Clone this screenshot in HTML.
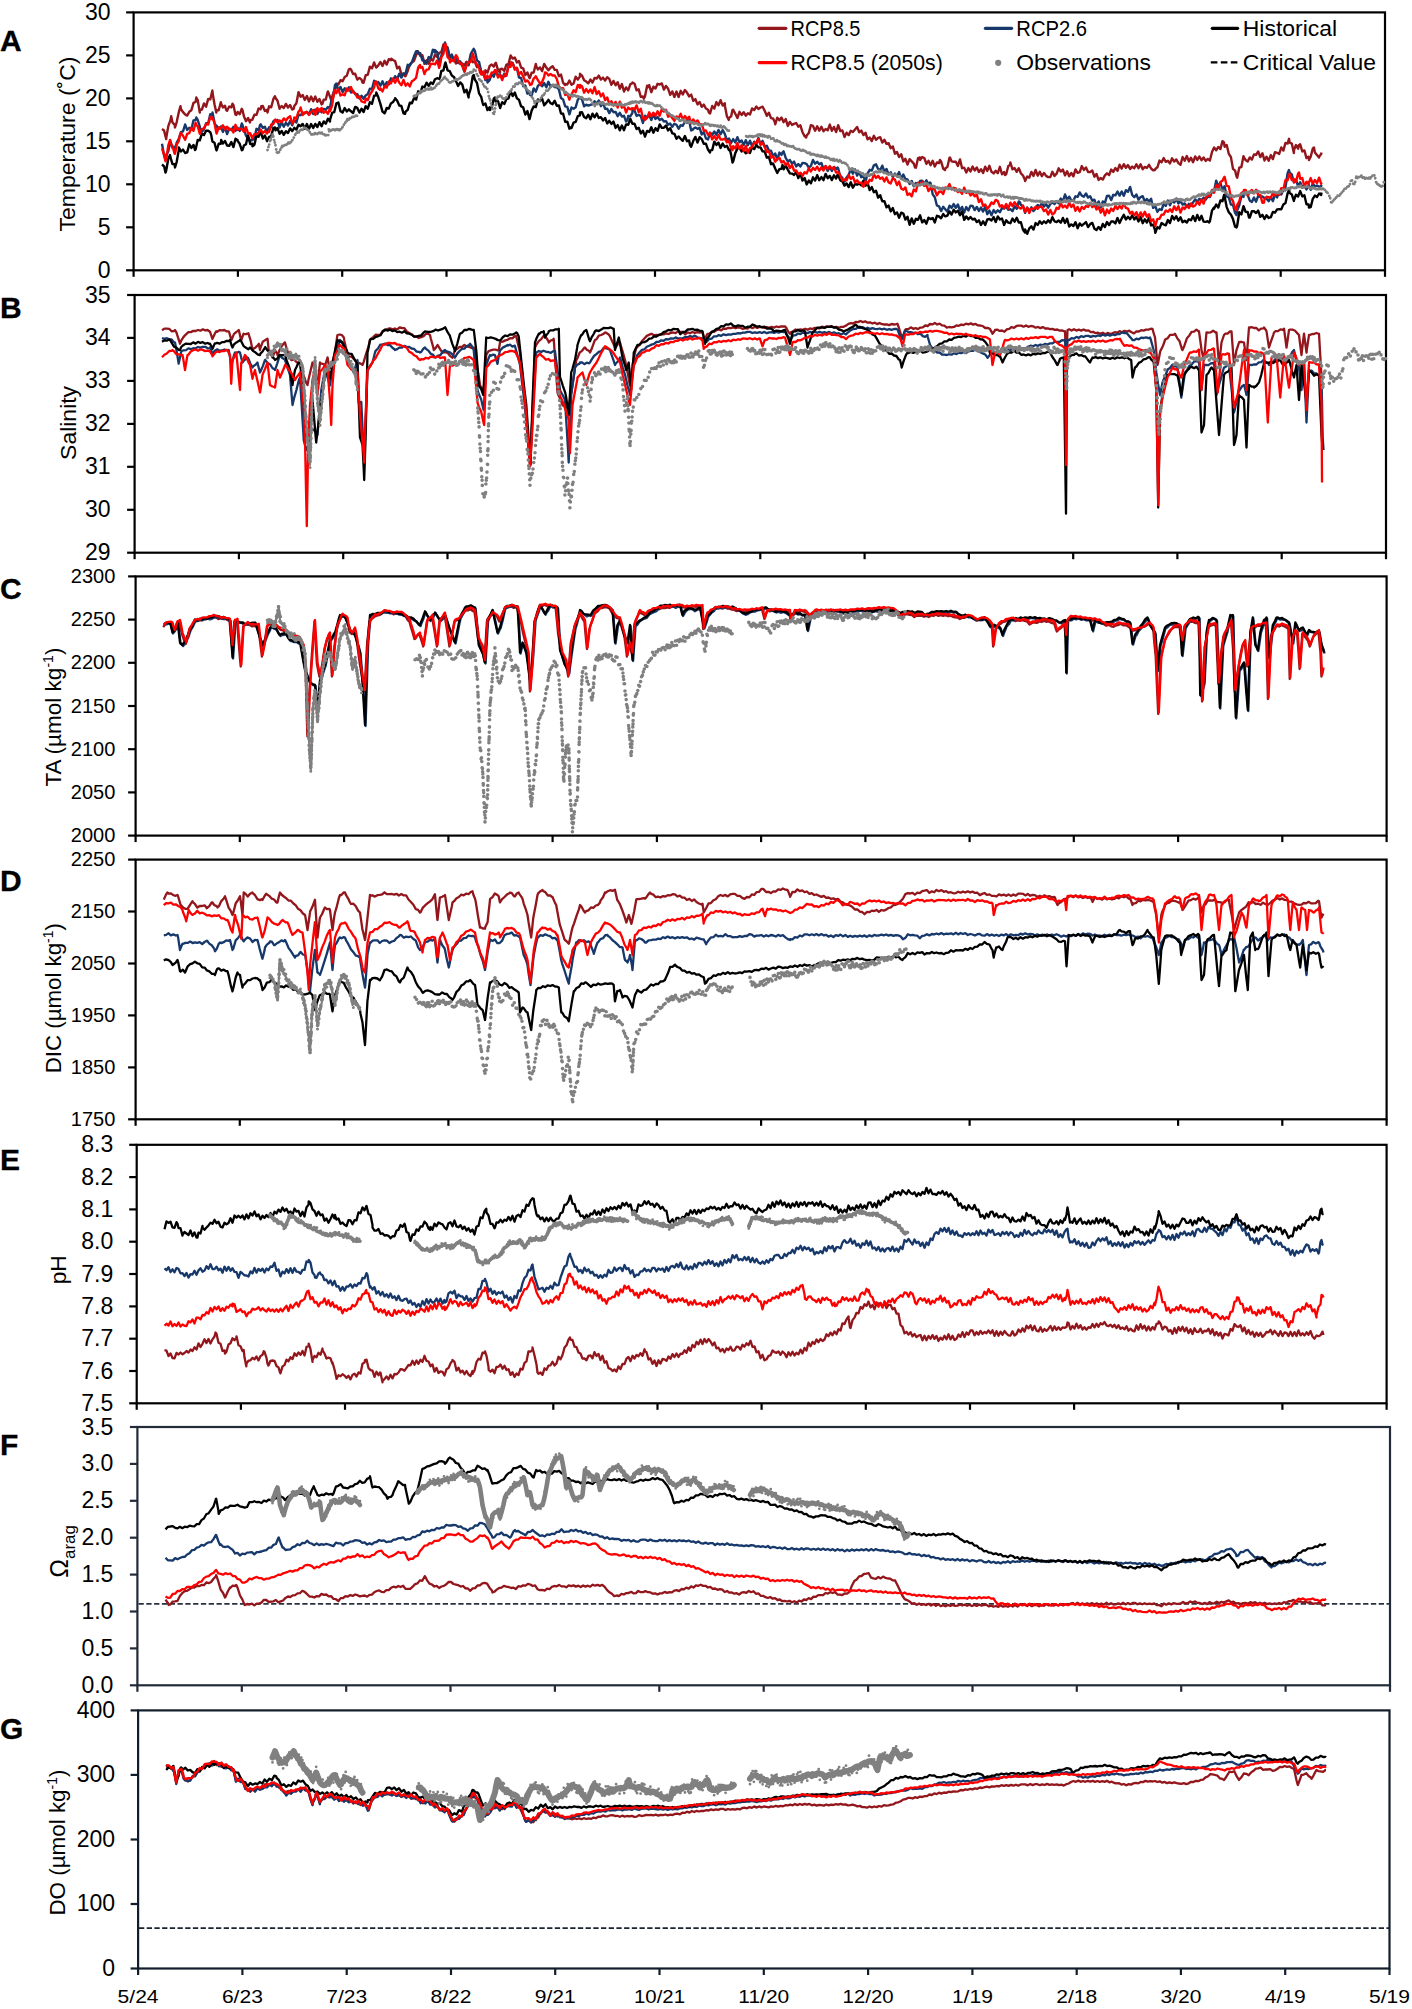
<!DOCTYPE html><html><head><meta charset="utf-8"><style>html,body{margin:0;padding:0;background:#fff;overflow:hidden}</style></head><body><svg width="1412" height="2009" viewBox="0 0 1412 2009" font-family='"Liberation Sans", sans-serif' style="display:block">
<rect width="1412" height="2009" fill="#fff"/>
<rect x="133.6" y="12.4" width="1251.4" height="257.9" fill="none" stroke="#000" stroke-width="2.2"/>
<line x1="126.1" y1="270.3" x2="133.6" y2="270.3" stroke="#000" stroke-width="2.2"/>
<text x="110.6" y="277.8" font-size="23" text-anchor="end" fill="#000">0</text>
<line x1="126.1" y1="227.3" x2="133.6" y2="227.3" stroke="#000" stroke-width="2.2"/>
<text x="110.6" y="234.8" font-size="23" text-anchor="end" fill="#000">5</text>
<line x1="126.1" y1="184.3" x2="133.6" y2="184.3" stroke="#000" stroke-width="2.2"/>
<text x="110.6" y="191.8" font-size="23" text-anchor="end" fill="#000">10</text>
<line x1="126.1" y1="141.3" x2="133.6" y2="141.3" stroke="#000" stroke-width="2.2"/>
<text x="110.6" y="148.8" font-size="23" text-anchor="end" fill="#000">15</text>
<line x1="126.1" y1="98.4" x2="133.6" y2="98.4" stroke="#000" stroke-width="2.2"/>
<text x="110.6" y="105.8" font-size="23" text-anchor="end" fill="#000">20</text>
<line x1="126.1" y1="55.4" x2="133.6" y2="55.4" stroke="#000" stroke-width="2.2"/>
<text x="110.6" y="62.9" font-size="23" text-anchor="end" fill="#000">25</text>
<line x1="126.1" y1="12.4" x2="133.6" y2="12.4" stroke="#000" stroke-width="2.2"/>
<text x="110.6" y="19.9" font-size="23" text-anchor="end" fill="#000">30</text>
<line x1="133.6" y1="270.3" x2="133.6" y2="276.8" stroke="#000" stroke-width="2.2"/>
<line x1="237.9" y1="270.3" x2="237.9" y2="276.8" stroke="#000" stroke-width="2.2"/>
<line x1="342.2" y1="270.3" x2="342.2" y2="276.8" stroke="#000" stroke-width="2.2"/>
<line x1="446.5" y1="270.3" x2="446.5" y2="276.8" stroke="#000" stroke-width="2.2"/>
<line x1="550.7" y1="270.3" x2="550.7" y2="276.8" stroke="#000" stroke-width="2.2"/>
<line x1="655.0" y1="270.3" x2="655.0" y2="276.8" stroke="#000" stroke-width="2.2"/>
<line x1="759.3" y1="270.3" x2="759.3" y2="276.8" stroke="#000" stroke-width="2.2"/>
<line x1="863.6" y1="270.3" x2="863.6" y2="276.8" stroke="#000" stroke-width="2.2"/>
<line x1="967.9" y1="270.3" x2="967.9" y2="276.8" stroke="#000" stroke-width="2.2"/>
<line x1="1072.2" y1="270.3" x2="1072.2" y2="276.8" stroke="#000" stroke-width="2.2"/>
<line x1="1176.4" y1="270.3" x2="1176.4" y2="276.8" stroke="#000" stroke-width="2.2"/>
<line x1="1280.7" y1="270.3" x2="1280.7" y2="276.8" stroke="#000" stroke-width="2.2"/>
<line x1="1385.0" y1="270.3" x2="1385.0" y2="276.8" stroke="#000" stroke-width="2.2"/>
<text x="0" y="50.9" font-size="30" font-weight="bold" fill="#000" stroke="#000" stroke-width="0.3">A</text>
<rect x="134.6" y="295.0" width="1251.4" height="257.7" fill="none" stroke="#000" stroke-width="2.2"/>
<line x1="127.1" y1="552.7" x2="134.6" y2="552.7" stroke="#000" stroke-width="2.2"/>
<text x="110.6" y="560.2" font-size="23" text-anchor="end" fill="#000">29</text>
<line x1="127.1" y1="509.8" x2="134.6" y2="509.8" stroke="#000" stroke-width="2.2"/>
<text x="110.6" y="517.2" font-size="23" text-anchor="end" fill="#000">30</text>
<line x1="127.1" y1="466.8" x2="134.6" y2="466.8" stroke="#000" stroke-width="2.2"/>
<text x="110.6" y="474.3" font-size="23" text-anchor="end" fill="#000">31</text>
<line x1="127.1" y1="423.9" x2="134.6" y2="423.9" stroke="#000" stroke-width="2.2"/>
<text x="110.6" y="431.3" font-size="23" text-anchor="end" fill="#000">32</text>
<line x1="127.1" y1="380.9" x2="134.6" y2="380.9" stroke="#000" stroke-width="2.2"/>
<text x="110.6" y="388.4" font-size="23" text-anchor="end" fill="#000">33</text>
<line x1="127.1" y1="337.9" x2="134.6" y2="337.9" stroke="#000" stroke-width="2.2"/>
<text x="110.6" y="345.4" font-size="23" text-anchor="end" fill="#000">34</text>
<line x1="127.1" y1="295.0" x2="134.6" y2="295.0" stroke="#000" stroke-width="2.2"/>
<text x="110.6" y="302.5" font-size="23" text-anchor="end" fill="#000">35</text>
<line x1="134.6" y1="552.7" x2="134.6" y2="559.2" stroke="#000" stroke-width="2.2"/>
<line x1="238.9" y1="552.7" x2="238.9" y2="559.2" stroke="#000" stroke-width="2.2"/>
<line x1="343.2" y1="552.7" x2="343.2" y2="559.2" stroke="#000" stroke-width="2.2"/>
<line x1="447.5" y1="552.7" x2="447.5" y2="559.2" stroke="#000" stroke-width="2.2"/>
<line x1="551.7" y1="552.7" x2="551.7" y2="559.2" stroke="#000" stroke-width="2.2"/>
<line x1="656.0" y1="552.7" x2="656.0" y2="559.2" stroke="#000" stroke-width="2.2"/>
<line x1="760.3" y1="552.7" x2="760.3" y2="559.2" stroke="#000" stroke-width="2.2"/>
<line x1="864.6" y1="552.7" x2="864.6" y2="559.2" stroke="#000" stroke-width="2.2"/>
<line x1="968.9" y1="552.7" x2="968.9" y2="559.2" stroke="#000" stroke-width="2.2"/>
<line x1="1073.2" y1="552.7" x2="1073.2" y2="559.2" stroke="#000" stroke-width="2.2"/>
<line x1="1177.4" y1="552.7" x2="1177.4" y2="559.2" stroke="#000" stroke-width="2.2"/>
<line x1="1281.7" y1="552.7" x2="1281.7" y2="559.2" stroke="#000" stroke-width="2.2"/>
<line x1="1386.0" y1="552.7" x2="1386.0" y2="559.2" stroke="#000" stroke-width="2.2"/>
<text x="0" y="317.9" font-size="30" font-weight="bold" fill="#000" stroke="#000" stroke-width="0.3">B</text>
<rect x="135.6" y="576.4" width="1251.0" height="259.2" fill="none" stroke="#000" stroke-width="2.2"/>
<line x1="128.1" y1="835.6" x2="135.6" y2="835.6" stroke="#000" stroke-width="2.2"/>
<text x="115.3" y="842.1" font-size="20" text-anchor="end" fill="#000">2000</text>
<line x1="128.1" y1="792.4" x2="135.6" y2="792.4" stroke="#000" stroke-width="2.2"/>
<text x="115.3" y="798.9" font-size="20" text-anchor="end" fill="#000">2050</text>
<line x1="128.1" y1="749.2" x2="135.6" y2="749.2" stroke="#000" stroke-width="2.2"/>
<text x="115.3" y="755.7" font-size="20" text-anchor="end" fill="#000">2100</text>
<line x1="128.1" y1="706.0" x2="135.6" y2="706.0" stroke="#000" stroke-width="2.2"/>
<text x="115.3" y="712.5" font-size="20" text-anchor="end" fill="#000">2150</text>
<line x1="128.1" y1="662.8" x2="135.6" y2="662.8" stroke="#000" stroke-width="2.2"/>
<text x="115.3" y="669.3" font-size="20" text-anchor="end" fill="#000">2200</text>
<line x1="128.1" y1="619.6" x2="135.6" y2="619.6" stroke="#000" stroke-width="2.2"/>
<text x="115.3" y="626.1" font-size="20" text-anchor="end" fill="#000">2250</text>
<line x1="128.1" y1="576.4" x2="135.6" y2="576.4" stroke="#000" stroke-width="2.2"/>
<text x="115.3" y="582.9" font-size="20" text-anchor="end" fill="#000">2300</text>
<line x1="135.6" y1="835.6" x2="135.6" y2="842.1" stroke="#000" stroke-width="2.2"/>
<line x1="239.8" y1="835.6" x2="239.8" y2="842.1" stroke="#000" stroke-width="2.2"/>
<line x1="344.1" y1="835.6" x2="344.1" y2="842.1" stroke="#000" stroke-width="2.2"/>
<line x1="448.4" y1="835.6" x2="448.4" y2="842.1" stroke="#000" stroke-width="2.2"/>
<line x1="552.6" y1="835.6" x2="552.6" y2="842.1" stroke="#000" stroke-width="2.2"/>
<line x1="656.9" y1="835.6" x2="656.9" y2="842.1" stroke="#000" stroke-width="2.2"/>
<line x1="761.1" y1="835.6" x2="761.1" y2="842.1" stroke="#000" stroke-width="2.2"/>
<line x1="865.4" y1="835.6" x2="865.4" y2="842.1" stroke="#000" stroke-width="2.2"/>
<line x1="969.6" y1="835.6" x2="969.6" y2="842.1" stroke="#000" stroke-width="2.2"/>
<line x1="1073.8" y1="835.6" x2="1073.8" y2="842.1" stroke="#000" stroke-width="2.2"/>
<line x1="1178.1" y1="835.6" x2="1178.1" y2="842.1" stroke="#000" stroke-width="2.2"/>
<line x1="1282.3" y1="835.6" x2="1282.3" y2="842.1" stroke="#000" stroke-width="2.2"/>
<line x1="1386.6" y1="835.6" x2="1386.6" y2="842.1" stroke="#000" stroke-width="2.2"/>
<text x="0" y="599.0" font-size="30" font-weight="bold" fill="#000" stroke="#000" stroke-width="0.3">C</text>
<rect x="135.6" y="859.6" width="1251.0" height="259.7" fill="none" stroke="#000" stroke-width="2.2"/>
<line x1="128.1" y1="1119.3" x2="135.6" y2="1119.3" stroke="#000" stroke-width="2.2"/>
<text x="115.3" y="1125.8" font-size="20" text-anchor="end" fill="#000">1750</text>
<line x1="128.1" y1="1067.4" x2="135.6" y2="1067.4" stroke="#000" stroke-width="2.2"/>
<text x="115.3" y="1073.9" font-size="20" text-anchor="end" fill="#000">1850</text>
<line x1="128.1" y1="1015.4" x2="135.6" y2="1015.4" stroke="#000" stroke-width="2.2"/>
<text x="115.3" y="1021.9" font-size="20" text-anchor="end" fill="#000">1950</text>
<line x1="128.1" y1="963.5" x2="135.6" y2="963.5" stroke="#000" stroke-width="2.2"/>
<text x="115.3" y="970.0" font-size="20" text-anchor="end" fill="#000">2050</text>
<line x1="128.1" y1="911.5" x2="135.6" y2="911.5" stroke="#000" stroke-width="2.2"/>
<text x="115.3" y="918.0" font-size="20" text-anchor="end" fill="#000">2150</text>
<line x1="128.1" y1="859.6" x2="135.6" y2="859.6" stroke="#000" stroke-width="2.2"/>
<text x="115.3" y="866.1" font-size="20" text-anchor="end" fill="#000">2250</text>
<line x1="135.6" y1="1119.3" x2="135.6" y2="1125.8" stroke="#000" stroke-width="2.2"/>
<line x1="239.8" y1="1119.3" x2="239.8" y2="1125.8" stroke="#000" stroke-width="2.2"/>
<line x1="344.1" y1="1119.3" x2="344.1" y2="1125.8" stroke="#000" stroke-width="2.2"/>
<line x1="448.4" y1="1119.3" x2="448.4" y2="1125.8" stroke="#000" stroke-width="2.2"/>
<line x1="552.6" y1="1119.3" x2="552.6" y2="1125.8" stroke="#000" stroke-width="2.2"/>
<line x1="656.9" y1="1119.3" x2="656.9" y2="1125.8" stroke="#000" stroke-width="2.2"/>
<line x1="761.1" y1="1119.3" x2="761.1" y2="1125.8" stroke="#000" stroke-width="2.2"/>
<line x1="865.4" y1="1119.3" x2="865.4" y2="1125.8" stroke="#000" stroke-width="2.2"/>
<line x1="969.6" y1="1119.3" x2="969.6" y2="1125.8" stroke="#000" stroke-width="2.2"/>
<line x1="1073.8" y1="1119.3" x2="1073.8" y2="1125.8" stroke="#000" stroke-width="2.2"/>
<line x1="1178.1" y1="1119.3" x2="1178.1" y2="1125.8" stroke="#000" stroke-width="2.2"/>
<line x1="1282.3" y1="1119.3" x2="1282.3" y2="1125.8" stroke="#000" stroke-width="2.2"/>
<line x1="1386.6" y1="1119.3" x2="1386.6" y2="1125.8" stroke="#000" stroke-width="2.2"/>
<text x="0" y="890.7" font-size="30" font-weight="bold" fill="#000" stroke="#000" stroke-width="0.3">D</text>
<rect x="136.7" y="1144.8" width="1249.9" height="258.5" fill="none" stroke="#000" stroke-width="2.2"/>
<line x1="129.2" y1="1403.3" x2="136.7" y2="1403.3" stroke="#000" stroke-width="2.2"/>
<text x="113.2" y="1410.8" font-size="23" text-anchor="end" fill="#000">7.5</text>
<line x1="129.2" y1="1371.0" x2="136.7" y2="1371.0" stroke="#000" stroke-width="2.2"/>
<text x="113.2" y="1378.5" font-size="23" text-anchor="end" fill="#000">7.6</text>
<line x1="129.2" y1="1338.7" x2="136.7" y2="1338.7" stroke="#000" stroke-width="2.2"/>
<text x="113.2" y="1346.1" font-size="23" text-anchor="end" fill="#000">7.7</text>
<line x1="129.2" y1="1306.4" x2="136.7" y2="1306.4" stroke="#000" stroke-width="2.2"/>
<text x="113.2" y="1313.8" font-size="23" text-anchor="end" fill="#000">7.8</text>
<line x1="129.2" y1="1274.0" x2="136.7" y2="1274.0" stroke="#000" stroke-width="2.2"/>
<text x="113.2" y="1281.5" font-size="23" text-anchor="end" fill="#000">7.9</text>
<line x1="129.2" y1="1241.7" x2="136.7" y2="1241.7" stroke="#000" stroke-width="2.2"/>
<text x="113.2" y="1249.2" font-size="23" text-anchor="end" fill="#000">8.0</text>
<line x1="129.2" y1="1209.4" x2="136.7" y2="1209.4" stroke="#000" stroke-width="2.2"/>
<text x="113.2" y="1216.9" font-size="23" text-anchor="end" fill="#000">8.1</text>
<line x1="129.2" y1="1177.1" x2="136.7" y2="1177.1" stroke="#000" stroke-width="2.2"/>
<text x="113.2" y="1184.6" font-size="23" text-anchor="end" fill="#000">8.2</text>
<line x1="129.2" y1="1144.8" x2="136.7" y2="1144.8" stroke="#000" stroke-width="2.2"/>
<text x="113.2" y="1152.3" font-size="23" text-anchor="end" fill="#000">8.3</text>
<line x1="136.7" y1="1403.3" x2="136.7" y2="1409.8" stroke="#000" stroke-width="2.2"/>
<line x1="240.9" y1="1403.3" x2="240.9" y2="1409.8" stroke="#000" stroke-width="2.2"/>
<line x1="345.0" y1="1403.3" x2="345.0" y2="1409.8" stroke="#000" stroke-width="2.2"/>
<line x1="449.2" y1="1403.3" x2="449.2" y2="1409.8" stroke="#000" stroke-width="2.2"/>
<line x1="553.3" y1="1403.3" x2="553.3" y2="1409.8" stroke="#000" stroke-width="2.2"/>
<line x1="657.5" y1="1403.3" x2="657.5" y2="1409.8" stroke="#000" stroke-width="2.2"/>
<line x1="761.6" y1="1403.3" x2="761.6" y2="1409.8" stroke="#000" stroke-width="2.2"/>
<line x1="865.8" y1="1403.3" x2="865.8" y2="1409.8" stroke="#000" stroke-width="2.2"/>
<line x1="970.0" y1="1403.3" x2="970.0" y2="1409.8" stroke="#000" stroke-width="2.2"/>
<line x1="1074.1" y1="1403.3" x2="1074.1" y2="1409.8" stroke="#000" stroke-width="2.2"/>
<line x1="1178.3" y1="1403.3" x2="1178.3" y2="1409.8" stroke="#000" stroke-width="2.2"/>
<line x1="1282.4" y1="1403.3" x2="1282.4" y2="1409.8" stroke="#000" stroke-width="2.2"/>
<line x1="1386.6" y1="1403.3" x2="1386.6" y2="1409.8" stroke="#000" stroke-width="2.2"/>
<text x="0" y="1169.9" font-size="30" font-weight="bold" fill="#000" stroke="#000" stroke-width="0.3">E</text>
<rect x="137.4" y="1427.0" width="1252.6" height="258.3" fill="none" stroke="#232b38" stroke-width="2.2"/>
<line x1="129.9" y1="1685.3" x2="137.4" y2="1685.3" stroke="#232b38" stroke-width="2.2"/>
<text x="113.4" y="1692.8" font-size="23" text-anchor="end" fill="#000">0.0</text>
<line x1="129.9" y1="1648.4" x2="137.4" y2="1648.4" stroke="#232b38" stroke-width="2.2"/>
<text x="113.4" y="1655.9" font-size="23" text-anchor="end" fill="#000">0.5</text>
<line x1="129.9" y1="1611.5" x2="137.4" y2="1611.5" stroke="#232b38" stroke-width="2.2"/>
<text x="113.4" y="1619.0" font-size="23" text-anchor="end" fill="#000">1.0</text>
<line x1="129.9" y1="1574.6" x2="137.4" y2="1574.6" stroke="#232b38" stroke-width="2.2"/>
<text x="113.4" y="1582.1" font-size="23" text-anchor="end" fill="#000">1.5</text>
<line x1="129.9" y1="1537.7" x2="137.4" y2="1537.7" stroke="#232b38" stroke-width="2.2"/>
<text x="113.4" y="1545.2" font-size="23" text-anchor="end" fill="#000">2.0</text>
<line x1="129.9" y1="1500.8" x2="137.4" y2="1500.8" stroke="#232b38" stroke-width="2.2"/>
<text x="113.4" y="1508.3" font-size="23" text-anchor="end" fill="#000">2.5</text>
<line x1="129.9" y1="1463.9" x2="137.4" y2="1463.9" stroke="#232b38" stroke-width="2.2"/>
<text x="113.4" y="1471.4" font-size="23" text-anchor="end" fill="#000">3.0</text>
<line x1="129.9" y1="1427.0" x2="137.4" y2="1427.0" stroke="#232b38" stroke-width="2.2"/>
<text x="113.4" y="1434.5" font-size="23" text-anchor="end" fill="#000">3.5</text>
<line x1="137.4" y1="1685.3" x2="137.4" y2="1691.8" stroke="#232b38" stroke-width="2.2"/>
<line x1="241.8" y1="1685.3" x2="241.8" y2="1691.8" stroke="#232b38" stroke-width="2.2"/>
<line x1="346.2" y1="1685.3" x2="346.2" y2="1691.8" stroke="#232b38" stroke-width="2.2"/>
<line x1="450.5" y1="1685.3" x2="450.5" y2="1691.8" stroke="#232b38" stroke-width="2.2"/>
<line x1="554.9" y1="1685.3" x2="554.9" y2="1691.8" stroke="#232b38" stroke-width="2.2"/>
<line x1="659.3" y1="1685.3" x2="659.3" y2="1691.8" stroke="#232b38" stroke-width="2.2"/>
<line x1="763.7" y1="1685.3" x2="763.7" y2="1691.8" stroke="#232b38" stroke-width="2.2"/>
<line x1="868.1" y1="1685.3" x2="868.1" y2="1691.8" stroke="#232b38" stroke-width="2.2"/>
<line x1="972.5" y1="1685.3" x2="972.5" y2="1691.8" stroke="#232b38" stroke-width="2.2"/>
<line x1="1076.8" y1="1685.3" x2="1076.8" y2="1691.8" stroke="#232b38" stroke-width="2.2"/>
<line x1="1181.2" y1="1685.3" x2="1181.2" y2="1691.8" stroke="#232b38" stroke-width="2.2"/>
<line x1="1285.6" y1="1685.3" x2="1285.6" y2="1691.8" stroke="#232b38" stroke-width="2.2"/>
<line x1="1390.0" y1="1685.3" x2="1390.0" y2="1691.8" stroke="#232b38" stroke-width="2.2"/>
<text x="0" y="1455.1" font-size="30" font-weight="bold" fill="#000" stroke="#000" stroke-width="0.3">F</text>
<rect x="138.1" y="1710.4" width="1251.4" height="258.1" fill="none" stroke="#121d2b" stroke-width="2.2"/>
<line x1="130.6" y1="1968.5" x2="138.1" y2="1968.5" stroke="#121d2b" stroke-width="2.2"/>
<text x="115.1" y="1976.0" font-size="23" text-anchor="end" fill="#000">0</text>
<line x1="130.6" y1="1904.0" x2="138.1" y2="1904.0" stroke="#121d2b" stroke-width="2.2"/>
<text x="115.1" y="1911.4" font-size="23" text-anchor="end" fill="#000">100</text>
<line x1="130.6" y1="1839.5" x2="138.1" y2="1839.5" stroke="#121d2b" stroke-width="2.2"/>
<text x="115.1" y="1846.9" font-size="23" text-anchor="end" fill="#000">200</text>
<line x1="130.6" y1="1774.9" x2="138.1" y2="1774.9" stroke="#121d2b" stroke-width="2.2"/>
<text x="115.1" y="1782.4" font-size="23" text-anchor="end" fill="#000">300</text>
<line x1="130.6" y1="1710.4" x2="138.1" y2="1710.4" stroke="#121d2b" stroke-width="2.2"/>
<text x="115.1" y="1717.9" font-size="23" text-anchor="end" fill="#000">400</text>
<line x1="138.1" y1="1968.5" x2="138.1" y2="1975.0" stroke="#121d2b" stroke-width="2.2"/>
<line x1="242.4" y1="1968.5" x2="242.4" y2="1975.0" stroke="#121d2b" stroke-width="2.2"/>
<line x1="346.7" y1="1968.5" x2="346.7" y2="1975.0" stroke="#121d2b" stroke-width="2.2"/>
<line x1="451.0" y1="1968.5" x2="451.0" y2="1975.0" stroke="#121d2b" stroke-width="2.2"/>
<line x1="555.2" y1="1968.5" x2="555.2" y2="1975.0" stroke="#121d2b" stroke-width="2.2"/>
<line x1="659.5" y1="1968.5" x2="659.5" y2="1975.0" stroke="#121d2b" stroke-width="2.2"/>
<line x1="763.8" y1="1968.5" x2="763.8" y2="1975.0" stroke="#121d2b" stroke-width="2.2"/>
<line x1="868.1" y1="1968.5" x2="868.1" y2="1975.0" stroke="#121d2b" stroke-width="2.2"/>
<line x1="972.4" y1="1968.5" x2="972.4" y2="1975.0" stroke="#121d2b" stroke-width="2.2"/>
<line x1="1076.7" y1="1968.5" x2="1076.7" y2="1975.0" stroke="#121d2b" stroke-width="2.2"/>
<line x1="1180.9" y1="1968.5" x2="1180.9" y2="1975.0" stroke="#121d2b" stroke-width="2.2"/>
<line x1="1285.2" y1="1968.5" x2="1285.2" y2="1975.0" stroke="#121d2b" stroke-width="2.2"/>
<line x1="1389.5" y1="1968.5" x2="1389.5" y2="1975.0" stroke="#121d2b" stroke-width="2.2"/>
<text x="0" y="1738.7" font-size="30" font-weight="bold" fill="#000" stroke="#000" stroke-width="0.3">G</text>
<text transform="translate(75.3,231.5) rotate(-90)" font-size="22.5" textLength="175" lengthAdjust="spacingAndGlyphs" fill="#000">Temperature (˚C)</text>
<text transform="translate(76.0,459.9) rotate(-90)" font-size="22.5" textLength="74" lengthAdjust="spacingAndGlyphs" fill="#000">Salinity</text>
<text transform="translate(60.5,786.6) rotate(-90)" font-size="22.5" textLength="139" lengthAdjust="spacingAndGlyphs" fill="#000">TA (µmol kg<tspan dy="-8" font-size="14">-1</tspan><tspan dy="8" font-size="22.5">)</tspan></text>
<text transform="translate(60.6,1073.2) rotate(-90)" font-size="22.5" textLength="150" lengthAdjust="spacingAndGlyphs" fill="#000">DIC (µmol kg<tspan dy="-8" font-size="14">-1</tspan><tspan dy="8" font-size="22.5">)</tspan></text>
<text transform="translate(65.7,1284.3) rotate(-90)" font-size="22.5" textLength="29" lengthAdjust="spacingAndGlyphs" fill="#000">pH</text>
<text transform="translate(68,1577.7) rotate(-90)" font-size="25" fill="#000">Ω<tspan dy="7" font-size="17">arag</tspan></text>
<text transform="translate(65.4,1915.6) rotate(-90)" font-size="22.5" textLength="146" lengthAdjust="spacingAndGlyphs" fill="#000">DO (µmol kg<tspan dy="-8" font-size="14">-1</tspan><tspan dy="8" font-size="22.5">)</tspan></text>
<text x="138.1" y="2003.3" font-size="18.5" text-anchor="middle" textLength="41" lengthAdjust="spacingAndGlyphs" fill="#000">5/24</text>
<text x="242.4" y="2003.3" font-size="18.5" text-anchor="middle" textLength="41" lengthAdjust="spacingAndGlyphs" fill="#000">6/23</text>
<text x="346.7" y="2003.3" font-size="18.5" text-anchor="middle" textLength="41" lengthAdjust="spacingAndGlyphs" fill="#000">7/23</text>
<text x="451.0" y="2003.3" font-size="18.5" text-anchor="middle" textLength="41" lengthAdjust="spacingAndGlyphs" fill="#000">8/22</text>
<text x="555.2" y="2003.3" font-size="18.5" text-anchor="middle" textLength="41" lengthAdjust="spacingAndGlyphs" fill="#000">9/21</text>
<text x="659.5" y="2003.3" font-size="18.5" text-anchor="middle" textLength="51" lengthAdjust="spacingAndGlyphs" fill="#000">10/21</text>
<text x="763.8" y="2003.3" font-size="18.5" text-anchor="middle" textLength="51" lengthAdjust="spacingAndGlyphs" fill="#000">11/20</text>
<text x="868.1" y="2003.3" font-size="18.5" text-anchor="middle" textLength="51" lengthAdjust="spacingAndGlyphs" fill="#000">12/20</text>
<text x="972.4" y="2003.3" font-size="18.5" text-anchor="middle" textLength="41" lengthAdjust="spacingAndGlyphs" fill="#000">1/19</text>
<text x="1076.7" y="2003.3" font-size="18.5" text-anchor="middle" textLength="41" lengthAdjust="spacingAndGlyphs" fill="#000">2/18</text>
<text x="1180.9" y="2003.3" font-size="18.5" text-anchor="middle" textLength="41" lengthAdjust="spacingAndGlyphs" fill="#000">3/20</text>
<text x="1285.2" y="2003.3" font-size="18.5" text-anchor="middle" textLength="41" lengthAdjust="spacingAndGlyphs" fill="#000">4/19</text>
<text x="1389.5" y="2003.3" font-size="18.5" text-anchor="middle" textLength="41" lengthAdjust="spacingAndGlyphs" fill="#000">5/19</text>
<line x1="759.2" y1="28.3" x2="785.8" y2="28.3" stroke="#92161b" stroke-width="3.2" stroke-linecap="round"/>
<line x1="759.2" y1="62.6" x2="785.8" y2="62.6" stroke="#ff0000" stroke-width="3.2" stroke-linecap="round"/>
<line x1="985.4" y1="28.3" x2="1011.6" y2="28.3" stroke="#16386a" stroke-width="3.2" stroke-linecap="round"/>
<circle cx="998.2" cy="62.8" r="3.1" fill="#808080"/>
<line x1="1212.3" y1="28.3" x2="1237.6" y2="28.3" stroke="#000" stroke-width="3.2" stroke-linecap="round"/>
<line x1="1210.8" y1="62.4" x2="1237.5" y2="62.4" stroke="#000" stroke-width="2.3" stroke-dasharray="6.6,3.4"/>
<text x="790.5" y="36.3" font-size="22.5" textLength="70" lengthAdjust="spacingAndGlyphs" fill="#000">RCP8.5</text>
<text x="790.5" y="70.3" font-size="22.5" textLength="152.2" lengthAdjust="spacingAndGlyphs" fill="#000">RCP8.5 (2050s)</text>
<text x="1016.3" y="36.3" font-size="22.5" textLength="70.8" lengthAdjust="spacingAndGlyphs" fill="#000">RCP2.6</text>
<text x="1016.3" y="70.3" font-size="22.5" textLength="134.6" lengthAdjust="spacingAndGlyphs" fill="#000">Observations</text>
<text x="1242.8" y="36.3" font-size="22.5" textLength="94.4" lengthAdjust="spacingAndGlyphs" fill="#000">Historical</text>
<text x="1242.8" y="70.3" font-size="22.5" textLength="133.1" lengthAdjust="spacingAndGlyphs" fill="#000">Critical Value</text>
<path d="M162.0 129.1l2.1 1.5l2.1 8.5l0.1-1.6l2-11.4l2.1-5.7l0.8-4.2l1.3 6.4l2.1 2l0.4 2.9l1.7-5.4l2.1-9.9l1.7-6l0.4 2.8l2.1 3.2l2.1 2.2l2.1 1.2l2.1-3.9l2.1-1.5l2.1-7.4l2.1-0.9l0.7-4.4l1.4 2.5l2.1 12.6l0.2-2.6l1.9-0.5l2.1-6l2.1 3.2l2.1-7.8l2.1 0.5l2.1-8.9l0.1 2l2 11.8l1.8 8.2l0.3-2.3l2.1 0l2.1-8l0.4 1.5l1.7 3.8l2.1-1.7l1.2 4.2l0.9 0.7l2.1-4.2l2.1 0.9l1.2-3.7l0.9 1.2l2.1 9.8l0.8 0.3l1.3-3.1l2.1 2.3l2.1-5.4l0.7 1.2l1.4 6.2l2.1 5l2.1-3.2l1.9 4.5l0.2-2.4l2.1-0.4l2.1-4.9l2.1-0l2.1-6.3l2.1 0.8l0.6-3l1.5-0.3l2.1 5l2.1-1.1l0.5 2.6l1.6-6.2l2.1 1l2.1-8.1l1.7-3l0.4 1.5l2.1 3l2.1 8.1l0.4-1.3l1.7-1.4l2.1 1.9l2.1-4.1l2.1 3.7l2.1-2.5l2.1 4.5l1.6-0.8l0.5-2.9l2.1-2.7l2.1-11l0.2 0.3l1.9 4.3l2.1-1.7l2.1 4.8l2.1-3.9l2.1 5.5l2.1-5l2.1 4.8l2.1-4.7l2.1 5.2l2.1-2.7l2.1 5.3l0.9-0.7l1.2-4l2.1-0.2l1.7-7l0.4-1.1l2.1 5.4l2.1 5.4l0.4-2.2l1.7-6.5l2.1-8.3l1.2-1.5l0.9 0.9l2.1-4.4l2.1 1l2.1-4.2l2.1-1.3l2.1-6.4l1.1-0.5l1 0.7l2.1 4.5l2.1-0.2l2.1 5.9l2.1-1.8l2.1 1.7l1 2.9l1.1 0.3l2.1-7.7l2.1-0.4l2.1-8.1l2.1 1.7l2.1-5.8l2.1 5.1l2.1-2.2l2.1-3.4l2.1 4l2.1-5.2l2.1 3.8l2.1-5.4l2.1 1l0.4-1.5l1.7 1.3l2.1 1.1l2.1 7.3l2.1-1.6l2.1 7.6l2.1-0.7l1.5 2.5l0.6-0.1l2.1-5.1l2.1-6.7l2.1-2l2.1-1.4l2.1-5.9l1.4-3.8l0.7 0.3l2.1 4.6l2.1-0.8l2.1 8.6l0.5-1.4l1.6-2.2l2.1 3.4l2.1-4.9l2.1 1.9l2.1-6l2.1 2.2l2.1-4l2.1-0.7l2.1-7.7l1.6 0.5l0.5 3.6l2.1-0.2l2.1 9.7l2.1-0.8l2.1 1.5l2.1 4.7l2.1-3l2.1 3.5l2.1-0.6l2.1 2.1l2.1-3.8l2.1 3.6l2.1-7l2.1 3.9l2.1-0.5l2.1 5.5l2.1-1.7l2.1 5.8l2.1 3.5l1.7-1l0.4-3.5l2.1 2.3l2.1-6.5l2.1-1.5l2.1 2.1l1.2-3l0.9-0.9l2.1 7.4l2 2.3l0.1-3.3l2.1-0.4l2.1 2.1l2.1-6.2l2.1-0.6l2.1-8.6l0.6 0.8l1.5 2.3l2.1-1.1l2.1 5l2.1-1.4l2.1 6.5l2.1 0.7l2.1 6.8l2.1-2.6l2.1 5.7l0.5-0.7l1.6-4.7l2.1-0.3l2.1-8.5l0.5 2.2l1.6 3.2l2.1-2l2.1 3.7l2.1-7.2l2.1 3.6l2.1 2.8l2.1-2.6l2.1-1.5l2.1 3.6l2.1 0.1l2.1 6.3l2.1-1.6l2.1 8.1l1.9 2.3l0.2-1.1l2.1 0.6l2.1-4l2.1 4.3l2.1-1.4l2.1-6.7l2.1 2.9l2.1-3l0.1-2.8l2 1.8l2.1 4.7l2.1 1.3l2.1 1.7l2.1-3.8l2.1 3.1l2.1-4.7l2.1 0.6l2.1-2.9l2.1 4l2.1-2l2.1 3l2.1-3.4l2.1 1.7l2.1 5.9l2.1-3.9l2.1 4.4l2.1-3l2.1 6.4l2.1-4.7l2.1 7.5l2.1-4.1l2.1 2.9l2.1-6l2.1-1.2l0.1-0.6l2 1.2l2.1 6.6l2.1-1l2.1 7.6l2.1-0.4l0.9 2.2l1.2-2.4l2.1-10.6l0.4 1.8l1.7-2.4l2.1 7.1l2.1-5.5l2.1 1.8l2.1-4.7l2.1 0.7l2.1-1.1l2.1 6.2l2.1-3.7l2.1 2.8l2.1 6.2l2.1-3.5l2.1 5.6l2.1-5.5l2.1 5.5l2.1-6.2l2.1 3.7l2.1-4.5l2.1 2.6l2.1 3.8l2.1-1.8l2.1 6.2l2.1-1.7l2.1 5.3l2.1-2.5l2.1 4.9l2.1-2.2l2.1 3.9l2.1 1.2l0.8 2.8l1.3 0.9l2.1-7.4l2.1 2.6l2.1-6.5l2.1 3.2l2.1-5.1l2.1 5.4l2.1-2.4l0.2 3l1.9 10l1.9 3.8l0.2-2l2.1-1.6l1.4-6.4l0.7-0.3l2.1 4.1l2.1 4.2l2.1-6.2l2.1 3.1l2.1-2.7l2.1 3.5l2.1-2.4l2.1 1.1l2.1-5.9l2.1 1.6l2.1-3.6l2.1 2.5l2.1-1.5l2.1-0.8l2.1 4l2.1 5.1l2.1-3l2.1 5.3l2.1 0.4l1.9 4l0.2 1.9l2.1-6.7l2.1 2.6l2.1-2.7l2.1 4.6l2.1-3.1l2.1 6.8l2.1-4l2.1 3l2.1-1l2.1-0.9l2.1 3.7l2.1-1.4l2.1 6.9l2.1 3.9l1.6 1.4l0.5-2l2.1-2.5l2.1-7.9l2.1 0.8l2.1 4.8l2.1-4.4l2.1 4.3l2.1-3.9l2.1 4.6l2.1-2.3l2.1 1.3l2.1-5.7l2.1 6.2l2.1-3.9l2.1 5.2l2.1-6.9l2.1 5.8l2.1-0.5l2.1 6.5l2.1-4.3l2.1 2.4l2.1-4.3l2.1 1.3l2.1-2.6l2.1-2.6l2.1 5.4l2.1-1.7l2.1 4.5l2.1-2.4l2.1 6.6l2.1-1.7l2.1 3.4l2.1-5.2l2.1 4l2.1-2l2.1-0.6l2.1 5.4l2.1-2.8l2.1 4.1l2.1-0.7l2.1 5l2.1-1.8l2.1 7.3l2.1-1.7l2.1 5.1l2.1-2.9l2.1 7.2l2.1-2.6l2.1 5.7l2.1-5.3l2.1 2.2l2.1 2.2l1.2 3.9l0.9 0.2l2.1-9.5l2-0.7l0.1 2.5l2.1-2.9l2.1 0.9l2.1 5.9l2.1-3.1l2.1 4.4l2.1-4.4l2.1 5.7l2.1-4l2.1 0.5l1-3l1.1 1.4l2.1 7.3l1.8 1.3l0.3-1.5l2.1-1.6l2.1-9.1l0.5-0.3l1.6 3.9l2.1 0.4l2.1-0.1l2.1 4.2l2.1-6.5l2.1 8.8l2.1-0.6l2.1 5l2.1-4.5l2.1 3.3l2.1-4.8l2.1 3.9l2.1-3.1l2.1 4.5l2.1-2.7l2.1 3.8l2.1-6.3l2.1 4.2l2.1-5.1l2.1 6l2.1 1.6l2.1-2.6l2.1 2.4l2.1-6.4l2.1 7.5l2.1-2.3l0.9 3l1.2-0.8l2.1-8.2l1.7-1l0.4-2.5l2.1 6.8l2.1-1.2l2.1 3.7l2.1-3.6l2.1 5.1l2.1 2.2l2 4.5l0.1 1.1l2.1-4.6l2.1 1.1l2.1-5.7l2.1 4l2.1-5.9l2.1 5.7l2.1-4l2.1 4.5l2.1-3.3l2.1 3l2.1 1.2l2.1-0l2.1-5.3l2.1 4.1l2.1-2.2l2.1-5.4l2.1 3.3l2.1-2l2.1 5.8l2.1-4.2l2.1 5l2.1-3.2l2.1 3.3l2.1-6.9l2.1 3.4l2.1-0.7l2.1-6l2.1 3.8l2.1-2.5l2.1 4.6l2.1 0.1l2.1-1.5l2.1 6.1l2.1-2.8l2.1 6l2.1-1.9l2.1 1.6l2.1-4.2l2.1-2.1l2.1 1.8l2.1-5.6l2.1 2.4l2.1-3.9l2.1 2.9l2.1-6.2l2.1 3.9l2.1-4.4l2.1 3.6l2.1-2.7l2.1 3.8l2.1-2.3l2.1 1.6l2.1-3.9l2.1 3.9l2.1-4l2.1 5.1l2.1-2.4l2.1 1l2.1-3.1l2.1 3.7l2.1 1.9l1.8-0.4l0.3-1l2.1-1.7l2.1-6.7l2.1 1.7l2.1-4.2l2.1 3.7l2.1-1l2.1 2.6l2.1-5.1l2.1 3.3l2.1-2.2l2.1 3.7l2.1 1.6l2.1-7.7l2.1 3.7l2.1-4.7l2.1 5.4l2.1-3.7l2.1 4.5l2.1-5.7l2.1 3.4l2.1-3.4l2.1 3.7l2.1-2.8l2.1 3.6l2.1-2.1l2.1 1.6l2.1-8.5l2.1-4.5l2.1 2.8l2.1-3.4l2.1 2.2l2.1-8l1.5 1.4l0.6 4.2l2.1-1.7l2.1 8.8l2.1 3.2l2.1 11.9l2.1 1.7l1.4 5.7l0.7 1.4l2.1-10l2.1-0.7l2.1-10.9l0.5 1.4l1.6 2.5l2.1 1.5l2.1-4.1l2.1 2.2l2.1-5.2l2.1 0.4l2.1-3.4l2.1 5.7l2.1-3.9l2.1 7.3l2.1-3.8l2.1 4.1l2.1-5.7l2.1 4l2.1-6.9l2.1 0.6l2.1 1.1l2.1-6.5l2.1 3.2l2.1-7.7l2.1 0.7l1.4-4.8l0.7 3.8l2.1 1l2.1 9.4l0.1-3l2-5l2.1 3.7l0.9-3.7l1.2-0.7l2.1 7.1l2.1-1l2.1 7.7l2.1-1.4l0.4 3.3l1.7-3.2l2.1-8.3l1.2-1l0.9 4.9l2.1 2.7l2 2.4l0.1-0.8l2.1-2.6l0.3-1.6" fill="none" stroke="#92161b" stroke-width="2.4" stroke-linejoin="round"/>
<path d="M162.0 143.8l2.1 11.7l1.4 4.5l0.7-5.1l2.1-3.6l1.7-8.8l0.4-1.5l2.1 7l2.1-1.1l0.4 3.1l1.7-7.5l2.1-3.6l2.1-6.8l2.1-0.7l2.1-6.9l2.1 5.5l2.1-2.2l1.9 1l0.2 0.5l2.1-8.9l2.1-0.4l0.7-2.5l1.4 2.3l2.1 6.8l0.2 3.4l1.9 1.7l2.1-2.3l2.1-6.1l2.1-0.3l2.1-8.9l2.1 1.6l0.1-3.2l2 10.1l1.8 4.9l0.3-1.9l2.1 3.3l2.1-2.4l2.1 5.4l2.1-4.6l2.1 6.8l2.1-5.6l2.1 1.6l2.1-3.3l2.1 4l2.1-3l2.1 3.1l2.1-7.4l0.7 1.5l1.4 4.6l2.1 6.1l2.1 3.2l2.1 2.5l2.1-3l0.2 1.6l1.9-1.4l2.1-9.8l2.1 1.5l1.4-5.3l0.7-0.7l2.1 3.6l2.1-1.2l2.1 6.2l0.5-2.9l1.6-2.7l2.1-0l2.1-5.8l1.7-1.5l0.4 1l2.1-1.1l2.1 7.7l2.1-5.5l2.1 4.7l2.1-4.1l2.1 2.9l2.1-4.6l2.1 4.3l2.1-5.4l2.1 2.6l2.1-7.9l2.1 0.6l2.1-2.4l2.1 0.4l2.1-1.5l2.1 2.7l2.1-5.2l2.1 4.9l2.1-4.5l2.1 4.4l2.1-4.5l2.1 2.7l2.1-3.2l2.1 0.7l2.1-2.7l2.1 1.5l0-1l2.1-10.6l2.1-6.5l0.8-5.4l1.3-1.4l2.1 6.7l2.1-3.3l2.1 5.1l2.1-3.8l2.1 2.7l2.1-3.7l2.1 5.3l2.1-1.8l2.1 3.2l2.1 0.1l2.1 4.4l2.1-2.7l2.1 2.9l2.1-3.3l2.1-1.4l2.1-5.4l2.1 0.5l2.1-8.4l0.9 0.5l1.2 2.7l2.1-1.8l2.1 3.6l2.1-4.4l2.1 5.4l2.1-4.5l2.1 2.1l2.1-6l2.1 2.3l2.1-4.4l2.1 2.8l2.1-5.3l2.1 3.9l2.1-4.2l2.1 0.1l2.1-8.7l2.1 0.8l2.1-3.4l2.1-5.9l2.1-5l1.4-0l0.7 2.3l2.1-0.5l2.1 7.2l2.1 0.6l0.5 1.6l1.6 1.2l2.1-6.6l2.1 0.7l2.1-8.2l2.1 2.9l0-2.5l2.1 2l2.1 10.6l0.8-0.1l1.3-6.9l2.1-4.5l1.6-8.6l0.5 3.2l2.1 1.7l2.1 10l2.1-3l2.1 5.8l2.1-3.8l2.1 6.6l2.1-1.8l2.1 4.7l2.1 5.8l0.6-1.7l1.5-6.4l2.1 0.8l2.1-10.4l2.1-3.7l0.9-1.5l1.2 2.3l2.1 9.5l2.1 1.4l2.1 10.1l2.1 0.8l2.1 7.2l2.1-0.8l0 3.2l2.1-2.3l2.1-6.1l2.1 2.6l2.1-6.1l2.1 4.6l2.1-0.7l2.1 3.7l2.1-4.7l0.7 2.8l1.4-1.5l2.1-9l2.1-0.9l0.6-2.4l1.5 0.5l2.1 5.7l2.1-0.4l2.1 9.2l2.1 0.5l2.1 8.2l2.1-0.7l2.1 8.1l2.1-1.7l0.5 3.1l1.6 0.7l2.1-7.3l2.1 3.3l2.1-5.9l2.1-1.8l2.1 2.3l2.1-3.3l2.1 4.3l2.1-5.5l2.1 4.8l2.1-1.7l2.1 2.2l2.1 0.1l2.1 2.2l2.1 8.7l2.1 1.4l2.1 6.8l2.1 0.6l2.1 7.4l0.6-1.8l1.5-5l2.1 1.2l2.1-1.4l2.1-7.5l2.1-2.3l2.1 1.9l2.1 6.9l2.1-1.6l2.1 0.9l2.1-0.8l2.1-0.4l2.1-3.2l2.1 2.6l2.1-3.3l2.1 5.7l2.1-3.5l2.1 6.2l2.1-0.1l2.1 4.3l2.1-4l2.1 3.1l2.1-0.3l2.1 4.3l2.1-3.4l2.1 3.7l2.1-0.7l2.1 5.7l1.4-1.5l0.7-4.1l2.1 0.5l2.1-3.6l0.1-2.8l2 0.4l2.1 5.5l2.1-1.1l2.1 1.4l2.1 6.7l2.1-7.2l2.1 1.7l2.1-2.3l2.1 4.9l2.1-5.6l2.1 4.5l2.1-1.9l2.1 3.1l2.1-1.4l2.1 2.8l2.1-0.4l2.1 3.7l2.1-1.2l2.1 3.2l2.1-3.1l2.1 1.1l2.1 4l2.1-3.7l2.1 0.7l2.1-4.3l2.1 1.2l0.5-2.7l1.6 0.7l2.1 9.8l1.3-0.5l0.8-1.2l2.1-1.3l2.1 1.3l2.1-0.9l2.1 6.5l2.1-2.4l2.1 6.5l2.1 1l2.1-6.9l2.1 2.2l2.1-3.3l2.1 3.3l2.1-4.9l2.1 4.4l2.1-4.2l2.1 3.7l2.1 6.3l2.1-1.6l2.1 4.3l2.1-3.7l2.1 3.3l2.1-5.2l2.1 5.1l2.1-1.9l2.1 4.6l2.1-4.8l2.1 5l2.1-4.5l2.1 5.5l2.1-4.5l2.1 2.6l2.1-6.5l2.1 6.4l2.1-3.4l2.1 5.7l2.1-0.7l2.1 4.8l2.1 0l2.1 5.7l2.1-2.9l2.1 6.2l2.1-7l2.1 2.3l1-2.4l1.1-1.2l2.1 6.5l2.1 3.7l2.1-1.5l2.1 3.7l2.1-2.1l2.1 4.9l2.1-2.4l2.1 2.4l2.1-3.6l2.1 0.2l2.1 1l2.1 3.5l2.1-1.8l2.1-5.8l2.1 3.7l2.1-1.9l2.1 2.5l2.1-1.4l2.1 6.3l2.1-2.9l2.1 4.7l2.1-4.1l2.1 4l2.1-4l2.1 2.2l1.4-1.6l0.7 1l2.1 8l2.1 1.1l0.1 2.4l2 1.6l2.1-4.2l2.1-2.6l2.1-5.8l2.1 4.7l2.1-4.3l2.1 6.2l2.1-3.4l2.1 5l2.1-1.1l1.6 3.9l0.5 2.1l2.1-8.7l2.1-3.6l2.1 0.8l2.1-5.3l2.1-1l2.1 4.6l2.1 1.1l2.1-4.3l2.1 6l2.1-2.7l2.1 5.5l2.1-2.3l2.1 4.9l2.1-3.5l2.1 2.6l2.1-4.2l2.1 6.6l2.1-4.1l2.1 4.5l2.1 0.5l2.1 4.5l2.1-3l2.1 5.3l2.1-3.4l2.1 2.3l2.1-4.2l2.1-0.4l2.1 3.6l2.1-4l2.1 4.5l1.5-2.2l0.6 0.6l2.1 11.3l2.1 2.8l2.1 8.3l2.1 0.8l2.1 4.8l2.1-4.3l2.1 2.5l2.1 2.4l2.1-6l2.1 2.2l2.1-3.8l2.1 3.7l2.1-3.3l2.1 6.2l2.1-3.8l2.1 5.7l2.1-5.6l2.1 3.5l2.1-4.8l2.1 0.2l2.1 4.2l2.1-3.2l2.1 4l2.1-3.3l2.1 4l2.1-4.8l2.1 7.4l2.1-3.6l2.1 4.6l2.1-5.1l2.1 2.7l2.1-2.5l2.1 1.9l2.1-4.2l2.1 0.7l2.1-2.2l2.1 3.4l2.1-0.7l2.1 2l2.1-4.9l2.1 2.5l2.1-7.4l1.2 1.1l0.9 2.5l2.1 1l2.1 6.8l2.1-5.3l2.1 3.8l2.1-4.1l2.1 3.9l2.1-2.7l2.1-3.4l2.1 1.3l2.1-3.2l2.1 3.5l2.1-2.6l2.1 3.7l2.1-3.6l2.1-1.7l2.1 1.7l2.1-2.9l2.1 2.1l2.1-4.7l2.1 2.8l2.1-6.9l2.1 5.1l2.1-2.9l2.1 3.6l2.1 0.4l2.1-4.4l2.1 0.6l2.1-4.5l2.1 3.2l2.1 1.1l2.1-3.3l2.1 4.2l2.1-1.3l2.1 4.4l2.1-1l2.1 6.3l2.1-4.6l2.1 6l2.1-6l2.1 1.4l2.1-6.9l2.1-0.2l2.1 4.4l2.1-5.3l2.1 0.6l2.1-3.9l2.1 4.1l2.1-4l2.1 4.1l2.1-5.5l2.1 1.5l2.1-4.8l2.1 8.1l2.1 2.2l2.1-2.8l2.1 5.3l2.1-2.6l2.1-0.9l2.1 5.1l2.1-2.3l2.1 2.6l2.1-2.8l2.1 9.1l2.1-1.7l2.1 5.7l2.1-2.8l2.1 0.9l2.1-6.3l2.1 2.1l2.1-5.3l2.1 4.8l2.1-4.8l2.1 2.1l2.1-4l2.1 5l2.1-2.6l2.1 3.6l2.1-1.2l2.1 3.7l2.1-3.3l2.1 2.1l2.1-3.5l2.1-3.1l2.1 2.6l2.1-3.2l2.1 1.8l2.1-2.9l2.1 2.1l2.1-3.2l2.1 0.6l2.1-5.3l2.1-1l2.1-10.2l2.1 5.4l2.1-3.2l2.1 7.2l2.1-3.8l2.1 10.2l2.1 1l2.1 7.1l2.1 0.4l2.1 8l1.4 2.1l0.7-4.6l2.1-5.2l2.1-9l2.1 0.8l0.5-4.5l1.6-0.8l2.1 3.4l2.1 5.6l2.1 1.2l2.1-4.3l2.1 4.1l2.1-5.9l2.1 1l2.1-0.3l2.1 1.4l2.1 0.9l2.1 2.4l2.1-4.3l2.1 4.2l2.1-6.8l2.1 3.1l2.1-5.8l2.1 2.9l2.1-4.5l0.6 0l1.5-2.8l2.1-14l1.4-3.2l0.7 2.8l2.1 1.7l2.1 7.7l2.1-2.6l2.1 6.8l2.1-4.1l2.1 5.5l2.1-3.2l2.1 4.9l2.1-4.8l2.1 5.1l2.1-6.3l2.1 2.9l2.1-0.9l2.1 1.3l2.1-0.6l0.3-1.2" fill="none" stroke="#16386a" stroke-width="2.4" stroke-linejoin="round"/>
<path d="M162.0 164.5l2.1 1.8l1.4 6.2l0.7-2l2.1-11.7l1.7-3.8l0.4 2.2l2.1 6.9l2.1 0.1l0.4 3.3l1.7-5.7l2.1-11.8l0-2.6l2.1 4.1l2.1-2l2.1 3.5l2.1-0.6l2.1-8.1l2.1 3.6l2.1-3l1.5 5.1l0.6-0.6l2.1-9.4l2.1 0.3l2.1-6.6l2.1 1.3l2.1-4.2l2.1-0.1l2.1 1.5l0.9 2.8l1.2 6.4l2.1 1.3l1.8 7.3l0.3 0.4l2.1-6.6l2.1-0l0.4-3.8l1.7 3.6l2.1-2.6l2.1 4.5l2.1 0.4l2.1-3.9l2.1 5.1l2.1-8.4l2 1.3l0.1 0.9l2.1 2.9l2.1 6.4l0.7-0.2l1.4-4.4l2.1-1.4l1.5-6.7l0.6-2.1l2.1 8.6l2.1-0.4l0.2 2.7l1.9-1.5l2.1-9l2.1 1l1.4-4.3l0.7-0.5l2.1 6.5l2.1-3.1l2.1 5.8l0.5-1.2l1.6-3.2l2.1-0.7l2.1-8l1.7-0.6l0.4 2.9l2.1-2.3l2.1 5.7l2.1-2.8l2.1 3.8l2.1-3.6l2.1 1.8l2.1-4.6l2.1 2.7l2.1-3.3l2.1 1.9l2.1-4.9l2.1 1.5l2.1-2.4l2.1 4.9l2.1-4.8l2.1 5.1l2.1-5.1l2.1 4l2.1-4.1l2.1 3.1l2.1-4.8l2.1 4.1l2.1-4.9l2.1 2.3l2.1-5l2.1 2.8l0-1.5l2.1-7.1l2.1-0.7l2.1-8.5l0-0.4l2.1-0.7l2.1 8.6l2.1 1.4l2.1-4.6l2.1 3.5l2.1-2.2l2.1 2l2.1 1.7l2.1-6.1l2.1 1l2.1 4.7l2.1-3.9l2.1 3.3l2.1-5.8l2.1 2.5l2.1-6.5l2.1 1.5l2.1-7.9l2.1-0.4l0.1-2.9l2 4.8l2.1 6.6l2.1 7.7l2.1 1.7l0.4-0.8l1.7-4.5l2.1 0.6l2.1-5.2l2.1-1.3l2-3.3l0.1-0.6l2.1 2.6l2.1 4.7l2.1 0.5l2.1 7.3l1.5 0.5l0.6-2.1l2.1-1.8l2.1-7.1l2.1 0.4l2.1-5.1l2.1 1.5l2.1-8.3l2.1 1.7l2.1-6.4l2.1 0.7l2.1-4.6l2.1 3.1l2.1-3.4l2.1 1.5l2.1-4.6l2.1-1.1l2.1 0.7l0.8-1.4l1.3-6.6l2.1-0.4l1.6-6.8l0.5-1.2l2.1 7.9l2.1 0.7l2.1 4.4l2.1 1.4l2.1 4.2l2.1 4.9l2.1-3.6l2.1 2.2l2.1 7.8l2.1-2.6l2.1 7.6l0.1-2.4l2-6.4l2.1-12.6l0.9-1l1.2 4.6l2.1 3.4l2.1 10.4l2.1 3.4l1.3 5.7l0.8 2.5l2.1-1.5l2.1 6.6l2.1-2.9l0.4 2.8l1.7-1.9l2.1-9.5l1.2-1.1l0.9 4.4l2.1-0.7l2.1 6.8l2.1-5.8l2.1 1.7l2.1-4.7l2.1-0.9l2.1-7.2l0.6 1.4l1.5 3.6l2.1-3.6l2.1 5.8l2.1 1.6l2.1 6.4l2.1 1.1l2.1 7.1l2.1-3.4l2.1 8l0.5-1.6l1.6-6.8l2.1-4.3l2.1 0.7l2.1-7.6l2.1 1.6l2.1-2.6l2.1 6.8l2.1-2.4l2.1-3.1l2.1 3.4l2.1 1l2.1-3.5l2.1 5.2l2.1-0.4l2.1 8l2.1 0.3l2.1 7.9l2.1-0.1l2.1 7.1l0.6-1.2l1.5 0.5l2.1-5.4l2.1-0.7l2.1-5.8l2.1-0.7l0.1-2.9l2-0.3l2.1 4.7l2.1 1.3l2.1-3.5l2.1 4.5l2.1-5.5l2.1 3.6l2.1-3.8l2.1 4.4l2.1-0.8l2.1 3.3l2.1-2.5l2.1 5.5l2.1-2.6l2.1 3.1l2.1-2.3l2.1 6.3l2.1-2.8l2.1 5.2l2.1-4.7l2.1 4.6l2.1-5.8l2.1 0.3l1.8-4.7l0.3-1.2l2.1 4.9l2.1-0l2.1 5.4l2.1-1.4l2.1 5.7l2.1-2.7l2.1 5.9l2.1-5.7l2.1 1l2.1-4.6l2.1 5.4l2.1-4.5l2.1 2.6l2.1-6.4l2.1 3.5l2.1-0.2l2.1-2.2l2.1 5l2.1-2.3l2.1 5.1l2.1 0.5l2.1 5l2.1-2.3l2.1 2.3l2.1 2l2.1-4.8l2.1 5.2l2.1-0.7l0.9 4.5l1.2 1.7l2.1-5.9l2.1-3.9l2.1 5.7l2.1-5.4l2.1 1.9l2.1 4.7l2.1-0.1l2.1 5.9l2 2.9l0.1-2.1l2.1-0.3l2.1-8.5l0.7 0.9l1.4 2.5l2.1-2.4l2.1 5.4l2.1-4.5l2.1 3.5l2.1-1.2l2.1 4.3l1-0.1l1.1 4.6l1.4 7.9l0.7-1.1l2.1-8.3l2.1-4.3l0.1-1.3l2 0.2l2.1 3.7l2.1-1.4l2.1 3.3l2.1-1.6l2.1 1.2l2.1-5.9l2.1 2.1l2.1-3.9l2.1 2.2l2.1-0l2.1 4l2.1 0.1l2.1 6.1l2.1-0.8l2.1 7.4l2.1-0.7l2.1 5l2.1 4.4l0.2-0.4l1.9-3.4l2.1-0.3l1-3.8l1.1 4.3l2.1-3.8l2.1 4.1l2.1 3.8l2.1 0.2l2.1 1.3l2.1-3l2.1 6.1l2.1-4.4l2.1 7l2.1-2.7l2.1 6.5l2.1-3.8l2.1 2.7l2.1-6l2.1 3.3l2.1-5.4l2.1 5l2.1-3.1l2.1 3.1l2.1-6.3l2.1 4.3l2.1-2.3l2.1 4.2l2.1-4.8l2.1 3.2l1.4-3.5l0.7 0.3l2.1 5.1l2.1 1l2.1 4.2l2.1-2.2l2.1 3.7l2.1-4.8l2.1 5.4l2.1-3.7l2.1 0.7l2.1-1.2l2.1 2l2.1-4.8l2.1 5.1l2.1-3l2.1 7.3l2.1-3l2.1 5.1l2.1-1.5l2.1 6.9l2.1-2.4l2.1 6.1l2.1-0.1l2.1 6.1l2.1-1.7l2.1 5.8l2.1-3.3l2.1 6.1l2.1-1.8l2.1 5.3l2.1-5l2.1 0.8l2.1 6.1l2.1-2.8l2.1 8l2.1-6.4l2.1 5.3l2.1-4.9l2.1 1l2.1-4.5l2.1 7l2.1-2.2l2.1 3.6l2.1-6l2.1 1.4l2.1-1l2.1 4.4l2.1-6.7l2.1 0.7l2.1 1.8l2.1-4.4l2.1 2.5l2.1-0.8l2.1-4.2l2.1 3.1l2.1-4.7l2.1 2.6l2.1-1.6l2.1 4.4l2.1-3.8l2.1 8.5l2.1-3.4l2.1 2.7l2.1-2.1l2.1 2.5l2.1-0.9l2.1 3.4l2.1-1.8l2.1 4.6l2.1-3.6l2.1 3.7l2.1-5.6l2.1-0.4l2.1 1.5l2.1-3.5l2.1 5l2.1-5.6l2.1 3.1l2.1-1l2.1 6.4l2.1-4.6l2.1 2.3l2.1 0.6l2.1-4.6l2.1 3.1l2.1-4l2.1 4.8l2.1-0.2l2.1 7.5l2 2.7l0.1-3.1l2.1 4.4l2.1-5.4l2.1-2.1l2.1 3.3l2.1-6.5l2.1 1.8l2.1-3.7l2.1 2.6l2.1-2.5l2.1 1.8l2.1-2.9l2.1 2.4l2.1-5.4l2.1 4.1l2.1 0.7l2.1-1.4l2.1 2.1l2.1-4.8l2.1 5.1l2.1-4.2l2.1 7.7l2.1-2.1l2.1 1.6l2.1-3.8l2.1 6l2.1-4.8l2.1 2.3l2.1-1.8l2.1-1.8l2.1 5l2.1-3l2.1-1.2l2.1 5.8l2.1 1.3l2.1-3.1l2.1 2.8l2.1-5.7l2.1 3.1l2.1-5.1l2.1 3.1l2.1-3.6l2.1 0l2.1 1.9l2.1-5.4l2.1 5.1l2.1-4.5l2.1-3.8l2.1 4.7l2.1-2.8l2.1 2.5l2.1-3.9l2.1 4.1l2.1-2.6l2.1 4.6l2.1-4.3l2.1 6.1l2.1-4l2.1 3.3l2.1-4.8l2.1 7.7l2.1-0.8l1.8 5.4l0.3 2.8l2.1-5.7l2.1 1.3l2.1-5.4l2.1 1.5l2.1 0.8l2.1-5.3l2.1 3l2.1-7l2.1 3.4l2.1-3.2l2.1 4.5l2.1-3.4l2.1 4.9l2.1-1.4l2.1 1.7l2.1-3.3l2.1 1.1l2.1-4.2l2.1 5l2.1-6.2l2.1 5.2l2.1-4.3l2.1 5.8l2.1 0.3l2.1-0.7l1.2 1.3l0.9-1.2l2.1-10.6l2-3.2l0.1 1.2l2.1-4.2l2.1 3.1l2.1-7.1l2.1 0.7l1.5-6.2l0.6 1.4l2.1 10.7l2.1 5.2l2.1 2.3l2.1 4.5l2.1 7.7l1.4 0.7l0.7-1.9l2.1-13.3l2.1 2.2l2.1-8.4l0.5 1.4l1.6 4.3l2.1 0.2l1.3 5.5l0.8 0.1l2.1-6.4l2.1 0.1l2.1 1.7l2.1-2.4l2.1 6.2l2.1-2l2.1 4.2l2.1-3.8l2.1 2.8l2.1-0.8l2.1-5.2l2.1 0.6l2.1-3.2l2.1-0.3l2.1 0.2l2.1-4.9l2.1-1.5l2.1-9.5l1.4-3.4l0.7 3.1l2.1 1.3l2.1 6.5l0.1-0.9l2-5.2l2.1 1.7l2.1-5.4l2.1 5.3l2.1-1.1l2.1 8.9l2.1 0.2l0.4 3.1l1.7-0.4l2.1-8.3l2.1-3.2l2.1 1.4l2.1-3.5l2.1 1.4l0.3-2.4" fill="none" stroke="#000000" stroke-width="2.4" stroke-linejoin="round"/>
<path d="M162.0 148.3l2.1 6.5l1.4 6.4l0.7-1.6l2.1-14.2l1.7-5.4l0.4 3.1l2.1 2.8l2.1 7.8l0.4 0.1l1.7-9.2l2.1-3.7l1.2-5.9l0.9-2.1l2.1 2.9l2.1 4l2.1-5.9l2.1-0.8l2.1-5.3l2.1 3l2.1-8.1l0.7 2.3l1.4 1.2l2.1 7.6l0.2-1.3l1.9-3.6l2.1-0.6l2.1-4.4l2.1 0.6l2.1-7.7l2.1 2.5l0.1-1.8l2 5.7l1.8 9.3l0.3 1l2.1-6.1l2.1 1.3l2.1-3.5l2.1 4.3l2.1-2.8l2.1 3l2.1-0.8l2.1 3.5l2.1-7.6l2.1 5.1l2.1-1.3l2.1 0.6l2.1 2.5l2.1-4.7l0.2 0.5l1.9 6.2l2.1-0.4l2.1 4.9l0.2-0.7l1.9-3.4l2.1 0.2l2.1-1.8l2.1-2.9l2.1 3.7l2.1-2.3l2.1 2.5l0.5-1l1.6-0.7l2.1-7.1l2.1-0.7l1.7-4l0.4-0.4l2.1 2.8l2.1-2l2.1 1.9l2.1-3.9l2.1 2.3l2.1-3l2.1-1.5l2.1 7.3l1.6-2.2l0.5-3.8l2.1 0.9l2.1-6.8l1.5-1.6l0.6-2.5l2.1 7.5l2.1-2.5l2.1-0.5l2.1 2.9l2.1-2.6l2.1-2.3l2.1 4.8l2.1-6.7l2.1 3.3l2.1-3.5l2.1 4.9l2.1-1.7l2.1 2.8l2.1-5.4l0 2.8l2.1-6l2.1-14.9l0.8-0.4l1.3 3.2l2.1-3.9l2.1 6.2l2.1-1.2l2.1 1l2.1-6.8l2.1 2.1l1.1-1.8l1-1.7l2.1 5.3l2.1 0.8l2.1 4.4l2.1-1.1l2.1 4.9l2.1 0.7l1.4 0.4l0.7-4l2.1 1.5l2.1-5.5l2.1-3.2l2.1-3.8l0.9-5l1.2-1.1l2.1 7l1.7 1.6l0.4-1.7l2.1 3.1l2.1-5l2.1 1.2l2.1-6l2.1 1.8l2.1-4.9l2.1 4.2l2.1-4.4l2.1 4.5l2.1 2.4l2.1-5.3l2.1 5.8l2.1-2.4l2.1 3.1l2.1-5.1l2.1-1.4l2.1-2.1l2.1-10.4l1.8-2.4l0.3 2.7l2.1-0.7l2.1 7.1l0.5-1.6l1.6-2.9l2.1-0.2l2.1-5.4l2.1-0.3l2.1 0.7l2.1-4l2.1 7.4l0.8-2.8l1.3-7.5l2.1-3.5l1.6-9l0.5-1.1l2.1 13.3l2.1 2.1l0.3 3.2l1.8-2.6l2.1 1.4l2.1-6.1l1.5 2.3l0.6 2.6l2.1 3.5l2.1 0.9l2.1 6.9l0.6-1.4l1.5-4.5l2.1-3.6l2.1-0.1l1.8-6.8l0.3-1.5l2.1 7.9l2.1 3l2.1 3.3l0.9 4.8l1.2 2l2.1-3l2.1 7.3l2.1-3.3l0 2l2.1-0.1l2.1-4.9l2.1 0.1l1.2-2.6l0.9 0.7l2.1 6.8l2.1-2.6l2.1 5.2l2.1-5.7l2.1 1.3l2.1-9.1l2.1 0.2l0.6-4.3l1.5 1.1l2.1 6.1l2.1-2l2.1 6.7l2.1-2.4l2.1 4.3l2.1 5.3l2.1-1.2l2.1 2.8l0.5 1.8l1.6-0.6l2.1-6l1.3-0.9l0.8-1.3l2.1 4.1l2.1 2.6l0 2.1l2.1-3l2.1-5.2l0.8-4.3l1.3 0.1l2.1 2.8l2.1-1.4l2.1 1.5l2.1 0l2.1 3.5l2.1 7.6l2.1 1.6l2.1 0l2.1 6.7l2.1-1.2l2.1 5.9l0.6-2.1l1.5-3.1l2.1-4.2l2.1 2l2.1-7.2l2.1 2.7l0.1-2.7l2 1.2l2.1 6.5l2.1-3.6l2.1 3.3l2.1-3l2.1 3.8l2.1-6.1l2.1 7l2.1-2.8l2.1 5.1l2.1-2.9l2.1 6.7l2.1-2.8l2.1 6.6l2.1-2.7l2.1 4.2l2.1-3.6l2.1 5.7l2.1-5.9l2.1 6l2.1-1.8l2.1 6.5l2.1-4.8l2.1 1.6l2.1-1.1l2.1 1.5l2.1-4.2l2.1 6.7l2.1-3.4l2.1 9.6l2.1-0.9l0 2.6l2.1-2.1l2.1-5.6l2.1 4.1l2.1-3.7l2.1 3.1l2.1-4.5l2.1 4.4l2.1-6.5l2.1 2.4l2.1-1.9l2.1 7l2.1-1.7l2.1 3l2.1 2.8l2.1-4.4l2.1 2.2l2.1-4.8l2.1 5.7l2.1-3.5l2.1 3.1l2.1-2.4l2.1 6.4l2.1-3.7l2.1 3.3l2.1-2.3l2.1 3.7l2.1 0.1l2.1 6.5l2.1-0.3l2.1 4.4l2.1-1.8l2.1 6.3l2.1-3.2l2.1 3.6l2.1-4.7l2.1 4.5l2.1-0l2.1-0.9l2.1 3.7l2.1-1.3l2.1 7.2l1.4 1.8l0.7-3.9l2.1 2.5l2.1-5.5l2.1 5.8l2.1-3.7l2.1 5.9l2.1-5.2l2.1 6.4l2.1-4.2l2.1-1.1l2.1-4.2l2.1 0.2l1.2-3l0.9-0.9l2.1 5.7l2.1-2.1l2.1 4.3l2.1 5l2.1-1l2.1 6.7l2.1-1.6l2.1 5.6l2.1-2.9l2.1-1.1l2.1 4.8l2.1-1.4l2.1 3.8l2.1-2.1l2.1 5.3l2.1-3.3l2.1 6l2.1-0.4l2.1 3.9l2.1-1.6l2.1 3.1l2.1-3.6l2.1 1.2l2.1-5.1l2.1 3.2l2.1-3.7l2.1 2.1l2.1-3.2l2.1 4l2.1-3.4l2.1 3.2l2.1-4.6l2.1 3l2.1-2.8l2.1 2.8l2.1-1.8l2.1 5.5l2.1-0.4l2.1 3.1l2.1 5.3l2.1-1.1l2.1 0.8l2.1-5.1l2.1 3.8l2.1-2.3l2.1 5.8l2.1-2.2l2.1 2.6l2.1-0.3l2.1 4.2l2.1-5.5l2.1 2.6l2.1-4.1l2.1 1l2.1-6.6l2.1 3.8l2.1-2.2l2.1 2.9l2.1-1.3l2.1 4.1l2.1-4.1l2.1 5l2.1 1l2.1-5.1l2.1 1.3l2.1 5.6l2.1-3.6l2.1 6.8l2.1 1.3l2.1-2.3l2.1 7.5l2.1-1.3l2.1 2.7l2.1-6.8l2.1 2l2.1-8.9l2.1 2.4l2.1-3.2l2.1 4.1l2.1-1l2.1 6.1l2.1-3l2.1 0.6l2.1 1.2l2.1 5.6l2.1-3.6l2.1-0.3l2.1 2.5l2.1-6.6l2.1 0.7l2.1-4l2.1 5.3l2.1-1.6l2.1 0.5l2.1 3.8l2.1-1.3l2.1 2.9l2.1-6l2.1 5.2l2.1-1.7l2.1 4.3l2.1-2.2l2.1 3l2.1-1.6l2.1 7.3l2.1-2.8l2.1 6.6l2.1-1.3l2.1 4.3l2.1-2.4l2.1-4l2.1 1.5l2.1-4l2.1 1.2l2.1 5.5l2.1-1.4l2.1 2.8l2.1-4l2.1 4.7l2.1-6l2.1 3.3l2.1-3.8l2.1 3.2l2.1 2.1l2.1 1.1l2.1-3l2.1 6.4l2.1-4.2l2.1 5.2l2.1-4.4l2.1 0.4l2.1-2.3l2.1 2.1l2.1-2.3l2.1 0.7l2.1 3.9l2.1-1.5l2.1 5l2.1-4.7l2.1 4.6l2.1-1.6l2.1-5.1l2.1 1l2.1-5.4l2.1 4l2.1-1.8l2.1 2.3l2.1-5.1l2.1 4.1l2.1-2.5l2.1 6.4l2.1-3.9l2.1 4.5l2.1-4.5l2.1 2.1l2.1-3l2.1 0.9l2.1-4.1l2.1 4.3l2.1-2.3l2.1 4.7l2.1-2.6l2.1 5.8l2.1-4.3l2.1 6.9l2.1-5.7l2.1 3.5l2.1-4.6l2.1 2.4l2.1-4.9l2.1 3l2.1-3.1l2.1 2.6l2.1-5.4l2.1 4.8l2.1 0.8l2.1 4.8l2.1-1.8l2.1 3.6l2.1-3.1l2.1 5.2l2.1-5l2.1 4.2l2.1-4.8l2.1 5l2.1-2.6l2.1 7l2.1-1.9l1.8 5.7l0.3 0.8l2.1-6.9l2.1-0.1l2.1-4.1l2.1-0.2l2.1-4.1l2.1 1.4l2.1-2.6l2.1 2.8l2.1-5.7l2.1 3.8l2.1-3.9l2.1 6.4l2.1-5.2l2.1 1.5l2.1-4l2.1 3l2.1-4.5l2.1 3.2l2.1-1.1l2.1-4l2.1 3.2l2.1-5.1l2.1 4l2.1-5.8l2.1-2.7l2.1 1.3l2.1-6.5l2.1 2.9l2.1-7.6l2.1 3.6l2.1-6.7l2.1-1.4l1.5-3.2l0.6-0.7l2.1 9.1l2.1 0.5l2.1 11.2l2.1 3.5l2.1 7.6l1.4 1.3l0.7-4.9l2.1-3.9l2.1-8.2l2.1-1.2l0.5-1.8l1.6-0l2.1 5.7l2.1-3.8l2.1-1.9l2.1 3.3l2.1-3.5l2.1 5l2.1 0.1l2.1 7.9l1.6-0.3l0.5-2.9l2.1-2.8l2.1 0.4l2.1 0.7l2.1-4.9l2.1 2.6l2.1-2.8l2.1 2.2l2.1-6.8l2.1 1l2.1-9.3l2.1 0.3l1.4-5.2l0.7-1.2l2.1 6.3l2.1-1l0.1 3.4l2-0.8l2.1-8.1l0.9-1.1l1.2 6.3l2.1-0.8l1.7 7l0.4 2.1l2.1-5.3l2.1 1.7l2.1-5.4l2.1 5.5l2.1-3.6l2.1 3.1l2.1-5.4l2.1 6.1l0.3-1.3" fill="none" stroke="#ff0000" stroke-width="2.4" stroke-linejoin="round"/>
<path d="M267.5 150.1h0M268.4 147.1h0M269.2 144.6h0M270.1 141.1h0M270.9 139.4h0M271.8 136.7h0M272.6 134.5h0M273.3 136.5h0M274.1 140.1h0M274.8 142.6h0M275.5 145.3h0M276.2 149.5h0M276.9 152.4h0M277.6 152.8h0M278.9 152.3h0M280.3 149.8h0M281.6 147.4h0M282.3 146.0h0M283.5 146.1h0M284.7 145.1h0M285.9 144.9h0M287.1 144.3h0M288.3 142.7h0M289.5 143.3h0M291.0 142.0h0M292.4 140.1h0M293.8 137.6h0M295.2 134.8h0M296.6 132.9h0M297.5 131.8h0M298.8 132.4h0M300.1 130.4h0M301.4 129.6h0M302.8 129.7h0M304.1 127.8h0M305.6 128.2h0M307.0 129.4h0M308.5 130.2h0M309.9 132.5h0M311.3 134.4h0M311.9 134.6h0M313.0 134.3h0M314.1 134.3h0M315.1 133.3h0M316.2 133.8h0M317.2 134.0h0M318.3 133.3h0M319.4 132.8h0M320.6 133.4h0M321.8 132.8h0M323.0 134.1h0M324.2 134.4h0M325.4 135.4h0M326.6 135.1h0M328.2 135.1h0M329.2 131.3h0M328.8 129.4h0M329.7 130.6h0M330.6 130.8h0M331.5 129.9h0M332.4 129.8h0M333.3 129.5h0M334.2 129.6h0M335.1 130.2h0M336.0 129.4h0M336.9 129.3h0M337.8 129.9h0M338.7 129.4h0M339.6 130.3h0M341.1 129.1h0M342.5 127.2h0M343.9 124.8h0M345.3 122.7h0M346.7 121.0h0M347.4 119.1h0M348.6 119.8h0M349.8 118.5h0M351.0 117.9h0M352.2 116.9h0M353.4 116.9h0M354.6 116.6h0M355.8 115.6h0M357.0 115.9h0" fill="none" stroke="#808080" stroke-width="2.9" stroke-linecap="round"/>
<path d="M413.8 96.2h0M415.0 95.6h0M416.3 95.5h0M417.6 93.9h0M418.8 93.2h0M420.0 92.7h0M421.2 91.3h0M422.4 91.3h0M423.6 90.9h0M424.8 90.6h0M425.8 89.1h0M426.8 89.2h0M427.8 88.6h0M428.8 89.6h0M429.8 89.2h0M430.8 87.7h0M431.7 89.2h0M432.7 88.9h0M433.7 88.1h0M434.7 87.8h0M436.2 85.7h0M437.6 84.0h0M439.1 83.5h0M440.5 81.2h0M441.9 80.1h0M443.3 78.7h0M444.7 76.9h0M446.1 78.6h0M447.5 79.9h0M449.0 82.1h0M449.9 82.6h0M451.1 82.2h0M452.3 81.4h0M453.5 81.1h0M454.7 80.1h0M455.9 79.2h0M457.1 79.9h0M458.3 79.3h0M459.5 78.4h0M460.7 77.5h0M461.9 76.2h0M463.1 75.5h0M464.3 75.0h0M465.5 74.0h0M466.7 74.7h0M467.9 73.4h0M469.1 73.6h0M470.3 72.2h0M471.5 72.6h0M472.7 71.8h0M473.8 69.7h0M475.6 70.7h0M476.8 74.3h0M478.0 75.9h0M479.2 79.2h0M480.3 80.2h0M481.7 81.5h0M483.1 84.3h0M484.4 86.4h0M485.8 87.4h0M487.2 88.9h0M488.1 92.1h0M488.8 96.1h0M489.5 98.6h0M490.3 100.4h0M491.0 103.5h0M491.7 106.1h0M492.4 108.9h0M493.1 113.1h0M493.9 113.9h0M494.5 111.7h0M495.1 108.5h0M495.7 105.1h0M496.4 103.2h0M497.0 99.1h0M496.6 98.2h0M497.8 96.7h0M499.0 96.6h0M500.2 95.8h0M501.4 96.5h0M502.6 98.4h0M503.8 98.7h0M505.0 98.4h0M506.3 97.4h0M507.7 94.2h0M509.0 92.5h0M510.3 91.5h0M511.7 89.4h0M513.1 86.7h0M514.5 86.5h0M515.5 84.2h0M516.7 83.7h0M517.9 84.1h0M519.1 82.7h0M520.7 82.8h0M522.1 83.8h0M523.5 85.3h0M524.9 87.6h0M526.3 88.4h0M527.8 90.4h0M529.2 91.4h0M530.7 93.7h0M531.9 97.0h0M533.0 98.6h0M534.2 101.1h0M534.7 103.3h0M535.9 101.5h0M537.1 100.8h0M538.3 101.6h0M539.5 100.8h0M541.0 98.0h0M542.3 95.9h0M543.7 94.9h0M544.7 93.5h0M546.2 90.8h0M547.6 90.7h0M549.0 89.2h0M549.9 87.7h0M551.1 86.8h0M552.3 85.6h0M553.5 84.9h0M554.7 86.0h0M555.9 85.0h0M557.1 86.4h0M558.3 86.2h0M559.5 87.8h0M561.0 88.7h0M562.4 89.6h0M563.9 90.8h0M564.8 92.8h0M565.9 92.2h0M567.1 93.1h0M568.3 94.3h0M569.5 95.4h0M570.5 95.3h0M571.5 95.0h0M572.5 96.4h0M573.5 95.3h0M574.5 95.3h0M575.5 96.0h0M576.5 96.5h0M577.5 96.1h0M578.5 96.5h0M579.5 97.1h0M580.5 97.8h0M581.5 97.2h0M582.5 97.9h0M583.5 99.1h0M584.5 99.5h0M585.5 99.2h0M586.5 99.5h0M587.5 99.5h0M588.5 99.0h0M589.5 99.0h0M591.0 100.2h0M592.4 103.2h0M593.9 104.2h0M594.8 106.0h0M596.0 103.7h0M597.2 104.2h0M598.4 103.3h0M599.6 103.1h0M600.5 102.3h0M601.5 103.8h0M602.5 102.4h0M603.5 103.5h0M604.5 104.1h0M605.4 104.5h0M606.3 104.2h0M607.2 104.1h0M608.1 104.3h0M609.0 104.5h0M609.9 103.5h0M610.8 104.2h0M611.8 104.7h0M612.7 104.8h0M613.6 104.1h0M614.6 105.0h0M615.5 105.2h0M616.4 104.6h0M617.3 104.7h0M618.2 104.3h0M619.1 104.6h0M620.0 104.7h0M620.9 103.7h0M621.8 104.8h0M622.7 105.4h0M623.6 105.2h0M624.5 104.9h0M625.5 104.1h0M626.6 104.5h0M627.6 103.9h0M628.6 103.3h0M629.7 103.7h0M630.6 102.1h0M631.6 103.1h0M632.6 101.6h0M633.5 102.5h0M634.5 102.1h0M635.4 101.5h0M636.3 102.4h0M637.2 102.0h0M638.1 102.2h0M639.0 102.8h0M639.9 101.6h0M640.8 101.1h0M641.7 101.6h0M642.6 102.3h0M643.5 101.5h0M644.4 101.4h0M645.4 102.8h0M646.3 102.6h0M647.3 102.4h0M648.3 103.4h0M649.2 102.5h0M650.4 103.5h0M651.5 103.1h0M652.6 103.9h0M653.7 105.0h0M654.9 105.7h0M655.9 105.9h0M656.9 105.3h0M657.9 105.9h0M658.8 105.6h0M659.8 105.6h0M661.2 107.2h0M662.6 108.8h0M663.9 109.8h0M665.5 110.9h0M666.9 112.7h0M668.3 112.9h0M669.7 114.1h0M670.8 115.3h0M672.0 115.6h0M673.2 116.1h0M674.4 117.1h0M675.6 118.0h0M676.8 118.4h0M678.0 118.7h0M679.2 120.2h0M680.2 120.9h0M681.2 120.2h0M682.2 119.8h0M683.2 119.9h0M684.2 121.7h0M685.2 120.5h0M686.2 121.9h0M687.2 121.9h0M688.2 121.7h0M689.2 122.8h0M690.1 121.7h0M691.1 122.1h0M692.1 123.0h0M693.1 122.4h0M694.1 124.1h0M695.1 123.3h0M696.1 123.4h0M697.1 123.5h0M698.1 124.8h0M699.1 124.7h0M700.1 125.2h0M701.1 125.0h0M702.1 125.0h0M703.1 125.0h0M704.1 124.3h0M705.2 123.3h0M706.3 124.2h0M707.4 124.0h0M708.5 124.1h0M709.5 125.3h0M710.4 125.9h0M711.3 124.9h0M712.2 125.1h0M713.1 125.2h0M714.0 125.9h0M714.9 125.5h0M715.8 125.8h0M716.8 126.2h0M717.7 125.7h0M718.7 126.6h0M719.6 126.9h0M720.6 125.7h0M721.6 127.4h0M722.6 127.3h0M723.6 126.5h0M724.6 127.3h0M726.1 128.7h0M727.5 130.5h0M728.9 130.8h0" fill="none" stroke="#808080" stroke-width="2.9" stroke-linecap="round"/>
<path d="M746.2 136.2h0M747.2 136.7h0M748.2 136.9h0M749.1 136.2h0M750.1 136.1h0M751.1 136.6h0M752.0 136.2h0M753.0 137.0h0M754.0 136.5h0M754.9 136.2h0M755.9 135.9h0M756.9 135.9h0M757.8 134.8h0M758.8 135.1h0M759.8 134.4h0M760.8 135.9h0M761.8 134.6h0M762.8 136.3h0M763.8 135.2h0M764.8 136.5h0M765.8 136.1h0M766.8 136.5h0M767.8 137.6h0M768.8 136.3h0M769.8 136.6h0M771.0 138.7h0M772.2 138.6h0M773.4 138.4h0M774.6 140.7h0M775.8 141.2h0M777.0 140.3h0M778.2 141.4h0M779.4 141.5h0M780.6 142.4h0M781.8 143.6h0M783.0 143.4h0M784.2 144.9h0M785.1 144.2h0M786.1 144.7h0M787.1 146.1h0M788.1 145.6h0M789.1 145.9h0M790.1 146.4h0M791.1 146.5h0M792.1 146.6h0M793.1 146.2h0M794.1 147.7h0M795.3 148.5h0M796.5 149.1h0M797.7 149.2h0M798.9 149.2h0M799.8 149.7h0M800.8 150.6h0M801.8 150.8h0M802.8 150.0h0M803.8 150.5h0M804.8 151.0h0M806.1 151.8h0M807.3 152.9h0M808.4 153.0h0M809.6 152.7h0M810.6 154.5h0M811.6 154.0h0M812.6 154.4h0M813.6 154.2h0M814.6 154.8h0M815.6 155.0h0M816.6 155.9h0M817.6 154.9h0M818.6 156.0h0M819.6 155.6h0M820.6 156.8h0M821.6 155.8h0M822.6 156.5h0M823.6 156.9h0M824.6 157.6h0M825.6 156.8h0M826.6 157.8h0M827.6 157.6h0M828.6 158.0h0M829.6 158.6h0M830.6 159.7h0M831.6 159.1h0M832.6 160.2h0M833.6 159.0h0M834.6 160.7h0M835.6 159.9h0M836.6 159.8h0M837.6 161.1h0M838.6 161.6h0M839.6 160.3h0M840.8 161.2h0M842.0 162.7h0M843.2 162.6h0M844.4 163.0h0M845.9 163.8h0M847.4 165.3h0M848.8 167.7h0M849.3 169.4h0M850.3 169.7h0M851.3 169.1h0M852.3 168.5h0M853.3 169.3h0M854.3 170.3h0M855.6 170.9h0M856.8 171.1h0M858.0 171.0h0M859.2 172.1h0M860.4 172.6h0M861.6 173.5h0M862.8 173.4h0M864.0 175.3h0M864.7 175.7h0M865.6 174.4h0M866.5 174.6h0M867.4 175.7h0M868.3 174.6h0M869.2 175.8h0M870.5 174.8h0M871.7 174.5h0M872.9 173.9h0M874.1 172.4h0M875.0 172.1h0M876.0 171.8h0M877.0 172.3h0M878.0 172.1h0M879.0 170.8h0M880.0 172.0h0M881.0 171.4h0M882.0 171.3h0M883.0 171.9h0M884.0 173.1h0M885.0 172.6h0M886.0 173.0h0M887.0 173.8h0M888.0 174.1h0M889.0 174.0h0M890.0 173.6h0M891.0 174.2h0M892.0 175.0h0M893.0 175.0h0M894.0 174.9h0M895.0 174.7h0M896.2 175.4h0M897.4 176.6h0M898.6 176.9h0M899.8 176.5h0M901.0 178.4h0M902.2 179.3h0M903.4 179.7h0M904.6 180.5h0M905.8 181.1h0M907.0 181.1h0M908.2 182.1h0M909.4 182.0h0M910.6 182.1h0M911.8 183.1h0M913.0 183.7h0M914.2 185.4h0M915.0 185.3h0M915.9 185.1h0M916.8 185.2h0M917.7 184.3h0M918.6 185.1h0M919.5 185.4h0M920.5 184.7h0M921.5 184.2h0M922.5 184.2h0M923.5 183.8h0M924.5 184.2h0M925.5 183.2h0M926.5 183.4h0M927.5 184.0h0M928.5 185.0h0M929.5 185.3h0M930.7 185.6h0M931.9 186.7h0M933.1 186.3h0M934.3 186.3h0M935.3 187.5h0M936.3 187.7h0M937.3 187.5h0M938.3 188.6h0M939.3 188.3h0M940.1 188.3h0M941.0 188.4h0M941.9 189.5h0M942.8 187.9h0M943.7 188.5h0M944.6 188.4h0M945.6 188.1h0M946.5 188.4h0M947.4 187.9h0M948.4 189.0h0M949.3 188.1h0M950.5 188.5h0M951.6 188.0h0M952.7 189.0h0M953.8 189.7h0M954.9 190.6h0M955.8 189.5h0M956.7 189.9h0M957.6 190.6h0M958.5 190.6h0M959.4 189.5h0M960.5 190.2h0M961.5 190.8h0M962.5 190.4h0M963.5 191.2h0M964.5 191.4h0M965.3 192.1h0M966.2 191.3h0M967.1 191.6h0M968.0 191.0h0M968.9 191.7h0M969.8 190.9h0M970.8 191.5h0M971.8 191.5h0M972.8 191.6h0M973.8 191.6h0M974.8 192.0h0M975.7 192.6h0M976.6 192.1h0M977.5 191.7h0M978.4 193.0h0M979.3 192.1h0M980.4 193.4h0M981.3 193.0h0M982.3 192.9h0M983.3 194.0h0M984.3 194.3h0M985.3 193.5h0M986.3 193.4h0M987.3 194.6h0M988.3 195.2h0M989.3 195.0h0M990.2 195.5h0M991.1 194.8h0M992.0 195.2h0M992.9 194.6h0M993.8 194.8h0M994.7 194.8h0M995.6 194.8h0M996.5 194.8h0M997.4 195.6h0M998.3 194.4h0M999.2 194.5h0M1000.2 194.6h0M1001.2 196.2h0M1002.2 195.6h0M1003.2 195.0h0M1004.2 196.7h0M1005.2 197.0h0M1006.2 197.1h0M1007.2 196.6h0M1008.2 197.5h0M1009.2 197.0h0M1010.1 196.9h0M1011.0 198.3h0M1012.0 198.3h0M1012.9 197.3h0M1013.8 198.6h0M1014.7 197.1h0M1015.7 197.8h0M1016.6 197.4h0M1017.5 197.8h0M1018.5 197.9h0M1019.4 199.0h0M1020.4 198.5h0M1021.4 198.5h0M1022.4 198.8h0M1023.4 199.3h0M1024.4 200.5h0M1025.3 200.2h0M1026.2 199.3h0M1027.1 200.3h0M1028.0 200.1h0M1028.9 199.9h0M1029.8 200.0h0M1030.8 200.5h0M1031.8 201.0h0M1032.8 200.7h0M1033.8 201.2h0M1034.8 201.1h0M1035.7 201.5h0M1036.6 201.0h0M1037.5 201.1h0M1038.4 201.3h0M1039.3 201.6h0M1040.2 200.9h0M1041.2 202.2h0M1042.1 201.6h0M1043.0 202.3h0M1044.0 202.2h0M1044.9 202.8h0M1045.8 202.3h0M1046.7 201.9h0M1047.6 201.8h0M1048.5 202.2h0M1049.4 202.5h0M1050.3 202.6h0M1051.3 201.5h0M1052.2 201.4h0M1053.1 201.6h0M1054.0 201.7h0M1054.9 201.7h0M1055.9 201.4h0M1056.9 201.6h0M1057.9 201.1h0M1058.9 201.9h0M1059.9 201.5h0M1060.8 202.1h0M1061.7 202.1h0M1062.6 201.7h0M1063.5 202.1h0M1064.4 200.4h0M1065.3 200.8h0M1066.2 202.0h0M1067.1 201.2h0M1068.0 200.7h0M1068.9 201.7h0M1069.8 201.1h0M1070.7 201.3h0M1071.6 200.9h0M1072.5 200.8h0M1073.4 200.5h0M1074.3 201.4h0M1075.3 202.1h0M1076.3 202.5h0M1077.3 202.3h0M1078.3 202.9h0M1079.3 202.1h0M1080.2 202.1h0M1081.1 203.3h0M1082.0 202.7h0M1082.9 202.8h0M1083.8 201.6h0M1084.7 202.0h0M1085.7 202.6h0M1086.7 203.3h0M1087.7 203.8h0M1088.7 203.9h0M1089.7 203.4h0M1090.6 203.5h0M1091.5 204.4h0M1092.4 204.6h0M1093.3 203.7h0M1094.2 203.2h0M1095.2 204.0h0M1096.2 204.1h0M1097.2 204.1h0M1098.2 204.1h0M1099.2 204.6h0M1100.1 205.2h0M1101.0 204.3h0M1101.9 205.1h0M1102.8 205.8h0M1103.7 205.4h0M1104.6 204.6h0M1105.5 204.9h0M1106.4 204.3h0M1107.3 205.4h0M1108.2 205.2h0M1109.1 204.4h0M1110.0 205.1h0M1111.0 204.9h0M1112.0 204.6h0M1113.0 204.0h0M1114.0 203.7h0M1115.0 203.5h0M1115.9 204.6h0M1116.8 203.4h0M1117.7 203.8h0M1118.6 203.7h0M1119.5 203.2h0M1120.4 203.6h0M1121.3 203.2h0M1122.2 203.4h0M1123.1 203.5h0M1124.0 203.5h0M1124.9 204.5h0M1125.8 203.4h0M1126.7 203.4h0M1127.6 204.0h0M1128.5 203.6h0M1129.4 203.8h0M1130.4 203.9h0M1131.4 202.6h0M1132.4 203.5h0M1133.4 202.2h0M1134.4 202.2h0M1135.3 203.1h0M1136.2 203.4h0M1137.1 202.8h0M1138.0 201.9h0M1138.9 202.4h0M1139.8 202.1h0M1140.7 203.1h0M1141.6 202.0h0M1142.5 202.0h0M1143.4 202.7h0M1144.3 202.7h0M1145.3 202.7h0M1146.3 202.8h0M1147.3 203.9h0M1148.3 203.2h0M1149.3 204.4h0M1150.3 203.6h0M1151.3 204.0h0M1152.3 204.1h0M1153.3 205.0h0M1154.3 205.3h0M1155.3 204.5h0M1156.3 204.7h0M1157.3 204.8h0M1158.3 204.2h0M1159.3 204.2h0M1160.3 203.9h0M1161.3 203.8h0M1162.3 202.9h0M1163.3 202.6h0M1164.3 201.8h0M1165.3 203.1h0M1166.3 202.7h0M1167.3 201.7h0M1168.3 202.5h0M1169.3 202.2h0M1170.3 200.6h0M1171.3 201.5h0M1172.3 200.5h0M1173.3 200.1h0M1174.3 199.8h0M1175.1 199.8h0M1176.0 199.2h0M1176.9 199.2h0M1177.8 199.3h0M1178.7 199.7h0M1179.6 199.4h0M1180.5 199.3h0M1181.4 200.6h0M1182.3 199.8h0M1183.2 200.0h0M1184.1 200.2h0M1185.2 200.7h0M1186.2 199.1h0M1187.2 199.0h0M1188.2 199.9h0M1189.2 199.7h0M1190.3 199.4h0M1191.5 198.2h0M1192.6 197.4h0M1193.7 196.6h0M1194.9 197.5h0M1196.0 196.7h0M1197.1 195.9h0M1198.3 195.8h0M1199.1 194.6h0M1200.0 195.0h0M1200.9 195.5h0M1201.9 194.0h0M1202.8 194.8h0M1203.7 194.0h0M1204.6 195.0h0M1205.6 194.9h0M1206.5 194.4h0M1207.4 193.9h0M1208.4 193.0h0M1209.9 193.1h0M1211.2 191.8h0M1212.6 190.9h0M1213.9 189.3h0M1214.9 190.5h0M1215.9 189.6h0M1216.9 189.4h0M1217.9 189.6h0M1218.9 189.5h0M1220.1 189.4h0M1221.3 190.0h0M1222.5 191.1h0M1223.7 190.9h0M1225.1 192.8h0M1226.4 192.2h0M1227.8 194.6h0M1228.5 194.9h0M1229.5 195.4h0M1230.5 196.3h0M1231.5 195.1h0M1232.5 195.7h0M1233.5 196.7h0M1234.5 196.6h0M1235.5 195.9h0M1236.5 196.1h0M1237.5 195.7h0M1238.5 195.8h0M1239.5 195.1h0M1240.5 194.4h0M1241.5 194.0h0M1242.5 193.4h0M1243.5 193.2h0M1244.5 192.8h0M1245.5 194.2h0M1246.5 192.5h0M1247.5 193.1h0M1248.5 192.0h0M1249.4 193.3h0M1250.3 192.4h0M1251.2 191.7h0M1252.2 192.8h0M1253.1 192.7h0M1254.0 192.9h0M1254.9 191.4h0M1255.9 191.5h0M1256.8 191.9h0M1257.7 191.0h0M1258.7 191.4h0M1259.7 191.8h0M1260.7 192.1h0M1261.7 192.5h0M1262.7 192.6h0M1263.7 192.0h0M1264.6 193.0h0M1265.5 192.4h0M1266.4 191.9h0M1267.3 191.6h0M1268.2 192.7h0M1269.1 192.2h0M1270.0 191.7h0M1270.9 192.3h0M1271.8 192.1h0M1272.8 191.8h0M1273.7 192.2h0M1274.6 192.1h0M1275.5 192.2h0M1276.4 193.1h0M1277.4 193.1h0M1278.3 192.1h0M1279.5 192.9h0M1280.7 191.3h0M1281.9 191.8h0M1283.1 189.6h0M1284.1 189.7h0M1285.1 190.5h0M1286.1 189.8h0M1287.1 189.6h0M1288.1 188.5h0M1289.1 188.1h0M1290.1 189.3h0M1291.1 187.5h0M1292.1 187.4h0M1293.0 187.6h0M1294.0 188.1h0M1295.0 187.6h0M1296.0 187.9h0M1297.0 187.2h0M1298.0 186.4h0M1299.0 187.0h0M1299.9 186.1h0M1300.8 185.7h0M1301.8 187.5h0M1302.7 187.5h0M1303.7 187.2h0M1304.6 187.0h0M1305.5 186.6h0M1306.4 186.7h0M1307.3 186.6h0M1308.2 186.7h0M1309.2 187.5h0M1310.1 188.3h0M1311.0 188.5h0M1311.9 187.8h0M1312.8 188.2h0M1313.7 187.9h0M1314.7 188.6h0M1315.6 188.6h0M1316.6 189.3h0M1317.5 189.1h0M1318.4 189.0h0M1319.4 189.0h0M1320.3 188.3h0M1321.2 189.0h0M1322.2 189.1h0M1323.1 188.7h0M1324.8 189.9h0M1326.2 191.8h0M1327.6 192.9h0M1329.3 196.0h0M1330.2 198.2h0M1331.1 202.2h0M1332.0 202.3h0M1333.4 200.6h0M1334.8 199.0h0M1336.3 197.5h0M1337.7 195.8h0M1339.1 195.7h0M1340.5 194.2h0M1341.9 192.4h0M1343.3 190.9h0M1344.6 188.9h0M1345.9 188.6h0M1347.3 186.9h0M1348.7 186.2h0M1349.9 184.2h0M1350.9 180.9h0M1352.0 180.5h0M1353.2 183.8h0M1354.3 184.0h0M1355.2 182.0h0M1356.1 177.9h0M1356.4 176.8h0M1357.4 178.1h0M1358.4 177.2h0M1359.4 177.1h0M1360.4 176.6h0M1361.4 175.6h0M1362.6 177.7h0M1363.8 177.4h0M1365.0 178.7h0M1366.2 178.0h0M1367.2 178.2h0M1368.2 178.4h0M1369.2 177.6h0M1370.2 178.5h0M1371.2 177.1h0M1372.7 175.6h0M1374.3 175.4h0M1375.2 178.3h0M1376.1 182.2h0M1377.1 183.8h0M1378.5 184.8h0M1379.9 185.8h0M1381.4 186.5h0M1382.6 185.9h0M1383.8 182.2h0" fill="none" stroke="#808080" stroke-width="2.9" stroke-linecap="round"/>
<path d="M162.0 330.2l2.4-1.6l2.4 0l2.4 0.2l2.4 2.5l2.4-0.3l1-1l1.4 2.4l2.4 7.4l1.2 3.9l1.2-3.1l2.4-3.7l2.4-2.6l2.4-2.2l2.4-0l2.4-1.2l2.4 0.1l2.4-1l2.4 0.7l2.4-1.4l2.4 1.1l2.4-0.4l2.4 1.7l2.4 7.3l0.1-0.2l2.3-5l1.4-2.6l1 0.6l2.4-1.7l2.4 0.3l2.4-0.4l2.4 1.4l1.9-0.1l0.5 0.9l2.1 7.8l0.3-0.3l2.4-5.8l2.4-1.9l2.3-2l0.1 0.1l2.4 10.3l0.1-0.4l2.3-6.3l0.2 0.1l2.2 0.4l2.4-0.9l2.4 7.8l1.7 8.9l0.7-1.1l2.4-1.5l2.4-2.2l0.8-1.4l1.2 6.2l0.4-1.8l2.4-6.5l2.4-1.6l2.3-1.4l0.1 0.7l1.1 10.6l1.3 2.9l2.4 4l0.1 0.6l2.3-6.4l0.2-1.1l2.2 4l0.3 1l2.1-5l2.4-4.3l2.4-3.1l0.6-0.1l1.8 7l2.4 5.5l2.1 5l0.3 0.1l2.4-0.4l2.4 2.2l2.4 1.7l1.2 1.4l1.2 4.1l2.4 6.4l2.4 6.9l1.5 2.6l0.9-4.9l2.4-10.4l1.7-7.2l0.7 1.9l1.8 5.6l0.6 4.3l1.9 10.7l0.5-4.8l2-17.7l0.4 0.9l2.4 0.4l2.2 1.2l0.2 0l2.3-7.5l0.1 0l2.4 15.5l0-0.5l2.4-10.4l2.4-8.3l0.2-1.3l2.2-16l0.3-1.5l2.1-0.5l2.4 0.7l1.8 2.3l0.6 3.4l2.4 10.5l0.7 3.6l1.7 1.6l2.4 0l2.4 2.5l2.4 3l2.4 0.8l2.4 0.9l1.3 1.2l1.1-2.9l2.4-7.9l2.4-7.4l1.6-6.8l0.8-1l2.4-1.9l2.4-2.4l2.4 0.2l2.4-0.1l2.4-3.9l2.4-0.6l2.4-1.4l2.4-0.6l2.4 1.1l2.4-0.9l2.4 0.9l2.4-1.9l2.4 0.5l2.4 0.2l2.4 3.3l2.4 1.5l2.4 1.2l2.4 2.3l2.4-0.2l2.4 1.7l2.4-0.9l2.4-1l2.4-2.4l2.4 0.2l1.6 1.1l0.8 3.5l2.4 8.6l0.6 2.9l1.8-1.9l1.9-3.1l0.5 0.6l2.4 4l2.1 2.9l0.3 0.2l2.4-0.5l2.4 0.6l2.4 3l2.4 1.9l0.1-0.2l2.3-7.1l0.2-0.4l2.2-1l2.4-2.1l2.4 0.1l2.4-2l2.4 1.6l2.4 0.3l2.4 1.1l2.1-0.5l0.3 0.7l2.4 13.1l2.4 15.4l1.2 8.3l1.2 2.6l1.3 2.4l1.1-3l1.4-2l1-23.4l0.2-6.6l2.2-3.6l2.4-1.1l2.4-0.6l2.4-0l2.4 0.8l0.8-0.5l1.2-7.5l0.4-0.7l2.4-0.2l2.4-1.2l2.4-0.6l2.4-1.6l2.4 0.2l2.4-2.3l1.5 0.1l0.9 4.6l2.4 9.8l0.4 1.9l2 20.6l2.4 23.1l0.6 6.3l1.8 22.1l2.4 29l0.8 8.9l1.6-31.1l0.9-16.4l1.5-40.2l1-27.3l1.4-2.8l2.4-3.5l2.4-2l2.4-3.4l1.4-0.8l1 2.3l2.4 3.7l0.4 1.5l2-2l2.4-0.9l0.5-0.9l1.9 26.3l1.9 27.5l0.5 1.8l2.4 4.9l2.1 5.8l0.3 0.5l2.4 0.4l2.4 1.8l1.1-0.2l1.3-7.9l2.4-13.7l2.4-16.7l1.5-9.2l0.9-1.3l2.4-6l2.4-1.9l2.4-3.1l0.6-0.2l1.8 2.2l2.4 1.3l0.8 1.5l1.6-3.4l2.4-6.8l1-2.3l1.4-0.7l2.4-3.7l2.4-0.6l2.4-1.2l1.4-1.3l1 0.2l2.4 1.6l1.6 1.9l0.8 2.1l2.4 4.9l1.8 4.3l0.6 0l2.4-3.6l2-1.4l0.4 1.8l2.4 7.8l2.2 7.9l0.2 1.1l2.4 11.4l2.4 13.2l0-0.7l2.4-18.6l0.1-1.4l2.3-11.3l1.5-6.2l0.9-0.2l2.4-2.5l2.4-3.8l2.4-2.5l2.4-2.6l2.4-1.2l2.4-0.9l2.4 1.6l2.4-0.6l2.4 0.3l2.4-0.9l2.4 0.2l2.4-1l2.4 0.6l2.4-1.1l2.4-0.4l2.4 0.6l2.4-1.9l2.4 0.6l2.4 0.2l2.4 2.3l2.4-2l2.4 1l2.4-1.3l2.4 0.8l2.4-0.7l2.4 0.5l2.4-0.5l0.5 0.4l1.9 6.1l0.6 1.4l1.8-5.1l0.7-1.1l1.7-0.1l2.4-1.6l2.4-0.2l2.4-1.7l2.4-0.7l2.4 0.9l2.4-1.9l2.4 0.4l2.4-1.1l2.4 0.3l2.4-0.8l2.4 1l2.4-1l2.4 0.4l2.4 1.3l2.4-0.8l2.4 0.4l2.4-1.9l2.4 1.5l2.4-1.4l2.4 1.1l2.4-1l2.4 0.4l2.4 0.6l2.4-0.9l2.4 0.9l2.4-1.1l2.4 0.8l2.4-1.1l2.4 0.7l2.4-0.9l2.4 0.2l1.4-0.2l1 1.1l2.4 4.6l1.6 1.8l0.8-1.4l2.4-1.2l2.4-1.7l2.4 1l2.4-1.2l2.4 0.6l2.4-1.2l2.4 1.1l2.4-1.4l2.4 0.7l2.4-1.2l2.4 0.2l2.4 0.2l2.4-1.6l2.4 0.7l2.4-1l2.4 0.3l2.4-0.5l2.4 1.2l2.4-0.5l2.4 0.9l2.4-0.9l2.4-0.1l2.4-1.2l2.4-1.7l2.4-0.7l2.4 0.3l2.4-1.5l2.4 0.1l2.4-1.1l2.4 1.1l2.4-0.8l2.4 1.4l2.4-0.4l2.4 1.2l2.4-0.8l2.4 1.4l2.4-1.1l2.4 1.2l2.4 0.3l2.4-0.1l2.4 0.7l2.4-1.1l2.4 0.5l2.4-0.3l1.1-0.4l1.3 3.7l2.4 7.9l1.3 3.4l1.1-4.5l1.4-4.3l1-0.9l2.4-0l2.4-1.8l2.4 1.5l2.4-0.7l2.4 1l2.4-1.5l2.4-0.2l2.4-1.9l2.4 0.5l2.4-2l2.4 0.4l2.4-1.4l2.4 1.5l2.4-0.9l2.4 1.8l2.4 0.2l2.4 2l2.4-0.6l2.4 0.4l2.4-0.5l2.4-1.5l2.4 0.4l2.4-1.2l2.4 0.4l2.4-1.3l2.4 0.7l2.4-1l2.4 1.2l2.4-0.7l2.4 1.5l2.4 0.1l2.4 0.6l2.4 1.9l2.4-0.2l2.4 1.3l2.4 4.3l0.1 0.4l2.3-3l0.2-0.8l2.2-0.4l2.4 1.3l2.4-0.4l2.4 1.3l2.4-2.4l2.4-0.6l2.4-1.8l2.4 0.8l2.4-1.8l2.4-0.3l2.4-0.1l2.4 1.1l2.4-1.2l2.4 1.3l2.4-0.8l2.4 0.3l2.4 1.4l2.4-0.7l2.4 1.1l2.4-1l2.4 1.4l2.4-0.2l2.4 0.9l2.4-0.3l2.4 1l2.4-0.4l2.4 1.1l2.4-0.3l2.4 1.2l0.6-0.2l1.2 33.7l0.6-15.7l0.7-19.3l1.7-0.7l2.4 1.3l2.4-1.4l2.4 1.4l2.4-0.9l2.4 0.9l2.4-1.1l2.4 1.1l2.4-0.3l2.4 1.8l2.4-0.3l2.4 1.4l2.4-0.5l2.4 1.2l2.4-1.2l2.4 1.5l2.4-1.3l2.4 0.9l2.4-0.4l2.4-1.2l2.4 0.5l2.4-1.6l2.4 1.1l2.4-1.4l2.4 0.8l2.4-0.9l2.4 1.5l2.4 1.2l2.4-2l2.4 0.1l2.4-1.3l2.4 0.4l2.4-0.9l2.4 0l2.4-1l1.7 0.1l0.7 2.9l1.8 5.8l0.6 6l1.9 21.5l0.5-1.9l2-10.6l0.4-1.6l2.4-4.6l2.2-6.3l0.2-0.4l2.4-1.4l2.4-3.3l2.4-0.1l2.4-0.4l0.2-0.6l2.2 4.3l2.4 3.2l2.4 8l0.5 0.7l1.9-4.3l2.4-7l0.7-1.2l1.7-1.8l2.4-3.8l2.4-0.3l2.4-1.9l2.4 1.8l0.2-0.2l2.2 16.1l0.3 2.6l2.1 9.1l0.4 0.9l2-22.7l0.5-4.8l1.9 0.1l2.4-0.3l2.4-1.6l2.4 1.8l0.9 0l1.5 19.2l1 13.3l1.4-12.3l1.1-10.2l1.3-4l1.2-3.5l1.2-1.3l2.4-0l2.4-2.3l1.5-0.1l0.9 12.4l1.6 21.3l0.8-5.2l1.7-9.8l0.7-1.8l1.8-5.7l0.6-0.5l2.4-0l2 0.5l0.4 3.2l2.1 14.3l0.3-4.5l2.2-28l0.2 0.3l2.4-0.7l2.4 0.9l2.4-0l2.4 2.4l2.4-1.8l2.4-0.3l0.4-0.8l2 2.7l0.5 1.1l1.9 12.6l0.6 3.6l1.8-5.6l2.4-6.8l0.8-2.6l1.6-1.4l2.4-0l2.4-1.7l2.4 0.4l1.2-1.1l1.2 8.9l1.3 9.9l1.1-7.4l1.4-10.1l1-0.4l2.4 0.1l2.4 0.8l2.4 2.6l1.8 1.9l0.6 5l1.9 15l0.5-4.9l2-16.4l0.4 3.2l2.1 15.6l0.3-2.7l2.2-14.8l0.2 0.3l2.4-1.1l2.4-0.2l2.4-1l2.4 1l0.2-0.2l2.2 38l0.3 5.7" fill="none" stroke="#92161b" stroke-width="2.3" stroke-linejoin="round"/>
<path d="M162.0 338.0l2.4 0.9l2.4-0.7l2.4 1.1l2.4 0.1l2.4 2.8l1 0.3l1.4 7.3l2.3 13.9l0.1-0.7l2.4-11.2l0.1-0.6l2.3-0.9l2.4-0.2l2.4-1.7l2.4 0.8l2.4-1l2.4 0.1l2.4-1.3l2.4 0.7l2.4-0.8l2.4-0.1l2.4 1.5l2.4-0.2l0-0.6l2.4 5.6l0.1 0.6l2.3-2.9l2.4-1.5l2.4 1.4l2.4-0.2l2.4-1l2.4 0.8l1.9-0.3l0.5 2.5l2.1 12.5l0.3-0.4l2.4-9.5l1-2.6l1.4 0.5l2.4-1.1l1.2 0.6l1.2 5.1l1.3 4.9l1.1-1.6l2.4-2.1l1.5-1.3l0.9 1.1l2.4 6.1l1.7 2.8l0.7-1.3l2.4-1.5l1.9-2.2l0.5 2.5l2 7.5l0.4-0.7l2.4-5.7l2.2-6.1l0.2-0.2l2.4 3.4l2.4 1l2.4 3.8l2.4 1.5l0.2 0.5l2.2-6.4l2.4-7.8l0.4-0.8l2 2.8l2.4 1.5l0.6 0.7l1.8 5.9l2.4 6.5l0.8 2.6l1.6 19.3l0.9 10.7l1.5-6.6l2.4-8.3l2.4-9.7l1.2-2.9l1.2 20.4l2.4 39l0.1 3.1l2.3 9.2l0.2 0.8l2.2-5l0.4 0l2-11.8l0.4-3.2l2-0.5l2.4 2.5l1.9 3l0.5-6.5l2.4-28.2l0.9-10.3l1.5-8.5l2.2-11.5l0.2 0.7l2.4 6.9l2.4 7.9l0-0.5l2.4-15.2l2.4-13.2l0.2-1.6l2.2-7.1l2.4-6l0.4-1.9l2 2.7l2.4 4.4l0.6 0.4l1.8 6.2l2.4 8.7l0.8 2.6l1.6 2.9l2.1 4.6l0.3-0.6l2.4-8.5l1.1-3.4l1.2 42.5l0.1 0.4l2.4-1l0.1 0.6l2.3 47.7l0.1 2.3l1.3-12.5l1-28.4l1.5-41.6l0.9-0.8l2.4-4.6l1.7-2.1l0.7-2.6l1.8-7.4l0.6-1.6l2.4-2.4l2-3.5l0.4-0.4l2.4-0.2l2.4-0.8l2.4 1.5l2.4-0.2l2.4 2.9l2.4 1.7l0.2 0.5l2.2-0.9l2.4-1.8l2.4 0.3l2.4-1.7l2.4 1.2l2.4-0.2l2.4 1.6l2.4 0.3l2.4 2.7l2.4 0.3l1.2 0.7l1.2-0.6l2.4-3.5l1.4-0.9l1 1.4l2.4 1.7l2.4 3.1l2.4 1.2l1.8 2.6l0.6-0l2.4-1.8l2.4-0.5l2.4-3.7l2.2-1.5l0.2 0.5l2.4 1.2l2.4 0.6l2.4 2l2.4 3.3l0.2-0.1l2.2-3.9l2.4-2.6l2.4-2.2l2.4-0.2l2.4-2.6l2.4-1l0.8-1.2l1.6 1.9l2.1 4.3l0.3 3.3l2.4 24.2l1.1 12.5l1.3 4l2.4 5.4l2.4 10.5l0.1 0.1l2.3-40l0.2-5l2.2-6.1l1.6-3.9l0.8 0.8l2.4-1.2l1.8 0.4l0.6 2.7l1.9 6.1l0.5-3.4l2-10.4l0.4 0.3l2.4-2.7l2.4-1.2l2.3-1.4l0.1 0.6l2.4-0.9l2.4 1.9l2.4-0.9l0.2 0.6l2.2 8l2.4 8.9l0.4 1.8l2 17.5l2.4 19.2l0.6 5.8l1.8 21.2l2.4 26.8l0.8 9.5l1.6-31.6l0.9-18.4l1.5-25.8l2.2-36.7l0.2 0.1l2.4-1.6l2.4 0.9l2.4-1.2l2.4 1.1l2.4 0.2l2.4 0.9l2.4-1.8l1.8 0.1l0.6 5.1l2.4 17.5l2 16.2l0.4 1l2.4 4.2l2.2 4.8l0.2 3.5l2.4 39.1l1.1 19.9l1.3-33.3l1.2-34.2l1.2-8.9l2.4-16.6l0.2-2l2.2-2.7l2.4-1.2l0.4-1.1l2-0.1l2.4 1.8l2.4-1.6l2.4 0.7l0.8-0.8l1.6-2.9l2.4-3.6l2.4-1.8l2.4-2.3l2.4-0.8l2.4-3.2l1.4-0.4l1 0.9l2.4 0.6l1.6 1l0.8 2.6l2.4 6.7l1.8 5.7l0.6-1.3l2.4-2.4l2-3.8l0.4 1.2l2.4 8.8l2.4 7.9l2.4 10.7l2.4 8.2l0 0.7l2.4-18.8l1.4-11.2l1-2.1l2.4-7.7l0.3-0.2l2.1-2.7l2.4-2.4l2.4-0.6l2.4-2.5l2.4-1l2.4-1.2l2.4-0.8l2.4-1.8l2.4-0.1l2.4-1.6l2.4 0.5l2.4-1.7l2.4 0.4l2.4-1.2l2.4 0.4l2.4-1.3l2.4 1.1l2.4-0.1l2.4-0.1l2.4-1.4l2.4 0.3l2.4-1.1l2.4 0.8l2.4-1.3l2.4 1.7l2.4 0.7l2.4 0.4l2.4 2.7l2.4 0.5l2.4-2.6l2.4-0.3l2.4-2.4l2.4 0.1l2.4-1.3l2.4 0.7l2.4-1.5l2.4 0.9l2.4-0.8l2.4 0.2l2.4-0.8l2.4 0.1l2.4-0.7l2.4 0.3l2.4-0.9l2.4 0.1l2.4-0.9l2.4 0.1l2.4 1.1l2.4-0.7l2.4 0.5l2.4-0.6l2.4 0.8l2.4-1.1l2.4 1.3l2.4-0.9l2.4-0.1l2.4 0.6l2.4-0.9l2.4 0.8l2.4-1.4l2.4 0.8l1.4-0.9l1 2.4l2.4 3l1.6 3.4l0.8-0.6l2.4-3.9l2.4-0.3l2.4-1.7l2.4 0.6l2.4-1.3l2.4-0.2l2.4 0.5l2.4-1.2l2.4 0.8l2.4-0.9l2.4 1l2.4-1l2.4 1l2.4-0.7l2.4 1l2.4-1.2l2.4 1.4l2.4-1l2.4 1.3l2.4-0.4l2.4 1.3l2.4-1.4l2.4 1.3l2.4-2.4l2.4-1.8l2.4-1.2l2.4-0.1l2.4-1.4l2.4 0.3l2.4-0.7l2.4 1.6l2.4-1l2.4 1.4l2.4-1l2.4 0.8l2.4 0.2l2.4-0.6l2.4 0.8l2.4-0.6l2.4 1.1l2.4-0.6l2.4 0.7l2.4-0.9l2.4 0l1.1 0.5l1.3 3.4l2.4 7.7l0-0.6l2.4-4.9l1.4-3.9l1-0.4l2.4 1.3l2.4-0l2.4 0.7l2.4-0.2l2.4 1.6l2.4-0.6l2.4 2.5l2.4 0.7l2.3-1.8l0.1 1.2l2.4 8.6l0 0.2l2.4 3.4l2.4 2.4l2.4 1.7l2.4-0l2.4 2l2.4 0.1l2.4 0.4l2.4-0.9l2.4 0.6l2.4-1.6l2.4 1l2.4-1.4l2.4 0.5l2.4-1.1l2.4 0.9l2.4-1.7l2.4-0.4l2.4-0.1l2.4-1.3l2.4 0.7l2.4 2l2.4 1.2l2.4 1.1l2.3 3l0.1 0.4l2.4-3.3l2.4-1.3l2.4-1.3l2.4 0.5l2.4-1.5l2.4 0.3l2.4-1.3l2.4 1.1l2.4-1.5l2.4 0.7l2.4-0.4l2.4 0.6l2.4-1.1l2.4 0.6l2.4-1.7l2.4-0.1l2.4-1.7l2.4-0.8l2.4 0.6l2.4-1.3l2.4 0.8l2.4-1.2l2.4 0.6l2.4-1.4l2.4 0.7l2.4-1.2l2.4 0.1l2.4-1.6l2.4 0l2.4 0.2l2.4-1.8l2.4 0.2l0.6-0.4l1.2 20l0.6-9.2l0.7-10.8l1.7 0l2.4-1.9l2.4 0.5l2.4-1.7l2.4 0.9l2.4-1.6l2.4 0.8l2.4-1.2l2.4 0.1l2.4 1l2.4-1l2.4 0.6l2.4-1.2l2.4 0.7l2.4-1.5l2.4 1.2l2.4-1.1l2.4 1.1l2.4-1.3l2.4 0.7l2.4-1l2.4-0.1l2.4-1.6l2.4 0.7l2.4 0.1l2.4 2.9l2.4 2.6l0.9 1.3l1.5 0.2l2.4-1.5l2.4 0.6l2.4-1.7l2.4 0.4l2.4-0.7l2.4 0.9l1.6-0.7l0.8 2.1l2.4 8.9l0.5 1.5l1.9 16.1l0.7 6.4l1.7 11.2l2 11.3l0.4-1.7l2.1-10.8l0.3-1l2.4-5.5l2.3-6l0.1-0.6l2.4-1.5l2.4-3.2l0.1 0.3l2.3 1.4l2.4 0.2l0.3 0.9l2.1 16.1l1.7 13.9l0.7-4.7l2.4-16.4l0.6-3.9l1.8-2.1l2.4-4.4l2.4-1.4l2.4-3l2.4-0.4l2.4 0.8l0.2 0.5l2.2 24.9l0.3 2.6l2.1-20.2l0.4-4.8l2-0.2l2.4 0.4l2.4-1.8l2.4-0.4l0.8-0.5l1.6 21.2l0.9 11.3l1.5-6.5l2.4-8.1l2.4-9l1.2-3.9l1.2-0.4l2.4-1.9l1.4-0.2l1 10.2l2.4 21.4l1.6 15.9l0.8-2.9l2.4-11.7l1.8-7.9l0.6 0l2.4-3.7l2-1.3l0.4 1.1l2.1 8.9l0.3-2.8l2.2-27.2l0.2-0.3l2.4 0.4l2.4-0.7l2.4 0.1l2.4-2.1l2.4-0.2l2.4-2.4l0.4 0.2l2 2.2l2.4 1.4l0.6 1.4l1.8-1.1l2.4-2.4l2.4-2.6l2.4-0.2l2.4-0.7l2.4 0.8l2.4 0.9l2.4-1.7l2.4-1.6l2.4-4.7l1.6-1.7l0.8 3.9l2.4 7.8l1.8 5.8l0.6 6.2l1.9 16.3l0.5-5.6l2-21.9l0.4 10l2.1 50l0.3-6.9l2.2-45.6l0.2 0.4l2.4 0.2l2.4 2.6l2.4 0.3l2.4 1.9l2.4 1.3l0.3 0.8l1.2 60l0.8 12.5" fill="none" stroke="#16386a" stroke-width="2.3" stroke-linejoin="round"/>
<path d="M162.0 341.7l2.4-1.4l2.4 0.4l2.4-1.3l0.8 0.6l1.6 2.7l2.4 4l2.4 0.9l2.4 2.4l1.2 0l1.2-3l2.4-2.1l2.4-1.3l2.4 0.2l2.4 0.2l2.4-1.6l2.4 1.2l2.4-1.7l2.4 0.9l2.4-0.7l2.4 1.6l2.4-0.7l2.4 1.1l0-0.4l2.4 4.3l0.1 0.8l2.3-5.4l0.2 0.4l2.2-1l2.4 0.9l2.4-1.6l2.4 0l2.4-1.3l2.4 0.2l0.8-1l1.6 5.5l0.9 2l1.5-3.2l2.4-1.9l2.4-1.3l1.2-1.1l1.2 1.2l2.4 4.9l2.4 1.6l2.4 1.6l1.6-1.8l0.8 0.7l2.4 2.9l2.4 1.5l2.4 2.1l2 0.3l0.4-1.4l2.4-2.4l2.2-3.7l0.2-0.4l2.4 3.5l2.4 1.1l2.4 4.8l2.4 2.9l0.2 0.6l2.2-1.4l2.4-3.7l2.4 0.5l2.4-0.5l0.6 0.1l1.8 5.9l2.4 6.2l0.8 2.9l1.6 10.2l0.9 4.8l1.5-9.6l1-5.4l1.4-2.7l2.4-5.5l1.2-1.8l1.2 14.8l2.4 28.1l2.4 31.7l0.2 2.9l2.2-7l0.4-0.5l2-16l1.7-14l0.7 7.8l2.4 28l0.6 6.7l1.8-15.4l2-17.1l0.4-2.2l2.1-12.8l0.3-3.3l2.2-19.2l0.2 0.5l2.4 1.4l2.4 3.8l0-0.7l2.4-13.5l2.4-12.2l2.4-10.9l0.3-0.9l2.1 1.5l2.4 0.1l0.5 0.9l1.9 4.1l2.4 3.8l0.7 2.1l1.7 1.1l2.4 0.3l2.4 4.5l2.4 4l1.1 2.6l1.3 38.4l1.2 34.1l1.2 3.5l1.3 4l1.1 21.2l0.6 13.8l1.3-40l0.5-21.1l1.5-66.4l0.9-3.9l1.6-8.6l0.8-0.9l2.4-0.3l2.4-1.8l2.4-0.7l2.4-1l2.4-3.8l2.4-2l2.4 1.1l2.4-0.9l2.4 1.4l2.4-0.7l2.4 1.8l2.4-0.5l2.4 1l2.4-1.6l2.4 2.2l2.4 0.4l2.4 1l2.4 1.8l2.4 0.1l2.4-0.8l2.4-0.3l2.4-3l1.4-1.2l1 0.4l2.4 0.2l2.4 0l2.4-0.7l2.4-1.6l2.4 0.9l2.4-0.9l2.4-0.8l2.2-1.3l0.2-0.3l2.4 5l2.4 3.7l0 0.4l2.4 7.8l2.4 5.9l0.2 1.2l2.2-7.2l2.4-9.3l0.4-0.9l2-1.1l2.4-2.7l2.4 0l2.4-1.2l2.4 0.9l2.1 0.3l0.3 1.6l2.2 18.4l0.2 1.8l2.4 33.2l0 0.3l2.4 3.9l2.1 5.8l0.3-6.1l2.4-47.1l0.2-4.3l2.2 0.5l2.4-0.7l2.4 0.7l2.4 0.9l2.4 1.2l2.4 0.3l2.4-3.2l2.4-1.7l2.4 0.7l2.4-1.8l2.4 0.3l2.4-1.3l1.5-0.9l0.9 0.7l1.5 3.1l0.9 8.4l2.4 22.4l2.4 22.3l1.9 15.6l0.5 7.3l2.4 34.5l1.3 18.2l1.1-34.8l0.9-27.7l1.5-35.4l1-24.6l1.4-3.9l2.4-4.9l0 0.6l2.4-2.2l2.4-0l0.1-0.9l1.3 6.3l1-1.9l2.4-3l0.4-1.4l2-0.9l2.4 0.1l2.4-1.1l2.4-0l0.8-0.6l1.2 48.8l0.4 0.5l2.4 7.6l2.4 7l1 4.9l1.4 9.8l1.1 7.7l1.3-21.4l1.2-21.1l1.2-3.5l2.4-8.7l0.2-0.3l2.2-12.6l0.3-2.4l2.1-6.4l1.6-3.6l0.8-0.2l2.4-3.6l1.9-1.2l0.5 1.2l2.4 8.4l0.8 1.6l1.6-3.8l2.4-3.9l1-2.2l1.4-1l2.4 0.8l2.4-1.5l2.4-1.6l2.4 0.2l2.4 0l2.4-0.8l2.4 1.3l0.5 0.1l1.3 21.2l0.6-2.7l2.4-6.9l0.8-2.9l1.6 8.2l2.1 11.8l0.3 1.3l2.4 7.2l1 4l1.4-3.5l1.1-4l1.3 14.2l1.2 13.3l1.2-17.6l1.4-19.9l1-1.9l2.4-5.2l0.3-0.4l2.1-0.4l2.4-2.2l2.4-0.3l2.4-1.1l2.4-2.3l2.4-0.3l2.4-2l2.4 0.3l2.4-1.9l2.4-0.5l2.4-2.2l2.4-0.8l2.4-1.4l2.4 0.5l2.4-1.5l2.4 0.2l2.4 0l2 4.6l0.4 0.5l2.4-2.2l2.4-0.1l2.4-2.4l2.4-0.1l2.4-0.6l2.4 1.2l2.4-0.4l2.4 1.2l2.4 0.1l0.5 0.4l1.9 10.1l0.6 2.4l1.8-4.8l2.4-3l2.4-4.1l2.4-1l2.4-2.1l2.4-0.4l2.4-2.2l2.4 0.2l2.4-2l2.4 0.3l2.4-1.3l2.4 2.3l2.4 0.9l2.4-1.2l2.4 0.4l2.4 0.1l2.4 1.8l2.4-1l2.4 0.1l2.4-2.3l2.4 0.9l2.4 1.3l2.4-0.5l2.4 1l2.4-0.6l2.4 2.1l2.4-0.4l2.4 0.5l2.4 2.6l2.4-0.8l2.4 0.2l2.4 0.6l2.4-1.2l1.4-0.2l1 3l2.4 5.9l1.6 4.9l0.8-3.2l1.7-8.1l0.7-0.9l2.4-0.2l2.4-1.7l2.4 1.5l2.4-0.7l2.2 0.8l0.2 1.7l2.3 14.5l0.1-0.6l2.4-6.6l2.4-7.7l0.1-0.1l2.3-2l2.4-2.9l2.4 0.1l2.4-0.4l2.4 0.7l2.4-1.1l2.4-0.1l2.4-0.3l2.4 1.1l2.4-0.2l2.4 2.2l2.4 0.5l2.4 1.2l2.4-0.9l2.4-1.1l2.4-1.6l2.4-1.1l1.8-1.6l0.6-0.4l2.4 2.3l2.4 0.1l2.4 1.1l2.4 0.9l2.4 0.9l2.4 1.9l2.4 2.6l2.4 1l2.4 4l2.4 4.3l2.4 2.9l2.4 3l2.4 1.2l2.4 3l2.4-0.3l2.4 2l2.4 0.5l2.4 3.5l1.2 0.5l1.2 4.8l0.5 2.7l1.9-6.3l2.4-6.3l1.5-2.4l0.9 0.5l2.4-1.1l2.4 1l2.4-1.1l2.4 0.2l2.4-1.4l2.4 2.1l2.4-0.6l2.4-0.7l2.4-2.2l2.4 0.1l2.4-1.9l2.4-1.3l2.4-2.3l2.4-0.5l2.4-2l2.4 0l2.4-1.8l2.4 0.4l2.4-2.1l2.4-0.5l2.4-0.6l2.4 0.3l2.4-1.2l2.4 0.9l2.4-1.9l2.4 1.3l2.4-0l2.4 1.7l2.4-0.2l2.4 1.8l2.4 0.1l2.4 2.4l2.4 3.2l2.4 8l0-0.6l2.4 0.6l2.4 2.1l2.4-0.4l2.4 1.8l0.4-0.4l2 4.8l0.5 1.5l1.9-4l2.4-4.3l2.4-1.9l2.4 0.2l2.4-1.8l2.4 1.9l2.4-0.2l2.4 2.4l2.4-0.3l2.4 0.8l2.4-0.9l2.4 1l2.4-1.6l2.4 0.6l2.4-1l2.4 0.6l2.4-1.1l2.4 0.2l2.4-1.4l2.4 0.4l0 0.4l2.4 4.5l2.4 3.4l2.4 4.5l0.3 0.1l2.1-4.8l0.4-1.4l2-1l1.8-0.3l0.6 45.8l1.6 110.4l0.8-125.2l0.2-31l2.2-0.5l2.4-1.8l2.4-0.3l1-1.1l1.4-0.5l2.4 2.2l2.4-0.4l2.4 1.2l1.4-0.1l1 1.1l2.4 3.4l1.6 1.8l0.8-1.9l1.7-3.1l0.7 0.3l2.4-0.7l2.4 1l2.4-0.8l2.4 1.2l2.4-0.8l2.4 0.4l2.4 0.8l2.4-1.2l2.4 1l2.4-1.4l2.4 0.7l2.4-0.7l2.4 1l2.4-1.2l2.4 2l2 0.9l0.4 5.7l0.9 11.8l1.5-6.3l1-3.7l1.4-1l2.4-3.6l2.4-1.2l2.4-2.4l2.4-0.5l2.4-1.6l1.6 0.3l0.8 1.6l2.4 2.2l0.5 1.2l1.9 19.8l0.7 7.7l1.7 103.6l0.2 13.9l1.8-95l0.4-3.2l2.1-14.3l0.3-0.9l2.4-10.2l2.3-8.9l0.1 0.3l2.4-1.2l2.4-0l2.4 0.1l2.4 1.4l0.3-0.6l2.1 10.5l1.7 9.5l0.7-5.7l1.8-14.3l0.6-0.5l2.4-3.5l2.4-2.4l0.8-1.1l1.6-0.8l2.4 1.5l2.4-1.5l2.4 3.5l0.2-0.2l2.2 54.8l0.3 7.7l2.1-6.1l0.4-1.4l2-40.7l0.5-9.3l1.9-2.1l2.4-4.7l0.7-0.7l1.7 2.1l0.8 0.4l1.6 21l2.4 30.8l1 13.2l1.4-16.1l2.4-29.8l1.2-14.1l1.2-2l2.4-1.2l2.4-2.2l1.5-2.1l0.9 27.8l1.6 49.7l0.8-2.6l1.7-7.4l0.7-11.7l1.8-28.3l0.6 1.1l2.4 1.4l2 2.5l0.4 8.1l2.1 39.4l0.3-7.7l2.2-54.8l0.2-0.1l2.4 1.7l2.4 0.1l0 0.8l2.4-1.7l2.4-3.2l0.2-0.1l2.2-7.4l2.4-10.1l0.4-2.5l2-0.2l2.4 0.6l2.4-0.9l2.4 1l2.4-1.6l2.4-0.4l1-1l1.4 0.7l2.4 3.9l1.2 0.4l1.2-1.4l2.4-1.6l1.4-2l1 2.9l2.4 9.8l1.6 4.8l0.8-4.4l1.7-8.1l0.7 10.5l1.8 24.5l0.6-8.8l1.9-26.2l0.5 3.9l2.4 17.2l2.1 16.4l0.3-3.7l2.2-28.8l0.2 1l2.4 1.3l2.4 3.4l2.4-1.4l2.4 1.1l0.2-0.4l2.2 52.3l0.3 7.7l1.2 15" fill="none" stroke="#000000" stroke-width="2.3" stroke-linejoin="round"/>
<path d="M162.0 357.2l2.4-2.4l2.4-1.3l2.4-2.5l2.4-0.1l0.9-0.9l1.5 1.3l2.4 2.9l2.4 0.1l2.4 1l1.3-0.3l1.1 6l1.4 9l1-6.2l1.5-8.8l0.9-0.3l2.4-3.2l2.4-1.3l2.4-0.7l2.4 1.2l2.4-1.4l2.4 0.6l2.4 1.2l2.4-0.5l2.4 0.8l0-0.1l2.4 4.4l0.1 0.6l2.3-3.1l2.4-1.9l2.4 0.8l2.4-1.3l2.4 0.3l2.4-1.3l0.7 0.2l1.7 4.1l0.8 0.9l1.2 28.8l0.4-6.9l0.9-16.9l1.5-2.4l2.2-5.1l0.2 1.2l2.4 24.5l1.2 11.8l1.2-26.5l0.1-1l2.3-4l1.4-3.5l1 1.2l2.4 5.9l1.6 2.9l0.8 4l1.7 9.8l0.7-3.2l1.8-5.6l0.6 3l2.4 10.3l2 9.2l0.4-2l2.1-15.5l0.3-0.9l2.4-5.6l2.3-6l0.1 0.5l2.4 22.2l0-0.2l2.4 1.5l2.4 0.7l0.2 0.3l2.2-14.8l0.3-2.7l2.1 6.2l0.4 1.3l2-4.7l2.4-5.8l0.6-2l1.8 1.4l2.4 3.9l2.4 3.2l2.4 4.8l1 1.7l1.4-2.6l2.4-2.8l1.2-2.1l1.2 10.1l2.4 21.8l0.1 0.6l1.3 35l1 49.1l0.8 37.1l1.4-81.2l0.2-4.2l1.6-35.8l0.8-7.3l1.7-17.7l0.7-3.5l1.8-6.5l0.6 6.5l1.9 18.5l0.5-4.8l2-17.7l0.4-1.3l2.4-2.3l2.2-3.9l0.2-0.2l2.3 5.2l0.1 0.6l2.4 29.7l0-0.3l1.2 25l1.2-37l0.1-3l2.3-28.2l0.2-1.8l2.2-3.7l2.4-6.3l0.4 0l2 2.2l2.4 1.6l0.6 1.2l1.8 11.4l0.7 3.6l1.7 1.8l2.4 3l2.4 0.3l2.4 2.6l1.1-0.2l1.3 21.4l1.2 21.1l1.2 12.6l2.4 25.8l0.6 9.1l0.8-32.5l1-23.6l1.5-36.4l0.9-1.5l2.4-2.9l2.4-4.9l2.4-2.6l2.4-4.7l2.4-4.1l2.1-4.3l0.3-0.3l2.4-0.2l2.4-1.5l2.4-0l2.4 0.3l2.4-0.3l2.4 1.7l2.4 0l2.4 1.1l2.4 1l2.4 1l2.4 3.9l2.4 1.2l2.4 2.3l2.4 1.1l2.4 3l1.2 0.7l1.2-0.9l2.4 0.2l2.4-1.5l2.4 0.7l2.4-1.8l2.4 0.3l2.4 0.1l2.4-0.8l2.4 1.7l2.4-0.7l2.2 0.2l0.2 3.4l2.3 34.1l0.1-1.4l2.4-28.4l0-0.2l2.4 0.7l2.4-1.2l2.4-0.1l2.4-2.1l2.4-1.2l2.4-3.3l2.4-0.2l2.4-0.8l2.4 1.5l2.1 1.7l0.3 3.3l2.4 26l1.1 13.2l1.3 4.2l2.4 5.1l2.4 11.1l0.6 2.1l1.8-51l0.2-6.5l2.2-2.1l2.4-3.8l2.4-1l2.4-0.9l2.4-3.5l2.4-1l2.4-1.2l2.4-1.8l2.4-0.4l2.4-0.9l2.4 0.1l2.4 1l0.2-0.8l2.2 4.5l2.4 6.1l0.4 0.7l2 14.7l2.4 17.7l0.6 5.1l1.8 24.1l2.4 30.8l0.8 11.4l1.6-24.2l0.9-14.6l1.5-28.5l2.2-41.5l0.2 0.3l2.4-3l1.2-1.1l1.2 1.6l2.4 1.9l2.4 2.5l2.4-0.7l2.4 2l2.4-0.7l1.8 0.9l0.6 4.7l2.4 15.1l2 14l0.4 1.7l2.4 5.1l2.4 7.1l2.4 6.9l1.1 4.2l1.3 33.2l0-0.7l2.4-46l0.1-1.5l2.3-12.5l2.4-12.6l0.3-2.4l2.1-2.3l2.4-2.5l0.5-0.2l1.9 6.8l1.9 5.7l0.5-2.1l2.4-8.3l0.8-2.1l1.6-2.8l2.4-3.7l2.4-3.3l2.4-4.7l2.4-5.2l2.4-3.8l1.4-2.8l1 0.5l2.4 1.7l2.4 1.7l2.4 2.5l2.4 3.8l2.4 3.3l2 2.8l0.4 1.3l2.4 11.8l2.4 9.9l2.4 10.6l2.4 8.7l0 0.2l2.4-26.1l1.4-13.9l1-1.4l2.4-6l2.4-1.6l2.4-3.4l2.4-0.4l2.4-1.8l2.4 0.3l2.4-2l2.4-0.9l2.4-2.6l2.4 0.7l2.4-1.8l2.4 0.2l2.4-1.5l2.4 0.7l2.4-1.7l2.4 0.4l2.4-1.6l2.4 0.2l2.4-1.5l2.4 1.3l2.4-1.4l2.4 0.3l2.4-1.5l2.4 1.5l2.4-0.9l2.4 0l2.4-0.7l2.4 2.4l0.5-0.3l1.2 8.8l0.7-1.2l2.4-1.2l2.4-2.7l2.4 0.5l2.4-2l2.4 0.2l2.4-1.2l2.4 0.8l2.4-1.1l2.4 0.5l2.4-1.2l2.4 1.1l2.4-1.6l2.4 0.5l2.4-1l2.4 0.6l2.4-1.4l2.4 0.2l2.4 0.4l2.4-0.8l2.4 1.1l2.4-0.9l2.4 1.1l2.4-1.1l0.4 0.4l2 6.1l0.5 1.4l1.9-5.5l0.6-0.8l1.8-0.1l2.4-2.1l2.4 0.7l2.4-0.2l2.4 0.7l2.4-1.1l2.4 0.2l2.4-1l1.4 0.4l1 3.7l2.4 7.7l1.6 6.1l0.8-3.2l1.7-9.3l0.7-0.5l2.4-0l2.4-1.9l2.4 0.2l2.4-1.2l2.4-1.4l2.4-0.2l2.4-1.5l2.4 0.5l2.4-1.6l2.4 0.8l2.4-1.1l2.4 0.9l2.4-1.5l2.4 0.9l2.4-1.8l2.4 1.7l2.4-0.2l2.4 0.6l2.4 0.2l2.4 1.6l2.4 0.2l2.4 1.9l2.4-2.4l2.4-1l2.4-0.4l2.4-1.6l2.4 0.4l2.4-1.2l2.4 0.7l2.4-1.3l2.4-0.3l2.4 1.2l2.4-0.2l2.4 0.9l2.4-0.7l2.4 1l2.4-1l2.4 1l2.4-0.4l2.4 0.8l2.4-0.3l2.4 0.8l2.4 0.4l2.4 2l1.2 0l1.2 3.8l1.3 4.9l1.1-4.5l1.4-6.7l1-0.6l2.4 0.3l2.4-0.9l2.4 0.4l2.4-1.5l2.4 0.4l2.4-1.3l2.4 0.7l2.4-1l2.4 0.4l2.4-1.1l2.4 0.8l2.4-0.7l2.4 0l2.4 0.5l2.4 0.5l2.4 1l2.4-0.2l2.4 1.6l2.4-0.8l2.4 0.9l2.4-0.8l2.4 0.3l2.4-0.1l2.4 1l2.4-1.1l2.4 1.5l2.4-0.2l2.4 1l2.4-0.8l2.4 1.4l2.4-0.5l2.4 0.9l2.4-0.2l2.4 1.2l2.4 1.4l0 0.6l2.4 24.6l0.1 0.4l2.3-10.8l0.2-1.7l2.2 0.4l2.4 1.2l0.4 0.9l2-5.6l2.4-8.3l0.6-1.1l1.8 0.3l2.4-0.5l2.4-1.3l2.4 1l2.4-1l2.4 1l2.4-1.2l2.4 1.1l2.4-1.5l2.4 1l2.4-1.3l2.4 0.4l2.4-0.9l2.4 1l2.4-1.2l2.4-0.1l2.4 0.1l2.4 1.1l2.4-1.2l2.4 0.1l0.1 0.6l2.3 3.4l2.4 1.9l2.4 2.1l2.4 0.8l2.4 2.2l0.6-0.4l1 117.5l0.8-94.2l0.2-23.3l2.2-2.2l2.4-1.2l2.4-2.5l1-0.4l1.4 0.6l2.4-1.2l2.4 1.2l2.4-0.7l2.4 0.8l2.4-0.8l2.4 0.5l2.4-0.9l2.4 1.3l2.4-1.3l2.4 0.8l2.4-1l2.4 1.3l2.4-0.6l2.4-1l2.4 0.3l2.4-1.2l2.4-0.5l2.4 0.5l0.4-0.6l2 3.9l2.4 3.3l2.4-0.8l2.4 0.8l2.4-0.6l2.4 2.3l2.4 0.1l2.4 1.3l2.4 0.8l2.4 0.5l2.4-0.4l2.4 2.3l2.4 0.8l2.4 4.5l0.5 0l1.9 23.9l0.7 8.6l1.7 100.8l0.2 14.2l1.8-95l0.4-2.2l2.4-11.2l2.4-10.1l2.3-9l0.1-0.5l2.4-4.1l2.4-5.4l0.1 0l2.3 1.9l2.4-0.2l0.3 0.8l2.1 5l1.7 2.5l0.7-2.4l2.4-10.3l0.6-2.3l1.8-3l2.4-5.9l0.8-1.1l1.6-0l2.4-1.1l2.4 0.4l2.4-2.3l0.2 0.5l2.2 35.5l0.3 4.5l2.1-30l0.4-5l2-1.3l2.4-3.6l2.4-0.2l2.4-1.5l0.8 0.4l1.6 18.8l2.2 24.9l0.2-2.7l2.4-23.6l1.1-11.2l1.3-0.8l2.4 0.4l2.4-1.2l1.4 0.4l1 11l2.4 24.9l1.6 17.8l0.8-2.1l2.4-9.3l0.5-1.1l1.9-12.6l2.4-18.5l2-13.9l0.4 7l2.1 33l0.3-5l2.2-35l0.2 0.7l2.4-0.4l2.4 1.3l2.4-0.1l2.4 1.4l2.4-0.5l2.4 1.6l0.4-0.2l2 36.4l1.8 32.3l0.6-11l2.4-42.3l0.7-11.7l1.7-0.7l2.4-2l0.9 0.2l1.5 17.6l2.2 24.9l0.2-2.3l2.4-26.2l1.2-14l1.2 7l2.4 16.6l1.4 8.9l1-7.7l2.4-15.6l1.6-11.7l0.8 1.3l2.4 7l1.8 4.2l0.6-0.9l2.4-0.5l2-1.1l0.4 7.3l2.1 40.2l0.3-5.5l2.2-42l0.2-0.4l2.4 0.6l2.4-0.4l2.4 2.1l2.4 0.1l0.2 0.5l2.2 33.5l0.3 4l0.5 80" fill="none" stroke="#ff0000" stroke-width="2.3" stroke-linejoin="round"/>
<path d="M267.5 355.3h0M269.1 353.9h0M270.7 353.8h0M272.3 351.2h0M274.3 350.4h0M276.2 346.7h0M277.9 343.9h0M280.0 344.7h0M282.1 349.5h0M283.8 350.0h0M285.6 350.9h0M287.5 355.5h0M289.4 357.0h0M290.6 353.0h0M291.9 357.4h0M293.3 356.6h0M294.6 356.0h0M295.9 355.9h0M297.2 358.3h0M299.4 360.2h0M301.5 364.4h0M302.7 369.0h0M303.0 371.4h0M303.4 379.5h0M303.7 385.5h0M304.0 390.4h0M304.4 393.6h0M304.7 395.9h0M305.0 400.6h0M305.4 406.2h0M305.7 415.1h0M306.0 417.0h0M306.4 422.3h0M306.7 429.8h0M307.0 432.0h0M307.4 438.1h0M307.8 442.5h0M308.3 445.6h0M308.8 453.0h0M309.3 459.2h0M309.8 460.9h0M310.1 461.2h0M310.2 457.1h0M310.4 450.3h0M310.6 447.5h0M310.7 444.1h0M310.9 438.3h0M311.1 432.7h0M311.2 429.3h0M311.4 420.9h0M311.6 417.9h0M311.7 412.0h0M311.9 408.1h0M312.1 400.7h0M312.2 398.9h0M312.4 390.7h0M312.7 386.0h0M313.1 384.2h0M313.5 379.9h0M313.9 372.5h0M314.3 367.4h0M314.8 361.6h0M315.1 361.0h0M315.4 367.6h0M315.8 370.5h0M316.1 375.2h0M316.4 381.8h0M316.7 385.4h0M317.0 392.7h0M317.3 398.5h0M317.7 403.2h0M318.3 406.7h0M318.8 411.0h0M319.3 416.3h0M319.9 419.2h0M320.4 419.5h0M320.8 412.8h0M321.3 407.8h0M321.8 401.7h0M322.3 398.5h0M322.7 394.2h0M323.2 388.3h0M323.7 385.7h0M324.1 379.8h0M324.6 372.8h0M324.2 370.9h0M326.4 370.6h0M328.5 366.6h0M329.7 365.6h0M331.3 362.2h0M332.9 363.5h0M334.5 362.5h0M336.5 358.4h0M338.1 354.3h0M339.8 351.0h0M341.7 351.9h0M343.8 353.7h0M346.1 355.1h0M348.2 359.6h0M350.5 365.9h0M352.1 367.4h0M353.8 369.7h0M355.3 374.2h0M356.1 381.6h0M356.9 384.1h0" fill="none" stroke="#808080" stroke-width="3.6" stroke-linecap="round"/>
<path d="M413.8 369.7h0M415.0 370.8h0M416.3 373.4h0M417.5 371.3h0M418.8 372.1h0M421.0 374.0h0M423.0 373.8h0M425.4 376.9h0M427.4 374.6h0M429.4 372.6h0M430.4 367.9h0M431.9 369.8h0M433.3 369.4h0M434.7 374.1h0M436.8 370.9h0M438.8 364.2h0M438.6 367.7h0M439.4 367.6h0M440.2 365.9h0M441.0 365.6h0M441.8 363.1h0M442.6 362.3h0M443.4 365.2h0M444.2 362.5h0M445.7 362.9h0M447.2 362.5h0M448.6 360.6h0M449.2 362.3h0M450.0 362.2h0M450.8 364.4h0M451.6 362.6h0M452.4 363.3h0M453.2 362.5h0M454.0 363.4h0M454.8 362.3h0M455.6 361.3h0M456.4 365.3h0M457.2 365.3h0M458.0 364.4h0M458.8 363.7h0M459.6 361.5h0M460.4 361.0h0M461.2 361.3h0M462.0 360.1h0M462.8 364.0h0M463.6 361.9h0M464.4 364.4h0M465.2 361.9h0M466.0 365.1h0M466.8 364.4h0M467.6 359.7h0M468.4 360.9h0M469.2 364.8h0M471.6 364.7h0M473.5 370.5h0M475.2 371.6h0M475.5 374.5h0M475.9 382.4h0M476.3 388.0h0M476.6 389.9h0M477.0 393.6h0M477.4 399.8h0M477.7 408.1h0M478.0 411.7h0M478.2 412.9h0M478.5 418.4h0M478.8 422.4h0M479.1 426.9h0M479.4 435.8h0M479.6 437.1h0M479.9 444.0h0M480.2 448.2h0M480.5 451.5h0M480.7 459.4h0M481.0 460.8h0M481.3 468.4h0M481.5 470.2h0M481.8 476.7h0M482.1 480.3h0M482.3 485.4h0M482.9 493.7h0M484.2 496.9h0M485.2 494.0h0M485.6 492.5h0M485.9 484.0h0M486.3 480.2h0M486.6 478.0h0M487.0 472.1h0M487.4 464.3h0M487.6 464.5h0M487.7 455.3h0M487.8 450.8h0M488.0 448.9h0M488.1 441.6h0M488.2 436.6h0M488.3 430.6h0M488.5 425.9h0M488.6 423.8h0M488.7 417.1h0M489.0 414.4h0M489.2 408.3h0M489.5 404.0h0M489.8 402.0h0M489.8 395.3h0M491.6 392.3h0M493.4 390.3h0M493.7 382.3h0M495.3 383.3h0M497.0 388.6h0M498.7 389.3h0M500.5 382.1h0M501.9 377.6h0M503.3 376.5h0M504.7 373.4h0M506.3 365.7h0M508.1 366.3h0M509.8 367.3h0M511.3 369.8h0M511.3 371.3h0M513.0 370.6h0M514.7 371.4h0M517.1 379.8h0M518.6 379.8h0M520.1 386.9h0M520.6 389.1h0M521.1 397.0h0M521.7 400.5h0M522.2 403.5h0M522.7 407.6h0M523.3 415.3h0M523.9 416.4h0M524.5 422.0h0M525.1 428.5h0M525.6 434.9h0M526.1 438.3h0M526.7 441.1h0M527.2 449.4h0M527.6 450.2h0M528.0 453.9h0M528.3 460.1h0M528.7 465.8h0M529.0 468.4h0M529.3 473.9h0M529.7 479.7h0M530.0 485.3h0M530.8 478.2h0M531.6 474.8h0M532.3 473.2h0M533.0 469.0h0M533.7 462.5h0M534.4 458.0h0M535.0 452.7h0M535.5 445.5h0M536.0 440.2h0M536.4 435.4h0M536.9 435.6h0M537.4 429.7h0M537.9 426.4h0M538.3 416.4h0M538.8 415.1h0M539.3 409.5h0M539.8 406.2h0M540.6 400.7h0M542.6 401.8h0M544.5 392.7h0M545.8 391.1h0M547.0 387.8h0M548.2 384.3h0M549.3 379.0h0M550.4 375.7h0M552.4 373.5h0M554.5 374.2h0M556.0 375.1h0M557.5 381.0h0M558.0 386.9h0M558.5 391.5h0M559.1 393.7h0M559.6 400.5h0M560.0 405.6h0M560.2 408.8h0M560.4 413.9h0M560.6 417.3h0M560.8 423.2h0M561.0 428.2h0M561.2 430.0h0M561.4 437.9h0M561.6 444.7h0M561.8 448.8h0M562.0 452.8h0M562.2 455.7h0M562.3 462.4h0M562.6 466.3h0M563.0 470.3h0M563.4 477.3h0M563.8 477.8h0M564.2 486.3h0M564.6 487.0h0M564.9 495.0h0M565.6 490.8h0M566.2 484.7h0M566.9 482.7h0M567.6 478.1h0M567.9 483.5h0M568.3 490.0h0M568.7 491.0h0M569.1 494.4h0M569.5 500.8h0M569.9 507.7h0M570.4 501.9h0M571.0 497.0h0M571.5 496.4h0M572.0 490.3h0M572.5 484.4h0M573.1 482.2h0M573.7 474.4h0M574.3 471.5h0M574.9 464.2h0M575.3 460.8h0M575.8 458.1h0M576.2 454.0h0M576.6 449.1h0M577.1 441.5h0M577.5 437.9h0M578.0 431.7h0M578.6 426.0h0M579.1 423.3h0M579.6 420.4h0M580.1 415.8h0M580.6 410.3h0M581.1 406.9h0M581.5 398.4h0M582.0 393.0h0M582.5 389.9h0M584.0 384.8h0M585.5 380.5h0M586.7 381.9h0M587.6 387.7h0M588.4 391.5h0M589.3 395.1h0M590.1 401.1h0M590.6 397.1h0M591.1 389.4h0M591.7 382.6h0M592.2 377.6h0M592.5 379.6h0M594.5 372.9h0M595.8 375.8h0M597.2 374.3h0M598.6 372.1h0M600.1 374.1h0M601.5 369.1h0M602.9 369.0h0M604.4 370.1h0M605.1 367.3h0M605.9 371.8h0M606.7 368.5h0M607.5 368.0h0M608.3 367.5h0M609.1 370.7h0M609.9 369.7h0M611.3 371.4h0M612.8 372.3h0M614.2 373.8h0M614.9 375.1h0M615.7 373.5h0M616.5 370.8h0M617.3 372.4h0M618.1 370.7h0M618.9 369.8h0M619.7 372.3h0M620.9 378.0h0M621.8 379.5h0M622.6 384.7h0M623.1 389.9h0M623.5 396.6h0M624.0 400.3h0M624.5 405.6h0M625.0 411.1h0M625.7 405.1h0M626.5 402.7h0M627.3 398.7h0M627.7 396.0h0M627.9 405.6h0M628.1 409.2h0M628.4 410.6h0M628.6 417.2h0M628.9 423.0h0M629.1 429.3h0M629.3 431.1h0M629.6 437.0h0M629.8 443.5h0M630.1 445.5h0M630.4 441.5h0M630.8 434.1h0M631.1 430.4h0M631.4 423.1h0M631.8 421.2h0M632.1 417.0h0M632.5 411.2h0M633.3 407.1h0M634.2 399.7h0M634.8 400.0h0M636.8 397.5h0M638.8 394.5h0M640.8 388.6h0M642.6 386.5h0M644.4 380.2h0M646.2 380.5h0M648.2 377.2h0M649.7 372.0h0M651.6 368.5h0M653.6 368.5h0M654.7 367.9h0M656.1 368.4h0M657.6 366.2h0M659.0 362.9h0M660.4 366.5h0M661.8 361.6h0M663.3 365.0h0M664.7 360.8h0M665.7 361.4h0M666.7 363.7h0M667.7 359.8h0M668.7 359.6h0M669.7 361.4h0M670.7 362.3h0M671.7 362.7h0M672.7 361.6h0M673.7 362.8h0M674.7 360.0h0M676.2 361.9h0M677.6 356.4h0M679.0 356.4h0M680.0 357.7h0M681.0 356.1h0M682.0 358.3h0M683.0 357.5h0M684.0 356.6h0M685.0 358.2h0M686.0 356.3h0M687.0 354.7h0M688.0 354.8h0M689.0 357.2h0M690.0 357.2h0M691.0 353.1h0M692.0 356.5h0M693.0 356.9h0M694.0 354.1h0M694.8 354.2h0M695.6 352.1h0M696.4 354.0h0M697.2 353.8h0M698.0 354.3h0M698.8 351.1h0M699.6 356.4h0M701.8 356.5h0M702.9 360.3h0M703.5 367.3h0M704.4 365.3h0M705.5 360.5h0M706.6 358.0h0M708.5 351.3h0M708.2 351.0h0M709.2 350.6h0M710.2 353.9h0M711.2 353.9h0M712.2 350.5h0M713.2 351.9h0M714.2 350.2h0M715.2 352.2h0M716.2 354.6h0M717.2 355.3h0M718.2 353.2h0M719.2 352.5h0M720.0 352.0h0M720.8 354.4h0M721.6 356.1h0M722.4 351.7h0M723.2 355.3h0M724.0 351.1h0M724.8 352.0h0M725.6 352.3h0M726.5 354.9h0M727.3 353.0h0M728.1 353.3h0M729.0 354.8h0M729.8 352.0h0M730.6 355.6h0M731.5 352.3h0M732.3 354.5h0" fill="none" stroke="#808080" stroke-width="3.6" stroke-linecap="round"/>
<path d="M747.5 348.6h0M748.9 350.3h0M750.4 351.1h0M751.8 348.9h0M752.7 348.6h0M753.7 350.9h0M754.7 350.5h0M755.8 353.8h0M756.8 353.4h0M757.6 353.1h0M758.4 352.8h0M759.2 353.3h0M760.0 350.3h0M760.8 351.9h0M761.6 350.3h0M762.4 354.4h0M763.3 349.6h0M764.1 353.8h0M764.9 349.6h0M766.8 354.6h0M768.7 354.2h0M771.0 354.2h0M771.6 354.9h0M773.0 349.6h0M774.4 349.1h0M775.9 353.1h0M777.3 350.2h0M778.2 347.6h0M779.1 352.5h0M779.9 352.1h0M780.8 347.3h0M781.7 348.9h0M782.6 347.1h0M783.5 347.9h0M784.4 349.5h0M785.3 346.8h0M786.2 349.7h0M787.1 345.9h0M787.9 346.5h0M788.8 349.9h0M789.7 347.5h0M791.0 347.9h0M792.2 349.4h0M793.5 349.3h0M794.7 349.2h0M795.7 347.6h0M796.7 351.7h0M797.7 353.3h0M798.7 353.6h0M799.7 352.1h0M800.7 350.6h0M801.8 350.9h0M802.8 353.0h0M803.8 353.2h0M804.8 350.3h0M805.8 350.8h0M806.8 351.3h0M807.8 351.9h0M808.8 353.3h0M809.8 351.3h0M810.8 348.4h0M811.8 352.6h0M812.8 350.2h0M813.8 350.4h0M814.8 348.5h0M816.3 349.0h0M817.7 348.0h0M819.1 349.5h0M820.5 345.0h0M822.0 346.8h0M823.4 344.0h0M824.8 346.2h0M825.8 342.6h0M826.8 344.2h0M827.8 344.8h0M828.8 346.7h0M829.9 343.7h0M831.3 346.7h0M832.7 346.0h0M834.2 347.1h0M835.1 348.6h0M836.1 351.6h0M837.1 349.2h0M838.1 352.1h0M839.1 347.9h0M840.1 352.3h0M841.1 349.0h0M842.1 347.7h0M843.1 350.6h0M844.1 351.3h0M845.3 345.9h0M846.4 347.0h0M847.6 349.4h0M848.7 346.6h0M849.2 347.1h0M850.2 346.1h0M851.2 346.5h0M852.3 350.0h0M853.3 352.3h0M854.3 352.6h0M855.3 350.0h0M856.3 347.0h0M857.3 348.4h0M858.3 350.8h0M859.3 350.8h0M860.3 349.6h0M861.3 347.6h0M862.3 349.5h0M863.3 349.4h0M864.3 350.5h0M865.3 348.7h0M866.3 352.8h0M867.3 352.8h0M868.3 348.9h0M869.3 349.9h0M870.3 353.3h0M871.3 349.7h0M872.3 353.2h0M873.3 350.5h0M874.3 351.3h0M875.8 350.7h0M877.3 347.3h0M878.7 346.9h0M879.6 346.0h0M880.6 348.7h0M881.6 349.0h0M882.6 346.1h0M883.6 350.6h0M884.6 348.2h0M885.6 347.1h0M886.6 348.0h0M887.6 350.8h0M888.6 348.2h0M889.6 348.3h0M890.6 350.0h0M891.6 350.5h0M892.6 349.6h0M893.6 348.0h0M894.7 349.2h0M895.7 351.2h0M896.7 350.8h0M897.7 349.9h0M898.7 348.8h0M899.7 349.2h0M901.1 350.8h0M902.6 349.1h0M904.0 345.3h0M904.9 348.7h0M905.9 350.0h0M906.9 349.6h0M907.9 350.5h0M908.9 350.8h0M909.9 348.9h0M911.4 351.1h0M912.8 349.5h0M914.2 348.6h0M915.2 350.4h0M916.2 349.9h0M917.2 353.1h0M918.2 351.5h0M919.2 350.4h0M920.2 350.6h0M921.2 347.6h0M922.2 349.6h0M923.2 350.3h0M924.2 348.4h0M925.0 347.3h0M925.8 348.2h0M926.6 347.8h0M927.4 349.8h0M928.2 346.7h0M929.0 346.5h0M929.8 347.7h0M930.8 350.0h0M931.8 350.7h0M932.8 350.3h0M933.8 352.1h0M934.8 349.2h0M935.8 347.2h0M936.8 349.5h0M937.8 349.0h0M938.8 347.2h0M939.8 349.7h0M940.6 347.9h0M941.4 347.3h0M942.2 347.8h0M943.0 351.2h0M943.8 346.0h0M944.6 348.0h0M945.6 347.7h0M946.7 347.5h0M947.7 349.0h0M948.7 348.1h0M949.7 352.3h0M950.5 350.0h0M951.3 351.0h0M952.2 347.9h0M953.0 349.5h0M953.8 350.2h0M954.7 351.5h0M955.5 348.0h0M956.4 349.1h0M957.3 351.1h0M958.2 350.9h0M959.1 347.4h0M959.9 349.0h0M960.9 350.4h0M962.0 348.7h0M963.0 350.5h0M964.0 350.7h0M965.0 352.6h0M965.8 350.2h0M966.6 350.8h0M967.5 348.9h0M968.3 351.0h0M969.1 348.6h0M970.0 349.5h0M970.9 348.6h0M971.7 348.2h0M972.6 347.1h0M973.5 347.4h0M974.4 349.1h0M975.2 347.4h0M976.0 346.2h0M976.8 350.5h0M977.6 347.5h0M978.4 351.2h0M979.2 349.3h0M980.0 348.1h0M980.8 350.8h0M981.6 351.0h0M982.4 347.7h0M983.2 346.7h0M984.0 349.5h0M984.8 350.7h0M985.6 349.4h0M986.4 350.3h0M987.2 348.3h0M988.0 349.4h0M988.8 347.4h0M989.6 348.2h0M990.4 348.1h0M991.3 348.3h0M992.2 348.5h0M993.1 350.9h0M994.0 347.5h0M994.8 347.8h0M995.7 348.2h0M996.5 352.3h0M997.3 349.9h0M998.2 347.3h0M999.0 351.8h0M999.8 352.1h0M1000.6 351.8h0M1001.4 349.2h0M1002.2 351.3h0M1003.0 348.9h0M1003.8 348.0h0M1004.6 352.0h0M1005.7 351.7h0M1006.7 348.0h0M1007.7 351.5h0M1008.7 346.4h0M1009.7 347.8h0M1010.5 346.1h0M1011.4 347.1h0M1012.3 347.2h0M1013.2 350.4h0M1014.1 348.2h0M1014.9 347.8h0M1015.8 347.6h0M1016.7 348.2h0M1017.6 351.1h0M1018.5 349.6h0M1019.3 346.6h0M1020.1 349.8h0M1020.9 349.0h0M1021.7 348.5h0M1022.5 348.9h0M1023.3 349.6h0M1024.1 350.4h0M1024.9 348.8h0M1025.7 349.5h0M1026.5 348.6h0M1027.3 349.5h0M1028.1 348.1h0M1028.9 348.3h0M1029.7 348.8h0M1030.5 350.0h0M1031.3 347.5h0M1032.1 351.1h0M1032.9 348.7h0M1033.7 350.7h0M1034.5 349.8h0M1035.4 351.4h0M1036.3 350.0h0M1037.2 348.7h0M1038.0 348.7h0M1038.9 349.9h0M1039.8 350.9h0M1040.7 351.3h0M1041.6 347.2h0M1042.4 346.7h0M1043.3 346.8h0M1044.2 346.5h0M1045.2 346.3h0M1046.2 346.3h0M1047.2 347.9h0M1048.2 347.4h0M1049.2 350.8h0M1050.0 350.6h0M1050.8 352.6h0M1051.6 352.6h0M1052.4 351.4h0M1053.2 352.5h0M1054.0 347.4h0M1054.8 348.5h0M1055.8 352.6h0M1056.8 350.3h0M1057.8 349.1h0M1058.8 352.4h0M1059.8 350.8h0M1061.0 351.8h0M1062.1 350.9h0M1063.2 350.9h0M1064.3 354.3h0M1065.0 361.9h0M1065.5 368.6h0M1065.7 373.6h0M1065.9 377.2h0M1066.1 382.9h0M1066.3 384.5h0M1066.5 388.8h0M1066.7 387.5h0M1066.9 380.9h0M1067.1 376.5h0M1067.4 368.1h0M1067.7 364.6h0M1068.4 361.3h0M1069.0 358.1h0M1069.7 353.9h0M1069.0 351.7h0M1070.0 349.1h0M1071.0 349.1h0M1072.0 351.5h0M1073.0 352.0h0M1074.0 348.9h0M1075.0 347.0h0M1075.8 349.4h0M1076.6 349.0h0M1077.4 348.0h0M1078.2 347.2h0M1079.0 348.1h0M1079.8 349.4h0M1080.8 346.9h0M1081.8 349.4h0M1082.8 352.0h0M1083.8 351.1h0M1084.8 348.6h0M1085.6 349.5h0M1086.4 347.8h0M1087.2 351.3h0M1088.0 350.7h0M1088.8 348.2h0M1089.6 350.3h0M1090.6 350.7h0M1091.6 350.8h0M1092.6 350.0h0M1093.6 349.8h0M1094.6 350.3h0M1095.6 354.2h0M1096.6 350.7h0M1097.6 351.9h0M1098.7 351.9h0M1099.7 350.6h0M1100.4 351.9h0M1101.2 350.8h0M1102.0 351.5h0M1102.8 351.8h0M1103.6 351.7h0M1104.4 355.0h0M1105.2 351.4h0M1106.0 351.6h0M1106.8 353.4h0M1107.6 351.9h0M1108.4 352.6h0M1109.2 353.3h0M1110.0 350.1h0M1110.8 353.5h0M1111.6 350.3h0M1112.4 351.1h0M1113.2 354.2h0M1114.0 355.2h0M1114.8 353.5h0M1115.6 350.7h0M1116.4 352.2h0M1117.2 351.3h0M1118.0 354.4h0M1118.8 351.0h0M1119.6 350.8h0M1120.7 353.4h0M1121.7 353.7h0M1122.7 353.7h0M1123.7 353.3h0M1124.7 356.2h0M1125.5 353.5h0M1126.3 356.2h0M1127.1 353.1h0M1127.9 353.6h0M1128.7 353.0h0M1129.5 355.0h0M1130.3 355.2h0M1131.1 352.3h0M1131.9 353.9h0M1132.7 355.0h0M1133.5 353.8h0M1134.3 354.7h0M1135.1 354.4h0M1135.9 355.0h0M1136.7 352.9h0M1137.5 352.7h0M1138.3 351.1h0M1139.1 355.9h0M1139.9 355.4h0M1140.9 352.9h0M1141.9 355.9h0M1142.9 355.3h0M1143.9 350.8h0M1144.9 354.4h0M1145.9 351.8h0M1146.9 351.0h0M1147.9 350.4h0M1148.9 351.0h0M1149.9 348.8h0M1151.9 350.7h0M1154.0 355.0h0M1154.5 360.8h0M1155.0 364.7h0M1155.6 369.2h0M1156.1 377.9h0M1156.4 380.1h0M1156.6 385.6h0M1156.8 391.0h0M1157.0 397.6h0M1157.2 398.0h0M1157.4 403.2h0M1157.6 411.6h0M1157.9 416.6h0M1158.1 421.5h0M1158.3 424.1h0M1158.5 428.0h0M1158.7 431.7h0M1159.0 434.1h0M1159.4 428.5h0M1159.8 422.5h0M1160.2 419.1h0M1160.6 411.4h0M1161.0 408.2h0M1161.4 405.5h0M1161.9 396.3h0M1162.5 394.4h0M1163.0 387.3h0M1163.5 386.2h0M1164.0 381.5h0M1164.5 375.7h0M1165.0 369.8h0M1166.5 363.5h0M1168.1 362.2h0M1169.7 357.5h0M1171.4 358.3h0M1173.3 358.5h0M1174.3 364.5h0M1175.8 363.0h0M1177.2 363.9h0M1178.6 366.2h0M1179.3 367.2h0M1180.1 365.3h0M1180.9 365.2h0M1181.7 366.9h0M1182.5 364.3h0M1183.3 367.2h0M1184.1 362.3h0M1184.9 366.7h0M1186.9 363.3h0M1188.9 361.8h0M1190.0 362.7h0M1191.4 357.7h0M1192.9 358.1h0M1194.3 359.5h0M1195.4 359.0h0M1196.5 358.1h0M1197.7 359.9h0M1198.3 358.1h0M1199.7 359.9h0M1201.1 359.4h0M1202.6 358.5h0M1204.0 358.8h0M1205.4 356.9h0M1206.9 356.5h0M1208.3 355.3h0M1209.2 360.1h0M1210.2 355.2h0M1211.2 357.5h0M1212.2 354.6h0M1213.2 359.0h0M1215.5 359.1h0M1217.4 360.4h0M1217.5 367.6h0M1219.0 367.0h0M1220.4 367.0h0M1221.8 362.0h0M1223.3 362.3h0M1224.7 363.8h0M1226.1 362.3h0M1227.6 364.7h0M1229.0 366.1h0M1230.4 365.7h0M1231.9 365.4h0M1233.3 364.3h0M1235.4 359.9h0M1237.4 360.5h0M1238.4 356.8h0M1239.8 356.1h0M1241.3 355.9h0M1242.7 360.0h0M1245.0 358.3h0M1246.9 354.8h0M1248.9 355.0h0M1249.9 354.7h0M1250.9 354.5h0M1251.9 356.1h0M1252.9 356.2h0M1253.9 356.4h0M1254.9 358.8h0M1255.9 358.0h0M1256.9 354.4h0M1257.9 357.4h0M1258.9 354.0h0M1260.9 355.5h0M1262.9 348.6h0M1264.0 349.0h0M1265.5 353.2h0M1266.9 352.4h0M1268.3 353.3h0M1269.8 351.2h0M1271.2 351.5h0M1272.6 356.9h0M1273.3 352.6h0M1274.1 353.2h0M1274.9 354.6h0M1275.7 356.8h0M1276.5 356.0h0M1277.3 357.8h0M1278.1 356.6h0M1278.9 354.6h0M1280.3 358.0h0M1281.7 355.3h0M1283.2 354.6h0M1284.1 360.1h0M1285.1 359.9h0M1286.1 358.9h0M1287.1 358.2h0M1288.1 356.9h0M1289.1 357.1h0M1290.1 356.0h0M1291.1 355.9h0M1292.1 357.8h0M1293.1 359.9h0M1295.4 361.3h0M1297.3 360.9h0M1298.3 363.8h0M1299.8 361.9h0M1301.2 363.0h0M1302.6 361.8h0M1303.5 362.8h0M1304.5 361.8h0M1305.5 360.6h0M1306.5 359.9h0M1307.5 357.3h0M1308.5 358.7h0M1309.3 358.5h0M1310.1 356.8h0M1310.9 357.1h0M1311.7 358.3h0M1312.5 356.9h0M1313.3 359.4h0M1314.3 357.9h0M1315.3 361.8h0M1316.4 360.4h0M1317.4 359.7h0M1318.4 359.5h0M1320.5 362.4h0M1321.6 365.9h0M1321.9 374.9h0M1322.1 379.4h0M1322.3 382.7h0M1322.6 387.5h0M1322.9 386.6h0M1323.2 384.0h0M1323.5 377.2h0M1323.9 373.3h0M1325.0 371.0h0M1326.8 365.1h0M1328.3 365.9h0M1329.4 373.1h0M1330.6 376.1h0M1329.4 383.2h0M1330.9 378.4h0M1332.3 377.3h0M1333.7 381.3h0M1335.2 378.8h0M1336.6 378.5h0M1338.0 377.1h0M1339.5 374.1h0M1340.9 378.0h0M1342.2 371.0h0M1342.9 368.7h0M1343.7 359.8h0M1344.7 358.0h0M1346.7 357.6h0M1348.7 353.9h0M1350.4 356.0h0M1352.2 351.3h0M1354.0 348.9h0M1356.0 351.9h0M1358.0 355.0h0M1358.5 359.9h0M1359.5 359.7h0M1360.5 358.8h0M1361.5 357.7h0M1362.5 355.8h0M1363.5 360.5h0M1365.0 356.2h0M1366.4 355.9h0M1367.9 356.5h0M1368.8 358.2h0M1369.8 354.7h0M1370.8 354.2h0M1371.8 359.2h0M1372.8 354.4h0M1373.8 358.8h0M1375.6 354.3h0M1377.4 353.8h0M1379.2 352.3h0M1381.0 354.9h0M1382.8 358.9h0M1384.1 359.4h0M1385.5 358.5h0" fill="none" stroke="#808080" stroke-width="3.6" stroke-linecap="round"/>
<polyline points="267.5,355.0 269.2,352.9 270.8,353.1 272.5,352.5 274.2,348.4 275.8,345.7 277.5,342.5 279.2,344.3 280.8,348.6 282.5,350.0 284.0,351.2 285.5,352.7 287.0,354.3 288.5,354.0 290.0,355.0 291.5,355.4 293.0,354.9 294.5,357.4 296.0,355.7 297.5,357.5 299.2,359.6 300.8,361.5 302.5,365.0 303.8,384.4 305.0,402.5 306.2,421.1 307.5,440.0 308.8,452.5 310.0,465.0 311.2,427.6 312.5,390.0 313.8,376.0 315.0,360.0 316.2,381.4 317.5,400.0 318.8,410.9 320.0,422.5 321.7,406.1 323.3,388.1 325.0,370.0 326.7,368.9 328.3,368.1 330.0,365.0 331.7,363.3 333.3,362.8 335.0,362.5 336.7,358.3 338.3,353.6 340.0,350.0 341.7,351.0 343.3,352.4 345.0,355.0 346.7,358.8 348.3,361.4 350.0,362.5 351.7,367.8 353.3,371.7 355.0,375.0 356.2,382.2 357.5,390.0" fill="none" stroke="#808080" stroke-width="2.2" stroke-linejoin="round" stroke-linecap="round"/>
<path d="M267.5 357.7h0M269.1 352.6h0M270.7 351.1h0M272.3 355.5h0M274.0 346.0h0M275.6 346.0h0M277.2 343.5h0M279.0 345.8h0M280.8 344.3h0M281.7 350.7h0M283.5 350.7h0M285.3 355.0h0M287.0 348.8h0M288.8 358.3h0M290.1 352.1h0M291.5 358.3h0M292.9 356.0h0M294.3 359.5h0M295.8 354.1h0M297.2 355.8h0M299.1 356.2h0M300.9 365.2h0M302.6 366.7h0M302.9 367.9h0M303.1 372.0h0M303.4 375.1h0M303.7 380.4h0M304.0 387.8h0M304.3 390.9h0M304.5 397.5h0M304.8 396.0h0M305.1 407.0h0M305.4 412.5h0M305.7 414.5h0M305.9 418.7h0M306.2 423.8h0M306.5 421.2h0M306.8 428.7h0M307.0 429.4h0M307.3 439.9h0M307.7 441.9h0M308.1 442.2h0M308.5 449.4h0M308.9 456.5h0M309.3 458.6h0M309.7 458.9h0M310.0 467.4h0M310.2 455.3h0M310.3 458.2h0M310.5 455.2h0M310.6 449.0h0M310.7 446.5h0M310.9 438.6h0M311.0 431.6h0M311.2 429.7h0M311.3 427.9h0M311.4 424.0h0M311.6 416.3h0M311.7 417.2h0M311.9 404.8h0M312.0 404.7h0M312.1 396.4h0M312.3 395.1h0M312.4 396.6h0M312.7 384.6h0M313.0 388.2h0M313.4 383.3h0M313.7 377.2h0M314.1 367.4h0M314.4 367.0h0M314.7 364.8h0M315.1 357.5h0M315.3 363.5h0M315.6 365.8h0M315.9 376.8h0M316.1 381.6h0M316.4 385.8h0M316.6 388.5h0M316.9 391.1h0M317.2 390.6h0M317.4 398.6h0M317.8 405.2h0M318.3 409.3h0M318.7 406.9h0M319.2 410.9h0M319.7 415.7h0M320.1 425.2h0M320.5 413.8h0M320.9 412.1h0M321.3 408.7h0M321.7 408.2h0M322.1 397.4h0M322.5 394.3h0M322.9 394.8h0M323.3 384.4h0M323.7 381.0h0M324.1 375.6h0M324.5 379.8h0M324.9 369.2h0M325.8 369.2h0M327.7 366.2h0M329.6 369.7h0M331.1 366.3h0M332.7 364.5h0M334.4 362.7h0M336.1 357.6h0M337.5 359.2h0M339.0 349.0h0M339.9 351.0h0M341.8 350.0h0M343.7 351.7h0M345.8 355.8h0M347.6 356.2h0M349.5 362.5h0M351.0 361.2h0M352.4 364.3h0M353.9 368.9h0M355.2 372.3h0M355.8 383.5h0M356.5 384.2h0M357.2 389.8h0" fill="none" stroke="#808080" stroke-width="3.0" stroke-linecap="round"/>
<path d="M163.2 627.1l2.4-3.3l2.4-0.4l2.3-0.4l1.6 1l0.8 2.7l1.7 4.8l0.8-2.1l1.7-6.6l0.7-0.7l1.8-0.6l0.6 3l1.9 9.5l0.4 1.1l2.4 6.9l1 2l1.5-5.8l2.2-9.2l0.2-0.3l2.3-3.2l2.4-4.2l0.1 0.2l2.3-0.4l2.5-1.1l2.4 0.3l2.3-1.7l2.4 0.6l2.4-1l2.5-1.4l2.4 0.5l2.3-0.3l2.4 2.1l2.4-0.6l2.5 0.7l2.4-0.3l2.3 1.4l1.5-0l1 9.4l1.5 16.8l0.8-8.1l1.7-16.9l0.8-0.9l1.7-0.4l0.7 8.4l2.3 29.1l0.8 8.8l1.7-26.7l0.8-13.3l1.6-1.4l2.3-0.6l2.5 0.4l2.3 1.4l2.5-0.2l2.3 0l1.4-0.9l1 9l2.4 18.8l0.4 3.5l2.1-10.7l2.4-15.3l0.5-4l1.9-2.1l2.3 0.4l2.4-0.1l2.4 2.2l2.5 0.9l2.4 2.1l2.3 0.5l2.4 1.4l2.4 3l2.5 0.5l2.4 0.9l2.3 0.4l2.4 2l1.9 0.4l0.6 1l2.4 5.3l0.8 1.2l1.6 15.7l0.8 9.3l1.5 56.1l0.3 8.9l2-45l0.2-2.6l2.3-35.2l2.5-31.8l0-0.4l2.4 40.6l0.1 1.9l2.2 11l0.3 1.5l2.2-8l0.3-2l2.1-14.5l0.4-3l2-7.3l2.4-6.9l0.6-0.8l1.8 30.2l0.7 12.3l1.7-20.5l0.8-9.5l1.6-12l0.9-8l1.5-3.8l2.4-4.4l1.1-3l1.2 0.4l2.4 2.6l1.4 0.7l1.1 5l1.4 7.5l1 1.6l1.5 0.9l0.9-2.1l1.6-2.9l0.8 3.9l1.7 8.6l0.7 5.8l2.3 17.3l2.5 14.1l2 12.8l0.4-6l2.1-39l0.2-2.7l2.3-22.3l0.2 0.2l2.3-2.9l2.5-2l2.4-1.2l2.3-0.4l2.4-1.3l2.4-2.4l2.5 1l2.4-0.2l2.3 0.5l2.4 1.5l2.4-0.9l2.5 0.2l2.4-0.8l2.3 2.1l2.4 1.2l2.4 4.3l1.5 1.1l1 3.8l2.4 7.8l1.6 5.9l0.8-0.1l2.3-3.6l1.9-1.3l0.6 2.3l2.4 7.2l0.8 3l1.6-10.4l2.1-14.6l0.2-0.5l2.4-2.8l2.4-1.7l0.1 0.6l2.4 13.5l2.4 15.5l0.1 0.4l2.2-22.7l0.3-2.3l2.1-3l2.5-3.7l0.4-0.8l2 12.4l2.4 16l0.6 4.1l1.8-8.1l2.3-12.4l0.9-4.5l1.6-0.9l2.4-0.9l2.4-3.4l2.3-2.5l2.4-3.2l2.5-0.2l2.4-1.1l2.4 1.8l1.6 0.4l0.8 5l2.3 18.4l0.6 4.1l1.9 3.3l1.9 4.2l0.5 2.9l2 12.1l0.4-6.3l2.1-33.7l0.2 0.1l2.4-4.7l2.4-2.9l0.1 0.3l2.4 0.6l2.4 1.2l2.3 5.3l0.3 0.1l2.1-5.8l2.5-5.5l0.4-1.2l2-1.1l2.4-0.9l2.3-0.7l2.4 1.5l2.5-0.8l0.9 0.8l1.5 5.7l2.4 8.3l2.4 11.9l2.3 9.6l2.5 10.3l0.1 0.4l1.8 37.5l0.5-5l1.5-20l0.9-15.9l1.6-29.1l0.8-2l2.3-8.1l1.9-4.9l0.6-0.7l2.4 0.3l2.4-1.3l2.4 1.4l2.3-0.3l2.5 0.7l2.4 1.2l1.2-0l1.1 11.2l1.4 15l1 5.8l2.4 11.9l0.4 2.3l2.1 4.4l1.6 3.1l0.8 4l1.8 11l0.5-7.2l1.9-25.3l0.5-2.7l2.4-10.6l0.9-4.2l1.6-4.3l2.4-5.1l1-3.1l1.4 1.5l2.4 4.4l1.2 1.6l1.1 12.3l1.4 15.2l1.1-8l1.4-12l1-3.5l2.4-6.1l1.6-5.4l0.8-0.9l2.3-1.6l2.5-3.3l2.4-0.2l2.4-0.8l2.4 0.2l2.3 1.1l2.5 4.5l2.4 3.2l2.4 2l2.4 0.2l0.2 0.6l2.1 7.8l2.4 7.9l0.5 1.8l2 15.7l0.5 4.3l1.9-9.7l0.6-2.8l1.8 7.6l0.7 2.4l1.6-19.2l0.9-10.8l1.5-4.4l2.5-4.8l1-3.3l1.4 1.6l2.4 1l1.2 1.1l1.1-0.6l2.4-2.2l2.5-1l2.4-1.9l2.4 0.1l2.3-0.8l2.4 0.2l2.5-1.2l2.4 0.2l2.4-0.5l2.3 0.5l2.4-1.5l2.5-0.4l2.4 1l2.4-1l2.3 1.2l2.4-0.2l2.4 1.2l2.5-1.2l2.4 0.9l2.3-1.7l2.4 0.5l2.4-0.6l2.5 0.4l1.1-0.1l1.2 22.1l0 0.4l2.4-9.3l1.4-5.7l1-1.2l2.4-0.6l2.5-2.3l2.4-0.7l2.3-1.2l2.4-0.4l2.4 1l2.5-1.3l2.4 1.3l2.3 0l2.4 1.1l2.4 0.2l2.5 1.3l2.4-0.9l2.3 0.4l2.4 1.2l2.4-1.1l2.5 0.6l2.4-1.4l2.3 1l2.4-1.6l2.4 0.5l2.5-1.2l1.1 0.3l1.2 4.8l1.3 5.2l1.1-3.1l1.4-4.4l1-0.6l2.4 0.4l2.5-1.3l2.4 0.8l2.3-0.5l2.4 1.1l2.4-0.4l2.5 0.6l2.4-0.4l2.2 0.3l0.1 1.7l1.1 8.3l1.3-4l2.4-5.3l0.1-0.7l2.4-0.5l2.4 0.9l2.3-1l2.4 0.8l0.5-0.2l1.9 1.3l2.5 3.7l0.6 0l1.8-2l2.3-1.6l0.9-1.4l1.5-0.2l2.4 0.4l2.5 0.4l2.4-1.1l2.3 0.9l2.4-0.6l2.4 0.5l2.5-0.5l2.4 0.7l2.3-0.7l2.4 0.6l2.4-0.6l2.5 0.7l2.4-0.4l2.3-0.7l2.4-0l2.4 0.5l2.5-1.2l2.4 0.4l2.3-0.6l2.4 0.7l2.4-1l2.5 1l2.4-0.8l2.3 0.4l2.4-1.2l2.4 0.7l2.5-1.4l2.4 0.8l2.3-0l2.4-0.3l2.4 0.5l2.5-0.2l2.4 2.1l2.3 3.2l1.9 2l0.5-0.3l2.4 0l2.5-1.6l2.4-0.4l2.3 0.6l2.4 0.2l2.4 2.1l2.5-1.5l2.4 0.2l2.3-0.2l2.4 1.1l2.4-0.8l2.5 1.1l2.4-1.5l2.3 0.5l2.4-1.4l2.4 1.3l2.5-0.8l2.4 0.7l2.3-0.7l2.4 1l2.4-0.3l2.5 1l2.4 0.5l2.3 0.2l2.4 1.5l2.4-1.3l2.5 0.1l2.4-1.3l2.3 0.4l2.4 0.4l2.4 2l2.5 1.4l2.4-1.3l2.3-0.8l2.4-0.2l2.4 2l2.5 0.5l2.4 4.4l0.7 1.2l1.2 20l0.4-3l2.1-14.5l0.3 0l2.4-4.2l2.5-1.2l2.4-1.8l2.3-0.3l2.4-2.2l2.4 0.6l2.5-0.4l2.4 1.6l2.3-0.7l2.4 0.4l2.4-0.6l2.5 0.7l2.4 0.7l2.3 2.9l2.5-1.5l2.3-0.6l2.5 0.5l2.4-1.5l2.3 0.6l2.5-1.1l2.3 0.9l2.5-0.4l2.4 1.4l2.3 0.6l0.9 0.6l1.5 5.1l1 2.4l1.4-1.6l2.5-1.6l2.4-2.6l1.2-0.5l1.1 10.7l0.2 0.6l1.2-15l1-1.8l2.4-2.6l2.5 1.2l2.4-1.1l2.3 1.5l2.5-0.5l2.3 1.1l2.5-0.7l2.4 1.1l2.3-0.5l2.5 1.4l2.3-0.6l2.5 1.4l2.4-0.1l2.3 2.4l2.5 0.5l2.3 1.5l2.5-0.9l2.4 1.5l2.3 0.5l2.5-1.4l2.3-0.4l2.5-1.3l2.4 1.7l2.3-0.3l2.5 1.4l2.3 1.4l1.6 3.6l0.8-1l2.5-0.1l2.3-1.3l2.5 0l2.3-2l2.5-0.5l2.4-1.6l2.2-1l0.1 0.5l2.5 2.6l1.2 1.9l1.1 13.6l1.4 13.9l1 24.8l1.5 32.7l1-21.4l1.5-33.6l0.8-4.7l2.5-10l0.4-2.8l1.9-4.1l2.5-3.9l2.4-3.9l2.3-1.9l2.5-0.7l2.3-0l1.1-0.5l1.3 7.7l1.2 7.3l1.2-6.8l1.3-8.2l1.1-0.7l2.5-3.4l1.4-0.9l1 0.4l2.3-0.2l2.5 1.4l2.3-0.3l0.9 1.2l1.5 29.8l1 17.7l1.2 30l0.3-4.7l2.2-50.3l0.2 0.1l2.4-14l1.2-6.1l1.1-0.2l2.5-1.2l2.4-0.8l1.5 2.2l0.8 19.9l1.7 37.6l0.8-9.2l1.7-20.8l0.6-4.2l1.9-13.3l0.5-1.2l2.5-5.4l2.3-3.7l2.2-4.7l0.2 2.7l2.3 29.8l0.1 4.8l1.2 32.7l1.2-9l2.5-15.4l2.3-13.6l1.5-7l1-2.5l1.5-2.5l0.8 9.4l1.7 15.6l0.8-8.5l2.4-23.3l0.5-5.7l1.8-1.3l2.5-0.4l2.3-1.8l2.5 0.4l2.4-1.3l2.3 0.2l1.2-0.8l1.2 46.6l0.8 28.4l1.6-34.1l1.4-28.4l1-2.3l2.5-4.4l1.5-3.3l0.8-0.7l2.5 0.7l2.3-1.2l2.5 1l2.4 1.1l2 1.6l0.3 14.3l1 35.7l1.5-24.2l1-15.8l1.3-3.7l1.2-3.8l1.2 1.8l1.2 0.7l1.3 16.7l1.2 18.3l1.2-15.2l1.4-19.8l1 0.4l2.3 3.1l2.5 3.4l1.7 5.6l0.7-1.6l2.3-6.8l0.7-1.6l1.8-1.6l2.3-3.2l0.9-0.2l1.5 15.7l0.5 4.3l1 25l1-5l0.5-2.5" fill="none" stroke="#92161b" stroke-width="2.3" stroke-linejoin="round"/>
<path d="M164.3 624.1l2.4 0.3l2.5-1.1l1.4 0.2l0.9 4.3l1.6 5.7l0.8-1.3l2.4-3.1l1.8-5.6l0.7 4.7l1.8 15.3l0.6 0.1l1.9 2.4l0.4-0.3l2.4-3.6l2.4-4.8l2.4-7.2l2.4-3.8l2.4-5.3l0.1 0l2.3-0.1l2.4-1.2l2.4 0.6l2.4-1l2.4-0.6l2.4 0.7l2.4-0.8l2.4-1.5l2.4 0.7l2.4-0.7l2.4 1.6l2.4 0.1l2.4-0.1l2.4 1.9l1.5 0.4l1 14l1.5 23.5l0.8-12.1l1.7-25.4l0.8-0.4l2.3 2l2.4-0l2.5 1.7l2.3-0l2.4-0l2.4-0.8l2.4 0.9l2.5-1.4l0 0.5l2.3 7.3l2.5 7.4l2.4 7l0.3 0.8l2-4.3l2.4-6.4l2.4-4.8l0.7-2l1.8-0.7l2.4 1.2l0.8-0.5l1.5 2.1l2.4 4l1.1 1.4l1.3-1l2.5-0.2l1.2-1.3l1.1 1.6l2.4 4.2l1.5 1.7l0.9 0.1l2.4 0.9l2.5-0.1l2.4 1.8l1.8-0.2l0.5 2.4l2.4 14.2l2.1 10.9l0.3 0.4l2.5 6.6l2.2 5.5l0.1-0.6l2.4 2.3l2.4 0.4l0.1 0.4l2.3 24.2l0.2 0.8l2.2-27.5l0.3-2.5l2.1-6.3l2.4-7.5l0.5-1.2l1.9-9.6l2.4-12.3l0.7-3.1l1.8-2.2l2.4-4.7l0.8-0.6l1.5-5.1l2.4-9.2l1.1-3.2l1.3 0.9l2.5-0.2l1.2 0.5l1.1 3.6l2.4 6.1l1.5 4.1l0.9 1.1l2.4 2l1.7 1.9l0.8 2.8l2.4 8l1.8 6.7l0.5 7l2 23l0.4 7.2l2.1 35.3l0.3-10.6l2.2-69.4l0.2-3.4l2.3-26.6l0.1 0.4l2.4-1.4l2.4-0l2.4-1.4l2.5 0.4l2.4-1.3l2.3-0.2l2.4-0.2l2.4 1.1l2.5-0.4l2.4 0.7l2.3-0l2.4 0.9l2.4 0.2l2.5 1.4l2.4-0.1l2.3 2.1l2.4 0.4l2.4 1.8l2.5 0.7l2.4 3.7l1.8 1.2l0.5-1.6l2.4-5.9l2.1-6.2l0.3 0.2l2.5 4.9l2.2 3.6l0.1-0.5l2.4-2.9l2.4-4.7l0.1 0.6l2.3 3.8l2.5 3.1l0.2 0.6l2.1-1.6l2.4-3.5l0.5 0.1l1.9 6.2l2.4 7.2l2.5 5.8l2.4 5.7l0.8 2.6l1.5-7.5l2.4-12.8l1.1-4.7l1.3-2.3l2.5-5.4l1.2-2.3l1.1 0.1l2.4-2l2.4 0.4l2.4 0l1.7 1.5l0.8 8l2.4 22.8l0.6 6.7l1.8 4l2.3 4.9l2.1 8.6l0.3-5.5l2.2-37l0.2-0.1l2.4-5.5l2.4-4.4l0 0.9l2.4 9.7l2.4 11.8l0.2 0.1l2.2-5.1l0.3 0.1l2.1-8.1l2.4-10.6l0.5-1.3l1.9-1.1l2.4-0.5l2.5-1.2l2.4 1.7l2.4-0.8l0.9 0.6l1.4 26.7l1.1 19.6l1.3-5.6l1.2-4.4l1.2 3.8l2.5 5.3l0.1 0.9l2.2 17.3l1.5 10.2l0.9-8.8l1.6-13.7l0.8-12.4l1.7-25.1l0.8-2.9l2.4-6.4l1.8-5.7l0.5 0.4l2.4 5.3l2.1 3l0.3-1.1l2.5-3.4l2.2-4.2l0.1-0.1l2.4 1.5l2.4-0.3l2.4 1.7l0.2-0.3l2.2 37.7l0.3 4.8l2.1 6.7l2.4 6.6l2.4 5.7l1.9 3.5l0.5-5.5l2.5-18.1l2.4-16.7l0.8-4.7l1.5-4.9l2.4-9.4l1.1-3.2l1.3 1.9l2.5 1.4l2.4 2.2l2.4-1.1l1.4 0.6l0.9-0.7l2.4-3.9l2.5-2.7l2.4-1.1l2.4-1.8l2.3 0.9l2.4-1.3l2.5 1.2l2.4 1.9l2.3 2.5l0 0.9l2.4 30.7l0.1 0.9l2.3-16.8l0.2-0.7l2.2-3.8l0.3-1.2l2.1 7.4l2.4 8.7l2.4 5l0.6 1.4l1.8-12.4l0.7-5.1l1.8 23.9l0.7 11.1l1.6-22.8l0.9-12.2l1.5-0.9l2.4-3.6l2.4-1.7l2.5-1.2l2.4-0.8l2.4-3.2l2.3-1.4l2.4-1l2.5-1.1l2.4-2.6l2.4-1.1l2.3-1.4l2.4 0.4l2.5-1l2.4 0.9l2.4 0.1l2.3 1.5l2.5-1.4l2.4-0.2l0.2-0.3l2.1 8.3l0.4 1.7l2-3.8l2.4-2.6l2.5-0.4l2.4 0l2.4 2l2.4-1.5l2.3-0.3l1.1-0.9l1.4 7.8l2.4 11.9l-0 0.3l2.4-6.8l1.3-4.5l1-1.5l2.4-2.9l2.5-1.7l1.6-2.6l0.8-0.5l2.4 0.5l2.4-0.9l2.3 0.6l2.5-1.6l2.4 1.3l2.4-0.1l2.4 0.7l2.3-0.2l2.5 1.8l2.4 1.2l2.4 2.1l2.4 0.9l0.4 0.5l1.9-0.6l2.5-1.7l2.4-0.8l2.4 0l2.4-1.3l2.3-0.2l2.5-1l2.4 0.1l1.2-0.8l1.1-0.1l2.4 2.1l2.4 0.1l2.5 0.8l2.4 1.1l2.4-0.6l2.4 0.9l2.3-0.9l2.5 1.2l2.4 1.7l2.2 1.2l0.1-0.6l2.4-0.2l2.4-1.9l2.5 1.3l2.4-0.5l2.4 1.6l2.4-0.4l0.4 0.7l1.9 11.2l0.6 3.8l1.9-9l0.6-3.5l1.8-1.1l2.4-0.2l2.4-1.8l2.3 0l2.5-2.3l2.4-0.9l2.4-1.6l2.4 0.9l2.3-1l2.5 1l2.4-1l2.4 1.6l2.4-0.1l2.3 1.6l2.5-0.8l2.4 0.6l2.4-1.5l2.4 0.4l2.3-0.9l2.5 0.2l2.4-1l2.4 0.9l2.4-0.5l2.3 1.3l2.5-0.8l2.4 0.8l2.4-1.2l2.4 0.4l2.3-0.1l2.5-0.7l2.4 0.6l2.4-0.7l2.4 0.8l2.3-0.4l2.5 1.2l2.4-0.2l2.4 0.6l2.4 0.6l2.3 0.6l2.5-0.4l2.4-1.4l2.4 0.5l2.4 0.2l2.3 1l2.5-1.1l2.4 0.4l2.4 0.5l2.4 2.4l0.4 0.1l1.9-1.2l2.5 0.2l2.4-1.7l2.4-0.4l2.4-0.8l2.3 0.6l2.5-0.9l2.4 1l2.4-0.7l2.4 0.3l2.3-0.4l2.5 0.7l2.4-0.6l2.4 2.9l2.4 0.5l2.3 0.7l2.5-0.6l2.4 1.8l2.4-0.4l2.4 1.4l2.3 1.6l2.5-0.2l2.4 0.5l2.4-0.1l2.4-1l0.4-0.7l1.9 2.8l2.5 5.2l0.6 0.8l1.8-0.9l2.4 0.4l2.4-0.2l2.3 2.1l1.1-0.2l1.4 3.8l1.1 3.7l1.2-3.5l2.5-6.4l2.4-2.3l1.4-2.8l0.9-0.7l2.5 0.1l2.4-0.9l2.4 0.3l2.4-1.2l2.3 0.6l2.5-1l2.3 0.7l2.5-0.7l2.3-0.1l2.5 0.8l2.4-0.6l2.3 1.3l2.5-0.5l2.3 1.1l2.5-0.9l2.4 0.8l2.3-0.3l2.5 1.2l2.3 0.1l2.5 1.8l2.4 0.5l2.3-2.2l1.3-0.2l1.2 48.6l0 3.9l1.3-52.5l1-0.7l2.5 0l2.4-1.7l2.3 0.7l2.5-0.8l2.3 1.3l2.5-0.8l2.3 1.3l2.4-0.2l2.3 0.9l0.2 0.3l2.3 9.7l0 0.4l2.5-10.5l0 0.1l2.3 1.5l2.4 0.4l2.5 0.9l2.3-1l2.5 1.3l2.3-0.9l2.4-0l2.5-2.3l2.3-0.5l2.5-1.5l2.3 0.7l2.4 0.6l2.5 1.5l2.3 0.7l1.5 1.1l1 8.2l1.5 13l0.8-3l1.7-5.7l0.8-0.6l2.3-4.4l2.4-2.7l2.5-4.7l2.3-2.7l2.2-2.4l0.2 0.5l2.5 7.8l2.3 2.5l2.5 4.4l0-0.2l2.3 34.8l0.2 2.7l2.2-21.9l0.3-3.1l2.2-7.3l2.3-8.9l0.5-1.3l2-1.2l2.3-2.5l2.4-0.1l2.5-1.3l2.3 1.1l2.5 0.3l1 1.2l1.3 19.7l0.7 10.3l1.8-15.8l1.2-11.7l1.2-2.1l2.3-3.5l1.5-3.1l1-0.4l2.3 0.4l2.4-1.6l2.4 0.7l0.9-0.4l1.2 77.5l0.3-1.2l2.5-7.2l1-4.1l1.3-26.3l1.2-23.7l1.2-6.4l1.3-6.1l1.1-0.4l2.4-2l2.5 1l1.5 1.4l0.8 23.2l2.4 63.8l0 0.5l2.4-49.8l0.6-12.7l1.8-6.3l2.5-8.1l2.3-11.9l0.9-3.7l1.5 0.6l1-0.6l1.3 55l0.1 3.5l1.6 44l0.8-11l2.5-35.9l0-0.6l2.3-3l2.4-4.8l0.3 0.3l2.1 26.8l1.6 20.7l0.8-24.1l1.8-53.4l0.6-4.4l1.8-10.6l0.6 6.7l1.9 20.8l0.5 0.5l2 4.5l0.4-2.2l2.1-15.3l0.3-1.2l2.5-7.1l1-4.2l1.3-1.7l1.2-0.8l1.2 20.1l1.3 19.9l1.1-10.6l2.4-19.6l0.2-2.3l2.2-3.8l1.6-3.7l0.8-0.1l2.4 1.3l2.4-0.4l2.4 0.3l2.5 2.7l2 1.2l0.3 1.7l2.4 13.3l1 5l1.4-11.8l1.1-8.2l1.3 3.3l2.5 3.8l0 0.4l2.3-0.9l1.4-1.6l1 1.9l2.4 5.2l0.4 0.4l2-4.7l0.5-0.3l2 1.2l2.3 0.3l2.4 1.2l2.4-1.4l0.9-0l1.5 8.9l1 4.8l1.5 3.9l1 3.6" fill="none" stroke="#16386a" stroke-width="2.3" stroke-linejoin="round"/>
<path d="M163.8 624.2l2.3-1.4l2.5 0.1l1.4-0.4l0.9 3.2l1.6 6.8l0.8-0.6l2.4-3.5l1.8-5.9l0.7 4.7l1.8 15.3l0.6 1l1.9 1.5l0.4-1.1l2.4-2.6l2.4-5.8l2.5-5.7l2.4-4.4l2.3-6l0.1 0.6l2.3 0.3l2.4-1.6l2.5 0.6l2.4-1.2l2.3 0.6l2.4-1.4l2.4 0.1l2.5-1.4l2.4-0.2l2.3 0.4l2.4 1.5l2.4-0.8l2.5 1.4l2.4 0.7l1.4 1l0.9 14.9l1.6 22.6l0.8-12.2l1.7-25.3l0.8 0.1l2.3 1.6l2.5 0.9l2.3-0.2l2.4 1.9l2.4-1.6l2.4 0.6l2.5-0.6l2.3 0.2l0.1-0.4l2.4 6.9l2.4 8l2.3 5.9l0.4 1.7l2.1-4.4l2.3-6.5l2.5-4.6l0.6-2l1.8-0.7l2.3 1.1l0.9-0.4l1.6 2.1l2.3 4.5l1.1 0.9l1.4-1.1l2.4-0.4l1.2-1l1.1 1.6l2.4 4.2l1.5 1.7l0.9-0.2l2.5 1.5l2.4-0.4l2.3 1.3l1.9 0.3l0.5 2.5l2.4 14.1l2.1 10.9l0.4 0.6l2.4 6.6l2.2 5.3l0.1-0.4l2.4 2l2.4 0.8l0.1 0.1l2.4 24l0.1 1l2.2-27.2l0.3-2.8l2.1-6.2l2.4-8l0.5-0.8l1.9-9.5l2.5-12.9l0.6-2.6l1.8-2l2.3-4.5l0.9-1l1.5-4.8l2.4-9.3l1.1-3.4l1.4 0.8l2.4-0.4l1.2 0.9l1.1 3.4l2.4 5.7l1.5 4.6l0.9 1.1l2.5 1.7l1.6 2.2l0.8 2.9l2.3 7.8l1.9 6.8l0.5 7.3l2 22.7l0.4 7.5l2.1 35l0.4-11.9l2.1-68.1l0.2-2.3l2.3-27.7l0.1 0.5l2.4-1.6l2.4 0.2l2.5-1.1l2.4-0.2l2.3-0.2l2.4-1.9l2.4 0.3l2.5 1.3l2.4-0.5l2.3 1l2.4-0.6l2.4 1.6l2.5-0.3l2.4 1.8l2.3 0.1l2.4 2l2.4-0l2.5 1.2l2.4 2.6l2.3 2.2l1.9 1.6l0.6-1.9l2.3-5.8l2.1-6l0.3 0.5l2.4 4.4l2.3 3.8l0.1-0.4l2.4-3.6l2.4-3.1l0.1-0.4l2.3 3.2l2.4 4.4l0.3-0.1l2.1-2.4l2.4-2l0.5-0.6l1.9 5.3l2.4 7.9l2.4 5.8l2.4 6.9l0.9 1.6l1.6-8.3l2.3-11.1l1.1-5.6l1.3-3.1l2.4-4l1.3-2.9l1.1-1l2.4-0.4l2.4-0.8l2.4 1.7l1.7 0.5l0.8 7.2l2.3 24l0.6 6.3l1.9 3.8l2.3 4.9l2.1 8.8l0.3-5.4l2.2-37.1l0.2-0.9l2.4-3.9l2.4-5.2l0.1 0l2.3 11.2l2.4 10.5l0.2 0.8l2.2-4.4l0.3-0.6l2.1-8l2.4-10.8l0.5-1.2l1.9-1.6l2.4-0l2.4-1.1l2.4 1.4l2.4 0.2l1-0.1l1.5 26.2l1 20l1.3-5.2l1.2-4.8l1.2 2.9l2.4 7.2l0.1-0.1l2.3 16.5l1.5 11l1-8.2l1.5-14.3l0.8-13.2l1.7-24.3l0.8-1.7l2.4-8.3l1.8-5l0.5 1.5l2.5 3.3l2 4l0.3-0l2.5-5l2.2-3.8l0.1 0.7l2.4-0.2l2.5 1.4l2.3 0.3l0.2 0.3l2.2 38.5l0.3 4l2.1 5.9l2.4 8.3l2.5 4.1l1.8 4.2l0.5-4.5l2.5-19.6l2.4-15.5l0.8-5.4l1.5-5.7l2.5-7.6l1-4.2l1.3 0.7l2.5 3.5l2.4 0.2l2.3 0.2l1.5 0.4l1-0.6l2.3-4.1l2.5-1.9l2.4-2.5l2.3-0.2l2.5-0.5l2.3-0.4l2.5 1.1l2.4 2.4l2.3 1.7l0 0.3l2.5 31.7l0 0.5l2.3-17.1l0.2-0.4l2.2-4.2l0.3-0.8l2.1 7l2.4 9.2l2.5 4.8l0.5 1.5l1.8-12.5l0.7-5l1.8 24.9l0.7 10.1l1.6-23.4l0.9-11.6l1.5-1.4l2.5-2.7l2.3-1l2.5-2.1l2.4-1l2.3-2.3l2.5-2.9l2.3-0.4l2.5-2.3l2.4-0.8l2.3-2.5l2.5 0.1l2.3-0.9l2.5 0.5l2.4-0.7l2.3 1.5l2.5-0.2l2.4-0.1l2.4-1.3l0.2 0.5l2.1 9.1l0.4 0.9l2-4.4l2.4-1l2.5-2.2l2.4 1.5l2.4 0.4l2.3 0.4l2.4-2l1.1-0.2l1.4 7.5l2.4 12.3l-0 0.2l2.4-6.7l1.3-4.5l1-1.5l2.4-2l2.5-3.8l1.6-1.5l0.8 0.2l2.4-1l2.3 0.3l2.4-1.1l2.5 1l2.4-0.6l2.4 1l2.3-0.8l2.4 1.3l2.5 1.6l2.4 1l2.4 2.1l2.3 0.6l0.5 0.6l1.9-0.5l2.5-1.2l2.4-0.3l2.4-1.8l2.3-0.5l2.4 0.1l2.5-1.4l2.4-0.1l1.2-0.5l1.1-0.2l2.4 2.2l2.4 0l2.5 0.5l2.4 1.8l2.4-1.1l2.3 0.2l2.4 0.7l2.5-0.2l2.4 2.1l2.2 1.5l0.1-0.5l2.4-0.4l2.4-2.1l2.5 1.5l2.4-0.2l2.4 1.6l2.3-0.3l0.5 0.4l1.9 12.1l0.6 2.9l1.9-9.5l0.6-3l1.8-0.4l2.4-1.3l2.3-0.5l2.4-1.4l2.5-1l2.4-2.1l2.4-0.4l2.3-0.5l2.4 0.4l2.5-0.4l2.4 0.6l2.4-0.4l2.3 1.4l2.4 0.3l2.5 0.9l2.4-1l2.4-0.2l2.3-1l2.4 0.4l2.5-1.2l2.4 0.6l2.4-0.5l2.3 0.7l2.4 0.5l2.5 0l2.4 0.5l2.4-0.1l2.3-1.6l2.4 0.2l2.5 0.5l2.4-0.2l2.4 0l2.3-0.8l2.4 1.3l2.5-0.6l2.4 1.9l2.4-0.4l2.3 1.3l2.4-1.1l2.5 0.5l2.4-1.4l2.4 0.7l2.3-0.3l2.4 1.5l2.5-1.5l2.4 0.2l2.4 0.6l2.3 3.1l0.5-0.3l1.9-1l2.5-0.5l2.4-1.7l2.4 0.2l2.3-0.9l2.4 0.4l2.5-0.4l2.4 0.6l2.4-0.7l2.3 0.7l2.4-1l2.5 1.1l2.4-0.2l2.4 2.2l2.3 1.3l2.4 0.5l2.5-0.9l2.4 1.6l2.4-0.5l2.3 2.3l2.4 0.2l2.5 1.2l2.4-0.2l2.4 0.1l2.3-2.2l0.5 0.3l1.9 3.7l2.5 3.8l0.6 1.2l1.8 0.2l2.4-1.7l2.3 1.3l2.4 0.3l1.1 1.2l1.4 4.4l1.1 3.1l1.2-4l2.4-4.6l2.4-4.9l1.5-1.5l0.9-0.9l2.5 0.4l2.4-1.5l2.4 0.9l2.3-1.5l2.4 1l2.4-1.1l2.5 0.5l2.4-0.8l2.3 1l2.4-0.9l2.4 1.2l2.5-0.5l2.4 0.9l2.3-0.2l2.4 0.8l2.4-1.2l2.5 0.8l2.4 1.2l2.3 0.3l2.4 1.9l2.4-0.1l2.5-1.9l1.2-0.3l1.2 48.9l0 3.6l1.3-52.5l1-0.5l2.4-0.2l2.4-1.4l2.5 0.3l2.4-1l2.3 1.7l2.4-0.6l2.4 0.9l2.5 0.1l2.2 0.7l0.2 0.8l2.3 9.2l0-0.5l2.4-9l0.1-0.5l2.3 0.8l2.5 2.1l2.4-0.7l2.3 0.9l2.4-1l2.4 0.1l2.5-0.5l2.4-1.9l2.3-0.1l2.4-2.1l2.4 1l2.5 0.6l2.4 2.1l2.3 0.1l1.5 1.1l0.9 8.5l1.6 12.8l0.8-2.3l1.7-6.5l0.8-1.4l2.4-3l2.3-4.6l2.4-2.8l2.4-4l2.2-1.7l0.2 1l2.5 6.1l2.3 4.7l2.4 2.7l0.1 0.5l2.3 34.8l0.2 2.7l2.2-21.8l0.3-3.2l2.2-7.9l2.3-7.8l0.5-1.8l1.9-1.8l2.4-1.2l2.5-1.4l2.4-0.1l2.3 0.1l2.4 1.9l1.1 0l1.3 19.7l0.7 10.3l1.8-15.8l1.2-11.7l1.2-1.7l2.3-4.8l1.5-2.2l1-0.1l2.3-1.2l2.5 0.9l2.3-1.6l0.9 0.7l1.2 77.5l0.3-0.5l2.5-8.6l1-3.4l1.3-26.8l1.2-23.2l1.2-6.8l1.3-5.7l1.1 0.1l2.5-2.2l2.4 0.9l1.5 1.2l0.8 23.1l2.5 64.2l-0 0.2l2.3-49.4l0.7-13.1l1.8-6.2l2.4-9.1l2.3-10.2l1-4.5l1.5 0.5l1-0.5l1.2 55l0.1 4l1.7 43.5l0.8-11.1l2.4-36.1l0-0.3l2.3-3.1l2.5-4.4l0.2 0l2.1 27.7l1.7 19.8l0.8-25l1.7-52.5l0.7-4.4l1.8-10.6l0.5 6.8l2 20.7l0.5 0.3l2 4.7l0.3-2.2l2.2-15.3l0.2-1.1l2.5-8.6l1-2.8l1.3-0.9l1.2-1.6l1.2 19.8l1.3 20.2l1.1-9.6l2.5-21.6l0.2-1.3l2.2-4l1.5-3.5l0.8-0.2l2.5 1.2l2.3-0.7l2.5 2l2.4 1l2 1.7l0.3 2.4l2.5 11.8l1 5.8l1.3-10.5l1.2-9.5l1.2 2.2l2.5 5.8l0-0.5l2.3-1.9l1.5-0.6l1 2.1l2.3 4.1l0.4 1.3l2-4l0.5-1l2 1.7l2.3 0.2l2.5 0.8l2.3-1.9l0.9 0.5l1.5 8.8l1 4.9l1.5 3.9l1 3.6" fill="none" stroke="#000000" stroke-width="2.3" stroke-linejoin="round"/>
<path d="M163.8 625.2l2.3-2.8l2.5-0.5l2.3-0.3l1.6 0.9l0.8 3l1.7 4.5l0.8-2.8l1.7-6l0.7-0l1.8-1.2l0.6 2.2l1.9 10.3l0.4 1.5l2.4 5.6l0.9 2.9l1.6-6.2l2.2-8.8l0.2 0.3l2.4-4.3l2.3-3.3l0.1-0.2l2.3-1l2.4 0.5l2.5-1.9l2.4-0.3l2.3 0.1l2.4-1.3l2.4-0.2l2.5-1l2.4 1.3l2.3 0.1l2.4 1.6l2.4-0.9l2.5 1.1l2.4-0l1.4 0.6l0.9 10.7l1.6 15.6l0.8-8.6l1.7-16.4l0.8 0.2l1.7-1.5l0.6 7.8l2.5 30.1l0.7 8.4l1.6-27.3l0.8-12.7l1.7-0.4l2.3-2.7l2.4 2.2l2.5-0.1l2.3 0.4l2.5 0l1.4-0.6l0.9 8.1l2.4 20.9l0.4 2.2l2.1-10.4l2.3-15.5l0.6-4.1l1.9-2.2l2.4 0.3l2.3 0.7l2.4 1l2.4 2.4l2.5 0.8l2.4 1.6l2.3 1.7l2.4 1l2.4 1.9l2.5 0.3l2.4 1.1l2.3 0.6l1.9 1.3l0.5 1.4l2.4 4.3l0.9 1.8l1.6 16.6l0.9 8.4l1.4 55.6l0.3 9.4l2-45l0.1-2.9l2.4-34.6l2.4-32.4l0.1-0.1l2.4 40.3l0.1 2.2l2.2 11l0.3 1.5l2.1-9.3l0.4-0.7l2-13.9l0.5-3.6l1.9-8.3l2.5-5.9l0.6-0.8l1.8 30l0.7 12.5l1.6-19.9l0.9-10.1l1.5-12.9l1-7.1l1.4-2.6l2.5-6.7l1.1-2l1.2 1.1l2.4 1.2l1.4 1.5l1 5.8l1.5 6.7l0.9 1.1l1.6 1.4l0.9-1.1l1.6-3.9l0.8 3.2l1.7 9.3l0.6 5.8l2.4 16.9l2.4 15.5l2.1 11.8l0.4-6.9l2.1-38.1l0.2-2.1l2.3-22.9l0.1-0.3l2.4-1.8l2.4-3.5l2.5 0.2l2.4-1.3l2.3-1.1l2.4-2l2.4 0.6l2.5-0l2.4 1.3l2.3 0.4l2.4-1l2.4 0.4l2.5-0.1l2.4 1.6l2.3 2.4l2.4 1.8l1.5 2.4l0.9 3.5l2.5 7.9l1.6 6.1l0.8-0.1l2.3-3.2l1.9-1.7l0.6 2.3l2.3 7l0.9 3.2l1.5-10.5l2.2-14.5l0.2-0.9l2.4-1.2l2.4-2.9l0.1-0.2l2.3 15.2l2.4 14.7l0.2 0.3l2.2-23.1l0.3-1.9l2.1-2.8l2.4-4.2l0.5-0.5l1.9 13l2.4 15.1l0.7 4.4l1.8-8.6l2.3-11.5l0.9-4.9l1.6-1.2l2.3-0.3l2.4-3.4l2.4-2.7l2.4-3.3l2.4-0.8l2.4-0.9l2.4 1.6l1.7 1l0.8 5.9l2.3 16.5l0.6 5.1l1.9 4.3l1.9 3.2l0.4 2.2l2.1 12.8l0.3-5.1l2.2-34.9l0.2-1l2.4-2.3l2.4-4.2l0.1-0.4l2.3 1.3l2.4 1.8l2.4 3.6l0.3 1.2l2.1-5l2.4-6l0.5-1.5l1.9-1.2l2.4-0.5l2.4-0.8l2.4 0.5l2.4 1.3l1-0.5l1.5 4.8l2.3 9.5l2.5 10.8l2.4 10.1l2.3 10.4l0.2 0.6l1.8 37.5l0.5-6.3l1.5-18.7l0.8-14.7l1.7-30.3l0.8-2.7l2.4-6.3l1.8-6l0.5-0.3l2.5-0.1l2.3-0.9l2.5 1.4l2.4-0.6l2.3 1.7l2.5-0.6l1.2 0.6l1.1 12.1l1.5 14.2l1 4.9l2.4 13.8l0.3 1.3l2 4l1.8 3.5l0.7 4.8l1.8 10.2l0.5-8.1l2-24.4l0.5-1.7l2.4-12.2l0.8-3.6l1.5-3.8l2.5-5.4l1-3.3l1.3 1.8l2.5 3.6l1.2 2.1l1.1 13l1.4 14.5l1-8.6l1.5-11.4l1-3.4l2.3-7l1.7-4.6l0.8-1.2l2.4-1.5l2.3-2.1l2.5-1.8l2.3-0.5l2.5 0.7l2.4 1.3l2.3 3.3l2.5 3.7l2.3 2.2l2.5 0.9l0.2 0l2.1 7.1l2.4 9.3l0.5 1.1l2 15.4l0.5 4.6l1.8-8.7l0.7-3.8l1.8 6.8l0.7 3.2l1.6-20.2l0.9-9.8l1.5-3.3l2.5-7.1l1-2.1l1.3 1.6l2.5 0.8l1.2 1.4l1.1-0.6l2.4-2.7l2.5-0.6l2.3-1.7l2.5-0l2.4-1.3l2.3 1l2.5-1.7l2.3 0.3l2.5-0.9l2.4 1.2l2.3-1.7l2.5 0.4l2.4-0.9l2.4 0.7l2.4-0.4l2.3 1.8l2.4-1.1l2.5 0.8l2.4-1.2l2.4 0.6l2.3-1l2.4 0.6l2.5-0.1l1.1-0.3l1.2 23.2l0-0.7l2.4-10l1.4-5l1-0.1l2.4-2.8l2.5-0.5l2.4-2.3l2.4 0.5l2.3-0.8l2.4 0.7l2.5-1.2l2.4 1.2l2.4-0.2l2.3 1.8l2.4-0.6l2.5 1.1l2.4-0.3l2.4 1.1l2.3-0.7l2.4 0.2l2.5 0.1l2.4-1l2.4 0.6l2.3-1.1l2.4 0.6l2.5-1.4l1.1 0.1l1.2 5.1l1.3 4.9l1.1-4l1.4-3.5l1 0.5l2.4-1.2l2.5 0.3l2.4-0.9l2.4 0.8l2.3-0.4l2.4 0.8l2.5-0.4l2.4 0.7l2.2-0.2l0.1 0.8l1.1 9.2l1.3-2.8l2.4-7.3l0.1 0.1l2.4 0.5l2.4-1l2.4 0.9l2.3-0.3l0.5-0.1l1.9 1.7l2.5 2.9l0.6 0.4l1.8-2l2.4-1.6l0.8-1.4l1.5-0.7l2.4 1l2.5-0.7l2.4 1l2.4-1l2.3 1l2.4-1.3l2.5 1.2l2.4-0.6l2.4-0.1l2.3-0.3l2.4 0.8l2.5-0.7l2.4 0.8l2.4-0.9l2.3-0.1l2.4 0.1l2.5-1l2.4 0.6l2.4-0.7l2.3 1l2.4-0.9l2.5-0.4l2.4 0.5l2.4-0.8l2.3 0.3l2.4-1l2.5 0.8l2.4-0.9l2.4 0.9l2.3-0.6l2.4 0.7l2.5 0.1l2.4 1.8l2.4 2.6l1.8 2.5l0.5 0.4l2.4-1.5l2.5 0.1l2.4-1.4l2.4 0.2l2.3 0.8l2.4 1.9l2.5-1.5l2.4 0l2.4-0.2l2.3 1.4l2.4-0.5l2.5 0.6l2.4-1.1l2.4 0.1l2.3-0.8l2.4-0.1l2.5 0.5l2.4-0l2.4 0.5l2.3-0.4l2.4 1.2l2.5-0.7l2.4 1.4l2.4 0.5l2.3 1.1l2.4-0.8l2.5 0l2.4-1.8l2.4 0.5l2.3 0.8l2.4 1.8l2.5 1.5l2.4-1.2l2.4-1l2.3 0.4l2.4 0.5l2.5 1.9l2.4 2.8l0.7 2.1l1.2 20l0.4-2.3l2.1-15.2l0.3 0.2l2.4-4.5l2.5-2l2.4-0.2l2.4-2.2l2.3-0.1l2.4-0.7l2.5-0.3l2.4 1.7l2.4-0.1l2.3 1.2l2.4-1.6l2.4 0.7l2.5 0.6l2.4 2.8l2.3-1.5l2.4 0l2.4-1.2l2.5 0.3l2.4-1.1l2.3-0.1l2.4 0.1l2.4 0.9l2.5-0.1l2.4 1.3l0.8 0.9l1.5 5.1l1 2.4l1.4-1.9l2.4-1.8l2.5-2.2l1.2-0.4l1.2 11l0 0.3l1.3-15l1-1.8l2.4-2.4l2.4 0.6l2.5-0.4l2.4 1.1l2.3-0.7l2.4 1.3l2.4-0.3l2.5 1l2.4-0.4l2.3 0.8l2.4-0.5l2.4 1.7l2.5-0.5l2.4 2.4l2.3 0.9l2.4 1.5l2.4-0.3l2.5-0.2l2.4 1.1l2.3-1.3l2.4-1.2l2.4 0.8l2.5 0.1l2.4 0.9l2.3-0.2l2.4 3.5l1.6 2.5l0.8-0.9l2.5-0.1l2.4-1.1l2.3-0.2l2.4-1l2.4-1.3l2.5-2.3l2.2-0.6l0.2 0.6l2.3 2.3l1.2 2.1l1.2 13.8l1.3 13.7l1.1 25.2l1.5 32.3l1-21.8l1.5-33.2l0.9-4.4l2.3-10.7l0.5-2.4l1.9-4.1l2.4-4.9l2.5-2.4l2.4-3l2.3 0l2.4-1.1l1.1 0.5l1.3 8.8l1.2 6.2l1.2-6.9l1.3-8.1l1.2-1.3l2.3-1.7l1.5-2l1-0.3l2.3 1.1l2.5-0.3l2.3 1.6l0.9 0.4l1.5 28.9l1 18.6l1.2 30l0.2-4.1l2.3-50.9l0.1-1l2.5-11.7l1.2-7.3l1.1-1l2.5-0.4l2.4-0.6l1.5 2l0.8 19.7l1.7 37.8l0.8-9.2l1.7-20.8l0.6-4.3l1.9-13.2l0.5-1.6l2.5-4.1l2.3-5.5l2.2-3.8l0.2 3.5l2.3 29l0.1 4l1.2 33.5l1.2-8.2l2.5-17.1l2.3-11.6l1.5-8.1l1-2.4l1.5-2.6l0.8 9.6l1.7 15.4l0.8-8.2l2.4-23.3l0.5-6l1.8-1.3l2.5-0.5l2.3-1.4l2.5 0.1l2.4-1.5l2.3 0.2l1.2-0.6l1.2 46.7l0.8 28.3l1.6-34.2l1.4-28.3l1-2.5l2.5-4.3l1.5-3.2l0.8-0.7l2.5 0.7l2.3-1.5l2.5 1l2.4 0.8l2 2.2l0.3 14.2l1 35.8l1.5-24.6l1-15.4l1.3-3.8l1.2-3.7l1.2 0.7l1.2 1.8l1.2 17.1l1.3 17.9l1.1-15.9l1.5-19.1l1 1.1l2.3 2l2.5 4.4l1.7 5l0.7-2.2l2.3-5.9l0.7-1.9l1.8-1.9l2.3-1.6l0.9-1.5l1.5 15.2l0.5 4.8l1 25l1-4.3l0.5-3.2" fill="none" stroke="#ff0000" stroke-width="2.3" stroke-linejoin="round"/>
<path d="M267.5 620.3h0M269.0 620.7h0M270.5 622.4h0M272.0 621.6h0M273.5 625.5h0M275.0 626.5h0M275.7 622.3h0M276.5 616.6h0M277.2 614.9h0M277.9 610.6h0M278.6 606.8h0M279.1 612.8h0M279.4 616.5h0M279.8 615.5h0M280.3 622.1h0M281.8 623.2h0M283.4 624.5h0M284.9 626.3h0M286.5 630.6h0M288.0 631.8h0M289.6 635.3h0M290.7 636.1h0M292.0 634.3h0M293.4 638.0h0M294.8 639.7h0M296.1 640.3h0M297.5 639.3h0M298.8 637.2h0M300.7 639.4h0M301.9 643.1h0M303.1 649.9h0M304.3 649.9h0M305.1 653.7h0M305.2 659.8h0M305.4 660.6h0M305.5 665.3h0M305.7 668.4h0M305.8 670.2h0M306.0 676.3h0M306.1 681.1h0M306.3 681.4h0M306.4 685.3h0M306.6 689.8h0M306.7 691.6h0M306.9 697.4h0M307.1 702.5h0M307.2 705.4h0M307.4 708.3h0M307.6 713.5h0M307.8 713.7h0M307.9 719.3h0M308.1 721.9h0M308.3 726.6h0M308.5 727.9h0M308.7 734.6h0M308.8 735.0h0M309.0 738.9h0M309.2 745.5h0M309.4 749.8h0M309.7 750.9h0M309.9 754.4h0M310.1 757.2h0M310.3 760.9h0M310.5 766.1h0M310.7 767.6h0M310.8 765.4h0M311.0 763.4h0M311.1 758.4h0M311.2 757.2h0M311.4 754.4h0M311.5 750.6h0M311.6 745.6h0M311.8 741.4h0M311.9 738.2h0M312.0 732.5h0M312.1 732.3h0M312.3 726.9h0M312.4 723.2h0M312.5 718.5h0M312.7 716.7h0M312.8 713.7h0M312.9 709.2h0M313.2 708.0h0M313.6 703.5h0M314.0 697.9h0M314.4 695.7h0M314.8 694.0h0M315.1 691.7h0M315.4 695.6h0M315.7 696.6h0M316.0 702.2h0M316.3 705.7h0M316.6 708.9h0M316.9 712.6h0M317.2 717.0h0M317.5 720.1h0M317.9 716.3h0M318.2 711.2h0M318.6 708.9h0M318.9 707.9h0M319.3 701.7h0M319.6 696.3h0M320.0 692.6h0M320.4 691.6h0M320.7 685.7h0M321.1 682.4h0M321.4 678.9h0M321.8 677.0h0M322.1 676.0h0M322.5 670.0h0M323.2 666.5h0M323.9 662.9h0M324.5 659.8h0M325.0 657.3h0M326.6 657.0h0M328.2 656.2h0M329.8 653.6h0M330.9 655.2h0M331.8 659.6h0M332.7 664.1h0M333.7 663.7h0M334.6 667.4h0M335.3 668.5h0M335.9 665.3h0M336.5 661.6h0M337.1 657.9h0M337.6 655.5h0M338.2 650.3h0M338.7 648.4h0M339.2 645.6h0M339.7 639.6h0M340.3 638.6h0M341.7 635.2h0M343.0 633.3h0M344.4 626.5h0M345.6 631.5h0M346.5 634.1h0M347.5 638.3h0M348.4 641.7h0M349.3 641.6h0M350.1 646.9h0M350.5 647.9h0M350.8 653.7h0M351.2 658.8h0M351.5 658.8h0M351.9 663.2h0M352.2 665.4h0M352.7 667.6h0M353.4 664.3h0M354.1 660.3h0M354.7 661.2h0M355.3 661.6h0M355.8 663.0h0M356.3 667.9h0M356.8 671.2h0M357.3 673.9h0M357.9 676.8h0M358.6 681.4h0M359.3 684.3h0M360.0 686.4h0M361.6 688.5h0" fill="none" stroke="#808080" stroke-width="3.6" stroke-linecap="round"/>
<path d="M415.0 659.7h0M416.5 658.8h0M418.0 659.4h0M419.5 655.4h0M420.3 657.6h0M420.7 661.4h0M421.2 662.5h0M421.6 667.6h0M422.0 671.6h0M422.4 675.9h0M422.9 670.2h0M423.5 668.1h0M424.0 663.6h0M424.6 664.4h0M425.0 661.0h0M426.4 659.6h0M427.9 667.0h0M429.3 669.0h0M430.6 666.6h0M431.6 663.4h0M432.6 657.8h0M433.6 654.1h0M434.6 654.0h0M434.9 650.0h0M436.1 651.3h0M437.3 652.2h0M438.5 651.6h0M439.7 654.6h0M441.2 653.4h0M442.7 654.2h0M444.2 650.9h0M445.7 651.5h0M447.2 652.2h0M448.6 654.6h0M449.5 654.5h0M450.7 654.1h0M451.8 658.7h0M453.0 659.3h0M454.2 659.0h0M455.8 657.8h0M457.3 654.1h0M458.8 652.2h0M459.7 651.2h0M460.9 650.5h0M462.0 655.0h0M463.2 653.6h0M464.4 656.6h0M465.1 654.4h0M465.9 657.6h0M466.7 656.9h0M467.5 652.2h0M468.3 653.4h0M469.1 657.3h0M469.9 654.8h0M470.7 657.7h0M471.5 654.4h0M472.3 652.6h0M473.1 655.7h0M473.9 656.6h0M474.7 653.7h0M475.3 655.8h0M475.6 660.5h0M475.9 667.4h0M476.2 669.6h0M476.5 669.4h0M476.8 673.5h0M477.1 676.1h0M477.4 679.2h0M477.6 686.7h0M477.7 686.6h0M477.9 692.2h0M478.0 694.9h0M478.1 696.9h0M478.3 703.3h0M478.4 703.3h0M478.6 709.6h0M478.7 710.0h0M478.8 715.1h0M479.0 717.4h0M479.1 721.1h0M479.2 728.4h0M479.4 730.9h0M479.5 731.5h0M479.6 738.1h0M479.8 737.7h0M479.9 742.1h0M480.1 748.1h0M480.4 750.2h0M480.8 750.6h0M481.1 758.9h0M481.5 757.9h0M481.8 761.5h0M482.1 767.8h0M482.5 768.6h0M482.6 771.8h0M482.8 774.0h0M483.0 777.5h0M483.2 783.6h0M483.3 785.1h0M483.5 790.5h0M483.7 792.6h0M483.8 796.4h0M484.0 802.7h0M484.2 803.4h0M484.3 807.3h0M484.5 812.3h0M484.7 811.9h0M484.9 815.1h0M485.0 821.9h0M485.4 818.0h0M485.7 811.5h0M486.0 807.8h0M486.4 807.5h0M486.7 805.3h0M487.1 797.7h0M487.4 798.6h0M487.6 794.8h0M487.7 789.9h0M487.8 785.5h0M487.9 780.3h0M488.0 776.5h0M488.1 778.3h0M488.1 770.8h0M488.2 770.1h0M488.3 764.2h0M488.4 763.9h0M488.5 759.3h0M488.6 754.2h0M488.7 750.1h0M488.8 749.8h0M488.9 742.7h0M489.0 740.2h0M489.1 738.7h0M489.2 736.9h0M489.3 732.2h0M489.4 726.9h0M489.5 727.1h0M489.6 719.7h0M489.7 715.3h0M489.8 713.3h0M489.9 710.9h0M490.0 705.3h0M490.2 702.6h0M490.5 700.3h0M490.8 698.1h0M491.0 692.2h0M491.3 690.1h0M491.5 689.7h0M491.8 686.8h0M492.1 681.7h0M492.3 678.5h0M492.6 674.5h0M492.9 668.7h0M493.3 664.7h0M493.6 661.3h0M493.9 662.9h0M494.3 658.4h0M494.6 656.5h0M494.9 647.9h0M495.3 653.6h0M495.6 656.1h0M495.9 660.8h0M496.2 661.9h0M496.5 669.1h0M496.8 667.3h0M497.1 673.3h0M497.4 677.7h0M498.3 681.3h0M499.6 683.0h0M500.5 681.4h0M501.2 678.7h0M501.9 676.2h0M502.6 669.8h0M503.3 668.5h0M504.1 666.5h0M504.8 663.1h0M505.6 657.5h0M506.5 656.5h0M507.4 653.9h0M508.4 649.2h0M509.1 650.1h0M509.7 652.0h0M510.3 656.4h0M510.9 659.8h0M511.5 660.1h0M512.2 666.5h0M512.0 670.5h0M513.2 669.3h0M514.4 667.8h0M515.6 665.3h0M516.7 666.7h0M517.8 668.0h0M518.2 670.5h0M518.5 676.1h0M518.9 675.2h0M519.3 682.3h0M519.6 681.6h0M520.0 688.0h0M520.8 690.5h0M521.6 692.3h0M522.4 698.0h0M523.1 700.1h0M523.9 703.9h0M524.7 708.7h0M525.1 708.4h0M525.3 710.4h0M525.5 715.4h0M525.6 720.9h0M525.8 721.6h0M526.0 724.8h0M526.1 732.3h0M526.3 734.4h0M526.5 736.5h0M526.8 742.4h0M527.0 742.6h0M527.2 747.9h0M527.4 748.7h0M527.7 753.4h0M527.9 758.8h0M528.1 762.8h0M528.3 766.0h0M528.6 766.6h0M528.8 771.1h0M529.0 773.0h0M529.2 775.4h0M529.5 780.8h0M529.7 786.1h0M529.9 789.5h0M530.1 792.1h0M530.4 796.8h0M530.6 796.4h0M530.8 799.2h0M531.0 804.2h0M531.3 805.9h0M531.6 802.2h0M531.9 800.0h0M532.2 797.8h0M532.5 793.7h0M532.8 789.3h0M533.1 788.9h0M533.4 786.3h0M533.7 780.0h0M534.1 774.5h0M534.5 770.9h0M534.8 772.3h0M535.2 764.3h0M535.6 764.7h0M536.0 760.6h0M536.3 755.7h0M536.5 755.0h0M536.7 747.3h0M537.0 744.6h0M537.2 743.0h0M537.4 737.2h0M537.6 738.4h0M537.9 731.7h0M538.1 727.7h0M538.3 723.8h0M538.6 723.7h0M538.8 719.6h0M539.9 717.8h0M540.9 715.0h0M542.0 713.0h0M543.0 710.7h0M543.7 706.0h0M544.5 700.2h0M545.2 698.5h0M545.8 693.5h0M546.3 689.3h0M546.9 688.6h0M547.4 686.7h0M548.0 680.4h0M548.5 677.6h0M549.1 674.8h0M549.6 673.4h0M550.2 669.7h0M551.5 667.6h0M552.8 665.8h0M554.1 661.2h0M555.3 662.8h0M556.1 666.6h0M556.9 665.2h0M557.7 673.1h0M558.4 675.0h0M558.9 675.1h0M559.1 680.2h0M559.4 684.6h0M559.6 689.6h0M559.9 689.9h0M560.1 694.4h0M560.3 699.5h0M560.6 702.4h0M560.8 706.6h0M561.1 707.3h0M561.3 711.8h0M561.4 712.7h0M561.5 719.0h0M561.6 722.9h0M561.8 725.3h0M561.9 729.1h0M562.0 729.7h0M562.1 736.9h0M562.3 740.8h0M562.4 744.1h0M562.5 745.1h0M562.6 749.9h0M562.7 750.6h0M562.8 757.3h0M562.9 760.4h0M563.1 761.0h0M563.2 762.9h0M563.3 768.3h0M563.4 772.3h0M563.5 776.9h0M563.6 778.7h0M563.7 779.6h0M564.0 781.1h0M564.2 773.6h0M564.4 774.3h0M564.6 767.4h0M564.9 765.0h0M565.1 764.1h0M565.3 757.1h0M565.5 753.8h0M565.8 752.5h0M566.0 750.2h0M566.2 747.5h0M566.5 746.1h0M567.3 747.5h0M568.1 745.0h0M568.8 750.2h0M568.9 748.8h0M569.0 752.9h0M569.1 758.0h0M569.2 760.1h0M569.3 766.0h0M569.4 768.9h0M569.5 771.6h0M569.6 776.8h0M569.7 778.6h0M569.8 780.6h0M569.9 784.4h0M570.0 790.4h0M570.1 794.1h0M570.3 793.6h0M570.5 800.6h0M570.7 804.6h0M571.0 805.5h0M571.2 809.2h0M571.4 810.5h0M571.6 815.7h0M571.8 818.9h0M572.0 822.9h0M572.2 823.0h0M572.4 831.7h0M572.7 827.7h0M573.1 823.7h0M573.4 822.5h0M573.7 817.9h0M574.1 814.1h0M574.4 811.9h0M574.8 805.0h0M575.2 804.4h0M576.0 800.6h0M576.8 800.5h0M577.5 797.0h0M577.6 789.9h0M577.7 787.7h0M577.9 782.3h0M578.0 780.7h0M578.1 779.4h0M578.2 776.5h0M578.3 770.7h0M578.4 766.4h0M578.5 762.3h0M578.6 761.3h0M578.8 759.6h0M578.9 751.8h0M579.0 752.0h0M579.1 744.4h0M579.2 742.0h0M579.3 738.8h0M579.4 737.9h0M579.5 732.5h0M579.7 729.3h0M579.8 727.4h0M579.9 721.1h0M580.0 721.2h0M580.2 714.4h0M580.3 713.2h0M580.5 708.4h0M580.7 704.7h0M580.9 703.1h0M581.0 699.2h0M581.2 695.5h0M581.4 692.3h0M581.5 689.6h0M581.7 684.1h0M581.9 681.0h0M582.0 680.0h0M582.2 676.6h0M582.4 672.6h0M582.7 671.6h0M584.0 667.7h0M585.1 668.0h0M585.6 667.8h0M586.1 674.0h0M586.6 677.7h0M587.0 681.5h0M587.5 681.4h0M588.5 684.3h0M589.5 690.7h0M590.4 689.9h0M591.2 697.4h0M591.9 699.9h0M592.6 696.9h0M592.8 694.1h0M593.1 693.4h0M593.3 687.4h0M593.5 683.1h0M593.8 683.9h0M594.0 678.2h0M594.3 676.9h0M594.5 669.8h0M594.7 668.0h0M595.0 666.2h0M596.0 659.4h0M596.9 657.5h0M596.5 658.5h0M597.3 659.8h0M598.1 660.1h0M598.9 655.3h0M599.7 657.5h0M600.5 658.9h0M601.3 657.5h0M602.1 658.5h0M603.1 655.6h0M604.0 654.7h0M604.9 654.7h0M605.9 654.1h0M606.8 656.7h0M607.7 656.4h0M608.6 656.9h0M609.5 654.8h0M610.5 655.2h0M611.4 655.6h0M612.3 659.4h0M613.5 660.8h0M614.7 661.0h0M615.9 656.9h0M617.1 657.3h0M618.6 664.7h0M619.9 664.5h0M621.1 668.8h0M622.4 668.9h0M622.9 673.0h0M623.3 676.6h0M623.7 679.5h0M624.1 683.7h0M624.6 683.8h0M625.0 691.0h0M625.4 695.1h0M625.8 694.7h0M626.2 699.6h0M626.6 704.5h0M627.1 706.0h0M627.5 708.1h0M627.8 711.4h0M628.0 716.7h0M628.3 717.3h0M628.6 725.5h0M628.9 728.4h0M629.2 731.2h0M629.5 735.5h0M629.7 737.5h0M630.0 739.7h0M630.3 744.1h0M630.6 747.0h0M630.9 753.0h0M631.1 755.4h0M631.4 751.6h0M631.5 751.9h0M631.7 747.5h0M631.9 744.3h0M632.1 741.2h0M632.2 735.5h0M632.4 734.8h0M632.6 731.4h0M632.8 726.9h0M633.0 723.9h0M633.1 720.5h0M633.3 715.1h0M633.5 713.5h0M633.7 706.5h0M634.1 704.8h0M634.8 702.2h0M635.4 696.4h0M636.1 695.1h0M636.9 693.6h0M637.8 690.5h0M638.7 685.3h0M639.6 686.2h0M640.6 681.6h0M641.5 676.7h0M642.4 675.4h0M643.3 671.9h0M644.3 669.0h0M645.6 665.6h0M646.9 666.5h0M648.2 662.2h0M649.7 660.4h0M651.1 658.6h0M651.4 658.2h0M652.6 652.3h0M653.8 655.0h0M655.0 655.1h0M656.1 651.8h0M657.3 652.0h0M658.5 649.5h0M659.7 649.7h0M660.9 650.1h0M662.0 648.0h0M663.6 647.5h0M665.1 649.7h0M666.6 646.2h0M667.0 645.0h0M667.8 647.6h0M668.6 645.4h0M669.4 647.8h0M670.2 645.8h0M671.0 646.7h0M671.8 642.6h0M673.1 645.3h0M674.3 645.6h0M675.4 641.0h0M676.6 645.3h0M677.8 640.4h0M679.0 641.6h0M680.2 639.3h0M681.3 640.6h0M682.5 640.6h0M683.7 636.9h0M684.9 641.3h0M686.1 637.8h0M687.2 637.8h0M688.7 637.2h0M690.0 634.8h0M691.4 633.3h0M692.5 634.6h0M693.7 633.5h0M694.9 631.4h0M696.0 633.2h0M697.2 630.3h0M698.4 629.0h0M699.6 630.9h0M701.1 632.1h0M702.4 635.3h0M703.1 641.9h0M703.7 643.1h0M704.4 649.1h0M705.0 651.2h0M705.5 644.0h0M706.0 645.9h0M706.4 642.4h0M706.9 634.2h0M707.4 635.5h0M708.5 630.2h0M709.7 627.9h0M710.4 630.2h0M711.3 626.4h0M712.2 628.2h0M713.1 630.7h0M714.1 629.8h0M715.0 628.6h0M715.9 631.7h0M716.8 631.0h0M717.8 630.0h0M718.7 627.5h0M719.6 630.6h0M720.4 629.8h0M721.2 628.3h0M722.0 627.5h0M722.8 630.2h0M723.6 627.9h0M724.4 629.7h0M725.3 631.0h0M726.1 629.9h0M727.0 629.0h0M727.8 630.9h0M728.7 630.2h0M729.6 632.3h0M730.4 631.1h0M731.3 633.8h0M732.1 633.7h0" fill="none" stroke="#808080" stroke-width="3.6" stroke-linecap="round"/>
<path d="M748.8 622.4h0M750.2 624.9h0M751.7 626.4h0M752.4 624.3h0M753.3 623.3h0M754.2 625.1h0M755.1 624.3h0M756.1 627.1h0M757.0 626.2h0M757.8 625.6h0M758.6 625.3h0M759.4 625.9h0M760.2 623.0h0M761.0 624.7h0M761.8 623.1h0M762.6 627.3h0M763.4 622.5h0M764.2 626.8h0M765.0 622.6h0M766.4 628.2h0M767.9 628.4h0M769.3 630.9h0M770.7 633.0h0M772.0 625.8h0M773.0 624.6h0M774.4 628.4h0M775.8 625.1h0M777.2 621.7h0M778.0 626.4h0M778.8 626.0h0M779.7 621.2h0M780.5 622.8h0M781.4 621.1h0M782.3 621.9h0M783.1 623.5h0M784.0 620.8h0M784.8 623.6h0M785.8 619.8h0M786.7 620.2h0M787.6 623.6h0M788.5 621.1h0M789.5 620.9h0M790.4 621.7h0M791.3 620.8h0M792.2 620.0h0M793.2 617.8h0M794.1 621.5h0M795.0 622.6h0M795.9 622.9h0M796.9 621.4h0M797.8 619.9h0M798.7 620.2h0M799.6 622.2h0M800.6 622.1h0M801.5 618.7h0M802.4 619.2h0M803.3 619.7h0M804.3 620.2h0M805.2 621.7h0M806.1 619.7h0M807.0 616.8h0M808.0 621.1h0M808.9 618.6h0M809.8 618.9h0M811.0 616.7h0M812.2 617.3h0M813.4 616.4h0M814.5 618.0h0M815.4 613.9h0M816.4 616.2h0M817.3 613.9h0M818.2 616.5h0M819.1 612.6h0M820.1 613.7h0M821.0 613.9h0M821.9 615.3h0M822.8 611.8h0M823.7 613.8h0M824.7 612.2h0M825.6 612.7h0M826.5 614.0h0M827.4 616.9h0M828.4 614.5h0M829.3 617.4h0M830.2 613.2h0M831.1 617.7h0M832.1 614.8h0M833.0 614.0h0M833.9 617.4h0M834.8 618.5h0M835.8 613.7h0M836.7 615.4h0M837.6 618.4h0M838.5 616.2h0M839.5 615.9h0M840.2 614.7h0M841.0 614.9h0M841.8 618.2h0M842.6 620.2h0M843.4 620.3h0M844.2 617.5h0M845.5 614.6h0M846.7 615.7h0M847.9 617.7h0M849.1 617.3h0M849.8 615.8h0M850.6 613.6h0M851.4 615.3h0M852.3 615.2h0M853.1 616.1h0M853.9 614.2h0M854.8 618.1h0M855.6 617.9h0M856.4 613.9h0M857.3 614.7h0M858.1 618.1h0M858.9 614.9h0M859.8 618.7h0M860.6 616.3h0M861.4 617.2h0M862.3 617.1h0M863.1 614.3h0M864.0 614.6h0M864.8 614.3h0M865.6 616.6h0M866.5 616.5h0M867.3 613.3h0M868.1 617.4h0M869.0 614.7h0M869.8 613.6h0M871.0 615.1h0M872.2 618.8h0M873.3 617.0h0M874.5 618.0h0M876.1 618.7h0M877.6 617.5h0M879.1 614.9h0M879.7 612.1h0M880.6 612.8h0M881.5 614.4h0M882.4 613.5h0M883.4 612.1h0M884.3 610.6h0M885.2 610.6h0M886.1 612.9h0M887.1 612.1h0M888.0 609.3h0M888.9 613.4h0M889.8 614.7h0M890.8 614.4h0M891.7 615.1h0M892.6 615.5h0M893.5 613.6h0M894.5 615.2h0M895.4 613.2h0M896.3 611.8h0M897.2 613.5h0M898.2 613.5h0M899.1 617.2h0M900.9 617.4h0M902.4 618.8h0M903.7 617.1h0M905.0 611.7h0" fill="none" stroke="#808080" stroke-width="3.6" stroke-linecap="round"/>
<polyline points="267.5,620.0 269.0,619.7 270.5,621.8 272.0,622.2 273.5,623.8 275.0,625.0 276.9,615.5 278.8,607.5 280.0,620.0 281.7,623.6 283.3,625.2 285.0,627.5 286.7,630.7 288.3,633.8 290.0,635.0 291.7,635.8 293.3,636.6 295.0,637.5 296.7,637.2 298.3,640.0 300.0,640.0 301.7,642.9 303.3,647.9 305.0,652.5 306.8,695.0 307.9,716.5 309.0,740.0 310.8,770.0 311.9,739.4 313.0,707.5 315.0,690.0 316.2,704.9 317.5,720.0 318.8,707.5 320.0,695.0 321.2,682.6 322.5,670.0 323.8,664.8 325.0,657.5 326.7,657.3 328.3,653.8 330.0,652.5 331.7,659.5 333.3,664.8 335.0,670.0 336.2,663.1 337.5,655.0 338.8,647.7 340.0,637.5 341.7,633.3 343.3,630.3 345.0,627.5 346.7,633.3 348.3,638.6 350.0,645.0 351.2,656.9 352.5,670.0 353.8,662.8 355.0,657.5 356.2,667.5 357.5,675.0 358.8,682.7 360.0,687.5 361.2,689.9 362.5,690.0" fill="none" stroke="#808080" stroke-width="2.2" stroke-linejoin="round" stroke-linecap="round"/>
<path d="M267.5 622.7h0M269.3 619.6h0M271.0 620.0h0M272.8 626.4h0M274.6 621.2h0M275.7 621.3h0M276.6 618.1h0M277.4 614.6h0M278.3 606.4h0M279.0 610.7h0M279.4 613.7h0M279.8 621.0h0M280.6 616.7h0M282.4 627.7h0M284.2 623.4h0M286.1 631.9h0M287.9 631.9h0M289.7 637.6h0M291.1 632.7h0M292.7 634.8h0M294.3 633.4h0M295.9 640.5h0M297.5 639.1h0M299.2 636.9h0M301.1 639.9h0M302.5 642.4h0M303.9 647.0h0M305.0 654.2h0M305.2 657.3h0M305.4 663.9h0M305.6 662.4h0M305.7 673.5h0M305.9 678.9h0M306.1 681.0h0M306.3 685.2h0M306.4 690.3h0M306.6 687.7h0M306.8 695.2h0M307.0 696.0h0M307.2 706.5h0M307.4 708.5h0M307.6 708.8h0M307.8 716.0h0M308.0 723.2h0M308.2 725.3h0M308.5 725.6h0M308.7 737.2h0M308.9 733.4h0M309.1 744.7h0M309.3 750.1h0M309.6 752.2h0M309.8 758.2h0M310.1 758.6h0M310.3 760.0h0M310.6 766.5h0M310.8 771.2h0M310.9 767.3h0M311.1 759.7h0M311.2 760.5h0M311.4 748.1h0M311.5 748.1h0M311.7 739.8h0M311.8 738.5h0M312.0 740.0h0M312.1 727.9h0M312.3 731.5h0M312.4 726.6h0M312.6 720.5h0M312.7 710.6h0M312.9 710.1h0M313.1 708.0h0M313.6 698.5h0M314.1 696.2h0M314.6 690.2h0M315.0 693.4h0M315.4 698.2h0M315.7 702.5h0M316.1 705.1h0M316.4 707.7h0M316.8 707.2h0M317.1 715.1h0M317.5 721.8h0M317.9 718.7h0M318.3 708.0h0M318.7 703.7h0M319.1 700.2h0M319.5 703.6h0M319.9 692.2h0M320.4 690.5h0M320.8 687.1h0M321.2 686.6h0M321.6 675.8h0M322.0 672.7h0M322.4 673.2h0M323.2 663.0h0M324.0 659.7h0M324.8 654.4h0M326.0 660.6h0M327.9 652.2h0M329.9 652.7h0M331.0 655.0h0M332.1 664.3h0M333.2 665.7h0M334.3 668.5h0M335.3 668.3h0M335.9 662.3h0M336.6 663.3h0M337.3 652.7h0M337.9 653.2h0M338.5 646.2h0M339.1 641.9h0M339.7 639.4h0M340.6 633.6h0M342.2 634.0h0M343.8 626.1h0M345.3 624.4h0M346.4 629.3h0M347.5 632.6h0M348.6 643.6h0M349.7 644.1h0M350.3 649.7h0M350.7 654.7h0M351.1 653.4h0M351.6 664.6h0M352.0 663.6h0M352.4 668.5h0M353.1 667.0h0M353.9 664.9h0M354.7 661.6h0M355.3 657.2h0M355.9 667.0h0M356.5 667.5h0M357.1 670.0h0M357.8 679.6h0M358.6 683.6h0M359.4 687.5h0M359.6 685.5h0M361.5 692.7h0" fill="none" stroke="#808080" stroke-width="3.0" stroke-linecap="round"/>
<path d="M163.8 899.6l2.3-5.2l1.4-1.9l1.1 1.1l2.3-0.2l2.4 1.8l2.4 0.6l1.8-0.8l0.7 1.7l2.4 8.2l2.3 2.5l2.4 1.4l2.2-0l0.2-0.1l2.5-4.1l2.3-3.4l0.1 0.6l2.3 2.2l2.4 3.6l0.2-0.1l2.2-1.5l2.5 0l2.4-0.7l2.3 2.9l0.6-0.7l1.8-1.4l2.4-3.6l0.8 0l1.7 2.5l2.4 1.1l0.9 1.4l1.4-1.3l2.4-5.1l2.4-2.6l1.3-2.2l1.2 3.5l2.4 7.9l2.3 3.5l1.6 3.8l0.8-2.3l2.4-9.3l0.6-0.9l1.8-2.7l1.9-3.5l0.6 3.9l1.9 14.8l0.4-7.4l0.8-15.1l1.7 1.1l2.1 2.6l0.2 0.4l2.4-2.9l2.4-1.2l0.1 0.6l2.3 1.9l2.5 4.2l2.4 0.9l2.3-1l0.4 0.9l2.1-4l1.6-2.2l0.8 0.7l2.4 1.4l2.4 2.8l2.3 0.8l2.4 3l1 0l1.4-6.3l1.1-3.7l1.4 2l2.4 2l2.3 1.7l2.4 2.3l2.4 0.2l2.5 2.8l2.4 1.9l2.3 3.4l2.4 1.5l2.4 3.2l2.1 1.5l0.4 1.7l2.1 13.3l0.2-1.2l2.3-16.3l0.1-0.9l2.4-5l2.4-6.8l0.1 0.2l2.4 36.2l0.1 1.3l2.2-18.3l0.3-1.7l2.1-3.5l2.4-5.8l0.5-0.7l1.9 1.7l2.5-0.3l0.6 1.1l1.8 14.6l0.7 5.4l1.6-12.5l0.9-5l1.5-4.8l2.4-9.7l1.1-3l1.4-0l2.4-2.6l1.2 0.1l1.1 2.7l2.4 4l1.5 3.3l0.9 1.4l2.5-0.2l2.4 2.6l2.3 4.3l1.9 1.9l0.5 3.6l2 13.9l0.4 1.1l2.1 8.9l0.4-2.7l2.4-22.4l2.2-19.9l0.1 0.6l2.4-0.2l2.4 1.2l2.5-1.4l2.4-0.3l2.3-0.5l2.4-2.1l2.4 1.9l2.5 0l2.4-0.2l2.3 0.7l2.4-0.9l2.4 1.7l2.5-1.4l2.4 1.3l2.3-0.1l2.4 4.2l2.4 2.5l2.5 2.8l2.4 4.3l2.3 0.7l1.9 2.7l0.6-0.2l2.3-4.7l2.4-2.4l2.4-2l2.4-1.9l2.4-2.2l2.4-4.9l0.1 0.8l2.3 24.2l0.2 0.8l2.2-20.5l0.3-2l2.1-0.7l2.4-1.3l0.5-0.5l1.9 12.6l1.9 12.4l0.5-2.6l2.4-10.4l0.8-4.5l1.6-1.3l2.4-3l2.4-1.2l2.4-2.4l2.4 0.7l2.4-1.6l2.4 0.5l2.4-2.4l1.6-0.5l0.8 3.2l1.7 4.2l0.8 3.4l2.3 14.7l1.9 10.7l0.6-0.3l2.3 1.3l2.1 0.2l0.3-1.8l2.2-4.4l0.2-1.5l2.3-21l0.1-1.1l2.4-1.7l2.4-3.8l0.1 0.4l2.3 1.1l1.4 1.4l1.1 5.6l0.2 0.6l2.1-3.3l2.4-2.2l2.4-2.4l2.4-1.4l0.7-0.7l1.8 0.6l2.3 3.3l0.9-0.1l1.5-2.5l2.2-1.3l0.2 0.9l2.4 3.2l1.2 2.1l1.2 4.9l2.4 6.6l1.4 4.8l1 6.9l2.5 14.7l0.2 0.9l2.1-19.8l0.5-2.7l2-10.2l1.7-9.8l0.6-1.6l2.4-2.2l2-1.2l0.5 1l2.3 1.1l2.5 3.4l2.4-0.1l2.3 2.1l0-0.5l2.5 5.9l1.2 2.1l1.1 6.2l2.5 13.5l2.4 7.1l2.3 7.5l0.5 0.7l2 1.7l1.8 2l0.5-1.7l2.5-11.7l0.7-2.8l1.6-4.1l2.4-7.5l2.5-6.7l1-4.2l1.3 1.3l2.5 4.7l1.2 1.5l1.1-1.4l2.4-0.8l2.5-2.9l2.3 0.4l2.5-2.3l2.4-0.7l1.8-2.3l0.5-1.9l2.5-3.3l2-4.8l0.3 0.7l2.5-2l2.4-1l2.3 0.7l2.5-1.2l0 0.3l2.3 10.2l0.2-0.2l2.2 3.8l2.4 5.9l2.4 6.8l1.8 6l0.7-1.9l1.8-5.6l0.5 1.4l2 7.4l0.5-1.4l2.4-11.1l2-11.3l0.3-0.9l2.5 0l2.3-0.4l2.5-0.6l1.2 0.6l1.1-1.1l2.4-3.5l1.5-1.6l1 1.2l2.3 0.9l2.5 2.6l2.4-0.5l2.3 0.8l2.5-1.4l2.3 0.5l2.5-1.4l2.4 0.2l2.3-1.2l2.5 0.2l2.4 2.1l2.4-0.9l2.4 2.1l2.3-0l2.4 2.3l2.5-1.1l2.4 2.1l2.4-1.6l2.3 2.6l2.4 1.5l2.5 1l1.1-0.8l1.2 8.3l0 0.5l2.4-4.3l2.4-4.7l2.4-0.4l2.5-2.8l2.4-1.1l2.4-2.9l2.3-1.3l2.4 1l2.5-1.1l2.4 1.5l2.4-2.1l2.3-0.4l2.4-0l2.5 1.9l2.4 0.1l2.4 2l2.3 1l2.4-1.9l2.5 0.3l2.4-2.9l2.4 0.6l2.3-2.9l2.4-0.2l2.5-3l1.1-0.1l1.2 0.6l2.4 2.6l2.4-0.1l2.4 1.1l2.5-1.6l2.4 0.1l2.4-2.2l2.3 0.6l2.4-1.4l2.5 1.2l2.1 0.3l0.2 0.2l2.3 6l0.1 0.6l2.4-5l2.4 0.3l2.5-2.7l2.4 1.8l2.4-0.9l2.3 1.8l2.4-0.6l2.5 2.4l2.4-0.8l2.4 1.9l2.3-0.5l2.4 1.2l2.5 1.2l2.4-1l2.4 1.9l2.3-0.3l2.4 1.3l2.5-0.4l2.4 1.1l2.4-0.5l2.3 2.6l2.4 0.8l2.5 1.9l2.4 0.5l2.4 0.7l2.3 1.6l2.4 2.4l2.5-0.1l2.4 2.2l2.4 0.4l2.3 2.2l2.4-2.2l2.5 0.2l2.4-1.6l2.4 0.5l2.3-1.2l2.4 2l2.5-1.9l2.4 0.6l2.4-0.9l2.3-1.7l2.4-0.7l2.5-2.3l2.4-0.2l2.4-1l2.3-2.4l2.4-2.6l2.5-4.7l2.4-1l2.4 0.4l2.3-0.7l2.4 1.9l2.5-2l2.4 0.5l2.4-2l2.3-0.5l2.4-0.6l2.5 2.8l2.4-1.6l2.4 1l2.3-2.4l2.4 1.3l2.5-1.1l2.4 1.7l2.4-0.7l2.3 1.6l2.4-0.5l2.5 1.1l2.4-0.2l2.4-1.4l2.3 1l2.4-1.1l2.5 0.9l2.4-1.2l2.4 1.2l2.3-0.9l2.4 1.3l2.5-0.2l2.4 2.4l2.4-1.2l2.3-0.9l2.4 1.8l2.5-0.4l2.4 1.5l2.4-0.1l2.3 0.7l2.4-2.1l2.5 1l2.4-0.8l2.4 1.2l2.3-1.4l2.4 1.5l2.5-1.5l2.4 1.3l2.4-2l2.3-0l2.4 0.1l2.4 1.6l2.5-1.5l2.4 1.9l2.3-0.9l2.4 0.2l2.4 1.8l2.5-1l2.4 1.1l2.3-1.7l2.4 1.4l2.4-0.6l2.5 1.2l2.4-0.3l0.8 0.5l1.5 5.3l1 2.2l1.4-1.7l2.4-1.3l2.5-2.9l2.4-0.5l2.3-1.7l2.4-0.9l2.4 1.2l2.5-1.8l2.4 2l2.3-0.8l2.4 1.4l2.4-1.1l2.5 1.1l2.4-0.9l2.3 4.1l0 0.8l2.4-4.7l2.4 1.5l2.5-0.4l2.4 1.3l2.3-1.9l2.4 1.6l2.4-1.2l2.5 1.2l2.4-0.5l2.3-1.4l2.4 0.8l2.4-2.1l2.5 1.1l2.4-1.1l2.3 2.3l1.5 0.2l0.9 1.7l1.6 4.6l0.8-1.5l2.5-0.4l2.4-2.4l2.3 0.6l2.4-1.5l2.4 0.7l2.5-0.7l2.4 0.7l2.3 0.8l1.2 1.2l1.2 6.6l1.3 5.9l1.1 9.2l1.5 13.3l1-8.2l1.5-14.3l0.9-3.2l2.3-4.6l0.5-2.2l1.9-1.7l2.4-0.6l2.5-2.1l2.4 0.2l2.3 0.7l2.4 1.1l1.1-0.1l1.3 3.4l1.2 4.1l1.2-1.5l2.5-4l2.3-3.8l2.5-0.6l2.3-1.5l2.5 1l2.3-1.6l0.9-1.8l1.5 10.6l1 5.7l1.5-4.8l1-2.7l1.3-0.4l2.5-4.2l2.3 0.1l2.5 0.1l2.4-1l2.3 2.6l2.5-0l2.3 0.7l2.5-0.8l2.4-2l2-0.1l0.3 2.7l2.5 13l2.2 14.3l0.1-0.1l2.5-9.3l2.4-7.6l0-0.5l2.3-2.4l2.5-1.8l2.3-1.7l2.5-4.3l0.4 0.2l2 0.3l2.3-0.8l2.5 2l2.3-0.3l2.5 1.1l2.4-2.2l2.3 1.5l2.5 0.5l-0 0.4l2.3-2l2.5-2.5l2.4-0.8l2.3-1.7l2.5 1.5l2.3-1.1l2.5 1.5l2.4 0.2l2.3 1.6l2.5 0l2.3 1.6l2.5 1.1l2.4 0.4l2.3-0.1l2.5-1.7l2.3 0.4l2.5-1.6l2.4 1.6l2.3-0l2.5-0.3l2.3-2.4l0.9 0.5l1.5 10.5l1 5.8l1.5-3.1l0.5-0.6" fill="none" stroke="#92161b" stroke-width="2.3" stroke-linejoin="round"/>
<path d="M163.8 935.3l2.3-0.4l2.5-1.6l2.3 2l2.4-0.9l2.4 1.1l1.8-0.5l0.7 3.1l1.8 11.9l0.6-2l1.9-4.2l0.4 0.2l2.4-1.1l2.4 0l2.5-1.3l2.4 1.5l2.3-0.8l2.4 0.5l2.4-0.7l2.5 1.9l2.4-2l2.3-1.3l0.6 0.5l1.8 2.4l2.4 1.6l2.5 3.4l0.8 2.6l1.6-2.1l2.3-5.6l1.1-1l1.3 0.6l2.4-0.9l2.5-1.8l2.4 0.4l1.4-0.8l0.9 3.5l1.6 6.5l0.8-1.3l2.4-8.3l2.4-2.4l1.9-3l0.6 0.2l2.3 5.1l0.8 1l1.7-2.2l2.1-1.6l0.2-0l2.4 1.1l2.5 3.4l2.3-2.1l2.5 0.5l0.1-0.4l2.2 9l2.4 8.8l0.4 1l2.1-8.5l0.4-2.8l1.9-2.9l2.5-1.8l0.6-1.5l1.8 0.3l2.3 3.5l0.9-0.1l1.6-1.5l2.3-1.2l2.5-1.9l2.4 0.9l1.2-1.3l1.1 2.1l2.4 5.7l2.4 3.4l2.5 4l1.6 2.3l0.8-1.6l2.3-0.6l1.9-2.8l0.5-0.6l2.4 2.6l2.1 0.5l0.4 1.4l2.1 13.6l0.2 2.5l2.3 20l0.1-2.4l2.4-22.6l0 0.3l2.4-18l0.1 0.2l2.4 22.1l0.1 0.4l2.2 1.6l0.3 0.9l2.1-6.3l2.4-7.6l2.4-7.7l2.5-8.9l0.6-2l1.8 19.8l0.7 7.7l1.6-17.5l0.9-7.5l1.5-1.8l2.4-4.8l1.1-0.9l1.4 0.8l2.4-1.2l1.2 0.4l1.1 2.9l2.4 4l2.4 4.8l2.5 3l2.4 3.5l2.3 0.5l1.9 1.3l0.5 4.4l2.4 14.7l2.1 10.9l0.4-3.6l2.1-28.9l0.2-1.8l2.3-10.7l0.1 0.6l2.4-2.4l2.4-0.4l2.5 0l2.4 2.7l2.3-2l2.4-0.6l2.4 0.3l2.5 2.3l2.4-1.5l2.3-0.6l2.4-2.8l2.4-1.8l1.1-1.3l1.4 0.2l2.4 2.5l2.3-1.1l2.4 0.6l2.4-0.7l2.5 2.5l1.6 1l0.8 0.6l2.3 6.7l1.9 2.7l0.6-1l2.3-2.6l2.4-4.6l2.4-0.1l2.4-2.1l2.4 1l2.4-1.5l0.1 0.9l2.3 21.5l0.2 1l2.2-20.6l0.3-1.9l2.1 5l2.4 3.3l0.5 1.7l1.9 9.6l1.9 7.9l0.5-2.3l2.4-11.9l0.8-3.3l1.6-3.2l2.4-2.5l2.4-3.5l2.4-0.3l2.4-2.4l2.4-0.2l2.4-2.4l2.4 0.7l2.4-0.4l1.7 1.7l0.8 3l2.3 5.5l2.4 8.8l2.4 6.5l2.1 8.7l0.3-1.8l2.4-16.4l2.3-11.8l0.1-0.5l2.4 1.4l2.4-1.5l2.4 3.7l2.4-0.1l2.4-2.3l2.4-5.6l0.5-0.1l1.9-1.1l2.4-0.3l2.4-1.1l2.4 3l2.4-0.4l2.5 1.6l1 0.8l1.3 6l2.5 12.1l-0-0.6l2.4 5.6l1.3 4.4l1 7.7l2 12.3l0.5-4.5l2.3-21.3l0.5-4.2l2-10.3l1.7-7.2l0.6-0.2l2.4-2.2l2.5 0.7l2.3-1.5l2.5 1.2l2.4 0.7l2.3 2.1l2.5-0.4l2.3 2.5l0.2-0.4l2.2 11.2l1.5 8.8l0.9 3.3l2.4 7.2l2.5 8l1.8 5.2l0.5-4.7l2.5-13.6l0.7-5.4l1.6-8.2l2.1-9.3l0.3 0.5l2.5-2.9l2.3 1.1l2.5-1l2.4 2l2.3-0.9l1.5 1.2l1 3.5l2.3 5.9l0.5 1.9l2-6.7l1.7-4.6l0.6-0.3l2.4-3.1l2.5-0.9l2.3-3l2.2-0.2l0.2 0.7l2.4 1.7l2.4 2.9l2.5 1.8l2.3 2.2l2.5 2.8l2.4-0l0.3 0.4l2 10.6l0.5 1.9l2 1.5l0.5 1l1.8-4.7l0.7-2.8l1.8 9.7l0.7 5.3l1.6-19.3l0.9-10.7l1.5 0.5l2.5-2.2l2.3 0.7l2.5 1.8l1.2 1.7l1.1 0.1l2.4-2.3l2.5-0.2l2.3-0.4l2.5 0l2.4-1.1l2.3 0.5l2.5-1.9l2.3 0.9l2.5-1.5l2.4 1.3l2.3-0.7l2.5 1.2l2.4-1.2l2.4 0.7l2.4-0.8l2.3 0.8l2.4-0.6l2.5 1.8l2.4-0.6l2.4 1.1l2.3-2l2.4 0.8l2.5 0.8l2.4 0.3l2.4 4.7l0-0.5l2.3-3.4l2.4-2.9l2.5-0.2l2.4-2.5l2.4 1.7l2.3-0.5l2.4 0.6l2.5-2.3l2.4 1.9l2.4 0l2.3 1.2l2.4-0.1l2.5-0.1l2.4-1l2.4 0.7l2.3-0.8l2.4-0l2.5-1.8l2.4 0.5l2.4 1.9l2.3-1l2.4-0l2.5-0.6l2.4 1.6l2.4-1.4l2.3 1.1l2.4-1.3l2.5 0.5l2.4 1l2.4-1.6l2.3 1.1l2.4-0.8l2.5 2.1l2.4 1.8l2.2 0.9l0.1-0.8l2.4 0.1l2.4-2.1l2.5 0.4l2.4-2.1l2.4 0.8l2.3-2l2.4 0l2.5 1l2.4-1l2.4 1l2.3-1.2l2.4 1.3l2.5-1.3l2.4 1.3l2.4-0.6l2.3 1.8l2.4-1.1l2.5 1.5l2.4-1.9l2.4 0.8l2.3-1.3l2.4 1.8l2.5-1.4l2.4 1.9l2.4-1.2l2.3 1.1l2.4-0.9l2.5 0.7l2.4-1l2.4 0.9l2.3-1.1l2.4 1.5l2.5-1.6l2.4 1.1l2.4-1.5l2.3 0.7l2.4-0.1l2.5-0.9l2.4 0.8l2.4-0.9l2.3 1.1l2.4-0.8l2.5 1.1l2.4-0.8l2.4 0.3l2.3 0.9l2.4 2.9l0.9-0.5l1.6-0.8l2.4-3.6l2.4 1l2.3-0.5l2.4 0.5l2.5 0.4l2.4 2.6l2.4-2.4l2.3-0.3l2.4-1.4l2.5 1.2l2.4-1.4l2.4 0.3l2.3-0.8l2.4 0.8l2.5-1.2l2.4 1.4l2.4-0.9l2.3 0.4l2.4-0.7l2.5 1.1l2.4-1.6l2.4 1.6l2.3-1.4l2.4 1l2.5-0.9l2.4 1.9l2.4-1l2.3 0.5l2.4 1l2.5-1.3l2.4-0.2l2.4 1.4l2.3 0.3l2.4-1.6l2.5 1.5l2.4-1.1l2.4 1.3l2.3-1l2.4 1.2l2.5-1.4l2.4 0.8l2.4-1.3l2.3 1.8l2.4-1.6l2.5 1l2.4-0.5l2.4 0.4l2.3-1.6l2.4 1l2.4-1.3l2.5 1.3l2.4-0.7l2.3 0.2l2.4 1.4l2.4-1.2l2.5 1.4l2.4-1.1l2.3 1.1l2.4-1.3l2.4 1.1l2.5-1l2.4 0.8l2.3-1.1l2.4 1.1l2.4 1.4l2.5-1.2l2.4 1l2.3-1.2l2.4 0.9l2.4-1.6l2.5 1.3l2.4-1.8l2.3 1.1l2.4-1.9l2.4 1.2l2.5-0.9l2.4 0.3l2.3 1.6l2.4-1l2.4 1.5l2.5-0.5l2.4 1l2.3-1.8l2.4 1.6l2.4-1.7l2.5 1.2l2.4-1.5l2.3 0.9l2.4-0.4l2.4 0.9l2.5-1l2.4 0.5l2.3-0.7l2.4 1l2.4 0.2l2.5 1.5l2.4-0.6l2.3 1.7l2.4-2.2l2.4 0.5l2.5-0.6l2.4 1.3l2.3 0.7l2.4 6l2.4 6.2l1.5 4.8l1-4.1l1.5-8.4l0.9-0.8l2.3-3.9l2.4-0.4l2.4-1.6l2.5 1.4l2.4-0.4l2.3 2.2l2.4 0.5l2.4 4.3l1.2 3.7l1.2-3.4l1.3-4.1l1.2-0.7l2.3-0.3l2.5-2l2.3 0.5l2.5-1.9l2.3 2.3l0.9-2.9l1.5 12.1l1 7.9l1.5-6.4l1-6.1l1.3 0.3l2.5-2.5l2.3-0.1l2.5-1l2.4 1.9l2.3 2.8l1.7 1.1l0.8 2.4l1.7 7.6l0.6-1l2.5-5.5l2.4-4.1l2-4.4l0.3-0.9l2.5 0.4l2.2-2l0.1-0.3l2.5 11.5l2.4 13.2l0 0.6l2.3-5.1l2.5-7.7l0.2 0.3l2.1-2.8l2.5-0.8l2.4-4.6l2.3-3.2l0.7-1.1l1.8 0.2l2.3 2.8l0.9-0.5l1.5-1.8l2.5-1.2l1-2l1.3 1.2l2.5 4l-0-0.2l2.3-2.6l2.5 0.4l2.4-1.2l2.3-2l2.5 1.3l2.3-1.1l2.5-0.3l2.4 2.4l2.3 0.6l2.5 3.2l2.3 1l2.5 3l2.4-0.2l0 0.5l2.3-2.2l1.5-2.8l1 9.1l2.3 23.1l0.4 2.8l2-25.4l0.5-4.6l2-0.6l2.3-2.5l2.5 1.5l2.3-1.2l0.9 0.3l1.5 4.1l2.5 4.1l0.5 1.8" fill="none" stroke="#16386a" stroke-width="2.3" stroke-linejoin="round"/>
<path d="M163.8 960.6l2.3-1.3l2.5 0.9l2.3 1.9l1.6 2.9l0.8-0.5l2.4-1.9l1.8-2.6l0.7 2.2l1.8 9l0.6 0.5l2.3-2l2.1 2.8l0.3-0.5l2.4-5.7l2.5-2.1l2.4-0.9l2.3-1.7l2.4 1.7l2.4 0.5l2.5 3.6l2.4 0.2l2.3 2.8l2.4 0.9l2.4 2.5l2.5 0.1l0.8 1.1l1.6-4.8l0.9-1.5l1.4-0.3l2.4 2.2l2.4-0.9l2.5 1.5l1.3 0l1.1 3.9l2.3 10.8l1.6 5.4l0.8-3l2.4-10.8l1.8-5l0.6 1.5l1.9 1l0.6 3.4l1.9 9.1l0.4-1.7l2.4-2.6l2.4-3.1l2.4 0l2.5-1.6l2.3-0.5l2.5 0.4l2.4 2.4l0.2-0.8l2.1 7.6l0.4 2.4l2.1-2.5l2.3-4.9l2.5-0.4l2.4-2.8l0.7 0.6l1.6 2.2l2.4 1.5l2.4 3l2.5-0.4l2.4 1.1l2.3-1.9l2.4 1.2l2.4 0.6l2.5 2.6l2.4-0.3l2.3 2.1l2.4 0.4l2.4 2.4l2.5-0.2l2.4-0.7l2.3-0.8l2.4 2.2l0 0.8l2.4 13.7l0.1 0.5l2.4-8.6l2.4-6.2l2.3-1l2.4-2.2l2.4 1.9l2.5-0.1l0.6 1.2l1.8 12.3l0.7 4l1.6-11.2l0.9-5.1l1.5-3.7l2.4-8.5l1.1-2.8l1.4 2l2.4 0.9l2.3 4.8l2.4 3.6l2.4 4.9l2.5 1.3l2.4 4.4l2.3 3.9l1.9 4.2l0.5 3.7l2 8.8l0.4 3.9l2.1 18.6l0.4-7.3l2.1-37.7l0.2-1l2.3-19l0.1 0.7l2.4-2.6l2.4-0.1l2.5 0.5l2.4 1.8l0.2-0.3l2.1-3.4l2.4-6.6l0.5 0l1.9-0.6l2.5 1.4l2.4 0.5l2.3 3.4l2.4 1.7l2.4 5l1.1 1.1l1.4-2.9l2.4-1.9l2.3-6.5l1.4-3.7l1 2.4l2.4 2l2.5 4l2.4 6.3l2.3 4.2l2.4 2.6l2 3.5l0.4 0.3l2.4-1.9l2.4-0.5l2.4 0.7l2.4 1.2l2.4 1.8l2.4 0.4l2.4 0l2.4-2.1l2.4 1.4l2.4 0.2l2.4 3.1l2.4 1.7l0.8 1.2l1.6-2.5l2.4-5.7l2.4-2.2l2.4-4l2.4-1.3l2.4-2.9l2.4-0.1l1.5-1.3l0.9 0.7l2.4 3.2l1.7 1.1l0.8 5.5l1.7 14.5l0.6 0.3l2.4 3l2 1.7l0.4 0.9l2.1 9.1l0.3-2.1l2.4-20.3l2.3-15.1l0.1 0.6l2.4-2.1l2.4-0.8l2.4 1.1l2.4 3.4l2.4 0.6l2.4-2.3l2.4 1.4l2.4 3.4l2.4-0.6l2.4 2.1l2.4 1.4l2.2 1.8l0.2 2.3l1.1 17.7l1.3-2.4l1.2-2.6l1.2 0.6l2.4 3.5l1.4 0.9l1 4.8l2.5 12l0.2 0.7l2.1-19.5l2.5-16.2l0.5-4.3l1.9-2l2.3 0.1l2.5-1.9l2.3 0.9l2.5-1.8l2.4 0.7l2.3-0.9l2.5 1.4l2.3 0.2l1.5 0.8l1 10.4l1.5 14.6l0.9 0.2l2.3 3.8l2.5 1.5l1.8 3.2l0.5-3.5l2.5-15.6l2-10.9l0.4 0.1l2.3-3.3l2.5-1.1l2.3-3.6l2.5 0.5l1.2-1.3l1.1 0l2.4 2.1l2.5 2.3l2.3-2.3l2.5 0.6l2.4-1.7l2.3 1.2l2.5-0.6l2.3-0.7l2.5 0.5l2.4-0.4l2.3 0.2l1.2 1.3l1.2 15.8l0.1 0.5l2.3-10.3l0.2 0.2l2.2-0.6l0.3-0.6l2.1 5.7l0.4 1.8l2-1.6l2.5 0.5l2.3 3.6l2.5 5.9l0.7 1.6l1.6-8.6l0.9-3.9l1.5-2.9l1-2.1l1.5 1.2l2.3 1.4l2.5-2.4l2.4-0.6l2.3-2.4l2.5-2.8l2.3 1.2l2.5-1.7l2.4 0.2l2.3-2.6l2.5-0.2l2-1.3l0.3-1.1l2.5-5.3l2.2-6.1l0.1-0.7l2.4 0.1l2.5-2.3l0 0.4l2.4 2l2.4 0.8l2.4 2.8l2.3 0l2.4 2l2.5-0.8l2.4 1.9l2.4-0.6l2.3 1.6l2.4-0.4l2.5 2l2.4 1l-0 0.2l1.2 6.2l1.1-0.9l2.4-3.9l2.4-0.7l2.5-2.8l2.4 0.5l2.4-1.7l2.3 0.4l2.4-1.8l2.5 1.1l2.4-1.8l2.4 1.7l2.3-1l2.4 0.7l2.5-0.3l2.4-0.9l2.4 0.9l2.3-1.8l2.4 0.3l2.5-0.6l2.4 0.8l2.4-1.7l2.3-0.2l2.4 0.3l2.5-1.7l2.4 0.4l2.4-1.2l2.3 1.8l2.4-1.1l2.5-0.9l2.4 1.1l2.4-2l2.3 0.3l2.4 1.1l2.5-0.8l2.4 0.5l2.4-1.5l2.3 0.6l2.4-1.4l2.5 1.3l2.4-1.6l2.4 0.8l2.3-1.5l2.4 1.1l2.5-0.5l2.4 1.3l2.4-1.2l2.3-0.7l2.4-1.4l2.5-0l2.4-0.8l2.4 0.8l2.3-0.8l2.4 0.7l2.5-0.9l2.4 0.1l2.4-2.1l2.3 0.6l2.4-1l2.5 0.5l2.4-0.8l2.4 0.9l2.3-1.5l2.4 0.3l2.5-1.2l2.4 1.3l2.4-0.6l2.3 1.1l2.4 0.5l2.5-0.4l2.4 0.5l2.4-0.4l2.3-2.4l2.4 0.1l2.5 0.6l2.4-0.3l2.4 0.1l2.3-1.2l2.4 1.2l2.5-2.2l2.4 1.6l2.4-0.9l2.3 2.4l2 1.1l0.4-0.9l2.5-1.9l2.1-3.5l0.2-0.7l2.4 1.3l2.4-1.3l2.4 1.3l2.5-1.9l2.4 0.5l2.4-0.8l2.3 2.4l2.4-1.4l2.5 0.3l2.4-1.5l2.4 1.3l2.3-0.7l2.4 0.8l2.5-0.3l2.4 1.2l2.4-1.4l2.3-0.2l2.4-2.3l2.5 1.4l2.4-1.5l2.4 0.2l2.3-0.3l2.4 0.4l2.5-1.7l2.4 1.1l2.4-1.9l2.3 1l2.4-2.2l2.5-0.2l2.4-2.3l2.4 0.2l2.3-2.5l2.4 1.9l2.5 0.6l2.4 4.8l0.7 0.7l1.2 7.5l0.4-2.3l2.1-7.7l0.3 0.3l2.4-1.3l2.5 2.9l1.1 0.6l1.2-3.5l2.4-4.7l1.4-4.3l1-0.7l2.4 0.3l2.5 1.9l2.4-1.3l2.4 1.5l2.3-2.1l2.4 1.6l2.4-1.5l2.5 0.4l2.4-1.4l2.3 1.1l2.4-1.6l2.4 1l2.5-1.4l2.4 0.5l2.3-1l2.4 1.5l2.4-1.2l2.5 1.1l2.4 1.5l2.3 1.5l2.4 2.5l2.4 0.1l2.5-1l1.2 0.5l1.2 20l0.3 5l2-28.8l0.2-2.5l2.2 0.6l2.4-0.8l2.5 1l2.4-1.8l2.3 2l2.4-1.3l2.4 0.9l2.5-0.1l2.2 0.8l0.2 0.6l2.3 5.6l0-0.5l2.4-5.3l0.1-0.5l2.3-0.5l2.5 1.3l2.4-1.1l2.3 1.1l2.4-1.3l2.4 0.2l2.5 0.1l2.4-1.7l2.3-0.1l2.4-3.8l1.1-0.4l1.3 1.3l2.5 0.3l2.4 1.6l2.3-2.1l1.5 0.1l0.9 5.8l1.6 8l0.8-1.2l1.7-5l0.8-0.7l2.4 0.4l2.3-2.2l2.4-0.1l2.4-2.5l2.2-3.7l0.2 0.9l2.5 3.3l2.3 3.2l1.2 0.1l1.2 7.8l1.3 9.7l1.1 12l1.5 16.8l1-12.6l1.5-21.2l0.9-3.8l2.3-7.9l0.5-2l1.9-1l2.4 0.3l2.5-0.1l2.4 1.9l2.3 1.4l2.4 3.4l1.1 0.3l1.2 12.5l0.1-1.2l2.5-8.4l1.2-5.4l1.2-0.8l2.3-3.1l2.5-0.9l2.3-1.2l2.5 1.9l2.3-1.9l0.9 1l1.5 28.6l1 16.4l1.5-3.1l1-1.9l1.3-17.3l1.2-15.2l1.2-3.3l2.4-1.3l2.5-2.7l1.4-0.2l1 10.2l2.3 24.4l1.7 16.6l0.8-9.6l1.7-21.6l0.6 0.3l2.5-3.7l1.9-1.6l0.5-3.1l2.3-9.7l1-4.7l1.5 0.7l1-0.7l1.3 32.7l1.2 26l1.2-6.5l2.5-15.1l0 0.4l2.3-6.4l2.5-8.5l0.2-0.1l2.1 20.7l1.7 14.3l0.8-17.1l1.7-35.4l0.7-1.7l1.8-3.3l0.5 4.5l2 13l0.5-1.3l2.3 0.3l0.9-1.5l1.5-4.3l2.5-7l2.3-1.6l1.2-2.1l1.2 27.1l0.8 16.6l1.6-19.4l1.4-16.8l1-1.7l2.5-1.2l2.3-2.5l2.5 1.1l2.3-1.6l2.5 1.9l1.9-1l0.5 1.5l2.3 10.7l1 2.8l1.5-6.7l1-3.3l1.3 2.8l2.4 2.2l0-0.3l2.5 15.9l1.2 6.9l1.1-10.4l1.5-12.1l1 6.9l2.3 14.9l0.4 3.2l2-14.1l0.5-3.4l2 1l2.3-1.3l2.5 1.6l2.3-1.1l0.9 1l1.5 9l1 4.8l1.5-0.6l0.5 0.6" fill="none" stroke="#000000" stroke-width="2.3" stroke-linejoin="round"/>
<path d="M163.8 905.2l2.3-2.1l2.5 0.2l2.3-0.7l2.4 2l2.4-0.3l2.5 1.7l2.4 1.2l1.9 2.8l0.4 1.8l2.4 6l0.9 3.5l1.6-7l0.9-4.3l1.5 2.6l2.3 2.4l0.1-0.3l2.3-1.3l2.4-2.7l0.2 0.5l2.2 2.1l2.5-0.6l2.4 1.1l2.3 1.6l2.4-0.3l2.4 1.2l2.5-0.9l2.4 0.4l2.3-0.7l2.4 3.3l2.4-0l2.5 1.7l1.3-0.1l1.1 2.2l2.3 7.3l1.6 3l0.8-6.2l1.7-11.3l0.8 3.3l2.3 6.8l2.5 10.8l0.7 2.9l1.2-23.8l0.4 0l2.4 2.3l2.4-0.6l2.4 2.5l2.5 0.3l2.3-1.6l2.5-0l0.1-0.4l2.2 8.7l2.4 10.9l0.4 0.4l2.1-6.3l2.3-10.7l0.6-3l1.9 1.4l2.4 3.1l2.3 1.7l2.4 0.6l1 0.7l1.4-0.7l2.5-3.3l1.1-1l1.2 1l2.4 1.4l1.4 0.1l1.1 2.1l2.3 6.9l1.6 3.5l0.9-1l2.4-1.9l1.7-2.1l0.6-0.2l2.4 2.1l2 0.6l0.4 2.8l2.5 18.7l2.1 18.5l0.2 3.3l1.1 14.2l1.2-22.5l0.1-2.5l2.4-22l2.4-20.9l0.1 0.4l2.4 35.8l0.1 1.7l2.2-4.8l2.4-7.6l2.4-5.5l2.4-6.7l2.5-4.8l0.6-0.6l1.8 23.1l0.7 9.4l1.6-16.7l0.9-8.3l1.5-4.6l2.4-4.4l1.1-3.5l1.4-1.6l2.4-0.1l1.2-0.8l1.1 1l2.4 5.1l2.4 3l2.5 4.3l1.6 1.6l0.8 1.8l2.3 10.1l2.4 7.5l2 10.6l0.4 1.6l2.1 3.4l0.4-5.1l2.1-24.9l0.2-0.4l2.3-9.6l0.1-0.2l2.4-0.4l2.4-2.8l2.5-0l2.4-2.3l2.3-1.3l2.4-2.8l2.4 0.3l2.5-0.9l2.4 1.8l2.3 0.9l2.4 0.1l2.4 2.6l1.1 0l1.4-1.6l2.4-1.7l2.3-1.4l1.4-1.5l1 2.7l1.5 6l0.9 0.8l2.5 0.4l1.6 1.3l0.8 2.4l2.3 3.7l1.9 3.9l0.6 2.8l1.9 7.2l0.4-3l2.1-9.5l0.3 0l2.4-2.2l2.4 0.5l2.4-1.5l2.4 1.1l0.1-0.4l2.3 19.7l0.2 0.3l2.2-18.9l0.3-1.1l2.1-3.6l0.4-1.4l2.1 4.9l2.3 6.7l0.6 0.9l1.8 10.8l0.7 4.2l1.8-8.5l0.7-4l1.6-0.7l2.4-4.8l2.4-2.2l2.4-4.1l2.4-1.2l2.4-3l2.4-0.6l2.4-1.3l2.4 1.8l1.7 1.1l0.8 4.3l1.7 8.2l0.6 0.7l2.4 7.9l2.4 5l2.1 8.9l0.3-1.7l2.4-18.4l2.3-14.9l0.1 1l2.4-0.4l2.4 1.5l2.4-0.7l1.4-1.4l1.1 3l0.2 2l2.1-3.3l2.4-4.2l0.5-1.2l1.9-0.8l2.4 0.4l2.4-0.5l2.4 1.4l2.4 3.2l2.5 0.8l1 1.7l1.3 5.6l2.5 9.1l2.4 5.9l1.3 4.4l1 8.2l2 14.3l0.5-5.5l2.3-22.2l0.5-4.8l2-9.9l1.7-7.6l0.6-0.1l2.4-3.2l2-1.7l0.5 0.5l2.3 0l2.5 1.7l2.4-1.1l2.3 2.4l2.5 0.8l2.3 3.8l0.2-0.6l2.2 11.4l1.5 8.6l0.9 2.7l2.4 3.7l2.5 4.6l1.8 1.5l0.5-3.3l2.5-9.8l0.7-4.4l1.6-2.7l2.4-2.5l2.5-2.4l1-2.4l1.3 0.4l2.5 1.1l1.2 1l1.1 6.3l1.4 6.2l1-4.5l1.5-5.5l1-2.7l2.3-4.5l2.5-4.2l2.4-1.1l2.3-2.6l2.5-4.5l2-2.9l0.3 0.5l2.5 0.5l2.4 1.2l2.3 1.9l2.5 2.6l2.3 2.6l2.5 0.8l0.2-0.1l2.1 4.8l2.4 7.2l2.5 4.1l0.5 1.4l1.8-6.6l0.7-3.4l1.8 10.3l0.7 4.7l1.6-13.8l0.9-6.2l1.5-0.7l2.5-3.9l2.3-0.3l2.5-2.5l2.4 0.4l2.3-1.3l2.5 0.8l2.3-1.9l2.5 0.4l2.4-1.9l2.3 1.2l2.5-3.3l2.3-0.5l2.5-1.8l2.4 1.1l2.3-1.5l2.5 1.4l2.4-1.9l2.4 0.4l2.4-1.4l2.3 1.7l2.4-2.2l2.5 0.6l2.4-1.8l2.4 1.3l2.3-1.8l2.4 0.2l2.5-1.1l1.1-1l1.2 9.8l0-1l2.4-5.4l1.4-2.1l1 0.4l2.4-3l2.5 0.6l2.4-2.1l2.4 0.7l2.3-0.8l2.4 1.5l2.5-0.8l2.4 1.3l2.4-1l2.3 1.6l2.4-1l2.5 1.6l2.4-0.2l2.4 1.7l2.3-1.3l2.4 0.6l2.5 0.1l2.4-1.6l2.4 0.7l2.3-1.7l2.4 0.1l2.5-3.2l1.1-0.5l1.2 4l1.3 3.5l1.1-4.3l1.4-3.1l1 0.9l2.4-1.1l2.5 1.1l2.4-0.4l2.4 1.4l2.3-0.5l2.4 1.2l2.5-0.9l2.4 1.2l2.4 1.3l2.3-0.8l2.4-2.5l2.5-0.2l2.4-2.1l2.4 0.7l2.3-2l2.4-2.3l2.5 0.8l2.4-0.1l2.4 2l2.3-0.4l2.4 1.1l2.5-2.2l2.4 0.6l2.4-2.1l2.3 0.9l2.4-2.5l2.5 0.9l2.4-2.1l1.7-0.7l0.6 0.4l2.4 2l2 2.6l0.4 0.3l2.5-1.4l2.4 0.6l2.4-2.7l2.3 0.9l2.4 1.2l2.5-0.4l2.4 2l2.4-2.1l2.3 0.2l2.4-1.9l2.5-1.3l2.4 1l2.4-0.7l2.3 0.8l2.4-1l2.5 1.7l2.4-0.7l2.4 1.5l2.3-0.7l2.4 0.9l2.5-0.2l2.4 0.8l2.4-1l2.3 0.8l2.4-0.1l2.5 1.8l2.4-2.3l2.4-0.2l2.3-1.9l2.4-0.2l2.5-1.3l2.4 0.9l2.4-0.5l2.3 1.8l2.4-1.3l2.5 0.3l2.4-0.7l2.4 1.6l2.3-1.1l2.4-0.6l2.5 0.4l2.4-0l2.4 0.5l2.3-1l2.4 1.3l2.5-1.4l2.4 1.2l2.4-1l2.3 0.4l2.4-0.4l2.5 1l2.4-1.8l2.4 1.5l2.3-0l2.4 1.5l2.5-1.9l2.4 0.7l2.4-0.5l2.3 1.2l2.4-0.2l2.5 1.6l2.4-0.3l0.7 1.1l1.2 11.3l0.4-0.9l2.1-9.1l0.3 0.9l2.4-1.8l2.5-0.6l2.4 0.1l2.4-2l2.3 1.6l2.4-0.5l2.5-1.9l2.4 1l2.4-1.6l2.3 0.7l2.4-1.4l2.4 1.4l2.5-1.8l2.4 1.6l2.3-1.9l2.4 0.4l2.4-1.5l2.5 0.6l2.4-1.5l2.3-0.1l2.4 0.5l2.4 2l2.5-0.4l2.4 1.3l2.3 1.8l2.4-1.3l2.4 0.5l2.5-1.2l1.2 0.1l1.2 10l0 0l1.3-13.8l1-0.2l2.4-0.4l2.4 0.8l2.5-0.7l2.4 1.2l2.3-1.5l2.4 1.5l2.4-0.8l2.5 1.3l2.4-0.7l2.3 0.9l2.4-0.7l2.4 2.1l2.5-1l2.4 0.6l2.3-1.9l2.4 2l2.4 0.2l2.5-1.2l2.4 0.2l2.3-1.7l2.4-0.5l2.4 0.7l2.5-1.3l2.4 0.5l2.3-0.6l2.4 2.6l2.4-0.3l2.5 2.1l2.4-0.8l2.3 0.6l2.4-0.2l2.4-0.7l2.5-1.5l2.4 1.4l2.3 0.3l1.2 1.5l1.2 6.9l1.3 5.6l1.1 13l1.5 17l1-8.8l1.5-13.7l0.9-4.1l2.3-9.8l0.5-2.4l1.9-1.7l2.4-1.9l2.5-0.9l2.4-2.6l0.8-0.4l1.5 1.7l2.4-0.4l1.1 1.2l1.3 6.4l1.2 3.6l1.2-4.2l1.3-5.8l1.2-1l2.3-0.8l2.5-2.7l2.3 0.3l2.5-1.1l2.3 1.8l0.9-0.2l1.5 20.9l1 14.1l1.5-14.1l1-10.9l1.3-3.4l2.5-3.2l1.2-3.4l1.1-0.6l2.5 1.1l1.4-0.5l1 3.1l1.5 6.9l0.8 8.8l1.7 16.2l0.8-7.8l1.7-17.2l0.6-0.3l2.5-3.4l2.4-1.5l2.3-3.4l2.2-1.4l0.2 4.6l2.3 37.9l0.1-1.2l2.5-5.7l2.4-8.9l2.3-7.7l0.2-1.5l2.2 3.9l2.4 10.5l0.4 0.6l2-18.7l0.5-3.8l2-2.5l1.8-3.8l0.5-0.2l2.5 1.9l2.3 0l0.9 0.9l1.5-0.7l2.5-3.1l2.3-0.9l1.2-1.6l1.2 26.3l0.8 16.2l1.6-17.6l1.4-14.9l1-2.4l2.5-3.4l1.5-3l0.8-0.9l2.5 1.1l2.3-1.9l1.9 0.5l0.5 1.2l2.5 1.7l0.8 2.1l1.5 19.5l1 10.5l1.5-17.3l1-10.2l1.3 3.4l2.4 4.1l0-0.5l2.5 20.5l0 0l2.3-21.9l0.2-0.6l2.2 1.7l1.5 0.8l0.9 9.9l0.9 10.1l1.5-15.3l0.5-4.7l2 0.5l2.3 1.9l0.7 0.1l1.8-2l2.3-1.2l0.9-1.8l1.5 15l1 10l1.5 0.6l0.5-0.6" fill="none" stroke="#ff0000" stroke-width="2.3" stroke-linejoin="round"/>
<path d="M270.0 975.3h0M271.5 977.7h0M273.0 981.5h0M274.6 982.7h0M275.5 989.4h0M276.1 993.3h0M276.8 996.4h0M277.4 997.9h0M277.7 996.6h0M278.0 991.7h0M278.2 987.4h0M278.5 986.8h0M278.7 983.0h0M279.0 974.4h0M279.2 974.4h0M279.5 969.2h0M279.7 964.1h0M280.0 959.7h0M280.8 963.9h0M281.7 966.5h0M282.5 970.9h0M284.0 973.8h0M285.6 974.3h0M287.1 980.4h0M288.7 984.1h0M290.4 986.6h0M292.1 987.4h0M293.3 985.7h0M294.7 986.2h0M296.1 987.6h0M298.2 992.8h0M300.0 991.5h0M301.7 993.6h0M303.2 999.6h0M304.1 1000.5h0M305.0 1005.4h0M305.5 1008.8h0M306.0 1011.0h0M306.5 1017.4h0M307.0 1022.5h0M307.5 1023.2h0M307.8 1027.5h0M308.2 1032.3h0M308.6 1034.5h0M308.9 1040.6h0M309.3 1046.1h0M309.6 1049.3h0M310.0 1052.6h0M310.2 1050.2h0M310.4 1042.8h0M310.6 1040.8h0M310.8 1035.9h0M311.1 1033.0h0M311.3 1026.7h0M311.5 1025.9h0M311.7 1018.6h0M311.9 1015.0h0M312.1 1014.1h0M312.3 1010.8h0M312.5 1004.6h0M313.7 1001.0h0M314.9 996.7h0M315.3 1000.0h0M315.7 1005.6h0M316.0 1007.4h0M316.4 1011.1h0M316.8 1016.7h0M317.1 1019.2h0M317.5 1025.5h0M318.1 1022.9h0M318.8 1018.8h0M319.4 1013.5h0M320.0 1009.0h0M320.8 1005.6h0M321.6 999.8h0M322.3 999.4h0M323.1 993.7h0M323.9 989.9h0M324.6 984.9h0M325.4 984.4h0M327.2 983.2h0M328.9 980.6h0M330.5 984.1h0M331.2 987.0h0M332.0 988.7h0M332.7 993.9h0M333.5 999.5h0M334.3 1001.5h0M335.0 1005.3h0M335.7 998.8h0M336.3 997.0h0M337.0 993.0h0M337.6 989.0h0M338.6 985.3h0M339.5 982.4h0M340.3 979.9h0M342.1 977.9h0M343.8 974.6h0M345.6 976.7h0M346.8 982.7h0M348.0 983.6h0M349.2 985.2h0M350.2 988.9h0M350.9 995.3h0M351.5 996.8h0M352.1 1000.9h0M353.0 1002.0h0M354.6 1000.7h0M356.1 1004.5h0M357.6 1005.1h0M359.1 1008.0h0" fill="none" stroke="#808080" stroke-width="3.6" stroke-linecap="round"/>
<path d="M415.0 997.2h0M416.6 999.5h0M418.3 1003.1h0M419.9 1002.2h0M421.1 1003.1h0M422.4 1004.2h0M423.6 1002.5h0M424.9 1005.0h0M425.6 1005.7h0M426.4 1006.6h0M427.2 1002.7h0M428.0 1003.9h0M428.8 1002.7h0M429.6 1006.7h0M430.9 1005.6h0M432.2 1001.3h0M433.4 1006.0h0M434.7 1005.3h0M435.6 1003.5h0M436.6 1003.5h0M437.5 1001.2h0M438.4 1000.6h0M439.4 1003.8h0M440.3 1001.2h0M441.3 1001.7h0M442.2 1001.7h0M443.2 1000.3h0M444.1 1002.5h0M444.9 1002.2h0M445.7 1004.4h0M446.5 1002.6h0M447.3 1003.3h0M448.1 1002.5h0M448.9 1003.4h0M449.7 1002.3h0M451.0 1001.8h0M452.2 1006.4h0M453.5 1007.0h0M454.7 1006.8h0M456.0 1005.7h0M457.2 1002.8h0M458.5 1001.7h0M459.8 1001.4h0M460.5 1000.1h0M461.3 1004.0h0M462.1 1001.9h0M462.9 1004.4h0M463.7 1001.9h0M464.5 1005.1h0M465.5 1004.6h0M466.4 1000.1h0M467.4 1001.5h0M468.3 1005.6h0M469.3 1003.4h0M470.2 1006.5h0M471.2 1003.5h0M472.1 1001.9h0M473.1 1005.2h0M474.0 1006.3h0M475.0 1003.7h0M475.7 1006.3h0M476.4 1011.2h0M477.2 1018.4h0M477.7 1021.0h0M478.1 1021.1h0M478.5 1025.6h0M478.8 1028.5h0M479.2 1032.1h0M479.6 1039.9h0M480.0 1040.2h0M480.5 1046.1h0M481.0 1049.1h0M481.5 1051.4h0M482.0 1058.1h0M482.6 1058.5h0M483.2 1065.0h0M483.8 1065.7h0M484.4 1071.1h0M485.0 1073.2h0M485.5 1069.8h0M486.0 1070.0h0M486.4 1065.3h0M486.9 1058.8h0M487.4 1058.3h0M487.8 1050.8h0M488.1 1048.0h0M488.5 1046.9h0M488.9 1041.9h0M489.3 1035.1h0M489.6 1036.4h0M490.0 1028.3h0M490.3 1024.7h0M490.5 1023.8h0M490.8 1017.6h0M491.0 1013.6h0M491.3 1008.6h0M491.5 1004.9h0M491.8 1003.9h0M492.0 998.2h0M492.3 996.4h0M492.6 991.4h0M493.2 988.2h0M493.8 987.4h0M494.4 981.1h0M495.0 977.9h0M495.8 983.1h0M496.5 982.9h0M497.3 986.3h0M498.1 994.1h0M498.8 997.2h0M499.4 997.7h0M499.7 1001.2h0M501.3 1001.9h0M502.9 1000.6h0M504.5 994.1h0M506.0 995.5h0M507.4 992.2h0M508.4 994.0h0M509.2 996.5h0M509.4 997.2h0M511.0 998.4h0M512.6 1005.2h0M514.3 1002.8h0M516.0 1008.1h0M517.4 1008.4h0M518.8 1014.5h0M520.2 1016.5h0M521.1 1018.3h0M522.0 1021.2h0M522.9 1027.7h0M523.8 1027.6h0M524.6 1032.0h0M525.3 1037.6h0M525.7 1042.9h0M526.2 1045.3h0M526.7 1047.2h0M527.1 1054.5h0M527.6 1054.2h0M528.0 1056.9h0M528.3 1062.1h0M528.7 1066.8h0M529.1 1068.4h0M529.5 1072.8h0M529.8 1077.7h0M530.7 1079.0h0M532.1 1073.7h0M533.0 1071.4h0M533.6 1070.7h0M534.2 1067.5h0M534.8 1062.0h0M535.4 1058.5h0M536.0 1054.3h0M536.6 1048.1h0M537.3 1043.9h0M537.9 1040.1h0M538.5 1041.4h0M539.1 1036.6h0M539.7 1034.4h0M540.4 1025.6h0M541.3 1025.5h0M542.2 1021.1h0M542.6 1021.4h0M543.9 1019.7h0M545.5 1024.4h0M547.0 1020.4h0M548.5 1024.1h0M549.0 1026.3h0M549.8 1027.2h0M550.6 1026.3h0M551.4 1026.1h0M552.2 1026.6h0M553.0 1027.3h0M553.8 1024.2h0M554.6 1026.0h0M556.0 1030.0h0M557.3 1033.1h0M558.5 1033.8h0M559.1 1039.5h0M559.6 1043.7h0M560.0 1045.8h0M560.5 1049.8h0M561.0 1052.1h0M561.4 1057.0h0M561.8 1060.9h0M562.2 1061.7h0M562.5 1068.6h0M562.9 1074.3h0M563.3 1077.4h0M563.7 1080.3h0M564.3 1076.7h0M565.0 1075.0h0M565.7 1070.6h0M566.5 1066.2h0M567.4 1064.9h0M568.2 1057.2h0M568.9 1060.6h0M569.1 1060.3h0M569.4 1067.3h0M569.7 1070.4h0M569.9 1072.8h0M570.2 1079.2h0M570.5 1081.8h0M570.8 1086.3h0M571.0 1091.7h0M571.3 1091.8h0M571.8 1094.1h0M572.3 1099.5h0M572.8 1101.7h0M573.4 1095.4h0M574.0 1091.5h0M574.6 1092.0h0M575.4 1087.2h0M576.5 1082.7h0M577.6 1081.6h0M577.9 1074.7h0M578.3 1072.8h0M578.7 1066.5h0M579.1 1064.0h0M579.4 1062.4h0M579.8 1059.2h0M580.2 1055.3h0M580.6 1048.7h0M580.9 1046.1h0M581.3 1040.9h0M581.7 1036.1h0M582.1 1034.4h0M582.4 1032.5h0M583.4 1029.2h0M584.5 1025.1h0M585.5 1025.6h0M587.2 1023.4h0M588.8 1024.4h0M590.4 1026.8h0M592.0 1024.2h0M593.0 1020.4h0M593.6 1017.8h0M594.2 1015.3h0M594.8 1010.9h0M595.9 1008.0h0M597.6 1009.5h0M599.2 1011.9h0M600.8 1010.5h0M602.4 1010.1h0M603.7 1010.5h0M604.9 1015.8h0M606.2 1011.8h0M607.4 1016.1h0M608.7 1016.0h0M609.9 1015.2h0M611.2 1018.5h0M612.4 1014.8h0M613.7 1016.1h0M614.9 1018.5h0M616.2 1016.7h0M617.5 1021.8h0M619.1 1020.9h0M620.7 1022.7h0M622.3 1024.6h0M623.5 1031.1h0M624.6 1033.4h0M625.7 1036.4h0M627.3 1038.2h0M628.0 1042.6h0M628.5 1047.2h0M629.0 1049.4h0M629.6 1050.4h0M630.1 1055.6h0M630.6 1057.6h0M631.2 1060.4h0M631.7 1066.7h0M632.2 1071.7h0M632.6 1068.9h0M632.8 1065.6h0M632.9 1062.2h0M633.1 1060.4h0M633.3 1055.6h0M633.4 1052.4h0M633.6 1049.4h0M633.9 1043.7h0M634.8 1042.5h0M635.7 1039.6h0M636.6 1032.0h0M638.0 1033.8h0M639.5 1029.8h0M640.8 1024.6h0M642.4 1024.8h0M644.1 1024.1h0M645.7 1024.1h0M647.3 1019.5h0M648.9 1019.0h0M650.6 1019.1h0M652.2 1017.0h0M653.8 1016.2h0M655.4 1011.9h0M657.1 1011.3h0M658.7 1007.2h0M660.3 1008.4h0M661.9 1007.3h0M663.6 1004.7h0M665.2 1003.5h0M666.8 999.1h0M668.4 1001.3h0M668.6 1000.2h0M669.4 1000.2h0M670.2 997.7h0M671.0 999.1h0M671.8 996.5h0M672.6 999.8h0M673.4 999.5h0M674.2 996.7h0M675.5 995.4h0M676.8 998.1h0M678.0 999.3h0M679.3 1001.2h0M680.6 999.7h0M681.8 996.5h0M683.1 1000.2h0M684.3 995.4h0M685.6 998.9h0M686.8 994.8h0M688.1 995.0h0M689.3 997.0h0M690.6 992.7h0M691.8 992.1h0M693.1 993.6h0M694.3 994.1h0M695.6 994.1h0M696.8 992.6h0M698.1 993.5h0M699.3 990.3h0M701.2 994.3h0M702.8 991.8h0M704.4 995.0h0M705.6 995.2h0M706.5 990.4h0M707.4 989.3h0M708.7 987.1h0M710.4 984.8h0M712.0 984.9h0M713.6 983.9h0M715.2 984.2h0M716.9 986.2h0M717.9 989.7h0M719.2 990.6h0M720.4 987.3h0M721.7 991.6h0M722.4 992.6h0M723.2 990.1h0M724.0 990.4h0M724.8 988.3h0M725.6 990.2h0M726.4 990.0h0M727.2 990.6h0M728.5 986.9h0M729.7 991.5h0M731.0 988.3h0M732.2 987.1h0" fill="none" stroke="#808080" stroke-width="3.6" stroke-linecap="round"/>
<path d="M750.0 977.4h0M751.1 981.7h0M752.2 985.1h0M752.4 983.0h0M753.2 982.3h0M754.0 984.3h0M754.8 983.7h0M755.6 986.7h0M756.4 986.1h0M757.2 985.6h0M758.3 985.1h0M759.3 985.3h0M760.3 982.1h0M761.4 983.4h0M762.4 981.5h0M763.5 985.3h0M764.5 980.2h0M765.8 983.9h0M767.0 979.1h0M768.3 981.9h0M769.6 979.3h0M770.8 979.1h0M772.1 980.9h0M773.3 975.7h0M774.6 975.3h0M775.8 979.4h0M777.1 976.5h0M778.3 973.6h0M779.6 977.9h0M780.3 977.5h0M781.1 972.8h0M781.9 974.6h0M782.7 973.0h0M783.5 974.0h0M784.3 975.7h0M785.3 973.0h0M786.2 975.8h0M787.2 971.9h0M788.1 972.4h0M789.1 975.7h0M790.0 973.2h0M791.0 973.5h0M791.9 974.8h0M792.9 974.3h0M793.8 974.1h0M794.8 972.3h0M795.7 976.1h0M796.7 977.2h0M797.6 977.0h0M798.5 975.0h0M799.5 973.1h0M800.8 972.6h0M802.0 973.8h0M803.3 973.1h0M804.5 969.3h0M805.5 969.7h0M806.4 970.1h0M807.3 970.7h0M808.3 972.2h0M809.2 970.2h0M810.6 967.1h0M811.8 970.9h0M813.1 968.1h0M814.3 968.0h0M815.6 965.7h0M816.8 966.2h0M818.1 965.3h0M819.3 966.9h0M820.2 962.7h0M821.2 965.0h0M822.1 962.7h0M823.0 965.3h0M824.0 961.4h0M824.9 962.5h0M825.9 963.1h0M826.8 965.0h0M827.8 961.9h0M828.7 964.5h0M829.7 963.3h0M831.0 964.3h0M832.2 966.0h0M833.5 969.3h0M834.7 967.3h0M835.5 970.1h0M836.3 965.6h0M837.1 969.9h0M837.9 966.7h0M838.7 965.8h0M839.5 968.9h0M840.8 969.4h0M842.0 963.7h0M843.3 964.6h0M844.5 966.7h0M845.6 963.9h0M846.6 963.0h0M847.6 961.4h0M848.7 961.2h0M849.0 965.7h0M849.8 967.7h0M850.6 967.8h0M851.4 965.0h0M852.2 962.3h0M853.0 964.0h0M853.8 966.6h0M854.6 966.9h0M855.5 965.9h0M856.5 963.9h0M857.4 965.8h0M858.4 965.7h0M859.3 966.8h0M860.3 964.9h0M861.2 968.4h0M862.2 967.9h0M863.1 963.6h0M864.1 964.1h0M865.4 966.9h0M866.6 962.9h0M867.9 966.0h0M869.1 963.0h0M870.0 963.6h0M871.0 963.9h0M871.9 961.4h0M872.9 962.0h0M873.8 962.1h0M874.7 964.7h0M876.3 963.9h0M877.8 959.6h0M879.3 962.7h0M880.5 959.3h0M881.7 957.7h0M883.0 958.1h0M884.2 960.6h0M884.9 957.8h0M885.7 958.2h0M886.5 959.9h0M887.3 960.1h0M888.1 959.0h0M888.9 957.0h0M889.7 958.0h0M891.0 959.2h0M892.3 958.0h0M893.5 956.2h0M894.8 954.3h0M896.0 953.7h0M897.3 955.2h0M898.5 953.6h0M899.8 949.9h0M901.5 952.2h0M903.1 951.7h0M904.7 949.5h0M906.0 949.1h0" fill="none" stroke="#808080" stroke-width="3.6" stroke-linecap="round"/>
<polyline points="270.0,975.0 271.7,977.0 273.3,981.5 275.0,985.0 276.2,991.7 277.5,1000.0 278.8,979.8 280.0,960.0 281.2,964.3 282.5,970.0 284.2,974.4 285.8,976.8 287.5,980.0 289.2,983.2 290.8,986.3 292.5,987.5 294.2,988.3 295.8,989.1 297.5,990.0 299.2,990.6 300.8,994.2 302.5,995.0 303.8,998.7 305.0,1005.0 306.2,1014.6 307.5,1025.0 308.8,1037.8 310.0,1052.5 311.2,1029.4 312.5,1005.0 313.8,1001.1 315.0,997.5 316.2,1011.3 317.5,1025.0 318.8,1017.6 320.0,1010.0 321.7,1002.7 323.3,994.8 325.0,985.0 326.7,982.9 328.3,982.8 330.0,980.0 331.7,989.0 333.3,997.3 335.0,1005.0 336.2,998.9 337.5,990.0 338.8,984.1 340.0,980.0 341.7,977.8 343.3,976.6 345.0,975.0 346.7,979.4 348.3,984.4 350.0,990.0 351.2,996.6 352.5,1005.0 353.8,1003.8 355.0,1000.0 356.2,1003.9 357.5,1005.0 358.8,1008.6 360.0,1010.0" fill="none" stroke="#808080" stroke-width="2.2" stroke-linejoin="round" stroke-linecap="round"/>
<path d="M270.0 977.7h0M271.6 976.7h0M273.2 979.1h0M274.8 987.6h0M275.6 985.2h0M276.3 992.5h0M277.0 997.3h0M277.6 1000.0h0M277.8 991.7h0M278.1 991.9h0M278.3 986.5h0M278.6 985.5h0M278.9 973.9h0M279.1 978.1h0M279.4 966.8h0M279.6 968.4h0M279.9 961.5h0M280.6 965.5h0M281.6 963.6h0M282.5 968.3h0M284.1 969.4h0M285.7 978.9h0M287.3 979.9h0M289.1 979.7h0M290.9 982.3h0M291.5 983.2h0M293.1 985.1h0M294.7 989.1h0M296.3 988.9h0M298.5 992.8h0M300.4 989.1h0M302.3 997.9h0M303.4 1003.0h0M304.4 1004.7h0M305.2 1008.8h0M305.7 1013.9h0M306.2 1011.2h0M306.7 1018.6h0M307.3 1019.3h0M307.7 1029.8h0M308.1 1031.7h0M308.5 1032.0h0M308.8 1039.2h0M309.2 1046.4h0M309.6 1048.5h0M310.0 1048.8h0M310.2 1052.6h0M310.4 1040.5h0M310.6 1043.3h0M310.9 1040.3h0M311.1 1034.1h0M311.3 1031.7h0M311.5 1023.8h0M311.7 1016.8h0M312.0 1014.9h0M312.2 1013.1h0M312.4 1009.2h0M313.2 1001.9h0M314.4 1003.3h0M315.2 995.6h0M315.6 1003.9h0M316.0 1004.0h0M316.3 1011.0h0M316.7 1020.8h0M317.1 1017.1h0M317.5 1029.1h0M318.1 1024.8h0M318.8 1018.8h0M319.5 1009.1h0M320.2 1008.8h0M321.0 1006.8h0M321.8 997.4h0M322.6 995.2h0M323.4 989.4h0M324.2 992.1h0M325.0 988.8h0M326.9 986.9h0M328.8 983.5h0M330.5 983.0h0M331.3 982.4h0M332.1 990.2h0M332.9 996.7h0M333.7 1000.7h0M334.5 998.1h0M335.2 999.2h0M335.9 995.8h0M336.6 999.3h0M337.3 987.9h0M338.1 986.5h0M339.1 983.3h0M339.3 984.1h0M341.2 975.5h0M343.1 974.7h0M345.4 978.6h0M346.6 976.2h0M347.9 980.6h0M349.1 983.0h0M350.2 995.4h0M350.9 992.9h0M351.6 999.4h0M352.2 1002.3h0M353.4 1007.5h0M355.0 1001.9h0M356.6 1004.2h0M358.2 1006.4h0M359.8 1007.6h0" fill="none" stroke="#808080" stroke-width="3.0" stroke-linecap="round"/>
<path d="M164.5 1350.1l2 0.5l2 5.5l2-2.6l2 4.5l2 0.4l2-5.5l2 1.6l2-2l2 1.8l2-1.3l2-2l2 1.6l2-3.1l2 1.5l2-3.7l2 2.3l2-6.2l2 3.6l2-3.2l2-4.6l2 3.9l2-4.1l2 4.5l2-4.2l2-2.8l1-4l1 1.3l2 8.9l2 1l2 7.2l2-0.5l0.5 3.3l1.5-2.2l2-7l2-1.3l2-4.9l2 2l1.8-2.8l0.2-1.2l2 9l2 0.9l2 4.8l1.2-1l0.8 7.3l1.8 9l0.2-2.8l2-2.9l2-0.3l2-2.5l2 1.6l2-2.9l2 3.9l2-4.3l2-1.3l1.2-3.5l0.8 0.5l2 6.1l1 5.8l1 1.9l2-4.8l2-0.3l2 0.4l2 5.1l2 1.4l1.5 5.1l0.5 0.8l2-6.9l2-1.3l2-5.4l2 1.6l2-4l2 1.7l2-5.7l2 2.6l2-3.5l2 2.5l2-4l2 4.6l0.5-1.8l1.5-6.9l2-0.6l0.2-2.5l1.8 5.5l2 12.7l0-1.9l2-4.1l2 1.3l2-4.4l2 2l2-6.3l0 1.5l2 3.5l2 5l2-0.9l2 0.7l2 5.6l0-1.4l2 7l1.8 8l0.2 1.4l2-3.6l2 1l2-2l2 1.3l2 2.3l2-2.1l2 3.6l2-4.5l2-1.3l2 2.9l2-4.1l2 1.2l2-9.9l2-1.1l0.5-2.6l1.5-0.4l2 8.5l2 2l2 0.6l2 6.2l2-5.2l2 3.6l1.5-2.8l0.5 0.3l2 9.5l0-1l2-2.2l2-2.7l2 3l2-4.7l2 3.7l2-4.4l2 0.3l2-1.8l2-3.3l2 0.3l2 1.2l2-2.9l2-2.8l2 0.3l2-4.5l2 3.9l2-4.2l2 3.3l2-4l2 2.2l2-6.2l2 5.1l2 0.6l2 4.7l2-1.7l2 7.1l2-3.7l2 5.1l2-1.6l2 0.5l2 3.6l2-6.3l2-1.1l2-4.7l2-2.8l0-0.6l2 1.9l2 8.6l2-2.9l2 4.9l2-1.9l2 3.6l2-3.2l2 3.5l2 1.5l2-5l0 2.8l2-3.3l2-8.5l2-3.2l2 0.8l2-6.9l2 0.4l0.5-1.8l1.5 4.5l2 11.1l0.2 3.1l1.8 1.8l2-2.2l2 3.6l2-6.4l2-0l2-2.3l2 4.3l2-3l2 4.2l2-0.8l2 5.8l2-2.8l2 4.7l2-3.4l2 1.6l2-6.4l2 0.9l2-6.7l2-1.5l2-10.1l2 0.4l2-2l0-2.2l2 8l2 9.1l1 7.9l1 1.2l2-1.2l2 2.4l2-6.6l2 1.5l2-4.2l2-0.3l2-3.6l2 3.8l2-2.1l2-6.6l2 2.5l2-4.3l2-7.4l2-2.3l2-5.6l1.5-2.2l0.5 2.2l2 0.3l2 6.6l2 0.5l2 5.4l2 1l2 5.2l2-0.3l2 1.9l2-4.5l2-0.5l2 3l2-6.1l2 3.8l2-2.1l2 6.2l2-4.3l2 6.9l2-1.4l2 6.9l2 0.6l2 2.3l2-1.6l2 2.1l2-5.2l2 2.7l2-5.1l2 0.2l2-5.5l2-1.8l2 4.3l2-5.4l2 2.7l2-3.6l2 1.3l2-3.1l2 2.7l2-6.5l0.5 2l1.5 0.9l2 7.3l2-1.2l2 5.6l2-3.4l2 5.5l2-5.7l2 3.3l2-4.6l2 0.4l2 1.5l2-4.4l2 2.3l2-4.7l2 2.9l2-3.5l2 3.5l2-3.4l2 0.2l2-3.6l2 2.6l2-5.4l2 3.5l2-6l2 2.4l2-5.5l2 2.5l2-4.7l2 4.4l2-5l2 3.4l2-3.3l2 2.3l2 3.9l2-2.8l2 5.8l2-0.6l2 3.7l2-2.5l2 3.4l2-3.8l2 1.5l2-3.2l2 3.9l2-0.4l2-3.6l2 0.2l2 2.6l2-4.7l2 1.9l2-3.5l2 2l2-4.5l2 6.3l2-0.6l2 6l2-1.1l2 7l2-3.5l2 5.5l2-1l2-3.4l2-0.5l2-4.9l2 1.7l2 0.6l2-1.4l2 3.4l2-3.3l2 1.8l2 3.9l2-5l2 3.3l2-3.7l2 3.7l2-2.7l2 1.6l2-4.8l2 3.8l2-5.5l2 2.6l2-7.8l2 3.6l2-4.4l2 2.1l2-4.5l2 2.7l2-3.2l2 2l2-1.5l2-5.2l2 2l2-3.7l2 2.6l2-3.8l2 2.8l2-4.9l2 1.3l2-7.2l2 0.6l2-4.6l2-3l0.2 2.3l1.3 8.8l0.5 0.6l2-8l2-2.5l2-4.8l2 0.6l2-6.4l2 1.7l2-4.5l2 1.7l2-4.4l2 6l2-2.5l2 4.2l2-5.7l2-0l2-0.5l2 3.8l2-4.3l2 5.7l2-3.3l2-0.1l2 4.4l2-1.3l2 5.6l2 0.2l2 11.3l2 1.9l2 6.4l2-1.5l2 2.8l2-2.5l2 4.3l2-2.5l2 3.2l2-1.5l2-0.6l2 5.3l2-4.5l2 4.5l2-4.4l2 2.8l2-3.6l2 3.8l2-3l2 5.1l2-3.4l2 2.1l2-4l2 3.6l2-5.1l2 5.2l2-3.7l2 4.3l2-1.2l2-4.3l2 2.4l2-4.8l2 5l2-4.7l2 2.3l2-4.2l2 0l2 4.8l2-3.3l2 2.6l2-3.7l2 3l2-1.9l2 1.2l2-2.8l2 2.9l2-3l2 5.6l2-4.8l2 4.7l2-4.1l2 3.1l2-3.9l2 2.8l2 1.6l2 0.3l2-4.3l2 4.2l2-1.5l2-4.5l2 2.6l2-3.8l2 3.3l2-5.8l2 2.6l2-3.1l2 5l2-4.4l2 4.7l2 0.8l2-4.1l2 4.4l2-2.7l2 1.9l2-2.2l2-2.8l2 4.7l2-4.2l2 3.5l2-2.6l2 2.5l2-2.4l2 0.5l2-0.9l1-4.5l1 0.3l2 6.7l2-3.6l2 2.6l2-4.9l2 4.5l2-2.9l2 4.4l2-2.4l2 2.5l2-2.6l2 0.8l2-3.9l2 3.4l2-3.7l2 3.1l2-3.6l2 1.2l2-2.4l2 3.4l2 0.8l2-1.5l2 2.4l2-2.3l2 3.3l2-2.9l2 3.7l2-1.4l2 1.9l2-3.1l2 4.4l2-2l2 1.9l2 0.8l2-6l2 4.3l2-5.5l2 4.5l2-3.1l2 5l2-4.1l2 3.9l2-3.3l2 2.4l2-5.6l2-0.6l0.2-2l1.8 2.2l2 6.1l2-2.9l2 0.6l2 4.2l2-1.6l2 4l2-5.7l2 4.8l2-5.9l2 3.7l2-4l2 4.6l2-3.6l2 5.3l2-3.8l2 4.7l2-5.7l2 3.5l2 0.2l2-3.3l2 4.4l2-2.5l2 0.8l2-2.6l2 4.9l2-4.4l2 6l2-3.4l2 3.7l2-3l2 6l2-4.7l2 0.5l2 1l2-6.4l2 1.7l2-6.6l2 2.2l2 0.7l2-1.8l2 6.2l2-3.9l2 6.3l2-3.8l2 4.6l2-2.8l2 4.9l2-4.1l2 3.3l2-3.1l2 4.1l2-2l2-2.9l2 0.4l2-2.6l2 4.4l2-3.4l2 2.5l2 2.5l2-4.5l2 4.8l2-3.6l2 0.4l2 3.2l2-4.3l2 4.3l2-4l2 3.9l2-5.6l2 5l2-2.2l2 2.3l2-3.2l2 2.5l2-3.7l2 5.4l2 2.2l2-3.2l2 0.7l2-0.9l2-3.7l1 3.4" fill="none" stroke="#92161b" stroke-width="2.3" stroke-linejoin="round"/>
<path d="M164.5 1268.4l2 1.8l2-3.1l2 5.1l2-2.9l2 3l2-4.3l2 0.9l2 4.5l2-0.2l2 2.8l2-3l2 4.6l2-3.4l2 0.3l2-3.7l2 3.9l2-4.3l2-2.1l2 3.4l2-1.1l2-4.5l2 2.8l2-4.7l2 4.8l2 0.1l2-2.5l2 3.7l2-1.7l2 4.2l2-6.2l2 4.1l2-3.8l2 3.8l2-2.5l2 3.7l2 0.3l2 5.6l2-5.9l2 1.6l2 1.8l2 0.2l2 1l2-5.1l2 2l2-5.5l2 4.7l2-3.7l2 2l2-2.3l2 3.9l2-4l2 1.8l2-3.8l2 0.3l2-4l2 8l2-1.4l1.5 5.6l0.5 1.4l2-4.8l2 1.9l2-4.4l2 3.6l2-4.5l2 4.7l2-4.9l2 3.6l2 0.2l2 1.9l2-3.8l2-0l2-8.4l2 0.6l0.2-2.1l1.8 2.7l2 9.8l2 2.4l0.5 2.6l1.5 0.3l2-4.3l1.5-1l0.5 1.5l2 1.2l2 5l2-0.5l2 3.7l2-3l2 4.9l2-4.4l2 5.8l2-0.5l2 4.6l2-3.9l2 3.7l2-4.2l2 0.2l2-2.3l2 3.3l2-3.1l2 1.6l2-3l2 0.4l2-5.5l2 0.3l2-5.2l1 1.9l1 6.6l1.5 5.9l0.5-1.2l2 3.2l2-2.4l2 6.5l2-2.4l2 4l2-3.2l2 4.4l2-2.2l2 3.3l2-4l2 4.4l2-1.6l2 3.8l2-4.3l2 4.4l2 0.7l2-1.7l2-0.6l2 4.4l2-2.5l2 4.2l2-1.8l2 4.1l2-3.1l2 3.1l2-6l2 4l2-5.9l2 4.4l2-4l2 3.1l2-0.7l2-3.4l2 4.3l2-4.2l2 5l2-3.7l0.5 2.6l1.5-1l2-8.2l2-1.5l2 1.7l2-2.8l2 7.4l2-3.6l2 1.8l2 0.2l2 3.4l2-3.9l2 5l2-2.6l2 3.2l2-3.5l2-0.5l2-8.6l2-0l2-8l2-0.2l0.5-2l1.5 3.9l2 8.9l2-2.9l2 5l2-2.7l2 3.6l2-2.5l2 1.3l2-1.9l2 6.2l2-2.3l2 4.7l2-2.9l2 5.4l2-6.7l2 2.2l2-7.7l2 0.7l2-7.9l2-5.3l2-1.9l2-6.2l2 0.6l1.5-5.4l0.5-0.5l2 12.3l2 6.1l2 6.5l2-0.7l2-0.9l2 3.9l2-4l2 1.1l2-3l2 2.9l2-6l2 2.6l2-0.2l2-7.4l2-5.7l2-5.5l2-1.1l2-8.9l1.5-2.8l0.5 2.1l2 5.2l2 5.8l2-0.1l2 4.9l2-1.7l2 3.2l2-5.4l2 3.5l2-2l2 4.1l2-1.6l2 3.9l2-0.9l2 3.1l2-2.6l2 2.5l2-3.1l2 1.9l2-6.6l2 2.9l2-0.4l2-4.9l2 3.3l2-2.4l2-0.7l2 3.4l2-6.1l2 4.2l2-1.1l2 5.4l2-3.2l2 6.6l2-2.2l2 0.3l2-3.7l2 0l2-2.8l2 2.7l2-1.5l2 2l2-3.9l2 0.1l2 3.4l2-2.9l2 1.5l2-1.5l2 3.5l2-4.9l2 4l2-4.3l2-0.8l2 1.7l2-3.6l2 3l2-4.5l2 5.5l2 1.4l2-4l2 4l2-3l2 2.6l2-5l2 3.5l2-4.5l2-0.1l2 2.4l2-3.5l2 2.5l2-4.2l2 3.8l2-2.7l2 4.7l2-2.8l2 3.3l2-4.9l2 3.9l2-5.5l2 3.1l2-3.7l2 3l2-7.2l2 2.9l2-3.1l2 5.3l2-1.3l2 1.4l2-3.3l2 3l2-3l2 5.1l2-4.2l2 4.5l2-3.4l2 3.6l2 1.1l2-2.3l2 2.4l2-3.6l2 2.5l2-3.8l2 1.3l2-4.4l2-0.8l2-0.1l2 3.1l2-0.1l2-4l2 2.3l2-3.2l2 0.1l2-3.3l2 3.4l2-5.6l2 1.6l2-3.5l2 4.7l2-3.5l2 2.4l2-1.6l2 3.2l2-2.2l2 5.7l2-2.4l2 1.3l2-2.3l2 2.3l2-5.9l2 3.7l2-5l2 2.3l2-2.4l2 5.5l2-4.4l2 0.1l2 1.2l2-5.9l2-2.4l2 2.7l2-0.5l2-3.6l2 5l2-2.9l2 4.9l2-2l2 4.1l2-4.6l2 1.8l2-4.4l2 5l2-4.1l2 7l2-1l2 2.7l2-3.3l2 4.4l2-2.8l2 3l2-2.9l2-0.6l2 2.8l2-4.2l2 4.6l2-2.8l2 3.3l2-5.1l2 2.5l2-9.1l2 1.8l2-2.9l2 3l2 2.6l2-5l2 3.6l2-1.5l2 4.4l2-3.4l2 5.2l2-5.4l2 2.7l2-6.6l2 1.6l2-6.1l2-1.9l2 1.8l2-5.3l2 2.7l2-3.4l2 4l2-4l2 6.2l2-3.7l2 4.4l2-3.3l2 4.2l2-0.4l2 1.7l2-3.9l2 1.7l2-1.7l2 2.3l2-2.2l2 1.8l2-3.8l2 4l2-4.7l2 3.6l2-1.3l2 2.8l2-5.9l2 2.8l2-2.5l2 5l2-0.7l2-1.1l2 2.6l2-3.8l2 2.2l2-2.3l2 3.3l2-2.9l2 0.9l2 3.9l2-2.1l2 1.9l2-4.2l2 3l2-5.8l2 4.1l2-3.1l2 3.1l2 1.4l2-2.7l2 1.3l2-3.6l2 2.5l2 0.5l2-4l2 2.8l2-2.3l2 2.3l2-2.4l2 5.1l2-4.3l2 6.5l2-2.9l2 3.2l2-5.2l2-3l1-0.5l1 8.4l1.5 5.4l0.5-1.1l2 1l2-3.1l2 5l2-3l2 4.5l2-3.1l2 3.8l2-3.5l2 4.9l2-0.5l2-4.9l2 2.9l2-4.3l2-2.8l2 2.9l2-2.8l2 2l2-3.1l2 6.9l2-2.9l2 4.7l2-2.9l2 2.4l2-3.3l2 3.9l2-3.9l2 5.4l2-3.5l2 2.9l2-4.1l2 2.6l2-4.4l2 2.1l2-2l2 3.3l2-2.5l2 2.9l2-2.3l2-2.3l2 2.8l2-3.1l2 0.7l2-6.9l2-2.7l0.2-1.1l1.8 1.5l2 5.6l2-1l2 3.2l2-3.3l2 3.5l2-4.6l2 5.1l2-6l2 3.7l2-4.9l2 1.6l2-3l2 4l2-2.3l2 2l2-3.9l2 5l2-6.4l2-0.9l2 2.6l2 0.6l2-4.4l2 4.1l2-4.8l2 1.7l2 0.2l2 1.9l2 1.8l2 3.3l2-4.1l2 3.3l2-6.5l2 2.7l2-5.2l2 1.7l2-5.7l2 0.3l2-7.1l2 9.5l2 0.7l2 5.2l2-2.3l2 6.9l2-2.1l2 6.7l2-1.5l2 4.7l2-4.9l2 5.8l2-5.5l2 1.5l2-3.7l2-0.9l2 2.7l2 0.4l2 5.3l2 1l2-3.8l2 3.7l2-2.1l2 4.3l2-0.1l2 3.6l2-1.7l2 6l2-4.6l2 5.6l2-4.8l2 2.5l2-2.7l2 1.8l2-4.7l2-3.4l2 1.2l2 6l2-2.5l2 1.8l2-1.8l2 4.5l0.5-1.1l1.5-10.5l1-2l1 4.6l1 0.4" fill="none" stroke="#16386a" stroke-width="2.3" stroke-linejoin="round"/>
<path d="M164.5 1229.3l2-8l2 1.6l2-1.2l2 5.6l2 0.5l2-5.6l1 1.5l1 4.4l2 0.1l2 7.4l0-0.6l2-3l2 1.5l2 1.5l2-4.5l2 5.7l2-3.8l2 5.1l1 0l1-4.9l2 0.9l2-7.7l0 1.7l2 2.3l2-2.2l2-2.2l2-2.8l2 1.3l2-4.1l2 3.4l2-1.4l2 4.8l2 0.9l2-4.8l2 1.7l2-1.4l2-4.8l2 4.5l2-7.2l2 2.1l2-1.9l2 2l2-2.3l2 4l2-5l2 4l2-5.2l2 2.4l2-4.2l2 4.9l2-1.9l2 5l2-3.7l2 2.3l2-3l2 2.1l2-4.1l2 4.2l2-5.5l2 1.8l2-3.9l2 2.3l2-4.4l2 3.5l2-2.2l2 4.1l2-1.4l2 3.3l2-6.3l2 3.1l2-0.7l2 5.2l2-4.3l2 4.7l0.5-2.8l1.5-6.3l2-2.6l0.2-3.5l1.8 1.8l2 6.2l2 1.7l2 4.8l2-4.2l2 3.6l2-0.8l2 6.3l2-2.2l2 4.3l2-3.8l2-4.5l2 3.9l0.5-3.4l1.5 4.6l2-1.1l2 5.4l2-1.4l2 2.3l2 1.3l2-6l2 0.4l2 3.7l2-4l2 0.2l2-8.1l2 1l2-5.9l2 3l1.8-4.2l0.2-0.3l2 8.1l2 1l2 10l0 2.5l2 3.1l2 0l2-1.6l2 4.9l2-0.6l2 2.2l2-0.4l2 0.7l2 2.5l2-2.1l2 0.2l2-5.8l2-0.8l2-4.8l2 1.9l2-3.1l0.5 1.2l1.5 6.9l2 1.1l1.5 7l0.5 0.8l2-6.3l2 0.3l2-5.4l2 1.4l2-4.4l2 0.1l2-4.9l0.5 0.9l1.5 1.1l2 4.9l1.5 1.5l0.5-3.2l2 2.9l2-6.1l2 2.6l2-3.8l2 1.2l2 0.7l2 3.2l2 1.9l2-6.2l2-0.9l2 3.9l2-5.7l2 5.9l2 0.9l2-2.2l2 3.9l2-2.4l2 4l2-2.4l2 3.6l2-2.3l2 5.1l0.5-2.1l1.5-6l2-0.6l2-8.5l2 0.8l2-7l1.8-2.5l0.2 3.8l2 2.9l2 8.5l2 0.1l2 4.3l0.5-0.8l1.5-5.2l2 0.4l2-3.1l2 2.8l2-2.7l2 1l2-3.8l2 3.3l2-4.4l2 5.9l2-5.8l2-1.1l2 2.3l2-6.9l2 1.3l2-6.8l2 1.2l2-5.1l2-2.6l1.2 0.5l0.8 6.2l2 9.3l1 2l1-0.7l2 3.7l2-1.8l2 4l2-3.6l2 3.3l2-3.5l2 3.1l2 0.4l2-2.5l2 0.1l2-5.4l2-0.9l2-7.6l2-0.3l2-3.3l1.5-5l0.5-0.6l2 8l2 0.5l2 7.5l2-0.9l2 5.5l2-0.7l2 3l2-3.7l2 3.1l2-4.4l2 0.9l2-4l2 4.4l2-3.4l2 3.5l2-5.4l2 3.2l2-4.4l2 2.7l2-3.7l2 2l2-2.4l2 2.5l2-3.7l2 2.6l2-5.3l2 2.5l2-2.8l2 3.8l2-2.1l2 7.5l2-1.5l0.5 2.1l1.5-0.3l2-7.9l2 1.5l2-0.7l2-3.9l2 2.9l2-2.9l2 3.6l2-1l2 3.2l2-3.5l2 1.6l2 3.6l2-1.9l2 3.5l2 0.6l2 10.5l1.5 1.1l0.5-0.9l2-2.5l2 4.6l2-5.7l2-0.1l2 2.3l2-3.3l2 0.6l2-4.1l2 2l2-5.1l2 3.2l2-3.6l2 4.1l2-4.1l2 3l2-3.3l2 1.5l2-2.7l2 0.8l2-2.6l2 1.8l2-1.6l2 2.8l2-1.7l2 2.1l2-3.1l2 1.1l2-4.3l2 4.1l2-1.7l2 0.2l2-3.9l2 2.8l2-0.8l2 4.2l2-3.6l2 3.8l2-3.1l2 2.2l2 1.7l2-0.8l2 3.2l2 1.3l2-4.9l2 2.1l2 1.5l2-1.8l2-0.8l2-4.6l2 3.5l2-5.9l2 4.4l2-5.3l2 2.9l2-3.9l2 4.9l2-3l2 4.7l2-3.5l2 4.2l2-4.4l2 2.8l2-4.3l2 5l2-4.3l2 2.4l2-3l2 4.2l2-3.6l2 1.1l2-1.4l2 3.3l2-2.9l2 2.9l2-4.2l2 5.4l2-2.9l2 2.1l2 0.4l2 2.7l2-3.9l2 4.7l2-3.4l2 6.3l2-3.4l2 3.2l2-2.8l2 2.5l2-6.8l2 4.5l2-2.5l2 2.5l2-4.6l2 3.1l2-4.1l2 4l2-3l2 3.3l2-6l2-0.4l2 4.8l2-3.8l2 4.2l2-6.9l2 4.5l2-4.5l2 0.9l2-4.7l2 2.9l2-5.4l2 2.4l2-5l2 2l2-1.8l2 3.1l2-4.8l2 2l2 2l2-4l2 2.7l2 1.2l2-1.8l2 4l2-3.3l2 2.3l2-3.4l2 2l2-6l2 5.4l2-3.7l2 4.5l2-0.2l2 1l2-2.7l2 1.4l2-2.6l2 3.7l2-2.5l2 4.4l2-2.8l2 2.5l2 3.7l2-1.2l2 6.8l2-2.3l2 4.7l2-1.7l2 3.8l2-5l2 2.8l2 1.2l2-4.1l2 5l2-0.3l2 7.2l2-1.9l2 3.5l2-4.9l2 3.4l2-5l2-0.3l2 4.8l2-3.1l2 4.1l2-1.5l2 1.4l2-3.2l2 3.3l2 0.3l2 4.5l2-4.8l2 3.7l2 0.3l2-1.8l2 1.7l2-4.9l2 4.1l2-7.6l2 3.1l2-1.2l2 3.5l2-1.4l2 6.6l2-3.3l2 4l2 0.9l2-0.1l2 2.8l2-5.2l2-3.3l2 3.8l2 0.4l2-2.5l2 3.4l2-4.2l2 2.8l2-4.7l0.5 1.6l1.5-5.5l1-7l1 5.1l1.5 9.9l0.5-1l2 1.3l2-4.4l2 5.5l2-3.1l2-2.4l2 5.3l2-2l2 2.4l2-3.6l2 3.6l2-3.5l2 2.8l2-5.2l2 5.1l2-4.1l2 3.1l2-4.4l2 5.8l2-3.6l2 5.6l2-2.3l2 4.2l2-1.6l2 4.7l2 3.8l2-3l2 4.7l2-5.1l2 4l2-3.6l2 1.1l2-6l2 3.7l2-1.2l2 3.3l2-0.5l2 3.3l2-3.7l2 4.1l2-6.3l2 3.5l2-6.4l0.5 2.3l1.5-5.3l2-10l0.2-2.2l1.8 4.6l2 8l2-2.4l2 5.2l2-2.1l2 3.8l2-3.6l2 4l2-4.1l2 1.8l2-3.9l2-4l2 0.7l2 3.7l2 0l2-3l2 5.4l2-4.7l2 2.9l2-5.3l2 2.6l2-3.5l2 3l2 2.1l2-1.6l2 5.6l2-2.2l2 3.7l2-2l2 4l2 0l2-4.3l2 1.2l2-2l2 0.9l2-0.6l2-6.1l2 0.2l2-4.9l2 6.3l2-0.2l2 4.1l2-1.3l2 5.4l2-3.2l2 4.9l2-1.6l2 3.7l2-5.6l2 3.7l2-4.4l2-0.8l2 2.2l2-0.7l2 4.8l2-3.4l2 3.6l2-0.2l2-4.8l2 2.8l2-1.6l2 6.1l2-4.2l2 3.3l2 4.9l2-2.4l2 0.7l2-8.9l2 2.7l2-4.3l2 3.1l2-4.7l2 1.4l2-5.2l2-0.6l2-3.4l2 3.5l2-2.9l2 0.8l2 2.1l0.5-1.2l1.5-8.9l1-1.2l1 5.4l1-0.3" fill="none" stroke="#000000" stroke-width="2.3" stroke-linejoin="round"/>
<path d="M164.5 1325.7l2-2l2 1.9l2-4.1l2 4.7l2-2.2l2 2l2-3.5l2 4.1l2-2.2l2 1.4l2 0.2l2-4.7l2 1.1l2-3l2 4.1l2-5.9l2 0.1l2 1.6l2-4.3l2 0.3l2-3.2l2 1.6l2-5.7l2 3.5l2-4.6l2 2.5l2-2.9l2 4.5l2-2.9l2 2.6l2-4l2 1l2-3l2 1.8l0-2.8l2 0.7l2 7.5l2-1.1l2-1.6l2 3l2-0.7l2 4.7l2-3.7l2-0.1l2-3.8l2 1.1l2-0.7l2-1.8l2 3.2l2-2.2l2 2.1l2 1.2l2-3l2 2.6l2-1.6l2 2.1l2-2.3l2 2.5l2-3l2 2.6l2-3.2l2-2.4l2 5.2l2-6.2l2 3.2l2-3.2l2-2.4l2 4.2l2-5.2l2-1l2-1.3l2-6.2l1-1.7l1-0.4l2 8.4l2-2.1l2 5.5l2-0.7l2 4.5l2-3.9l2 0.2l2-4.2l2 6.2l2-4.4l2 5.9l2-3.9l2 4.9l2-1.7l2 4l2-2.2l2 6l2-4.2l2 1.9l2-2.4l2 0.6l2-4.2l2 1.4l2-2.4l2-5.7l2 1.3l2-5.2l2-0.8l1.8-3.6l0.2 3.2l2 0.1l2 8.3l2 0.8l2 7.1l2-1.3l2 3.8l2-2.9l2 3.4l2-2.7l2 5.5l2-4.1l2 3.7l2 1l2-5.9l2 4.1l2-3.3l2 1.7l2-2.7l2 1.1l2 3l2-3.2l2 5l2-4.1l2 3.1l2-3.8l2 1.2l2-3.5l2 1.2l2 2l2-5.4l2 4.8l2-5.9l2 3.9l2-5.4l2 4.9l2-5.3l2 0.9l2 4.5l2-2.3l0.5 3.5l1.5-1.5l2-4l1.5-4.5l0.5-0.7l2 4.2l2-2.6l2 1.1l2 4.3l2-4.4l2 3.2l2-1.2l2-1.3l2 3.5l2-3.8l2 5.8l2-3.8l0.5 2l1.5-1.6l2-7l2-2.2l2-4.9l2 0.4l0.5-3.5l1.5 1.4l2 10.2l2-0.9l2 4.7l2-3.5l2 4.5l2-3.3l2 2.6l2-2.1l2 6l2-2.8l2 3l2 3.3l2-2.7l2-1.2l2 1.7l2-5.3l2-5.9l2-3.6l2-4.5l2-0.1l2-3.6l2-5.9l1.5-2l0.5 2.8l2 4.3l2 7.6l2 4.1l2 2.8l2 4.6l2-0.7l2-2.6l2 3.2l2-3.6l2 2.4l2-4.1l2-2l2 3.3l2-6.5l2-0.2l2-8.4l2-1.5l2-8.4l1.5-0.8l0.5 2.3l2 1.5l2 7l2-3.2l2 6.8l2-2.7l2 4.1l2-2.6l2 5.4l2-4.5l2 4.4l2-2.8l2 3.9l2-2.2l2 7.2l2-3.4l2 5.7l2-1.5l2 4.5l2-5.4l2 0.4l2-2l2 0.4l2-5.6l2 4.1l2-6.2l2 2.9l2-6.7l2 2.9l2-2.3l2 5l2-1.3l2 5.3l2-2.4l2 5l2-5.3l2 1.6l2-4.1l2 3.1l2-4.2l2 1.9l2 2.1l2-2.4l2 4.8l2-2.4l2 5.2l2-3.2l2 2.9l2-2.1l2 6.4l2-2.7l2 2.9l2-3.1l2 2.4l2-3.2l2 2.3l2-2.4l2 3.6l2-2.1l2 5.3l2-3.5l2 2.9l2-4.3l2 4.2l2-0.5l2-1.2l2 2.9l2-1.6l2 2.8l2-5.6l2 3.7l2-3.6l2 4l2-5.2l2 3.4l2-6.5l2 5.3l2-2.9l2-0.8l2-2.3l2 2.3l2-2.8l2 3.4l2-3.9l2 1l2 1.9l2-2.1l2 5.2l2-3.6l2 3.2l2-4.5l2-2.5l2 2.9l2-0.4l2 4.9l2 0l2 8l2-8l2 2l2-3.3l2 1l2-3.4l2 0.9l2-2.4l2 2.1l2-4.9l2 2.4l2-3.6l2 2.4l2-2.5l2 2.5l2-4.6l2 2.4l2-4.5l2 2.1l2-4.2l2 0.6l0-1.3l2 9.3l0.5 4.5l1.5 1l2-3.2l2-0.1l2 2.9l2 0.8l2 1.9l2-3.1l2 3.7l2-5l2 2.4l2-2.5l2 2.3l2 0.3l2 5.3l2-2.8l0.5 3.5l1.5-0.5l2-4.3l2 0.7l2-5l2 3l2-2.3l2 3l2-2.1l2 2.3l2-4.5l2 4l2 0.2l2-6.5l2-1.8l2 2.2l2-5.8l2 3.4l0.2-2.2l1.8 6l2 1.3l2 6.4l2-1.6l2 4.6l2-3.7l2 4.6l2-6.3l2 3.9l2-4.8l2 1.8l2-3.6l2 4.2l2-3.9l2-1.4l2-2.3l2 1.5l2-4.2l2 0.3l2 4l2-4.6l2 2l0-0.5l2 5.8l0.5 3l1.5 1.8l2-4.4l2-1.8l2 2.5l2-2.2l2 4.4l2-3.5l2 5l2-3.5l2 1.9l2-3.9l2 0.8l2-3.8l2 5.7l2-3.8l2 4.9l2-1.7l2 6.4l2-1.3l2-2.7l2 1.6l2-4.3l2-0.4l2 5.1l2-1.3l2 1.1l2-4.5l2 4l2-6.5l2 2l2-3.8l2 1.3l2 0.1l2-0.9l2-5.1l2 2.8l2-5.4l2 4l2-1.9l2 2.8l2 0.9l2 4.4l2-0.5l2-1.2l2 1.6l2-1.8l2 4.6l2-4l2 6.2l2 0.4l2-2.6l2 2.8l2-4.2l2 2.2l2-3.2l2 2.2l2-4.7l2 3.1l2-1.7l2 6.4l2-3.7l2 3.6l2-3.2l2 2.4l2-2.3l2 0.2l2-4.9l2 1.3l2-3.6l2 2.8l2-3.1l2 4.9l2-4.3l2 6.3l2-3.3l0.5 2l1.5-3.6l1-6.4l1 4.2l1.5 8.3l0.5 2.3l2-3.7l2 2.8l2-3.2l2 2.6l2-4.1l2 4.7l2-1.1l2 1.4l2-3.1l2 1.9l2-3.7l2 4.3l2-5.1l2 3.4l2-4.9l2 3.8l2-3.3l2 4.7l2-4l2 4.8l2-0.9l2 5.3l2 2l2 2.7l2-3.9l2 1.3l2-2.5l2 2.9l2-4.7l2 3l2-4l2 5.8l2-3.3l2 2.8l2-2.2l2 4.2l2-2.8l2 2.8l2-1.4l2-4.2l2 2.4l2-5.7l0.5 2.4l1.5-6l2-12.3l0.2 0.8l1.8 4.3l2 10.3l2-0l2 8.5l2-3l2 5.3l2-3.6l2 1.1l2-3.4l2 3l2-4.9l2 4.2l2-1.7l2 3.3l2-2.5l2 4l2-3.2l2 2.8l2-2.2l2 2.5l2-4.7l2-0.4l2 5l2-3l2 4.6l2-1.1l2 5.3l2-3.8l2-0.1l2 2.7l2 2.3l2-3l2 3.4l2-2.6l2 2.1l2-6.9l2-0.7l2-9.6l2-0.9l0.5-3.4l1.5 0.2l2 6.1l2 0.2l2 8.6l2-4.4l2 2.5l2-4.2l2 6.7l2-1.3l2 3.4l2-5.3l2 3.6l2-3.8l2 3l2-5.6l2 2.1l2-2.2l2 7.9l2-3l2 4.5l2-4.2l2 4.9l2-1.9l2 5.1l2-0.2l2 6.8l2-5.7l2 0.9l2-10.2l2-1.1l2-1.8l2 2.5l2-4.6l2 2.1l2-5.8l2 3.4l2-1.4l2 6l2-1.9l2 8.1l0-2.5l2-8.1l2-2.5l1-9.4l1 0.3l1 2.2" fill="none" stroke="#ff0000" stroke-width="2.3" stroke-linejoin="round"/>
<polyline points="270.0,1215.0 271.7,1216.8 273.3,1217.8 275.0,1220.0 276.7,1219.7 278.3,1222.0 280.0,1222.5 281.7,1223.5 283.3,1225.3 285.0,1227.5 286.7,1223.1 288.3,1219.5 290.0,1215.0 291.7,1217.0 293.3,1216.6 295.0,1217.5 296.7,1220.4 298.3,1222.0 300.0,1222.5 301.7,1222.7 303.3,1223.1 305.0,1225.0 306.7,1225.0 308.3,1227.5 310.0,1227.5 311.7,1228.2 313.3,1229.3 315.0,1228.8 316.7,1231.1 318.3,1231.6 320.0,1232.5 321.7,1233.4 323.3,1233.1 325.0,1235.0 326.7,1233.9 328.3,1235.7 330.0,1235.0 331.7,1234.6 333.3,1234.0 335.0,1232.5 336.7,1233.5 338.3,1234.6 340.0,1235.0 341.7,1235.3 343.3,1235.9 345.0,1235.0 346.7,1234.9 348.3,1236.7 350.0,1237.5 351.7,1237.9 353.3,1240.0 355.0,1240.0 356.7,1241.3 358.3,1240.2 360.0,1241.2" fill="none" stroke="#808080" stroke-width="3.6" stroke-linejoin="round" stroke-linecap="round"/>
<path d="M270.0 1217.1h0M271.3 1217.3h0M272.6 1219.0h0M273.9 1221.0h0M274.9 1218.7h0M276.1 1221.3h0M277.4 1223.3h0M278.6 1223.8h0M279.9 1222.8h0M281.2 1222.0h0M282.5 1224.6h0M283.8 1228.9h0M285.3 1224.7h0M286.2 1223.6h0M287.1 1224.7h0M287.9 1219.9h0M288.8 1216.4h0M289.7 1214.7h0M290.6 1217.4h0M291.8 1215.1h0M293.1 1216.2h0M294.3 1217.8h0M295.8 1219.9h0M297.1 1219.6h0M298.4 1218.7h0M299.7 1222.6h0M300.9 1220.5h0M302.1 1221.5h0M303.4 1222.6h0M304.7 1225.8h0M305.9 1224.3h0M307.2 1227.1h0M308.4 1225.0h0M309.7 1225.3h0M310.8 1225.2h0M311.9 1229.1h0M313.1 1230.1h0M314.2 1227.1h0M315.7 1227.9h0M317.0 1227.7h0M318.3 1232.0h0M319.6 1231.2h0M320.8 1231.0h0M322.1 1234.3h0M323.3 1234.7h0M324.6 1234.5h0M325.6 1233.2h0M326.7 1235.7h0M327.8 1235.3h0M328.9 1234.7h0M330.3 1233.1h0M331.6 1236.5h0M332.8 1235.5h0M334.1 1234.0h0M335.3 1235.2h0M336.6 1233.7h0M337.8 1233.1h0M339.1 1232.5h0M340.1 1235.6h0M341.2 1235.1h0M342.3 1234.7h0M343.4 1237.6h0M344.5 1236.8h0M345.8 1233.4h0M347.0 1238.0h0M348.3 1234.0h0M349.5 1238.1h0M350.8 1236.9h0M352.0 1239.7h0M353.3 1241.5h0M354.5 1239.9h0M355.6 1241.5h0M356.8 1238.1h0M358.0 1241.6h0M359.1 1239.0h0" fill="none" stroke="#808080" stroke-width="2.8" stroke-linecap="round"/>
<polyline points="415.0,1242.5 416.7,1243.0 418.3,1244.9 420.0,1247.5 421.7,1248.1 423.3,1249.6 425.0,1250.0 426.7,1249.5 428.3,1249.9 430.0,1251.2 431.7,1249.4 433.3,1249.4 435.0,1247.5 436.7,1246.2 438.3,1247.2 440.0,1246.2 441.7,1246.2 443.3,1244.5 445.0,1245.0 446.7,1245.9 448.3,1246.5 450.0,1247.5 451.7,1246.5 453.3,1247.0 455.0,1245.0 456.7,1243.2 458.3,1242.2 460.0,1242.5 461.7,1244.4 463.3,1243.9 465.0,1245.0 466.7,1244.7 468.3,1245.4 470.0,1246.2 471.7,1247.2 473.3,1249.8 475.0,1250.0 476.2,1254.3 477.5,1260.0 478.8,1260.6 480.0,1262.5 481.7,1262.7 483.3,1262.6 485.0,1262.5 486.7,1262.8 488.3,1261.6 490.0,1260.0 491.7,1258.4 493.3,1256.8 495.0,1256.2 496.9,1257.1 498.8,1256.2 500.0,1255.0 501.7,1253.7 503.3,1248.9 505.0,1247.5 506.7,1246.4 508.3,1245.1 510.0,1242.5 511.7,1242.9 513.3,1241.8 515.0,1242.5 516.7,1242.4 518.3,1241.4 520.0,1240.0 521.7,1241.8 523.3,1245.3 525.0,1247.5 526.7,1244.3 528.3,1241.4 530.0,1240.0 531.7,1239.2 533.3,1238.8 535.0,1238.8 536.7,1238.9 538.3,1239.9 540.0,1240.0 541.7,1240.0 543.3,1239.4 545.0,1237.5 546.7,1235.3 548.3,1232.0 550.0,1227.5 551.7,1227.4 553.3,1225.4 555.0,1225.0 556.7,1223.4 558.3,1223.6 560.0,1222.5 561.7,1224.3 563.3,1226.3 565.0,1227.5 566.7,1226.5 568.3,1226.8 570.0,1227.5 571.7,1228.1 573.3,1226.9 575.0,1226.2 576.7,1225.9 578.3,1223.6 580.0,1223.8 581.7,1223.1 583.3,1223.9 585.0,1222.5 586.7,1222.0 588.3,1222.0 590.0,1220.0 591.7,1219.7 593.3,1220.7 595.0,1221.2 596.7,1221.6 598.3,1220.3 600.0,1220.0 601.7,1220.3 603.3,1219.3 605.0,1218.8 606.7,1218.2 608.3,1218.6 610.0,1220.0 611.7,1221.2 613.3,1219.1 615.0,1220.0 616.7,1219.3 618.3,1219.6 620.0,1220.0 621.7,1220.5 623.3,1220.8 625.0,1220.0 626.2,1220.6 627.5,1221.2" fill="none" stroke="#808080" stroke-width="3.6" stroke-linejoin="round" stroke-linecap="round"/>
<path d="M415.0 1240.8h0M416.3 1244.8h0M417.6 1245.8h0M418.9 1246.3h0M419.9 1246.0h0M421.1 1249.6h0M422.4 1250.3h0M423.6 1249.4h0M424.9 1250.0h0M426.0 1248.9h0M427.2 1248.0h0M428.4 1250.2h0M429.5 1251.6h0M430.9 1248.3h0M432.2 1251.1h0M433.5 1247.2h0M434.8 1246.2h0M436.0 1244.9h0M437.1 1249.6h0M438.3 1247.9h0M439.4 1248.3h0M440.6 1246.7h0M441.7 1243.4h0M442.9 1244.6h0M444.0 1245.2h0M445.4 1243.2h0M446.6 1248.2h0M447.9 1245.7h0M449.1 1245.3h0M450.4 1249.0h0M451.6 1244.7h0M452.9 1248.3h0M454.1 1245.2h0M455.4 1245.1h0M456.6 1243.4h0M457.9 1243.5h0M459.1 1241.3h0M460.4 1240.3h0M461.6 1245.2h0M462.9 1242.6h0M464.1 1246.0h0M465.2 1243.5h0M466.4 1247.8h0M467.5 1247.7h0M468.7 1247.2h0M469.8 1247.6h0M471.2 1247.5h0M472.5 1249.3h0M473.8 1247.1h0M475.2 1250.9h0M475.9 1255.1h0M476.5 1254.3h0M477.1 1260.5h0M477.6 1262.1h0M478.9 1260.9h0M479.5 1261.8h0M480.6 1262.2h0M481.7 1261.9h0M482.8 1265.1h0M483.9 1261.9h0M485.0 1260.0h0M486.2 1259.8h0M487.5 1262.4h0M488.8 1263.2h0M490.2 1259.8h0M491.5 1258.8h0M492.8 1258.1h0M494.1 1258.2h0M495.0 1254.8h0M496.1 1256.8h0M497.2 1256.5h0M498.3 1256.9h0M499.8 1253.6h0M501.0 1251.8h0M502.2 1250.9h0M503.4 1252.2h0M504.5 1247.4h0M505.7 1247.3h0M507.0 1244.5h0M508.4 1242.1h0M509.7 1240.6h0M510.6 1244.1h0M511.7 1243.9h0M512.8 1241.8h0M513.9 1243.5h0M515.3 1243.3h0M516.5 1243.8h0M517.8 1243.5h0M519.0 1240.0h0M520.6 1243.4h0M521.8 1245.1h0M523.0 1244.9h0M524.1 1248.2h0M525.3 1246.9h0M526.5 1244.6h0M527.7 1242.1h0M528.9 1243.6h0M529.2 1238.4h0M530.4 1237.7h0M531.5 1241.2h0M532.7 1240.8h0M533.8 1239.0h0M535.0 1240.5h0M536.1 1236.7h0M537.3 1238.1h0M538.4 1238.5h0M539.6 1239.5h0M540.9 1237.8h0M542.1 1236.7h0M543.4 1237.5h0M544.6 1239.8h0M545.8 1238.3h0M546.9 1235.0h0M547.9 1231.6h0M548.9 1228.3h0M550.0 1230.0h0M551.2 1227.0h0M552.4 1227.5h0M553.7 1223.2h0M554.9 1223.5h0M556.2 1226.2h0M557.4 1225.3h0M558.7 1225.1h0M559.9 1223.1h0M561.3 1223.4h0M562.6 1225.5h0M563.9 1228.2h0M564.5 1226.5h0M565.6 1227.7h0M566.7 1226.3h0M567.8 1228.9h0M568.9 1225.0h0M570.1 1228.4h0M571.2 1229.5h0M572.4 1224.4h0M573.6 1227.1h0M574.7 1227.1h0M576.0 1227.6h0M577.2 1225.6h0M578.5 1223.2h0M579.7 1223.4h0M580.9 1225.9h0M582.0 1225.4h0M583.2 1221.1h0M584.3 1220.6h0M585.6 1220.1h0M586.9 1219.1h0M588.1 1220.7h0M589.4 1218.4h0M590.5 1222.0h0M591.6 1221.2h0M592.8 1218.8h0M593.9 1221.2h0M595.1 1220.3h0M596.3 1220.9h0M597.4 1219.2h0M598.6 1218.6h0M599.7 1218.4h0M600.9 1219.1h0M602.0 1220.6h0M603.2 1219.5h0M604.3 1216.6h0M605.5 1220.0h0M606.6 1221.1h0M607.8 1220.9h0M608.9 1221.2h0M610.0 1217.4h0M611.1 1219.8h0M612.2 1217.7h0M613.3 1221.4h0M614.4 1218.3h0M615.5 1221.1h0M616.6 1218.7h0M617.7 1221.0h0M618.8 1219.0h0M619.9 1217.6h0M621.0 1219.4h0M622.1 1219.0h0M623.2 1222.1h0M624.3 1218.9h0M625.6 1220.3h0M626.9 1221.2h0" fill="none" stroke="#808080" stroke-width="2.8" stroke-linecap="round"/>
<polyline points="632.5,1212.5 634.2,1213.2 635.8,1215.1 637.5,1217.5 639.2,1217.9 640.8,1220.1 642.5,1220.0 644.0,1220.2 645.5,1221.0 647.0,1219.8 648.5,1221.0 650.0,1221.2 651.7,1222.5 653.3,1222.1 655.0,1222.5 656.7,1224.0 658.3,1224.2 660.0,1223.8 661.7,1223.9 663.3,1223.4 665.0,1225.0 666.7,1226.4 668.3,1225.8 670.0,1227.5 671.7,1225.1 673.3,1225.6 675.0,1223.8 676.7,1224.2 678.3,1223.7 680.0,1222.5 681.7,1222.8 683.3,1220.1 685.0,1220.0 686.7,1218.6 688.3,1218.3 690.0,1218.8 691.7,1220.3 693.3,1218.7 695.0,1220.0 696.7,1220.0 698.3,1220.5 700.0,1222.5 701.7,1221.8 703.3,1222.2 705.0,1223.8 706.7,1223.8 708.3,1223.8 710.0,1225.0 711.7,1223.7 713.3,1224.4 715.0,1222.5 716.7,1220.9 718.3,1221.6 720.0,1220.0 721.7,1220.2 723.3,1219.3 725.0,1218.8 726.7,1218.9 728.3,1219.4 730.0,1218.8 731.2,1221.5 732.5,1223.8" fill="none" stroke="#808080" stroke-width="3.6" stroke-linejoin="round" stroke-linecap="round"/>
<path d="M632.5 1214.9h0M633.8 1211.9h0M635.1 1212.6h0M636.4 1219.0h0M637.4 1215.8h0M638.6 1216.1h0M639.9 1219.5h0M641.1 1218.5h0M642.4 1222.0h0M643.5 1218.8h0M644.6 1222.7h0M645.8 1219.6h0M646.9 1221.3h0M648.0 1223.2h0M649.1 1222.1h0M650.3 1223.5h0M651.5 1222.7h0M652.6 1219.6h0M653.8 1224.2h0M654.9 1222.9h0M656.1 1221.8h0M657.2 1221.4h0M658.4 1225.2h0M659.5 1224.1h0M660.7 1226.2h0M661.8 1225.6h0M663.0 1226.9h0M664.1 1225.1h0M665.5 1226.3h0M666.7 1226.4h0M668.0 1225.2h0M669.2 1229.5h0M670.6 1226.1h0M671.9 1227.5h0M673.2 1227.4h0M674.5 1224.9h0M675.6 1221.7h0M676.8 1225.0h0M677.9 1223.9h0M679.1 1221.1h0M680.4 1220.0h0M681.6 1221.8h0M682.9 1218.6h0M684.1 1222.6h0M685.2 1220.0h0M686.4 1219.7h0M687.5 1218.9h0M688.7 1219.9h0M689.8 1221.0h0M691.0 1218.0h0M692.1 1218.6h0M693.3 1220.0h0M694.4 1218.8h0M695.7 1220.9h0M697.0 1221.2h0M698.2 1221.3h0M699.5 1223.1h0M700.6 1222.8h0M701.8 1220.8h0M702.9 1225.8h0M704.1 1222.8h0M705.2 1223.5h0M706.4 1223.6h0M707.5 1226.6h0M708.7 1227.0h0M709.8 1225.0h0M711.1 1223.9h0M712.3 1221.7h0M713.6 1225.3h0M714.9 1220.9h0M716.1 1222.2h0M717.4 1220.5h0M718.6 1219.8h0M719.9 1219.3h0M721.0 1218.1h0M722.2 1217.1h0M723.3 1219.4h0M724.5 1220.4h0M725.5 1219.5h0M726.6 1217.2h0M727.7 1219.8h0M728.8 1216.4h0M729.9 1218.3h0M731.0 1222.5h0M732.0 1225.0h0" fill="none" stroke="#808080" stroke-width="2.8" stroke-linecap="round"/>
<polyline points="748.8,1226.2 750.6,1222.0 752.5,1217.5 754.0,1218.1 755.5,1218.8 757.0,1217.7 758.5,1218.9 760.0,1218.8 761.7,1220.1 763.3,1220.6 765.0,1220.0 766.7,1219.7 768.3,1221.2 770.0,1221.2 771.7,1221.9 773.3,1222.1 775.0,1222.5 776.7,1223.6 778.3,1222.6 780.0,1222.5 781.7,1222.0 783.3,1222.7 785.0,1221.2 786.7,1222.0 788.3,1221.6 790.0,1222.5 791.7,1221.6 793.3,1221.7 795.0,1221.2 796.7,1219.8 798.3,1220.7 800.0,1220.0 801.7,1220.6 803.3,1219.8 805.0,1220.0 806.7,1220.8 808.3,1221.0 810.0,1220.0 811.7,1220.6 813.3,1221.3 815.0,1221.2 816.7,1220.3 818.3,1220.2 820.0,1221.2 821.7,1222.0 823.3,1219.9 825.0,1220.0 826.7,1218.9 828.3,1220.1 830.0,1218.8 831.7,1219.8 833.3,1218.7 835.0,1220.0 836.7,1218.7 838.3,1217.7 840.0,1217.5 841.7,1217.0 843.3,1216.3 845.0,1217.5 846.9,1216.9 848.8,1216.2 850.0,1216.2 851.7,1214.9 853.3,1214.3 855.0,1213.8 856.7,1212.2 858.3,1211.1 860.0,1211.2 861.7,1210.5 863.3,1213.0 865.0,1212.5 866.7,1213.9 868.3,1214.3 870.0,1215.0 871.7,1213.7 873.3,1213.3 875.0,1213.8 876.7,1213.7 878.3,1215.0 880.0,1216.2 881.7,1216.4 883.3,1218.2 885.0,1220.0 886.7,1219.7 888.3,1220.1 890.0,1221.2 891.7,1222.5 893.3,1222.8 895.0,1223.8 896.7,1224.9 898.3,1225.9 900.0,1227.5 901.7,1229.7 903.3,1232.4 905.0,1233.8 906.2,1232.7 907.5,1232.5" fill="none" stroke="#808080" stroke-width="3.6" stroke-linejoin="round" stroke-linecap="round"/>
<path d="M748.8 1228.5h0M749.7 1226.4h0M750.6 1223.9h0M751.5 1217.6h0M752.5 1218.0h0M753.6 1217.3h0M754.7 1218.0h0M755.8 1216.1h0M757.0 1216.6h0M758.1 1218.1h0M759.2 1217.2h0M760.4 1218.6h0M761.5 1216.7h0M762.7 1217.3h0M763.8 1220.8h0M765.0 1219.6h0M766.1 1220.3h0M767.3 1221.8h0M768.4 1220.1h0M769.6 1218.8h0M770.7 1222.9h0M771.9 1222.2h0M773.0 1222.8h0M774.2 1222.9h0M775.3 1224.9h0M776.4 1221.8h0M777.5 1223.9h0M778.6 1221.8h0M779.7 1222.9h0M780.8 1223.1h0M782.0 1221.0h0M783.1 1219.6h0M784.3 1221.3h0M785.4 1222.5h0M786.6 1222.1h0M787.8 1221.7h0M788.9 1223.0h0M790.1 1220.8h0M791.2 1220.5h0M792.4 1221.0h0M793.5 1223.3h0M794.7 1219.7h0M795.8 1219.0h0M797.0 1218.7h0M798.1 1218.1h0M799.3 1219.0h0M800.4 1220.4h0M801.5 1221.7h0M802.6 1219.1h0M803.7 1219.3h0M804.8 1218.9h0M805.9 1219.0h0M807.0 1221.4h0M808.1 1220.3h0M809.2 1218.7h0M810.3 1218.0h0M811.5 1221.8h0M812.6 1221.7h0M813.8 1222.7h0M814.9 1219.9h0M816.0 1221.5h0M817.1 1223.4h0M818.2 1221.7h0M819.3 1223.6h0M820.5 1219.4h0M821.7 1223.3h0M822.8 1218.2h0M824.0 1219.8h0M825.1 1217.5h0M826.3 1221.3h0M827.4 1220.4h0M828.6 1221.6h0M829.7 1220.4h0M830.9 1221.3h0M832.0 1219.5h0M833.2 1222.1h0M834.4 1221.1h0M835.7 1218.9h0M836.9 1221.5h0M838.2 1217.8h0M839.4 1216.2h0M840.4 1215.3h0M841.5 1217.3h0M842.6 1215.9h0M843.7 1219.8h0M844.8 1219.8h0M846.0 1215.7h0M847.2 1214.7h0M848.4 1216.5h0M849.5 1214.5h0M850.8 1216.1h0M852.0 1216.9h0M853.3 1213.3h0M854.6 1213.6h0M855.8 1215.4h0M857.1 1212.4h0M858.3 1211.3h0M859.6 1213.5h0M860.7 1213.1h0M861.8 1213.8h0M863.0 1213.0h0M864.1 1211.8h0M865.5 1213.7h0M866.7 1215.1h0M868.0 1214.7h0M869.2 1213.2h0M870.3 1213.9h0M871.4 1214.2h0M872.6 1215.8h0M873.8 1214.4h0M874.9 1214.0h0M876.2 1216.0h0M877.4 1212.9h0M878.7 1216.3h0M879.9 1215.3h0M881.2 1217.5h0M882.6 1219.9h0M883.9 1217.8h0M884.8 1222.3h0M885.9 1218.0h0M887.1 1220.8h0M888.2 1221.0h0M889.4 1219.7h0M890.7 1221.9h0M891.9 1222.1h0M893.2 1222.6h0M894.4 1224.6h0M895.8 1221.8h0M897.1 1224.7h0M898.4 1227.8h0M899.8 1225.5h0M901.1 1230.7h0M902.3 1228.9h0M903.6 1232.9h0M904.8 1231.9h0M906.0 1233.0h0M907.3 1232.2h0" fill="none" stroke="#808080" stroke-width="2.8" stroke-linecap="round"/>
<line x1="138.5" y1="1603.8" x2="1389" y2="1603.8" stroke="#2a3140" stroke-width="1.8" stroke-dasharray="5.3,2.5"/>
<path d="M165.5 1599.6l2.4 3.4l0.8 2l1.6-0.5l2.4-2.9l2.4-0.2l2.4-0.6l2.4-4.9l2.4-2.8l2.4-1.9l2.4-0.4l2.4-1.5l2.4-1.7l2.4-0l2.4-1.5l2.4 0.1l2.4-1.3l2.4 0.3l2.4-2.8l2.4 0.8l2.4-1.2l2.4-3.2l2.4-2.4l0.3-1.4l2.1 6.4l2.4 8.4l2.4 3.2l1.9 4.5l0.5-0.6l2.4-5.7l2.1-3.7l0.3 0.5l2.4-2.3l2.4 0.3l1.2-1l1.2 2.5l2.4 7.7l2.4 4.2l2.4 5.7l0.3-0.1l2.1-1l2.4 0.5l2.4-0.9l2.4 1.8l2.4-1.8l2.4-0l2.4-1l2.4-2.8l2.4 0.2l2.4 2l2.4-0.4l2.4-0.3l2.4-1.3l2.4 2.3l2.4-0.9l2.4-0.9l2.4-2.6l2.4-1.4l2.4 0.5l2.4-1.6l2.4-0.3l2.4-1.7l2.4-0.2l2.4-2.4l2.4 1.1l2.4 2.2l2.4 2.4l2.4 0.1l2.4 0.9l2.4-1.4l2.4 0.3l2.4-2.5l2.4 1l2.4-0.4l2.4 1.9l2.4-0.3l2.4 2.8l2.4 0.2l2.4 2.1l2.4-3.1l2.4-0.1l2.4-1.9l2.4 0.5l2.4-1.5l2.4 0.8l2.4-1.4l2.4 0.7l2.4 1.2l2.4-0.5l2.4-0.4l2.4 1.2l2.4-1.8l2.4-0.3l2.4-2.4l2.4-1.2l2.4-0.6l2.4 1.4l2.4 0.4l2.4-2l2.4-0.1l2.4-2.3l2.4-1.1l2.4 0.7l2.4-1.4l2.4 1l2.4-1.2l2.4 3.1l2.4-0.1l2.4 0.1l2.4-2.2l2.4-2.6l2.4-0.7l2.4-3l2.4 0.4l2.4-4.6l0.3 0l2.1 4.1l2.4 3.4l2.4 0.8l2.4 2l2.4-0.7l2.4 2.2l2.4-1.5l2.4-0.6l2.4-1.6l2.4-2.4l2.4 0.1l2.4 2l2.4 0.6l2.4 0.6l2.4 1.4l2.4-0.6l2.4 2.4l2.4 0.1l2.4 2.3l2.4-2.4l2.4-0.3l2.4-2.6l2.4-0.1l2.4-2l2.4-0.5l2.4 0.7l2.4 4.1l2.4 2.7l0.6 2.1l1.8-0.7l2.4-2.2l2.4-1.6l2.4-0.3l2.4-1.8l2.4 0.8l2.4 0.3l2.4 1l2.4-0.3l2.4 1.4l2.4-2.9l2.4 0.5l2.4-1.4l2.4 0.4l2.4-1.8l2.4 0.6l2.4 1.5l2.4-0.6l2.4 3.8l2.4 1l2.4-0.3l2.4 0.7l2.4-1.9l2.4 0.5l2.4-2.4l2.4-0.8l2.4 0.3l2.4-1.4l2.4 1.5l2.4-0.1l2.4 1l2.4-1.9l2.4 0.7l2.4-0.7l2.4 1.2l2.4-0.9l2.4 1.3l2.4-1.5l2.4 1.1l2.4-0.9l2.4 1l2.4-2l2.4 1l2.4-0.9l2.4 1.1l2.4-1.1l2.4 2.1l2.4 3.2l2.4 2.2l2.4 1.4l2.4 2.5l2.4-0.7l2.4 0.5l2.4-2.1l2.4 0.6l2.4-1.4l2.4-0.1l2.4-1.2l2.4 1.6l2.4-0.3l2.4-2.2l2.4 1.3l2.4-0.1l2.4-1l2.4 1.1l2.4 0.1l2.4 1.4l2.4-0.4l2.4 1.2l2.4-1.1l2.4-0.1l2.4-1.4l2.4 1l2.4-0.8l2.4 0.3l2.4-1.8l2.4-0.4l2.4 0.9l2.4-2.1l2.4 0.4l2.4-1.8l2.4 1l2.4-2.3l2.4 1.3l2.4-2.2l2.4 0.4l2.4-1.1l2.4 1.2l2.4-0.1l2.4 1.7l2.4-0.7l2.4 2.1l2.4-0.4l2.4 1.3l2.4-0.7l2.4 0.5l2.4 2.4l2.4-1l2.4 1.7l2.4-0.3l2.4 1.3l2.4-0.5l2.4 1.4l2.4-2l2.4-0.4l2.4 0.7l2.4-2l2.4 1.3l2.4-1l2.4 2.6l2.4-0.5l2.4 2.5l2.4-0l2.4 1.4l2.4 0.8l2.4-1l2.4 1.7l2.4-0.6l2.4 1.9l2.4-0.5l2.4 1.7l2.4-0.4l2.4 0.7l2.4-0.7l2.4 1.5l2.4-1.1l2.4 1.4l2.4-1.9l2.4 0.8l2.4-2l2.4 0.5l2.4-1.8l2.4 0.9l2.4-2.5l2.4 0.2l2.4-1.7l2.4 0l2.4 0.1l2.4-2.2l2.4 0.6l2.4-1.4l2.4 0.8l2.4-0.8l2.4 2.3l2.4 0.2l2.4 0.3l2.4-1.5l2.4 0.2l2.4-1.8l2.4-6.2l2.4-4.7l2.4-1.5l2.4-3.1l2.4-0.4l2.4-2l2.4-0.3l2.4-0.5l2.4 4.5l2.4 0.6l2.4 0.5l2.4-1.8l2.4 1.4l2.4-1.8l2.4 1.3l2.4 0.6l2.4 0.2l2.4 1.7l2.4 0.1l2.4 4.7l2.4 5l2.4 5.3l2.4 3.6l2.4 1l2.4 1.3l2.4 2.3l2.4-0.5l2.4 1.6l2.4-1.2l2.4 1.3l2.4-0.7l2.4 0.9l2.4-1.3l2.4 1.7l2.4-1.4l2.4 1.7l2.4-1.6l2.4 2l2.4-1l2.4 1.1l2.4-1.4l2.4 0.9l2.4-0.9l2.4 0.9l2.4-0.1l2.4-1.3l2.4 1.1l2.4-0.8l2.4 1.1l2.4-1.1l2.4 1.3l2.4-1.1l2.4 1l2.4-1.4l2.4 1.2l2.4-0.7l2.4-0.3l2.4 1.7l2.4-0.8l2.4 1l2.4-0.6l2.4 0.9l2.4-1.5l2.4 1.3l2.4-0.9l2.4 1l2.4-1.5l2.4 1.3l2.4-1.5l2.4 1.4l2.4-1.9l2.4 0.1l2.4-0l2.4 1.4l2.4-1.6l2.4 1.7l2.4-1.2l2.4-0.1l2.4 1.4l2.4-1.4l2.4 0.9l2.4-1.7l2.4 1.4l2.4-0.7l2.4 0.8l2.4-0.9l2.4 0.8l2.4-1l2.4 1l2.4-1.3l2.4 0.5l2.4-1l2.4-0.7l2.4 1.5l2.4-1.7l2.4 1.7l2.4-1.1l2.4 1.1l2.4-1.3l2.4 1l2.4-1.1l2.4 1.5l2.4-1.2l2.4 1.1l2.4-1l2.4 1.2l2.4-1.9l2.4 1.6l2.4-1.2l2.4 1.4l2.4-0.2l2.4-1.1l2.4 1.1l2.4-1.6l2.4 1.6l2.4-1.3l2.4 1.1l2.4-1.2l2.4-0.1l2.4 1.4l2.4-1l2.4 1l2.4-1.1l2.4 1l2.4-0.6l2.4 0.5l2.4-0.7l2.4 1.8l2.4-0.1l2.4 1.2l2.4-2.8l2.4 1.2l2.4-1.4l2.4 1.1l2.4-1.2l2.4 0.5l2.4 0.1l2.4-0.3l2.4-1.5l2.4 1.4l2.4-0.4l2.4-1.5l2.4 1l2.4-1.1l2.4 1.5l2.4 0.1l2.4 1l2.4-1.1l2.4 1.2l2.4-2l2.4 1.2l2.4 0l2.4-1.6l2.4 1.4l2.4-1.2l2.4 0.4l2.4-0.9l2.4-1l2.4 2l2.4-0.8l2.4 1.8l2.4-0.3l2.4 1l2.4-1l2.4-0.2l2.4 0.8l2.4-1.6l2.4 0.9l2.4-0.8l2.4 1.8l2.4-1.3l2.4 1.2l2.4-1.2l2.4 1.5l2.4-0.9l2.4 0.9l2.4-0.7l2.4 0.5l2.4-1l2.4 0.9l2.4-1.7l2.4 0.6l2.4-1.6l2.4-0.1l2.4-1.2l2.4 1.3l2.4 0.5l2.4-0.2l2.4 1l2.4-0.8l2.4 1l2.4-0.6l2.4 1.7l2.4-0.5l2.4-0.2l2.4-0.9l2.4 3.1l2.4 0.1l1.3-0.4" fill="none" stroke="#92161b" stroke-width="2.3" stroke-linejoin="round"/>
<path d="M165.5 1557.8l2.4 2.5l2.4 0.1l2.4 0.2l2.4-2.5l2.4 1.2l2.4-1.3l2.4-1l2.4-0.2l2.4-2.3l2.4-1.2l2.4-3.1l2.4-0.3l2.4-2.2l2.4-0.7l2.4-2.1l2.4 0.7l2.4-2l2.4-1.3l2.4-0.1l2.4-3.1l2.4-4.2l0.3 0.1l2.1 6l1.7 4l0.7-0.7l2.4 2.4l2.4 0.3l2.4-0.6l2.4 1.8l2.4 1.7l2.4 3.6l2.4-0.7l2.4 2.7l2.4-1.8l2.4 0.5l2.4-1.6l2.4-0.2l2.4-0.3l2.4 2.3l2.4-2.2l2.4-0.2l2.4-0.5l2.4-0.9l2.4-0.5l2.4-2.4l2.4-0l2.4-2.9l2.4-0.8l2.4-6l0.4-0.5l2 5.5l1.8 4.5l0.6-0.2l2.4 2.7l2.4-0.4l2.4-0.3l2.4-2.1l2.4-0.8l2.4-2.2l2.4 1.1l2.4-2.4l2.4 0.3l2.4-2.5l2.4 2.3l2.4 0.7l2.4 1.5l2.4-1.8l2.4 1.7l2.4-1l2.4 0.7l2.4-1l2.4 0.7l2.4 0.8l2.4 0.8l2.4-3.4l2.4 0.7l2.4 0l2.4 2.1l2.4-2.4l2.4-0.1l2.4-1.4l2.4-0.2l2.4-1.2l2.4 0.1l2.4 0.6l2.4 2l2.4-0.5l2.4 2.2l2.4-1.4l2.4 1.2l2.4-2.1l2.4-0.3l2.4-2l2.4 0.8l2.4-0.5l2.4 1.8l2.4-0.4l2.4-0.1l2.4-2l2.4 0l2.4-1.4l2.4-0l2.4-0.9l2.4 2.5l2.4-0.6l2.4-0.1l2.4-2.1l2.4 0.1l2.4-1.7l2.4-0.6l2.4-3.5l2.4 0.8l2.4-1.4l2.4 0.6l2.4-1.5l2.4 0.3l2.4-2.1l2.4 0.7l2.4-1.3l2.4 0.1l2.4-2.7l2.4 0.7l2.4 0l2.4-0.5l2.4 0.1l2.4 1.8l2.4-0.6l2.4 2l2.4 0.5l2.4 2l2.4-2.4l2.4-0.2l2.4-2.9l2.4 0.4l2.4-2.9l2.4 0.4l2.4 1l2.4 3.6l2.4 4.3l2.4 3.7l0.6 1.7l1.8-0.1l2.4-3l2.4-0.2l2.4-1.7l2.4 2.6l2.4-0.2l2.4 1.8l1.3 0.8l1.1-0.9l2.4-5.2l1.5-1.4l0.9 1.4l2.4-0.4l2.4 1.6l2.4 1.1l2.4 1.6l2.4-3.3l2.4-0.2l2.4-1.8l2.4 2.3l2.4 1.7l2.4 1.8l2.4-0.5l2.4 1.2l2.4-2.1l2.4 0.5l2.4-1.2l2.4 0.4l2.4-2.2l2.4 0l2.4-2.6l2.4 2.8l2.4-0.5l2.4 0.1l2.4-1.7l2.4 1l2.4-1.3l2.4 1.8l2.4-0.7l2.4 2.1l2.4-1l2.4 2l2.4-0.9l2.4 2.1l2.4-0.7l2.4 0.5l2.4 1.7l2.4-0.1l2.4 1.9l2.4-1.2l2.4 1.9l2.4-0.6l2.4 0.5l2.4-0.2l2.4 0.4l2.4 1.7l2.4-1.1l2.4 0.6l2.4-0.5l2.4 1.6l2.4-1.3l2.4 1.4l2.4 0.1l2.4-1.9l2.4-0.1l2.4-0l2.4 1.2l2.4-1.3l2.4 1l2.4 0.4l2.4 0.2l2.4-1.4l2.4 0.9l2.4-1l2.4 1.6l2.4-1.2l2.4 1.1l2.4-0.9l2.4 1.1l2.4-1.2l2.4 0.8l2.4-0.5l2.4 0.9l2.4-0.9l2.4 1.3l2.4-0.4l2.4 1.4l2.4-1.4l2.4 1.8l2.4 0.4l2.4-1l2.4 1.2l2.4-0.7l2.4 0l2.4 1.9l2.4-1.5l2.4 1.1l2.4-0.8l2.4 1.1l2.4-1.6l2.4 1.6l2.4-0.4l2.4 0.9l2.4-0.5l2.4 0.7l2.4-0.3l2.4 0.8l2.4-0.7l2.4 0.7l2.4-1l2.4 0.2l2.4 1.4l2.4-0.6l2.4 0.7l2.4-0.6l2.4 1l2.4-1.2l2.4 2l2.4-1l2.4 0.2l2.4 1l2.4-0.7l2.4 1.3l2.4-1.4l2.4 1.6l2.4 0.2l2.4-1.2l2.4 1.5l2.4-0.8l2.4 1l2.4-1.5l2.4 1.4l2.4-1.3l2.4 0.4l2.4 1.1l2.4-1l2.4 1l2.4-1.2l2.4 1.3l2.4-1.3l2.4 1.3l2.4-0.9l2.4 1.3l2.4-1.2l2.4 1.6l2.4-1.6l2.4 1.3l2.4-0.7l2.4 1.7l2.4-1.7l2.4 1.3l2.4-1.5l2.4 1.1l2.4-0.9l2.4 0.6l2.4-0.9l2.4 0.9l2.4-1.2l2.4 1.6l2.4-1.6l2.4 1.3l2.4-1.3l2.4 1.1l2.4 0.3l2.4-0.5l2.4 1.1l2.4-0.6l2.4 1.4l2.4-0.6l2.4 1.1l2.4-0.9l2.4 0.4l2.4 0.6l2.4 1.6l2.4 0l2.4-1.2l2.4 1.4l2.4-0.2l2.4 0.8l2.4-0.5l2.4 1.8l2.4-1.3l2.4 1.2l2.4-0.6l2.4 2l2.4-0.6l2.4 1.3l2.4-0.1l2.4 1.3l2.4-1.1l2.4 1.6l2.4-0.7l2.4 0.6l2.4-0.6l2.4 1.2l2.4-1.5l2.4 1.7l2.4-1.2l2.4 1.1l2.4-0.9l2.4 1.8l2.4-1.2l2.4 0.4l2.4 0.9l2.4-1.2l2.4 0.1l2.4 1.6l2.4 0.4l2.4-1.4l2.4 1.7l2.4-1l2.4 1.4l2.4-0.9l2.4 1.2l2.4-1.5l2.4 0.7l2.4-1.4l2.4 1.7l2.4-1.8l2.4 0.9l2.4-0.7l2.4 0.5l2.4-1.3l2.4 1.3l2.4-1l2.4 1l2.4-1l2.4-0.1l2.4 1.1l2.4-1.3l2.4 1.4l2.4-1.1l2.4 1.2l2.4-1.4l2.4 1.2l2.4-1.1l2.4 0.9l2.4-1.3l2.4 0.8l2.4 1l2.4-1.5l2.4 1l2.4-0.8l2.4 1.4l2.4-1.2l2.4 1.8l2.4-1.3l2.4 1.5l2.4-1.5l2.4 1.5l2.4-1.1l2.4 0.2l2.4 1.4l2.4-1.1l2.4 1l2.4-1.1l2.4 1.2l2.4-1.5l2.4 1.9l2.4-1.4l2.4 1.3l2.4-1.5l2.4 0.9l2.4-0.4l2.4 0.9l2.4-1l2.4 0.5l2.4-0.7l2.4 0.9l2.4-0.3l2.4 1l2.4-1l2.4 1.4l2.4-1.6l2.4 1.1l2.4-0.6l2.4 1.5l2.4-1.2l2.4 1.6l2.4-0.6l2.4 1.4l2.4-1l2.4-1.1l2.4 0.3l2.4-1.3l2.4 0.7l2.4-1.2l2.4 0.5l2.4-1.5l2.4-0.1l2.4 0.9l2.4-0.9l2.4 0.6l2.4-1.5l2.4 0.8l2.4-2l2.4 0.3l2.4-0.3l2.4 1.2l2.4-1.1l2.4-2.4l2.4-0.7l2.4-2.3l2.4-0.2l2.4-0.8l2.4-1.8l2.4 0.4l2.4-1.9l2.4-0.5l2.4-0.6l2.4 2.1l2.4 3.2l0.6 2.3l1.8-0.8l2.4-3.6l2.4 0.3l2.4-1.8l2.4-0.4l2.4 3l2.4 2.3l2.4 2.5l2.4-0.9l2.4 1.1l2.4-0.9l2.4 4.2l2.4 1.3l2.4 3.2l2 1.8l0.4-1.3l2.4 0l2.4-1.6l2.4-1.9l2.4 0.7l2.4-1.1l2.4-0.6l2.4 0.7l2.4-1.4l2.4 0.2l2.4-1.9l2.4 1.6l2.4-1.3l2.4 2.6l2.4 0.6l2.4 1.8l2.4-0.7l2.4 1.4l2.4-1.6l2.4 1.5l2.4-1.5l2.4 0.6l2.4-1.7l1.3 0.4" fill="none" stroke="#16386a" stroke-width="2.3" stroke-linejoin="round"/>
<path d="M165.5 1529.4l2.4-2.6l2.4-0.3l2.4-0.4l2.4 1.7l2.4 0.6l2.4-1.6l2.4 1.4l2.4-1.5l2.4 0.5l2.4-1.5l2.4 0.4l2.4 0.2l2.4-2.1l2.4 0l2.4-4.1l2.4-1.6l2.4-4.2l2.4-1.1l2.4-3.6l2.4-3.1l2.4-7.5l0.3-0.2l2.1 11.3l0.4 3.7l2-3.4l2.4-0.9l2.4-2.1l2.4 0.2l2.4-1.9l2.4 0.2l2.4-0.1l2.4-1.1l2.4 1.7l2.4 0.5l2.4 0.8l2.4-0.7l2.4-4.9l2.4 0.1l2.4-1l2.4 1l2.4-0.2l2.4 1l2.4-2.4l2.4 0.9l2.4-1.9l2.4 0.8l2.4-2.2l2.4 0.4l2.4-2.7l1.7-0.9l0.7 1.7l2.4 0.8l1.9 2.5l0.5 0l2.4-3.1l2.4-1.4l2.4-2.5l2.4 0.3l2.4-0.9l2.4 1.5l2.4-0.3l2.4 1.9l2.4-0.9l2.4 0.8l0.5-0.4l1.9-5.1l1.9-3.7l0.5 1.8l2.4 5l0.8 2l1.6 0.8l2.4-1.1l2.4 0.3l2.4-1.7l2.4 1.2l2.4-0.7l1.4 1.2l1-1.5l2.4-6.9l2.4-0.8l2.4-1.7l2.4 3.4l2.4 0.3l2.4 0.6l2.4-1.9l2.4-0.1l2.4-2.3l2.4-0.5l2.4-2.8l2.4 2l2.4-0.5l2.4-3.4l2.4-1.1l0.5-1.5l1.9 9.3l0.6 1.9l1.8-1l2.4 0.4l2.4 0.3l2.4 2.4l2.4 3.8l2.4 2.3l1.2 3l1.2-1.5l2.4-0.4l1.4-1.8l1-2.9l2.4-5l2.4-5.9l2.4 1.9l2.4 2l1.9-0.1l0.5 3.3l2.4 10.9l0.9 4.5l1.5-1.7l2.4-5.6l2.4-3.6l2.4-2.1l0-0.7l2.4-9.8l2.4-11.2l0.2-0.2l2.2-0.6l2.4-1.9l2.4-0.3l2.4-1.1l2.4-1l2.4-0.6l2.4-2l2.4-0.2l2.4 0.7l1.1 2l1.3-1.4l2.4-4l1.3-0.9l1.1 1l2.4 1.2l2.4 3.3l2.4 0.7l2.4 4.1l2.4 2.5l1.9 3.5l0.5 0.2l2.4-2.2l2.4-0l2.4-1.4l2.4-0l2.4-4.6l2.4 1.3l2.4 1.8l2.4-0.5l2.4 2.2l0.4-0.6l2 4.9l2.4 7.8l0.6 1l1.8-0.6l2.4-0l2.4-1.2l2.4-1.6l2.4-1.1l2.4-3.9l2.4-2.3l2.4-0.8l2.4-4l2.4-0.1l2.4-1l2.4-1.2l2.4 3l2.4 0.8l2.4 3l2.4 0.9l2.4 3.4l1 0.5l1.4-4.6l1.1-2.9l1.3 1.2l2.4-0.7l2.4 2l2.4-0.6l2.4 2l2.4-0.5l2.4 0.3l2.4-2.6l2.4 0.5l2.4-0.7l2.4 2.3l2.4 1.2l2.4 3.6l2.4 0.1l2.4 2.6l2.4 0l2.4 1.3l2.4-0.4l2.4 1.7l2.4-1.8l2.4 1.8l2.4-0.9l2.4 0.7l2.4 0.9l2.4-2.3l2.4 0.5l2.4-1.7l2.4 1.1l2.4-1.2l2.4-1.2l2.4 0.6l2.4 0.3l2.4-0.8l2.4 0.9l2.4-1.1l2.4 1.4l2.4-1.2l2.4 1.5l2.4-0.4l2.4 1.8l2.4 0.5l2.4-1l2.4-0.6l2.4-1.3l2.4 1l2.4-1.3l2.4 0.5l2.4-0.5l2.4-1.4l2.4 1.2l2.4-1.3l2.4 1.4l2.4 0.4l2.4 2.8l2.4 2.8l2.4 4.3l2.4 6l1.9 6.8l0.5 0.7l2.4-1.1l2.4 0.2l2.4-1.6l2.4 1l2.4-1.8l2.4 0.4l2.4-2.7l2.4 0.2l2.4-2.4l2.4 0l2.4-1.6l2.4 0.6l2.4 0.6l2.4 2l2.4-1.1l2.4 1.1l2.4-2.1l2.4 0.6l2.4-1.7l2.4 0.3l2.4-0.6l2.4 2.2l2.4-0.7l2.4 1.7l2.4-0.5l2.4 2.6l2.4 0.6l2.4-0.8l2.4 1.2l2.4-0.7l2.4 1.2l2.4-0.5l2.4 1.1l2.4-0.7l2.4 0.8l2.4 0.9l2.4-1l2.4 1.3l2.4-0.4l2.4 3l2.4-0l2.4-0.1l2.4 2.3l2.4-1l2.4 0.9l2.4 1.7l2.4-0.1l2.4 1.1l2.4-0.3l2.4 1.8l2.4-0.8l2.4 1.9l2.4-0.4l2.4 2.3l2.4-0.2l2.4 2.3l2.4 0.3l2.4 1.1l2.4-1.2l2.4-0l2.4-1.2l2.4 0.2l2.4 0.1l2.4 1.4l2.4-0.1l2.4 1.3l2.4 0.5l2.4 1.9l2.4-0.9l2.4 1.8l2.4 0.4l2.4 1.7l2.4 0.1l2.4 0.1l2.4-1.6l2.4 0.3l2.4-1.8l2.4 1.5l2.4-0.6l2.4 1.2l2.4 1l2.4 0.1l2.4 1.5l2.4 0.7l2.4-1.8l2.4 0.8l2.4 1.4l2.4 0.4l2.4 0.7l2.4-0.7l2.4 1.5l2.4-1.6l2.4 3l2.4-0.3l2.4 2.6l2.4-0l2.4 1.8l2.4-0.9l2.4 1.4l2.4-1.3l2.4 1.7l2.4-0.7l2.4 1.4l2.4-1.3l2.4 1.8l2.4-1.3l2.4 0.6l2.4-1.2l2.4 1.5l2.4-1l2.4 0.2l2.4-0.9l2.4 0.6l2.4-1l2.4 1.1l2.4-0.9l2.4 2.3l2.4 0.7l2.4 2.3l2.4 1.2l2.4 1.9l2.4-0.8l2.4 2l2.4-0.4l2.4 2.7l2.4 0.1l2.4 2.7l2.4 0.4l2.4 2.6l2.4-0.5l2.4 1.8l2.4-0l2.4 1.6l2.4-0.9l2.4 1.6l2.4-0.7l2.4 2.1l2.4-0.4l2.4 1.3l2.4-1.8l2.4 0.6l2.4 2l2.4-0.8l2.4 2.3l2.4-2.3l2.4 1.3l2.4-0.7l2.4 1.2l2.4-0.5l2.4 2.1l2.4-0.9l2.4 1.5l2.4-0.9l2.4 1.2l2.4-0.5l2.4 1l2.4-1.7l2.4 0.5l2.4 0.8l2.4-1.3l2.4 0.9l2.4-0.1l2.4-0.9l2.4 1.6l2.4-0.8l2.4 0.9l2.4-0.8l2.4 1.3l2.4-1.4l2.4 1.6l2.4-1.6l2.4 0.5l2.4-1.1l2.4 0.6l2.4-0.2l2.4 0.8l2.4-0.9l2.4 1.6l2.4-0.4l2.4 1.5l2.4-1.1l2.4 0.5l2.4 0.9l2.4-0.5l2.4 2.4l2.4-0.5l2.4 2.2l2.4-0.2l2.4 1.1l2.4-1.7l2.4 1.3l2.4 0.7l2.4-1.7l2.4 0.7l2.4-1.8l2.4 0.8l2.4-0.9l2.4 1l2.4-1.3l2.4 1.7l2.4-0.1l2.4 1.7l2.4 1.6l2.4-2.6l2.4-0.5l2.4-2.2l2.4-0.2l2.4-1.1l2.4 0l2.4-1.7l2.4-0l2.4-2.3l2.4 0.8l2.4-0l2.4-0.8l2.4 0.3l2.4-1.4l2.4 1.6l2.4-0.9l2.4 2.3l2.4-0.6l2.4-0.1l2.4-1.8l2.4 1.2l2.4-1.9l2.4 1.6l2.4 0.3l2.4-2.3l2.4-0.6l2.4-1.9l2.4-1.3l2.4 3.5l2.4 2.6l2.4 3.4l1.8 3.9l0.6 0.2l2.4-3.8l2.4 0.1l2.4-1.9l2.4 0.7l2.4-1.6l2.4-0.5l2.4-0l2.4-2.2l2.4 0.7l2.4-1.3l2.4 1l2.4 3.4l2.4 1l2.4 2l2.4-2.4l2.4 0.1l2.4-1.6l2.4 0.5l2.4-1.5l2.4 1.8l2.4-1.8l2.4 0.5l2.4-3.6l2.4-0.7l2.4-3.5l2.4-0.4l2.4-2.4l2.4 0.2l2.4-2.1l2.4-0.1l2.4-0.1l2.4-1.9l2.4 0.6l2.4-2.4l2.4 0.9l2.4-1.3l1.3 0.4" fill="none" stroke="#000000" stroke-width="2.3" stroke-linejoin="round"/>
<path d="M165.5 1596.5l2.4 1.3l2.4-0.1l2.4-3.7l2.4-0.3l2.4-2.7l2.4-0l2.4-1.8l2.4 0.1l2.4-2.4l2.4-0.1l2.4 0.3l2.4-2.1l2.4-0.6l2.4-2.5l2.4-0.2l2.4-3.6l2.4-1.5l2.4-0.4l2.4-2.2l2.4-1.1l2.4-2.9l0.3 0l2.1 3.3l2.4 0.5l2.4 0.9l2.4-1.6l2.4 1.1l2.4-0.7l2.4 2.5l2.4 0.1l2.4 2.8l2.4 0.7l2.4 3l2.4 0l2.4-1.3l2.4-2.8l2.4 0.8l2.4-1.5l2.4-0.9l2.4 1.3l2.4 0l2.4 1.5l2.4-1.1l2.4 0.1l2.4-1.3l2.4-0.2l2.4-1.1l2.4-1.5l2.4 0.3l2.4-1.6l2.4-0.7l2.4-0.8l2.4-1l2.4 0.8l2.4-1.2l2.4-0l2.4-2.2l2.4-0.2l2.4-2.5l2.4-0.6l2.4 0.2l2.4 1l2.4 2.3l2.4-1.7l2.4 0.6l2.4-2.1l2.4-1.5l2.4 1.1l2.4-2l2.4-0.7l2.4 0.5l2.4-1.2l2.4-1.1l2.4 1.1l2.4-2.7l2.4 0l2.4-2l2.4 0.9l2.4-1.2l2.4 0.1l2.4-2.3l2.4 2.3l2.4-1.2l2.4 2.2l2.4-1l2.4 0.6l2.4-2l2.4-0.3l2.4-2.8l2.4-0.8l2.4-0.5l2.4 3.4l2.4 1.3l2.4 1.9l2.4-1l2.4-0.9l2.4-1.6l2.4-1.8l2.4 1l2.4-0.7l1.9 0.2l0.5 1.4l2.4 5.2l0.9 0.9l1.5-1.4l2.4 0.3l2.4-2.5l2.4-0.5l2.4-4.7l2.4-2.8l2.4-2.8l2.4-0.2l2.4-2.3l2.4 0.5l2.4-2.7l2.4-0.1l2.4-0.3l2.4-2.4l2.4-0.1l2.4-3.3l2.4-0.2l2.4-0.1l2.4 0.6l2.4 0.1l2.4-1.8l2.4 1.9l2.4-0.1l2.4 3.6l2.4 1.1l2.4 1.8l2.4-0.1l2.4-1.9l2.4-1.5l2.4-2.7l2.4 0.7l2.4-0.7l2.4 2.7l0.4-0.6l2 3.6l2.4 7.2l0.6 0.5l1.8-2.1l2.4-1.7l2.4-1.5l2.4-2.1l2.4 3.3l2.4 2.1l2.4 1.6l0.1 0.3l2.3-3.1l2.4-4.3l2.4-1.6l2.4-0.2l2.4-2.2l2.4 0.6l2.4 0l2.4-0.1l2.4 0.6l2.4-1.8l2.4 3l2.4-0.2l2.4 3.6l2.4 1.6l2.4 3l2.4-1.4l2.4-0l2.4-3.4l2.4-0.1l2.4-2.1l2.4 1.4l2.4-1l2.4 2.1l2.4-1.1l2.4 0.5l2.4-1.7l2.4 1.3l2.4-1.1l2.4 1.2l2.4 1.4l2.4-0.6l2.4 0.5l2.4 1.5l2.4-0.4l2.4-1l2.4-0.2l2.4 1.6l2.4 3.1l2.4 1.8l2.4 0.9l2.4 2.4l2.4 1l2.4 0.4l2.4-0.5l2.4 0.2l2.4 1.3l2.4-0.4l2.4-0.8l2.4 1.6l2.4-0.4l2.4 1.5l2.4-1.1l2.4-0.1l2.4 2l2.4-1.1l2.4 1.5l2.4-1.4l2.4 1.1l2.4-1.3l2.4 1.3l2.4-0.7l2.4 1.8l2.4-1.3l2.4 2.3l2.4-0.9l2.4 2.1l2.4 0l2.4 2.5l2.4-0.9l2.4 1.8l2.4-0.9l2.4 1.2l2.4-1l2.4 2.1l2.4-1.2l2.4 1.9l2.4-0.6l2.4 2.4l2.4-0.5l2.4 1.5l2.4 1.1l2.4 1.7l2.4-0.8l2.4 2.4l2.4-1.1l2.4 2.4l2.4-1.6l2.4 1.1l2.4-0.5l2.4 1.7l2.4-1.2l2.4 1l2.4-0.7l2.4 2l2.4-1.6l2.4 1.1l2.4-0.9l2.4 1.2l2.4-1.4l2.4 0.6l2.4 0.5l2.4-1l2.4 1.6l2.4-0.6l2.4 2l2.4-0.8l2.4 1.2l2.4-0.4l2.4 2.4l2.4-0.9l2.4 1.2l2.4-1.1l2.4 0.8l2.4-1l2.4 0.7l2.4-1l2.4 1l2.4-0.7l2.4 1.7l2.4-1.1l2.4 1.2l2.4-0.6l2.4 2.5l2.4 1.2l2.4 1.2l2.4 1.8l2.4-0.7l2.4 1.1l2.4-1.4l2.4 1.6l2.4-0.6l2.4 1.8l2.4-1.1l2.4 1.8l2.4-1.6l2.4 2l2.4-1l2.4-0l2.4-0.2l2.4 1.2l2.4-0.9l2.4 1.6l2.4-1.1l2.4 0.1l2.4 0.4l2.4-1.2l2.4 1.4l2.4-0.8l2.4 1.5l2.4-1l2.4-0.5l2.4 1.4l2.4-0.6l2.4 1l2.4-0.8l2.4 1.4l2.4-1.2l2.4 1.4l2.4-0.6l2.4 0.8l2.4-0.7l2.4 0.7l2.4-0.3l2.4 1l2.4-1.3l2.4 1.6l2.4-0.3l2.4 1.3l2.4-0.5l2.4 1.3l2.4-1.1l2.4 1.1l2.4-0.9l2.4 1.4l2.4-0.7l2.4 1.1l2.4-0.8l2.4 1.2l2.4-0.7l2.4 0.1l2.4 0.8l2.4 0l2.4 0.7l2.4-0.9l2.4 1.4l2.4-1.2l2.4 1.2l2.4-0.8l2.4 0.4l2.4-0.4l2.4 1l2.4-1.8l2.4 1.4l2.4-0.8l2.4 0.9l2.4-1.5l2.4 1.3l2.4-1l2.4 0.5l2.4-0.7l2.4 1.5l2.4-0.1l2.4 3.6l2.4 2.7l2.4-1.7l2.4 0.4l2.4 1.5l2.4-1.4l2.4 1.6l2.4-0.3l2.4-1.3l2.4 1.6l2.4-1l2.4 1.2l2.4-1.4l2.4 1.4l2.4-1.8l2.4 1.6l2.4-1.2l2.4 1l2.4-0.8l2.4 1.4l2.4-1.4l2.4-0l2.4 0l2.4 1.4l2.4-1.4l2.4 0l2.4 1.3l2.4-1.5l2.4 0.8l2.4-0.7l2.4 1.2l2.4-1.1l2.4-0.3l2.4 0.8l2.4-0.7l2.4 1.2l2.4-1.5l2.4 1.5l2.4-0.6l2.4 1.2l2.4-0.8l2.4 0.9l2.4-0.8l2.4 1.9l2.4-1.2l2.4 1.4l2.4-1l2.4 1.9l2.4-0.2l2.4-0.6l2.4 0.9l2.4-1.1l2.4 0.2l2.4 1.7l2.4-0.4l2.4 1.2l2.4-0.6l2.4 2l2.4-1.2l2.4 1.6l2.4-0.5l2.4 0.8l2.4 0.3l2.4-0.1l2.4-1.6l2.4 1.6l2.4-1l2.4 1.9l2.4-0.8l2.4 0.5l2.4-0.4l2.4 0.4l2.4-1l2.4-0.3l2.4 0.5l2.4-1.1l2.4 0.9l2.4-1.9l2.4 1.4l2.4-0.5l2.4-1.2l2.4 0.6l2.4-1.7l2.4 0.6l2.4-1l2.4 1.3l2.4-0.8l2.4 1.3l2.4-1.5l2.4 1.2l2.4-2l2.4 0.4l2.4-1.7l2.4 0.3l2.4-1.2l2.4 0l2.4-1.6l2.4 0.4l2.4-0.5l2.4 1.7l2.4 0.2l2.4 2.5l2.4-2.4l2.4 0.9l2.4-2.2l2.4 1.1l2.4-0.8l2.4 1.2l2.4-1.3l2.4 0.7l2.4-1.5l2.4 1.2l2.4 0.5l2.4 2.9l2.4 0.5l2.4 1.4l2.4-1.5l2.4 0.3l2.4-1.1l2.4 1.6l2.4-1.5l2.4 1.2l2.4-2.5l2.4 0l2.4-3.8l2.4-1.5l2.4-2.7l2.4 0.6l2.4-0.9l2.4 1.5l2.4-0.6l2.4-0l2.4-0.8l2.4 1.4l2.4-0l2.4 1.4l2.4-1.6l2.4 0.1l1.3-1" fill="none" stroke="#ff0000" stroke-width="2.3" stroke-linejoin="round"/>
<polyline points="272.5,1500.0 274.2,1495.9 275.8,1491.2 277.5,1487.5 278.8,1495.1 280.0,1505.0 281.9,1510.4 283.8,1515.0 285.6,1508.1 287.5,1502.5 289.2,1499.4 290.8,1497.3 292.5,1495.0 294.2,1494.5 295.8,1494.5 297.5,1492.5 299.2,1491.6 300.8,1492.0 302.5,1490.0 304.2,1492.8 305.8,1492.7 307.5,1495.0 309.4,1500.2 311.2,1507.5 313.1,1505.4 315.0,1505.0 316.7,1505.0 318.3,1503.6 320.0,1502.5 321.2,1512.3 322.5,1520.0 323.8,1518.6 325.0,1515.0 326.7,1512.0 328.3,1508.4 330.0,1505.0 331.7,1502.3 333.3,1500.5 335.0,1500.0 336.7,1501.6 338.3,1502.1 340.0,1502.5 341.7,1501.5 343.3,1499.3 345.0,1497.5 346.7,1499.6 348.3,1501.2 350.0,1502.5 351.7,1502.6 353.3,1499.9 355.0,1500.0 356.7,1501.7 358.3,1502.9 360.0,1505.0" fill="none" stroke="#808080" stroke-width="4.6" stroke-linejoin="round" stroke-linecap="round"/>
<path d="M272.5 1503.2h0M273.4 1499.3h0M274.3 1497.7h0M275.2 1496.6h0M276.1 1489.2h0M276.9 1490.0h0M277.7 1491.8h0M278.0 1494.1h0M278.4 1494.2h0M278.7 1493.5h0M279.1 1498.0h0M279.5 1505.2h0M279.8 1500.7h0M280.4 1504.7h0M281.3 1512.0h0M282.1 1510.3h0M283.0 1510.6h0M283.8 1513.3h0M284.5 1515.6h0M285.3 1508.7h0M286.0 1507.0h0M286.7 1506.3h0M287.4 1505.3h0M288.5 1501.0h0M289.7 1495.9h0M290.8 1498.1h0M292.0 1492.0h0M293.0 1491.5h0M294.2 1491.7h0M295.5 1495.1h0M296.7 1491.1h0M298.0 1493.8h0M299.2 1488.9h0M300.5 1487.9h0M301.7 1486.6h0M303.2 1492.4h0M304.5 1494.9h0M305.8 1491.1h0M307.1 1492.5h0M308.1 1493.0h0M308.8 1500.4h0M309.5 1500.0h0M310.2 1501.1h0M310.9 1507.5h0M311.6 1508.1h0M312.9 1506.0h0M314.2 1502.8h0M315.4 1505.9h0M316.6 1504.6h0M317.9 1503.0h0M319.1 1500.3h0M320.2 1507.5h0M320.6 1509.5h0M321.0 1510.7h0M321.3 1515.7h0M321.7 1514.9h0M322.0 1515.5h0M322.4 1516.3h0M323.2 1519.4h0M324.3 1516.6h0M325.3 1513.9h0M326.3 1516.3h0M327.3 1513.0h0M328.4 1505.2h0M329.4 1509.3h0M330.4 1500.7h0M331.7 1504.6h0M333.0 1500.6h0M334.3 1502.6h0M335.3 1503.8h0M336.6 1501.0h0M337.8 1503.5h0M339.1 1498.5h0M340.6 1503.2h0M341.9 1497.5h0M343.2 1498.9h0M344.5 1496.7h0M345.8 1494.9h0M347.1 1501.6h0M348.4 1497.7h0M349.8 1500.3h0M350.9 1498.7h0M352.2 1502.7h0M353.4 1499.2h0M354.7 1496.5h0M356.1 1497.3h0M357.4 1500.1h0M358.7 1503.7h0M360.0 1501.1h0" fill="none" stroke="#808080" stroke-width="2.8" stroke-linecap="round"/>
<polyline points="417.5,1492.5 419.2,1489.7 420.8,1488.2 422.5,1487.5 424.2,1486.4 425.8,1486.3 427.5,1485.0 429.2,1483.3 430.8,1482.4 432.5,1482.5 434.2,1481.9 435.8,1483.1 437.5,1482.5 439.2,1480.8 440.8,1481.4 442.5,1480.0 444.2,1480.4 445.8,1479.1 447.5,1480.0 449.2,1479.3 450.8,1478.2 452.5,1477.5 454.2,1476.5 455.8,1477.0 457.5,1475.0 459.2,1473.6 460.8,1473.0 462.5,1473.8 464.2,1476.1 465.8,1476.0 467.5,1477.5 469.2,1477.2 470.8,1477.9 472.5,1478.8 474.2,1478.8 475.8,1480.7 477.5,1480.0 478.8,1483.1 480.0,1487.5 481.2,1495.6 482.5,1505.0 483.8,1510.2 485.0,1515.0 486.2,1517.6 487.5,1520.0 488.8,1524.8 490.0,1527.5 491.2,1522.1 492.5,1515.0 493.8,1513.4 495.0,1512.5 496.9,1511.8 498.8,1512.5 500.0,1517.5 501.7,1511.6 503.3,1505.3 505.0,1497.5 506.7,1493.9 508.3,1493.1 510.0,1490.0 511.7,1489.2 513.3,1487.0 515.0,1485.0 516.7,1483.5 518.3,1484.0 520.0,1482.5 521.9,1480.6 523.8,1477.5 525.6,1485.5 527.5,1495.0 528.8,1494.1 530.0,1492.5 531.2,1498.1 532.5,1505.0 534.2,1504.7 535.8,1506.3 537.5,1507.5 539.2,1506.3 540.8,1505.6 542.5,1505.0 543.8,1500.4 545.0,1495.0 546.9,1484.6 548.8,1472.5 550.6,1469.9 552.5,1465.0 554.4,1462.4 556.2,1457.5 557.9,1458.3 559.6,1457.4 561.2,1456.2 562.5,1462.7 563.8,1470.0 565.0,1478.0 566.2,1487.5 567.5,1485.3 568.8,1482.5 570.6,1488.9 572.5,1495.0 573.8,1497.9 575.0,1500.0 576.7,1498.2 578.3,1497.6 580.0,1497.5 581.2,1497.3 582.5,1495.0 583.8,1482.7 585.0,1470.0 586.7,1472.1 588.3,1472.4 590.0,1475.0 591.7,1476.4 593.3,1479.3 595.0,1480.0 596.2,1477.9 597.5,1475.0 598.8,1483.7 600.0,1490.0 601.7,1485.1 603.3,1481.6 605.0,1477.5 606.7,1475.7 608.3,1472.4 610.0,1470.0 611.7,1469.9 613.3,1468.5 615.0,1467.5 616.7,1466.6 618.3,1466.5 620.0,1467.5 621.7,1471.2 623.3,1471.6 625.0,1475.0 626.7,1475.9 628.3,1477.9 630.0,1480.0 631.7,1478.4 633.3,1476.7 635.0,1473.8 636.7,1472.4 638.3,1471.2 640.0,1470.0 641.7,1470.3 643.3,1468.6 645.0,1468.8 646.7,1468.9 648.3,1469.9 650.0,1470.0 651.7,1470.7 653.3,1469.7 655.0,1471.2 656.7,1469.9 658.3,1469.5 660.0,1470.0 661.7,1471.4 663.3,1472.1 665.0,1472.5 666.7,1477.0 668.3,1479.8 670.0,1482.5 671.7,1482.7 673.3,1484.8 675.0,1485.0 676.7,1485.7 678.3,1483.8 680.0,1483.8 681.7,1481.3 683.3,1481.0 685.0,1480.0 686.7,1480.3 688.3,1480.9 690.0,1482.5 691.7,1480.6 693.3,1479.9 695.0,1480.0 696.7,1483.0 698.3,1483.1 700.0,1486.2 701.7,1488.6 703.3,1489.7 705.0,1492.5 706.7,1490.9 708.3,1491.6 710.0,1490.0 711.7,1488.7 713.3,1487.6 715.0,1487.5 716.7,1487.0 718.3,1487.1 720.0,1486.2 721.7,1485.9 723.3,1486.3 725.0,1485.0 726.7,1485.2 728.3,1485.9 730.0,1486.2 731.9,1488.6 733.8,1490.0" fill="none" stroke="#808080" stroke-width="4.6" stroke-linejoin="round" stroke-linecap="round"/>
<path d="M417.5 1489.8h0M418.8 1492.7h0M420.1 1491.0h0M421.4 1488.4h0M422.4 1485.3h0M423.6 1489.3h0M424.9 1488.8h0M426.1 1485.8h0M427.4 1485.1h0M428.7 1482.3h0M429.9 1479.8h0M431.2 1482.1h0M432.4 1483.2h0M433.5 1479.1h0M434.6 1484.9h0M435.7 1480.4h0M436.8 1480.4h0M438.1 1478.5h0M439.4 1485.5h0M440.6 1482.8h0M441.9 1483.3h0M442.9 1480.9h0M444.0 1476.3h0M445.1 1478.6h0M446.2 1480.0h0M447.3 1476.9h0M448.6 1483.1h0M449.8 1477.8h0M451.1 1475.4h0M452.3 1480.1h0M453.6 1474.0h0M454.8 1479.8h0M456.1 1475.3h0M457.3 1475.5h0M458.5 1473.5h0M459.6 1474.3h0M460.8 1471.7h0M461.9 1470.2h0M463.4 1477.3h0M464.7 1473.3h0M466.0 1478.6h0M467.3 1475.0h0M468.4 1481.5h0M469.6 1481.2h0M470.7 1480.3h0M471.9 1480.7h0M473.0 1479.5h0M474.2 1481.0h0M475.3 1476.4h0M476.5 1479.6h0M477.9 1483.9h0M478.7 1481.2h0M479.5 1489.3h0M480.1 1491.5h0M480.5 1490.3h0M480.9 1492.5h0M481.2 1495.7h0M481.6 1497.7h0M482.0 1505.1h0M482.3 1502.8h0M482.8 1502.4h0M483.4 1505.4h0M484.0 1512.8h0M484.6 1517.4h0M485.3 1515.6h0M486.4 1517.6h0M487.4 1520.2h0M488.2 1524.1h0M489.0 1522.2h0M489.7 1527.6h0M490.3 1526.3h0M490.8 1524.3h0M491.3 1518.3h0M491.8 1515.7h0M492.3 1514.6h0M493.2 1517.7h0M494.5 1511.8h0M495.4 1513.3h0M496.5 1511.0h0M497.6 1509.3h0M498.7 1509.0h0M499.4 1517.4h0M500.0 1519.6h0M500.6 1514.2h0M501.2 1514.3h0M501.8 1511.8h0M502.4 1511.1h0M503.0 1509.1h0M503.6 1502.3h0M504.2 1504.5h0M504.8 1501.9h0M505.8 1497.0h0M507.0 1497.6h0M508.2 1492.7h0M509.4 1490.0h0M510.5 1487.5h0M511.8 1491.2h0M513.1 1484.2h0M514.4 1482.1h0M515.5 1487.2h0M516.8 1486.3h0M518.0 1483.4h0M519.3 1485.6h0M520.8 1477.9h0M522.0 1477.9h0M523.2 1476.5h0M524.1 1478.5h0M524.6 1479.0h0M525.2 1480.6h0M525.7 1485.3h0M526.2 1492.2h0M526.8 1495.4h0M527.3 1496.0h0M528.1 1494.3h0M529.4 1491.1h0M530.3 1497.8h0M530.8 1496.8h0M531.3 1501.0h0M531.8 1497.8h0M532.3 1501.8h0M532.9 1507.9h0M534.2 1508.2h0M535.4 1509.5h0M536.7 1507.9h0M537.9 1506.7h0M539.2 1507.3h0M540.5 1508.8h0M541.7 1503.9h0M542.9 1503.7h0M543.5 1499.2h0M544.1 1500.7h0M544.7 1492.2h0M545.2 1495.1h0M545.7 1494.7h0M546.1 1484.7h0M546.5 1486.8h0M546.9 1484.7h0M547.3 1483.8h0M547.8 1479.1h0M548.2 1474.0h0M548.6 1472.7h0M549.4 1474.9h0M550.4 1472.5h0M551.4 1464.2h0M552.5 1461.9h0M553.5 1459.8h0M554.5 1457.2h0M555.5 1458.5h0M555.9 1454.7h0M557.0 1460.2h0M558.2 1458.3h0M559.3 1453.7h0M560.5 1456.8h0M561.6 1456.6h0M562.0 1460.4h0M562.5 1460.7h0M562.9 1462.8h0M563.4 1465.5h0M563.8 1469.6h0M564.2 1474.8h0M564.6 1476.0h0M564.9 1474.5h0M565.3 1482.4h0M565.6 1486.3h0M566.0 1488.0h0M566.5 1489.3h0M567.5 1481.0h0M568.6 1482.6h0M569.3 1481.0h0M570.1 1489.0h0M570.8 1486.6h0M571.5 1493.3h0M572.2 1492.0h0M573.0 1497.7h0M574.1 1496.7h0M574.4 1496.6h0M575.7 1498.8h0M576.9 1497.5h0M578.2 1501.6h0M579.4 1496.2h0M580.8 1496.7h0M582.2 1495.7h0M582.7 1496.5h0M583.0 1487.1h0M583.2 1488.6h0M583.5 1485.3h0M583.7 1484.5h0M584.0 1483.8h0M584.3 1476.0h0M584.5 1476.5h0M584.8 1472.5h0M584.6 1470.1h0M586.0 1467.5h0M587.3 1474.8h0M588.6 1477.4h0M589.9 1473.7h0M591.2 1474.7h0M592.5 1481.4h0M593.8 1475.7h0M595.3 1476.1h0M596.3 1474.0h0M597.3 1477.9h0M597.9 1479.2h0M598.3 1479.3h0M598.7 1483.2h0M599.1 1480.9h0M599.5 1488.4h0M600.0 1489.3h0M600.8 1488.1h0M601.7 1484.9h0M602.6 1482.8h0M603.5 1479.1h0M604.4 1475.5h0M605.2 1476.6h0M606.4 1473.4h0M607.6 1475.2h0M608.8 1474.4h0M610.0 1471.8h0M611.2 1469.0h0M612.5 1466.7h0M613.7 1467.2h0M615.0 1467.4h0M616.1 1468.6h0M617.2 1471.2h0M618.3 1464.2h0M619.4 1467.3h0M620.8 1468.7h0M622.0 1472.3h0M623.2 1475.4h0M624.4 1476.3h0M625.5 1476.5h0M626.8 1478.9h0M628.1 1479.5h0M629.5 1482.3h0M630.8 1480.6h0M632.0 1478.9h0M633.3 1473.8h0M634.6 1477.6h0M635.7 1472.3h0M637.1 1473.1h0M638.4 1473.8h0M639.7 1474.0h0M640.8 1473.7h0M641.9 1465.6h0M643.1 1467.7h0M644.2 1467.4h0M645.4 1468.0h0M646.5 1466.3h0M647.7 1469.8h0M648.8 1466.3h0M650.0 1468.4h0M651.1 1473.8h0M652.3 1472.5h0M653.4 1470.6h0M654.6 1468.0h0M655.7 1474.7h0M656.9 1472.4h0M658.1 1468.1h0M659.2 1468.9h0M660.5 1471.4h0M661.8 1472.3h0M663.0 1469.6h0M664.3 1475.7h0M665.7 1472.4h0M666.7 1473.9h0M667.7 1480.7h0M668.8 1477.2h0M669.8 1483.5h0M670.8 1480.5h0M672.1 1484.3h0M673.3 1482.4h0M674.6 1483.8h0M675.7 1488.4h0M676.8 1484.3h0M678.0 1483.7h0M679.1 1484.9h0M680.6 1481.5h0M681.9 1479.7h0M683.2 1480.4h0M684.5 1478.5h0M685.7 1477.9h0M687.0 1484.7h0M688.2 1477.9h0M689.5 1484.7h0M690.8 1485.6h0M692.0 1483.1h0M693.3 1477.0h0M694.5 1480.3h0M695.9 1477.5h0M697.2 1483.6h0M698.4 1485.9h0M699.7 1483.8h0M700.9 1483.5h0M702.2 1489.4h0M703.5 1487.3h0M704.7 1490.6h0M705.9 1491.7h0M707.1 1494.6h0M708.4 1489.8h0M709.6 1487.3h0M710.9 1491.9h0M712.1 1491.5h0M713.4 1488.6h0M714.6 1484.1h0M715.7 1484.8h0M716.9 1486.2h0M718.0 1487.2h0M719.2 1484.3h0M720.4 1488.6h0M721.5 1488.6h0M722.7 1489.0h0M723.8 1488.4h0M725.0 1481.1h0M726.1 1485.9h0M727.3 1482.2h0M728.4 1489.1h0M729.6 1488.1h0M731.0 1489.3h0M732.3 1486.1h0M733.6 1486.3h0" fill="none" stroke="#808080" stroke-width="2.8" stroke-linecap="round"/>
<polyline points="750.0,1495.0 751.2,1492.7 752.5,1492.5 754.0,1491.1 755.5,1490.5 757.0,1491.2 758.5,1489.5 760.0,1488.8 761.7,1489.7 763.3,1488.6 765.0,1490.0 766.7,1490.9 768.3,1492.5 770.0,1492.5 771.7,1493.4 773.3,1495.2 775.0,1495.0 776.7,1497.2 778.3,1497.2 780.0,1498.8 781.7,1498.0 783.3,1500.2 785.0,1500.0 786.7,1499.5 788.3,1499.7 790.0,1501.2 791.7,1502.2 793.3,1502.9 795.0,1502.5 796.7,1503.3 798.3,1503.6 800.0,1502.5 801.7,1502.2 803.3,1502.3 805.0,1503.8 806.7,1502.8 808.3,1504.9 810.0,1503.8 811.7,1502.8 813.3,1502.9 815.0,1503.8 816.7,1503.0 818.3,1503.5 820.0,1505.0 821.7,1504.3 823.3,1505.5 825.0,1506.2 826.7,1505.9 828.3,1506.6 830.0,1507.5 831.7,1508.9 833.3,1507.5 835.0,1508.8 836.7,1509.5 838.3,1509.3 840.0,1508.8 841.7,1509.3 843.3,1509.8 845.0,1510.0 846.9,1511.6 848.8,1512.0 850.0,1512.5 851.7,1512.7 853.3,1511.9 855.0,1512.5 856.7,1512.5 858.3,1512.7 860.0,1513.8 861.7,1513.9 863.3,1515.8 865.0,1515.0 866.7,1515.7 868.3,1515.6 870.0,1517.5 871.2,1518.7 872.5,1520.0 873.8,1520.1 875.0,1518.8 876.2,1516.7 877.5,1515.0 878.8,1514.9 880.0,1513.8 881.7,1514.0 883.3,1515.2 885.0,1517.5 886.7,1518.3 888.3,1517.2 890.0,1518.8 891.7,1519.1 893.3,1520.1 895.0,1521.2 896.7,1521.8 898.3,1522.6 900.0,1525.0 901.2,1526.3 902.5,1530.0 903.8,1534.8 905.0,1537.5 906.2,1537.3 907.5,1536.2 908.8,1533.8" fill="none" stroke="#808080" stroke-width="4.6" stroke-linejoin="round" stroke-linecap="round"/>
<path d="M750.0 1498.7h0M751.3 1490.8h0M752.2 1488.8h0M753.5 1496.0h0M754.7 1488.8h0M756.0 1487.7h0M757.3 1491.3h0M758.5 1488.3h0M759.8 1492.0h0M760.9 1486.8h0M762.0 1492.9h0M763.2 1488.1h0M764.3 1490.6h0M765.7 1493.8h0M766.9 1492.4h0M768.2 1495.0h0M769.4 1493.9h0M770.7 1489.2h0M771.9 1496.5h0M773.2 1494.8h0M774.4 1493.2h0M775.8 1493.1h0M777.1 1499.4h0M778.4 1498.2h0M779.7 1502.0h0M780.8 1501.1h0M782.0 1502.9h0M783.1 1500.1h0M784.3 1501.4h0M785.4 1501.0h0M786.6 1498.5h0M787.7 1504.3h0M788.9 1499.5h0M790.0 1503.5h0M791.2 1505.2h0M792.3 1503.0h0M793.5 1499.3h0M794.7 1505.0h0M795.7 1503.8h0M796.8 1500.0h0M797.9 1498.9h0M799.0 1502.8h0M800.2 1498.8h0M801.4 1506.2h0M802.5 1503.2h0M803.7 1503.6h0M804.8 1503.0h0M805.9 1505.0h0M807.0 1507.1h0M808.1 1502.2h0M809.2 1502.7h0M810.3 1504.4h0M811.4 1502.1h0M812.5 1504.5h0M813.6 1504.1h0M814.7 1503.2h0M815.9 1505.4h0M817.0 1504.5h0M818.2 1501.3h0M819.3 1508.8h0M820.5 1504.0h0M821.7 1504.9h0M822.8 1504.9h0M824.0 1509.4h0M825.1 1509.9h0M826.3 1506.7h0M827.4 1506.1h0M828.6 1503.9h0M829.7 1510.6h0M830.9 1505.1h0M832.0 1508.4h0M833.2 1507.1h0M834.3 1507.2h0M835.4 1507.6h0M836.5 1506.3h0M837.6 1505.0h0M838.7 1509.0h0M839.8 1511.1h0M841.0 1510.2h0M842.1 1506.9h0M843.3 1511.1h0M844.4 1506.3h0M845.7 1509.7h0M847.0 1513.7h0M848.3 1515.1h0M849.5 1512.0h0M850.5 1515.3h0M851.6 1512.5h0M852.7 1512.7h0M853.8 1513.2h0M854.9 1516.4h0M856.1 1514.7h0M857.2 1512.8h0M858.4 1515.2h0M859.5 1514.8h0M860.7 1512.8h0M861.8 1516.5h0M863.0 1517.1h0M864.1 1515.7h0M865.5 1518.8h0M866.7 1512.0h0M868.0 1516.5h0M869.2 1518.2h0M870.7 1516.9h0M872.0 1516.9h0M873.1 1521.2h0M874.4 1518.5h0M875.8 1515.7h0M877.0 1512.1h0M877.9 1518.5h0M879.2 1513.0h0M880.6 1511.1h0M881.9 1512.9h0M883.2 1514.2h0M884.5 1520.1h0M885.6 1515.1h0M886.7 1516.1h0M887.9 1515.0h0M889.0 1518.3h0M890.3 1516.6h0M891.6 1518.3h0M892.8 1522.1h0M894.1 1524.2h0M895.5 1524.3h0M896.8 1518.9h0M898.1 1522.6h0M899.4 1527.4h0M900.7 1522.7h0M901.7 1526.1h0M902.7 1530.6h0M903.5 1532.1h0M904.3 1537.4h0M904.2 1539.6h0M905.5 1537.0h0M906.8 1534.6h0M908.2 1532.8h0" fill="none" stroke="#808080" stroke-width="2.8" stroke-linecap="round"/>
<line x1="139" y1="1928.2" x2="1389" y2="1928.2" stroke="#1a2330" stroke-width="1.7" stroke-dasharray="5.3,2.4"/>
<path d="M166.2 1767.5l2.5-1.6l2.4 2.9l2.3-1l0.3 1.8l2.2 11.8l0.3 1.9l2.1-8.5l0.4-4l2-2l0.6 0.8l1.8 6.9l0.7 1.8l1.6 0.5l2.4 2.7l2.4-1.6l2.5-3.3l2.4-1.1l2.3-4.1l2.4-0.8l2.4-3.2l2.5 0.8l2.4-4.1l2.3 2l2.4-2.3l2.4-2.9l2.5 4.2l2.4-1.2l2.3 3l2.4-2.3l2.4 2.5l2.5-1l2.4 3.8l2.3-0.7l0.3 1.6l2.2 9.4l0.3 0.6l2.1-2.2l2.3 2.5l2.5 1.2l2.3 6.7l2.4 0.2l2.4 2.6l2.4-2.8l2.5 1.7l2.3-2.8l2.5 1.6l2.4-0.8l2.3-4.2l2.4-0.4l2.4 1l2.5-1.6l2.4 1.1l2.3-0.9l2.4 3.9l2.4 0.2l2.5 4.7l2.4-0.7l2.3-1l2.4 2.6l2.4-2.6l2.5 0.1l2.4-1.6l2.3 1.4l2.4-2.3l2.4 1.5l2.5 0.5l0.9 1.6l1.4 6.1l2.3 6.5l0.1-1.6l2.4-5.2l1.2-4.5l1.2 2.2l2.5 7.9l0.1-1.4l2.2-2.8l2.4-0.2l2.4-2.8l2.4 1.2l2.5-2.1l2.4 3.8l2.3-2.2l2.4 3.5l2.4-2.2l2.5 2.6l2.4-2.2l2.3 2.6l2.4-0.9l2.4 3.2l2.5-2.2l2.4 1.9l2.3 1.9l2.4-1.6l2.4 0.2l2.5 5.5l0.9 0.3l1.4-5.1l2.3-6.1l0.1 0.9l2.4-2.6l2.4-0l2.5-2.2l2.4-0.1l2.3 0.5l2.4-2.2l2.4 2.1l2.5-2.2l2.4 0.2l2.3 3.1l2.4-1.4l2.4 2.6l2.5-2.8l2.4 2.4l2.3-2.2l2.4 4.1l2.4-0l2.5-1l2.4 3l2.3-1.5l2.4 4.2l2.4-2.8l2.4 1.3l2.4 0.4l2.4 0.7l2.4 3.8l2.4-1.2l2.4 4.8l2.4-0.1l2.4 0.8l2.4-0.8l0.5-0.5l1.9 3.7l2.4 6.5l0.7 1l1.8 1l2.3-2.4l2.4-2.3l2.4-0.4l2.4-5.5l2.4-1.7l2.4-7.1l2.4-2.8l1.5-5l0.9 0.2l2.4 3.5l2.4 0.9l2.4 8.6l2.4 3.3l2 4.7l0.4-0l2.4-4.7l2.4 0.8l2.4-5.6l2.4 0.3l2.4 0l2.4 1.3l2.4 1.2l2.4-3.3l2.4 0.6l2.4-1.6l2.4-0l2.4-2l2.4 4.4l2.4-1.1l2.5 5.5l2.3 4.9l1.2 3.5l1.2 1.9l2.4-1.8l2.4 2l2.5 0l2.3-4.7l2.5 0.1l2.4-4.7l2.3-1.5l2.5 1.2l2.3-1.3l2.5 3.3l2.4-1.9l2.3 1.3l2.5 2.6l2.3-1l2.5 1.8l2.4-0.3l2.3 1.3l2.5 0.1l2.3 0.9l2.5-0.9l2.4 0.6l2.3-0.7l2.5 0.9l2.3-1l2.5 0.8l2.4-0.6l2.3 0.5l2.5-1.3l2.3 0.6l2.5-1.5l2.4 0.1l2.3-1.4l2.5 0.9l2.3-0l2.5-1l2.4-0.2l2.3 0.9l2.5-0.2l2.3 1l2.5-1.1l2.4 0.9l2.3-0.6l2.5 0.4l2.3-0.6l2.5 1.1l2.4-0.3l2.3-1.5l2.5 0.9l2.3-0.3l2.5-0.9l2.4 0.4l2.3-0.4l2.5 0.5l2.3-0.6l2.5 0.9l2.4-0.8l2.3 0.3l2.5-0.6l2.3 0.8l2.5-0.6l2.4 0.3l2.3-1.1l2.5-0.2l2.4 0.7l2.4-1.7l2.4 0.2l2.3-1.2l2.4 0.9l2.5-1.6l2.4 1l2.4-1.2l2.3 0.7l2.4-0.7l2.5 0.2l2.4-0.8l2.4 0.3l2.3-1.1l2.4 0.7l2.5-0.8l2.4 0.5l2.4-0.9l2.3-0.1l2.4 1.3l2.5-1.1l2.4 0.7l2.4-0.6l2.3 0.5l2.4-0.8l2.5 0.6l2.4-1.5l2.4-0.2l2.3 0.6l2.4-1.2l2.5 0.7l2.4-1.4l2.4 1.2l2.3-1.2l2.4 0.9l2.5-0.8l2.4 0.3l2.4 0.6l2.3-1l2.4 0.4l2.5-1l2.4 0.9l2.4-0.9l2.3 0.5l2.4-1.1l2.5 0.2l2.4-0.7l2.4 0.6l2.3-1.3l2.4 1.1l2.5-1.1l2.4 0.9l2.4-1l2.3 0.8l2.4-0.8l2.5 1.4l2.4-0.7l2.4 1l2.3-0.8l2.4 0.4l2.5 0.4l2.4-1.1l2.4 0.9l2.3-0.7l2.4 0.3l2.5-0.8l2.4 0.5l2.4-0.8l2.3 0.8l2.4-0.3l2.5 1l2.4-0.2l2.4-0.5l2.3 0.6l2.4 1.1l2.5-0.5l2.4 1.2l2.4 0.1l2.3 0.5l2.4-1.2l2.5 0.8l2.4-0.8l2.4 0.6l2.3-1.1l2.4 0.7l2.5-1.6l2.4 0.6l2.4-0.3l2.3-0.8l2.4-0.3l2.5-1.6l2.4-0.4l2.4-1.1l2.3-1.6l2.4-0.4l2.5-1.3l2.4-0.1l2.4 0.7l2.3-1.3l2.4 0.7l2.5-1.3l2.4 0.4l2.4-0.8l2.3-0.1l2.4-1.6l2.5 0.5l2.4-1.6l2.4 0.7l2.3-1.5l2.4 1l2.5-1.1l2.4 0.4l2.4-1.2l2.3 0.5l2.4-0.9l2.5 0.4l2.4-0.4l2.4-1.3l2.3 0.4l2.4-1l2.5 0.4l2.4-1l2.4 0.6l2.3-1.1l2.4 0.5l2.5-1.3l2.4 0.5l2.4-0.8l2.3-0.6l2.4 0.8l2.5-1l2.4 0.3l2.4-0.7l2.3 0.4l2.4-1.2l2.5 0.7l2.4-0.8l2.4 0.8l2.3-1.1l2.4 0.9l2.5-1l2.4 1l2.4-1.3l2.3 0l2.4-0l2.4 0.9l2.5-1.3l2.4 1.1l2.3-0.9l2.4-0l2.4 1l2.5-0.9l2.4 0.7l2.3-1.1l2.4 0.9l2.4-0.4l2.5 0.5l2.4-0.5l2.3 0.8l2.4-0.5l2.4 0.9l2.5-1.4l2.4-0.7l2.3-1.5l2.4-1l2.4 0.8l2.5-1.2l2.4 1.2l2.3-0.8l2.4 0.8l2.4-1l2.5 0.8l2.4-0.8l2.3 1.1l2.4-0.9l2.4 0.8l2.5-0.7l2.4 0.8l2.3-1.1l2.4 1.5l2.4-0.6l2.5 1.3l2.4 0.4l2.3-0.2l2.4 1.4l2.4-0.6l2.5 1.3l2.4-1.2l2.3 0.5l2.4-1.2l2.4-0.5l2.5 0.4l2.4-1.3l2.3 0.1l2.4-1.2l2.4 0.7l2.5-0.5l2.4 0.4l2.3-0.5l2.4 1l2.4-0.7l2.5 1.4l2.4-0.8l2.3 1.3l2.4-0.9l2.4 0.9l2.5-0.8l2.4 0.7l2.3 0.4l2.4 0.3l2.4-0.6l2.5 0.9l2.4-0.8l2.3-1.5l2.5 0.2l2.3-1.2l2.5 0.4l2.3-1.3l2.5-0.3l2.4-2.2l2.3-0.9l2.5-2.4l2.3 0.3l2.5 0.6l2.4 0.7l2.3 2.6l2.5 0.6l1.7 1.1l0.6-0.7l2.5-4l2.4-3.6l2.3 0.5l2.2-1l0.2-0.1l2.4 5.1l2.4 3.8l0-0.4l2.5-2.4l2.3-3.7l2.5 0.3l2.3 1.5l2.5-2.9l2.4-1.6l2.3-2.1l2.5-0.4l2.3-0.6l2.5 2.2l2.4-0.6l2.3 0.2l2.5-0.4l2.3 1.8l2.5-0.6l2.4-1.5l2.3-2l2.5 0.4l2.3-1.2l2.5 0.9l2.4-0.5l2.3 1.6l2.2 0.8l0.2 0.9l2.4 11l1.2 4.3l1.2-3l2.5-7l0 0l2.3-0.4l2.5-1.4l2.3 2.8l2.5 1.8l0.4 1l2-3.2l2.3-4.6l0.7-1l1.8 1.1l2.3 0.3l2.5 0.5l2.4-1.9l0.5 0" fill="none" stroke="#92161b" stroke-width="2.3" stroke-linejoin="round"/>
<path d="M166.2 1764.7l2.5 3l2.4-0.6l2.3 4.2l0.3-1l2.2 10.3l0.3 3.4l2.1-9l0.4-3.5l2-2.4l0.6 1.2l1.8 5.1l0.7 3.6l1.6 1.6l2.4 0.1l2.4 0.1l2.5-4.9l2.4 0.5l2.3-3.9l2.4-1.3l2.4-4.2l2.5 0.9l2.4-3.3l2.3-1.3l2.4 2.3l2.4-1.1l2.5-1.3l2.4 3.2l2.3-2.1l2.4 3.9l2.4 0.1l2.5-1.6l2.4 3.6l2.3 0.4l0.3 0.8l2.2 10.2l0.3-0.2l2.1-2.5l2.3 3l2.5-0l2.3 7l2.4 0.7l2.4 1.3l2.4-1.9l2.5 2.6l2.3-3.4l2.5 1.4l2.4-0.7l2.3-1.7l2.4 0.1l2.4-2.9l2.5 1.7l2.4-3.8l2.3 4.3l2.4-0.4l2.4 3.8l2.5 1.6l2.4 3.9l2.3-2.9l2.4 1.1l2.4-2.4l2.5 0.2l2.4-2.4l2.3 2.6l2.4-4l2.4 2.7l2.5-0l0.9 2.2l1.4 5.5l2.3 7l0.1-2.1l2.4-4.3l1.2-4.8l1.2 1.7l2.5 8.5l0.1-1.5l2.2-3.5l2.4-0.8l2.4-1.7l2.4 0.3l2.5-0l2.4 2.7l2.3-2.2l2.4 3.5l2.4-2l2.5 2.8l2.4-1.9l2.3 2.4l2.4-0.9l2.4 1.4l2.5-0.5l2.4 1.8l2.3-0.6l2.4 2.3l2.4-1.3l2.5 6.3l0.9-0.5l1.4-5.5l2.3-5.8l0.1 1.1l2.4-3.3l2.4 0.3l2.5-2.8l2.4 2.1l2.3-2.4l2.4 0.4l2.4-0.8l2.5 2l2.4-1.5l2.3 1.9l2.4-1l2.4 1.6l2.5-1l2.4 2.4l2.3-2.4l2.4 2.8l2.4-1.3l2.5 2l2.4-1.2l2.3 5.3l2.4-0.9l2.4 1.3l2.4-2.9l2.4 3.9l2.4 0l2.4 3l2.4-1.7l2.4 4.3l2.4 0.4l2.4 1.7l2.4-3.5l0.5 1.5l1.9 5.2l2.4 5.5l0.7 0.5l1.8-1.3l2.3-2.1l2.4 0.9l2.4-3.3l2.4-0.9l2.4-6.3l2.4-2.8l2.4-7.6l1.5-2.8l0.9 2.1l2.4-1.4l2.4 6.7l2.4 3.2l2.4 7.9l2 2.7l0.4-1.4l2.4-0.2l2.4-2.5l2.4-4.5l2.4 0.4l2.4-1.2l2.4 3.4l2.4-3.6l2.4 2.2l2.4-3.2l2.4 0.4l2.4 0.4l2.4-4l2.4 5l2.4-1.4l2.2 2.7l0.2 0.2l2.4 7l1.2 4l1.2 1.6l2.4-2.2l2.4 2.9l2.5-2.6l2.3 0.3l2.5-5.9l2.4-0.5l2.3-3.7l2 0.2l0.5 2.1l2.3 0.3l2.5 3.3l2.4-1.1l2.3 1.9l2.5-2.4l2.3 3l2.5-0.3l2.4 1.9l2.3-0.9l2.5-0.1l2.3-1.4l2.5 0.5l2.4-1.4l2.3 0.3l2.5-1.5l2.3 0.4l2.5-1.4l2.4 1l2.3-1.4l2.5 0.5l2.3-1.5l2.5-0.6l2.4 0.2l2.3-0.7l2.5 0.6l2.3-1.6l2.5 0.6l2.4-0.5l2.3 0.3l2.5-0.7l2.3-0.3l2.5 0.9l2.4-0.9l2.3 0.3l2.5-0.5l2.3 0.7l2.5-1.4l2.4 1l2.3 0.5l2.5-1.2l2.3-0.2l2.5-0.2l2.4 1.1l2.3-0.9l2.5 0.3l2.3 0.1l2.5 0.5l2.4-0.6l2.3 0.7l2.5-0.7l2.3 1l2.5-1l2.4 0.6l2.3-0.7l2.5 0.6l2.4-1.1l2.4 0.1l2.4-0.9l2.3 0.3l2.4-1l2.5 0.5l2.4-0.8l2.4 0.4l2.3-1.4l2.4 0.7l2.5-0.2l2.4-1.2l2.4 0.5l2.3-0.8l2.4-0.2l2.5 1l2.4-1.4l2.4 0.5l2.3-0.6l2.4 0.8l2.5-1.5l2.4 0.6l2.4-0.7l2.3 0.1l2.4-0.8l2.5 0.1l2.4-0.6l2.4 0.1l2.3-0.6l2.4 0.3l2.5-0.6l2.4 0.4l2.4 0.8l2.3-0.9l2.4 0.1l2.5-0.7l2.4 0.4l2.4-1.3l2.3 0.8l2.4-1.1l2.5-0.3l2.4 0.2l2.4-1l2.3 0.6l2.4-1.2l2.5 0.6l2.4-0.4l2.4-1.3l2.3 0.6l2.4-0.9l2.5 0.4l2.4-1.2l2.4 0.9l2.3-1l2.4 0l2.5 0.6l2.4-0.8l2.4 0.7l2.3-1l2.4 0.9l2.5-1l2.4 0.8l2.4-0.8l2.3 0.8l2.4-1.2l2.5 0.8l2.4-1.3l2.4 0.8l2.3-0.8l2.4 0.9l2.5-1.4l2.4 2l2.4-1.2l2.3 0.5l2.4-0.9l2.5 0.1l2.4-0.7l2.4 0.7l2.3-0.9l2.4 1.1l2.5-0.4l2.4 1.7l2.4-0.9l2.3 0.3l2.4-0.2l2.5-1l2.4 0.2l2.4-1.1l2.3 0.4l2.4-1.1l2.5 0.2l2.4-1.2l2.4-0.4l2.3-0.4l2.4 0.3l2.5-0.8l2.4-1.6l2.4 0.8l2.3-0.4l2.4 0.3l2.5-0.5l2.4 0.5l2.4-1.7l2.3 0l2.4-1.2l2.5 0.2l2.4-1.7l2.4-0.4l2.3-1.4l2.4 0.2l2.5-0.9l2.4 1l2.4-0.6l2.3 0.2l2.4-0.8l2.5 0.4l2.4-1.4l2.4 0.9l2.3-1l2.4 0.7l2.5-0.6l2.4 1.1l2.4-1.6l2.3-0.5l2.4-0.1l2.5-1.5l2.4-0.4l2.4 0.7l2.3-0.1l2.4-1.4l2.5 0.9l2.4-0.8l2.4 1l2.3-0.7l2.4 0.6l2.5-1.3l2.4 0.3l2.4-1.2l2.3 1.1l2.4-1.1l2.5 0.7l2.4-0.4l2.4 0.5l2.3-1.1l2.4 0.8l2.4-1l2.5 0.5l2.4-0.8l2.3-0.2l2.4 0.7l2.4-1l2.5 0.7l2.4-1.1l2.3 0.5l2.4-1.2l2.4 0.5l2.5-1l2.4 0.3l2.3-1.3l2.4 0.5l2.4 0.7l2.5-1l2.4 0.7l2.3-0.1l2.4 2l2.4 0.1l2.5 1.7l2.4-0.4l2.3 1.6l2.4-0.7l2.4 0.6l2.5-1.1l2.4-0.3l2.3 0.6l2.4-1.2l2.4 0.4l2.5-1.2l2.4 0.6l2.3-1.3l2.4 1l2.4-1.3l2.5 0.6l2.4-0.9l2.3 0.9l2.4-0l2.4 0.9l2.5-0.7l2.4 0.1l2.3-0.8l2.4 0.2l2.4-0.6l2.5 0.4l2.4-1.2l2.3 0.7l2.4-1.4l2.4 0.4l2.5-0.8l2.4 0.5l2.3-1.4l2.4 0.2l2.4-1.3l2.5 0.9l2.4-0.5l2.3-0.6l2.4 0.4l2.4-0.8l2.5 0.5l2.4-0.8l2.3 0.3l2.4-0.9l2.4 0.1l2.5 0.8l2.4-0.4l2.3 0.7l2.5-0.8l2.3 0.9l2.5-1.3l2.3-0.3l2.5-0.9l2.4 0.1l2.3-0.9l2.5-1.6l2.3-0.3l2.5-1l2.4 0.7l2.3 0.1l2.5-1.2l2.3 0.3l2.5-1l2.4 0.1l2.3-0.4l2.5 1.5l2.3 1.1l2.5 0.6l2.4-1.4l2.3-0.5l2.5-2.4l2.3-0.5l2.5 0.6l2.4-0l2.3 1.5l2.5-0.7l2.3 0.5l2.5-1.4l2.4 0.3l2.3-1.1l2.5 1.2l2.3-0.5l2.5 1.2l2.4 0.1l2.3-0.9l2.5 0.9l2.3-0.8l2.5-0.4l2.4 0.9l2-0.3l0.3 0.4l2.5 5.4l2.3 3.8l1.2 2.8l1.2-1l2.5-4.2l2.3 0.9l2.5-0.8l2.3 0.5l2.5-0.9l2.4-0.2l2.3-2.1l2.5 0.5l2.3-1.4l2.5 0.9l2.4-0.2l0.5 0.5" fill="none" stroke="#16386a" stroke-width="2.3" stroke-linejoin="round"/>
<path d="M166.2 1769.9l2.5-2.8l2.4 1.2l2.3-2.4l0.3 1.6l2.2 11.2l0.3 1.3l2.1-3.4l2.3-8.9l0.7-0.2l1.8 2l2.3-1.8l2.4 2.8l2.4-0.6l2.5 2.5l1.1 0.1l1.2 0.9l2.4-4.3l2.4 2.3l2.4-4.4l2.5 1.2l2.4-3.4l2.3 2.1l2.4-3.4l1.9 0.2l0.6 1l2.3-1.5l2.5 0.1l2.3 1l2.4 3.6l2.4-2.2l2.5 2.4l2.4-0.8l2.3 3l2.4 2.1l2.4 0.3l2.4 5l2.5 3.9l2.3 0.8l2.4 3.8l2.4-3.2l2.4 1.7l2.5-1.3l2.3 0.7l2.5-2.1l2.4 1.6l2.3-4.1l2.4 2.3l2.4-3l2.5 1.3l2.4-4.5l1.9 0.7l0.4 1.6l2.4 2.3l2.4 5.3l2.5-1.3l2.4 2.7l2.3-1.9l2.4 0.9l2.4-3.5l2.5 1.8l2.4-3.7l2.3 1.2l2.4-1.1l2.4 3.6l2.5 1.8l2.1 4l0.2 0.9l2.4-1.5l2.4 2.8l2.4-0.7l2.5 2.4l2.4-1.5l2.3 1.9l2.4-2l2.4 2.3l2.5-2.5l2.4 3.3l2.3-2.1l2.4 3.2l2.4-1.8l2.5 2.4l2.4-2.1l2.3 2.9l2.4-1.7l2.4 2.7l2.5-1.5l2.4 3l2.3-1.1l2.4 3.5l2.4-1.3l2.1 1l0.4-2.4l2.4 0.1l2.3-3.8l2.4-3.5l2.4 1.1l2.5-2.2l2.4 0.3l2.3 0.1l2.4-4.4l2.4-0.4l2.5 1.8l2.4-1.8l2.3 2.8l2.4-2l2.4 3.5l2.5-1.8l2.4 3.8l2.3-1.5l2.4 2.8l2.4-2.5l2.5 0.9l2.4 3.8l2.3 0.3l2.4-0.9l2.4 3.1l2.4-0.5l2.4 1.7l2.4 0l2.4 0.9l2.4 2.1l2.4-0.7l2.4 2.9l2.4 0.5l2.4 3.4l2.4 0.5l2.4 4.3l0.7 0.2l1.8-1.8l2.3 1.3l2.4-4.4l2.4 1.4l1.1-1.5l1.3-3.8l2.4-2.7l2.4-6.8l2.4-2.6l1.5-4.1l0.9 0.1l2.4 2.5l1.7-0.1l0.8 1l2.3 6.2l1.9 5.3l0.6 0.5l2.3-2.2l2.4 3.1l2.4-2.8l2.4 0.6l2.4-3.4l2.4 2.4l2.4 1.2l2.4 1.5l2.4 1.9l2.4-4.2l2.4-1.1l2.4 1.5l2.4-4l2.4 3.7l2.4 0.6l2.5-0.7l2.3 5.4l2.5 0l2.4 2.8l2.3-2l2.5 0.7l2.3-3.3l2.5 1.4l2.4-3.9l2.3 2.2l2.5-2.7l2.3 4l2.5-1.1l2.4 2.2l2.3-2.8l2.5 1.6l2.3-1.2l2.5 0.9l2.4-0.8l2.3 1l2.5-1.1l2.3 0.4l2.5-1l2.4 0.7l2.3-0.1l2.5 1l2.3-1.5l2.5 1.1l2.4-1.1l2.3 0.1l2.5 0.6l2.3-1.4l2.5 0.8l2.4-0.8l2.3 1.2l2.5-0.4l2.3-0.5l2.5 0.9l2.4-0l2.3-1l2.5 0.5l2.3-0.8l2.5 1l2.4-0.9l2.3 0.9l2.5-0.7l2.3 0.8l2.5-0l2.4-0.7l2.3 0.4l2.5-0.3l2.3 0.7l2.5-0.8l2.4 0.7l2.3 0.1l2.5-1l2.3 0.8l2.5-0.9l2.4 1.1l2.3-0.6l2.5 1.1l2.3-0.2l2.5 0.7l2.4-0.8l2.3 1l2.5-1l2.4 0.2l2.4-1.1l2.4 0.7l2.3-1l2.4 0.6l2.5-1.3l2.4 0.6l2.4-1.3l2.3 0.4l2.4-1l2.5 0.3l2.4-0.6l2.4 0.4l2.3-0.9l2.4 0.6l2.5-1.1l2.4 0.8l2.4-0.8l2.3 0.4l2.4-1l2.5 0.9l2.4-1.2l2.4 0.5l2.3-1.5l2.4 0.6l2.5-0.2l2.4-0.8l2.4 0.3l2.3-1.1l2.4 0.4l2.5-0.4l2.4 0.6l2.4-0.9l2.3 0.2l2.4 0.7l2.5-0.8l2.4 0.3l2.4-1.2l2.3 0.8l2.4-1.4l2.5-0.9l2.4 0.9l2.4-1.3l2.3-0.1l2.4 0.6l2.5-0.5l2.4 0.3l2.4-1.1l2.3 0.3l2.4-1.1l2.5 0.6l2.4-1l2.4 0.8l2.3-1l2.4 0.7l2.5-0.6l2.4 0.4l2.4-0.4l2.3 0.4l2.4-0.6l2.5 0l2.4-0.2l2.4 1.2l2.3-0.2l2.4 0.4l2.5-0.5l2.4 0.2l2.4-1.3l2.3 0.4l2.4-0.7l2.5 0.1l2.4 0.1l2.4 0.1l2.3-1l2.4 0.4l2.5-1.2l2.4 0.9l2.4-0.8l2.3 0.4l2.4 0.3l2.5-0.8l2.4 0l2.4-0.8l2.3-2.5l2.4-1.1l2.5-1.2l2.4-2l2.4-1.7l2.3-2.4l2.4-0.1l2.5-2.2l2.4 0.7l2.4-1.6l2.3 0.3l2.4-1.2l2.5 1.4l2.4-0.5l2.4 1.6l2.3-0.4l2.4 0.9l2.5-0.9l2.4 0.2l2.4-1.4l2.3 0.1l2.4-2.1l2.5 0.6l2.4-0.2l2.4 1.7l2.3 0l2.4 0.3l2.5-1.1l2.4 0.1l2.4-1.3l2.3 0.1l2.4-1.6l2.5 1.1l2.4 0.5l2.4 1.2l2.3-0l2.4 0.4l2.5-1.6l2.4 0.3l2.4-1.6l2.3 0.5l2.4-1.1l2.5 0.6l2.4 0.9l2.4 2.9l2.3-1.3l2.4 0.3l2.5-1.1l2.4 0.1l2.4-1.4l2.3 0.5l2.4-1.2l2.5 0.7l2.4-0.8l2.4 0.9l2.3-1.3l2.4-0l2.5 1l2.4-1l2.4 1.2l2.3-1.2l2.4 1.2l2.4-1.4l2.5-0.1l2.4-0.8l2.3 1.1l2.4-0.3l2.4 1.5l2.5-0.8l2.4 0.5l2.3-0.9l2.4 0.1l2.4-1.8l2.5-0.3l2.4 0l2.3-1.3l2.4 0.2l2.4-0.6l2.5-1.2l2.4 0.2l2.3 1l1.5 3.1l0.9-0.1l2.4-1.7l2.5-0.5l2.4-2.5l2.3 0.4l2.4-1.3l2.4 0.2l2.5-0.9l2.4 0.3l2.3-0.4l2.4 0.5l2.4-0.6l2.5 0.3l2.4-1.4l2.3 1.3l2.4-0.4l2.4 0.7l2.5 1l2.4-0.1l2.3 1.7l2.4-0.4l2.4 1.5l2.5-0.6l2.4 0.3l2.3-1.7l2.4 0.2l2.4-0.2l2.5-1.2l2.4 0.4l2.3-1.4l2.4 0.5l2.4-0.6l2.5 0.7l2.4-1.6l2.3 0.5l2.4-3.9l2.4-3.1l2.5 0.7l2.4-1.4l2.3 0.4l2.4-0.8l2.4 0.5l2.5-0.6l2.4 0.1l2.3-1l2.4 0.1l2.4-1.7l2.5 0.1l2.4-1l2.3-1l2.5 0.6l2.3-0.6l2.5 1.6l2.3-1.3l2.5 1.1l2.4-0.9l2.3-0.3l2.5-0.5l2.3 2.5l2.5-0.6l2.4 0.1l2.3-0.4l2.5 0.3l2.3 0.9l2.5-2l2.4-1.2l2.3 2.9l2.5 1.8l2.3-0l2.5 1.2l2.4-1.6l2.3 0.3l2.5-1.4l2.3 0.2l2.5 0.3l2.4 1.2l2.3 0.3l2.5-1.5l2.3 0.7l2.5-1.4l2.4 0.3l2.3 2.9l2.5 0.6l2.3 1.1l2.5-0.5l2.4 0.9l2.3-0.9l2.5 0.2l2.3-1.4l2.5 1.9l2.4-0.6l2.3-0.5l2.2-1.6l0.2-0.1l2.4 5.2l1.2 1.2l1.2-1.7l2.5-1.4l2.3-2.8l2.5-1.3l2.3 0.7l2.5 2.5l2.4-0.1l2.3-2.1l2.5 0.1l2.3-1.9l2.5 1.2l2.4-0.1l0.5 0.6" fill="none" stroke="#000000" stroke-width="2.3" stroke-linejoin="round"/>
<path d="M166.2 1765.5l2.5-0.2l2.4 2.6l2.3-0.9l0.3 1.8l2.2 12.7l0.3 1l2.1-10.6l0.4-1.9l2-0.3l0.6-1l1.8 4.8l0.7 4l1.6 1.6l2.4-1l2.4-0l2.5-0.6l2.4-4.4l2.3-1.4l2.4-3.7l2.4 1.1l2.5-5l2.4-0.5l2.3 0.8l2.4-3l2.4 0.5l2.5 0.1l2.4 2.9l2.3-2.4l2.4 3.5l2.4-1.7l2.5 2.8l2.4 0.1l2.3 4.3l0.3-1.5l2.2 8l0.3 2l2.1 0.9l2.3-2.2l2.5 3.7l2.3 4l2.4 4.6l2.4-2.9l2.4 2l2.5-2.3l2.3-1.3l2.5 1.6l2.4-2.2l2.3 1.1l2.4-2.8l2.4 0.2l2.5-2l2.4 0.7l2.3 1.3l2.4 0.8l2.4 4.2l2.5 1.3l2.4 2.2l2.3-0.2l2.4-2.7l2.4 1.1l2.5-1.7l2.4 0.5l2.3-2.4l2.4 1.2l2.4-1.4l2.5 4.7l0.9-0.8l1.4 4.7l2.3 7.8l0.1-2.3l2.4-3.6l1.2-5.3l1.2 1.2l2.5 8.3l0.1-0.8l2.2-2.8l2.4-3.6l2.4 2.3l2.4-3.3l2.5 0.8l2.4 3.2l2.3-0.3l2.4-0.4l2.4 3.4l2.5-3.6l2.4 2.5l2.3-1l2.4 3.4l2.4-0.6l2.5 2l2.4-2.7l2.3 3.9l2.4-2.8l2.4 4.1l2.5 0.1l0.9 3l1.4-3.5l2.3-7.8l0.1-0.4l2.4 0.4l2.4-4.2l2.5 1.6l2.4-2.6l2.3 1.2l2.4-1.3l2.4 1.2l2.5-1.7l2.4 2.3l2.3 0l2.4-1.6l2.4 3.3l2.5-1.1l2.4 1.2l2.3 1.1l2.4-2.7l2.4 2.8l2.5-0.7l2.4 3.5l2.3-0.2l2.4 2.7l2.4-3.2l2.4 1.6l2.4-0.3l2.4 4.9l2.4-1.7l2.4 3.4l2.4 2.8l2.4-1.7l2.4 2.6l2.4-2.3l0.5 0.3l1.9 5.3l2.4 4l0.7 2l1.8-0.4l2.3 0.1l2.4-4.2l2.4 1.3l2.4-5.4l2.4-2.6l2.4-7.2l2.4-4.3l1.5-3.5l0.9-0.9l2.4 2.8l2.4 5.1l2.4 3.7l2.4 8.4l2 2.1l0.4-1.8l2.4 0.4l2.4-5.5l2.4 1l2.4-5.3l2.4 2l2.4 2.5l2.4-3.3l2.4 2.3l2.4-0.6l2.4-2.1l2.4 0.6l2.4-3.2l2.4 1.9l2.4 4l2.2-0.4l0.2-0.7l2.4 8.9l1.2 3l1.2-0.3l2.4-0.3l2.4 2.3l2.5-3.1l2.3 1.9l2.5-5.7l2.4-0.4l2.3-3.3l2-1l0.5 1.3l2.3 2.1l2.5 3.3l2.4-3.2l2.3 3.3l2.5-2.4l2.3 3.2l2.5-0.7l2.4 2.2l2.3-1.1l2.5 0.2l2.3-1.6l2.5 0.4l2.4-1.5l2.3-0.2l2.5-0l2.3-1.5l2.5-0.3l2.4 0.6l2.3-0.9l2.5-0.9l2.3-0.4l2.5-0.7l2.4 0.4l2.3-0.2l2.5-0.9l2.3 0l2.5-0.8l2.4-0.1l2.3-0.3l2.5-0.1l2.3 0.7l2.5-0.4l2.4-0.7l2.3 0.9l2.5-0.7l2.3 0.6l2.5-1l2.4-0.1l2.3 1.2l2.5-1.1l2.3 0.8l2.5-1.1l2.4 0.7l2.3-1l2.5 0.7l2.3-0.5l2.5 1l2.4-1.1l2.3 1.4l2.5-0.8l2.3 0.7l2.5-0.9l2.4 1l2.3-1.3l2.5 0.7l2.4-1.1l2.4 0.3l2.4-1.2l2.3 0.9l2.4-1.5l2.5 0.5l2.4-1.1l2.4 1l2.3-1.1l2.4 0.3l2.5-0.5l2.4 0.1l2.4-1.4l2.3 1l2.4-1.3l2.5 1.1l2.4-1.5l2.4 0.5l2.3-0.5l2.4 0.9l2.5-1.2l2.4 0.3l2.4-1.1l2.3 0.8l2.4-1.4l2.5 0.5l2.4-1l2.4 0.5l2.3-1l2.4 0.4l2.5 0.5l2.4-0.4l2.4 0.8l2.3-1l2.4 1.1l2.5-0.6l2.4 0.3l2.4-1.4l2.3 0.8l2.4-1.1l2.5 0.3l2.4-1.1l2.4 0.2l2.3-1l2.4 0.3l2.5-0.9l2.4 0.4l2.4-0.9l2.3 0.7l2.4-1.5l2.5 0.1l2.4-1.3l2.4 0.7l2.3 0.1l2.4 0.1l2.5 1l2.4-0.2l2.4 0.9l2.3-1.2l2.4 1.2l2.5-0.4l2.4 1l2.4-1.3l2.3 0.8l2.4-1.3l2.5 1.2l2.4-0.7l2.4-0.2l2.3-1.2l2.4-0l2.5-1.2l2.4 0.6l2.4-1.2l2.3-0.1l2.4 0.1l2.5-1l2.4 1l2.4-0.8l2.3 1l2.4-0.8l2.5 0.4l2.4 2l2.4-0.5l2.3-0.1l2.4-1l2.5 0.6l2.4-1.2l2.4 0.5l2.3-0.8l2.4 0.2l2.5-0.9l2.4 0.1l2.4-0.8l2.3-0.5l2.4-2l2.5 0.4l2.4-1l2.4 0.3l2.3-0.7l2.4 0.4l2.5-1.3l2.4 0.4l2.4-1l2.3 0.5l2.4-0.9l2.5 0.3l2.4-1l2.4 0.6l2.3-0.6l2.4-0l2.5 0.5l2.4-0.2l2.4 0.3l2.3-0.8l2.4 0.8l2.5-1.1l2.4 0.6l2.4-0.9l2.3 0.2l2.4-0.5l2.5 0.3l2.4-1.5l2.4 0.7l2.3-0.7l2.4 0l2.5-1.5l2.4 0.3l2.4-1.3l2.3 0.1l2.4-0.8l2.5 0.3l2.4-1.2l2.4 0.7l2.3-0.1l2.4-1.6l2.5-0.3l2.4 0.7l2.4-1.3l2.3 0.8l2.4-0.5l2.5-1.1l2.4 1.2l2.4-0.8l2.3 0.9l2.4-1l2.4 1l2.5-1.3l2.4 1.2l2.3-0.9l2.4 0.6l2.4-0.6l2.5 0.9l2.4-1l2.3-0.4l2.4-0.3l2.4 0.7l2.5-1.3l2.4-0.2l2.3 0.7l2.4-1.3l2.4 0.3l2.5-0.4l2.4 1.2l2.3-0.5l2.4 0.1l2.4 0.7l2.5-0.6l2.4 0.7l2.3-1.2l2.4 0.9l2.4-0.7l2.5 0.5l2.4-0.9l2.3 0.3l2.4-1.1l2.4 0.8l2.5-1.4l2.4 0.4l2.3-1.2l2.4 0.9l2.4-0.6l2.5-1l2.4 0.4l2.3-1l2.4-0.1l2.4 0.7l2.5-0.7l2.4 0.1l2.3-1l2.4 1l2.4-1.3l2.5 0.7l2.4-0.7l2.3 0.3l2.4-0l2.4-0.7l2.5-1.7l2.4 0.4l2.3-1.6l2.4-1.3l2.4-3.1l2.5 1.2l2.4 0.9l2.3 1.1l2.4 0.1l2.4 0.6l2.5 1.2l2.4-0.2l2.3 1l2.4-1l2.4 1.4l2.5 0l2.4-0.5l2.3 0.7l2.5-0.8l2.3 0.8l2.5-0.3l2.3 0.7l2.5-0.2l2.4 1.2l2.3-0.4l2.5 1.3l2.3-1l2.5 0.6l2.4-1.2l2.3 0.7l2.5 0.5l2.3 0.8l2.5-1.5l2.4-0l2.3-0.8l2.5 0.7l2.3-1.6l2.5 0.2l2.4-1.5l2.3 0.9l2.5-1.6l2.3 0.4l2.5-1.4l2.4 0.1l2.3-1.3l2.5 0.3l2.3-1.1l2.5 0.3l2.4-1l2.3 1.1l2.5-0.5l2.3 0.1l2.5-0.7l2.4 0.5l2.3-0.7l2.5 1.1l2.3-1l2.5 1.2l2.4-0.8l2.3 1.5l2.2 0.3l0.2 0l2.4 6.7l1.2 2.1l1.2-2.4l2.5-2.3l2.3-1.4l2.5 0l2.3 0.7l2.5 1.6l2.4-1.3l2.3-0.7l2.5-0.2l2.3 1.4l2.5-1.2l2.4 0.1l0.5-0.5" fill="none" stroke="#ff0000" stroke-width="2.3" stroke-linejoin="round"/>
<polyline points="272.5,1757.5 273.8,1754.5 275.0,1751.2 276.2,1753.9 277.5,1757.5 278.8,1758.9 280.0,1762.5 281.7,1762.9 283.3,1761.8 285.0,1762.5 286.7,1759.4 288.3,1757.3 290.0,1755.0 291.9,1753.5 293.8,1751.2 295.6,1755.5 297.5,1757.5 299.2,1759.9 300.8,1763.7 302.5,1765.0 304.2,1768.7 305.8,1769.4 307.5,1772.5 309.2,1774.0 310.8,1776.7 312.5,1780.0 314.4,1777.1 316.2,1772.5 318.1,1777.7 320.0,1782.5 321.7,1784.3 323.3,1785.3 325.0,1785.0 326.7,1783.7 328.3,1781.8 330.0,1780.0 331.7,1777.3 333.3,1775.5 335.0,1775.0 336.7,1779.1 338.3,1782.1 340.0,1785.0 341.7,1783.1 343.3,1780.2 345.0,1777.5 346.7,1778.8 348.3,1779.5 350.0,1780.0 351.7,1781.8 353.3,1780.7 355.0,1782.5 356.7,1784.2 358.3,1785.4 360.0,1787.5 361.2,1790.8 362.5,1792.5" fill="none" stroke="#808080" stroke-width="6.0" stroke-linejoin="round" stroke-linecap="round"/>
<path d="M272.5 1762.4h0M273.4 1757.5h0M274.3 1756.3h0M275.2 1756.5h0M276.1 1751.0h0M276.9 1757.7h0M277.9 1763.1h0M278.9 1764.7h0M279.9 1763.2h0M280.9 1758.5h0M282.0 1761.4h0M283.1 1768.4h0M284.2 1757.7h0M285.7 1759.2h0M286.9 1765.0h0M288.1 1757.2h0M289.3 1752.5h0M290.4 1752.4h0M291.7 1758.2h0M293.0 1750.0h0M294.4 1751.4h0M295.5 1755.7h0M296.6 1759.7h0M297.8 1757.8h0M298.9 1754.6h0M300.1 1762.3h0M301.3 1757.6h0M302.5 1760.1h0M303.7 1763.1h0M304.9 1770.9h0M306.1 1767.7h0M307.2 1774.4h0M308.4 1769.9h0M309.6 1771.1h0M310.8 1771.7h0M312.0 1781.7h0M313.1 1783.1h0M314.1 1773.3h0M315.2 1771.5h0M316.2 1766.8h0M317.1 1776.4h0M317.9 1774.5h0M318.8 1774.8h0M319.6 1783.2h0M320.2 1783.8h0M321.5 1782.6h0M322.7 1779.7h0M324.0 1786.2h0M325.5 1785.2h0M326.8 1782.4h0M328.1 1777.8h0M329.4 1785.7h0M330.8 1783.6h0M332.1 1780.2h0M333.4 1782.6h0M334.7 1776.3h0M335.8 1774.8h0M336.9 1774.1h0M337.9 1782.1h0M338.9 1783.1h0M339.9 1784.1h0M341.1 1789.2h0M342.3 1785.6h0M343.5 1775.2h0M344.7 1782.6h0M345.7 1771.9h0M347.0 1780.3h0M348.2 1776.9h0M349.5 1782.5h0M350.7 1785.8h0M352.0 1781.4h0M353.2 1784.8h0M354.5 1776.9h0M355.9 1785.4h0M357.2 1780.1h0M358.5 1785.5h0M359.8 1785.3h0M360.9 1784.2h0M361.9 1794.4h0" fill="none" stroke="#808080" stroke-width="2.8" stroke-linecap="round"/>
<polyline points="418.8,1787.5 420.6,1787.6 422.5,1790.0 424.2,1791.6 425.8,1794.7 427.5,1797.5 429.2,1797.9 430.8,1796.6 432.5,1797.5 434.2,1796.6 435.8,1796.9 437.5,1797.5 439.2,1798.1 440.8,1796.7 442.5,1797.5 444.2,1798.5 445.8,1798.7 447.5,1798.8 449.2,1799.1 450.8,1801.3 452.5,1802.5 454.2,1802.4 455.8,1802.3 457.5,1802.5 459.2,1803.3 460.8,1800.7 462.5,1801.2 464.2,1799.7 465.8,1801.5 467.5,1800.0 469.2,1801.0 470.8,1801.8 472.5,1803.8 474.2,1804.6 475.8,1805.9 477.5,1807.5 478.8,1814.8 480.0,1820.0 481.7,1816.0 483.3,1812.7 485.0,1810.0 486.7,1808.5 488.3,1806.8 490.0,1805.0 491.7,1801.9 493.3,1797.5 495.0,1792.5 496.2,1785.9 497.5,1780.0 498.8,1781.8 500.0,1785.0 501.7,1787.5 503.3,1789.5 505.0,1790.0 506.7,1789.7 508.3,1792.2 510.0,1792.5 511.7,1794.2 513.3,1794.5 515.0,1795.0 516.7,1796.0 518.3,1799.0 520.0,1800.0 521.7,1801.4 523.3,1800.9 525.0,1802.5 526.2,1799.1 527.5,1795.0 529.2,1791.8 530.8,1788.9 532.5,1787.5 534.2,1787.1 535.8,1787.1 537.5,1787.5 539.2,1787.3 540.8,1787.9 542.5,1787.5 544.2,1790.0 545.8,1791.9 547.5,1792.5 549.2,1796.1 550.8,1798.7 552.5,1800.0 554.2,1799.9 555.8,1797.9 557.5,1797.5 559.2,1795.9 560.8,1796.1 562.5,1795.0 564.2,1793.4 565.8,1792.1 567.5,1790.0 569.2,1787.4 570.8,1785.9 572.5,1785.0 574.2,1786.8 575.8,1786.9 577.5,1787.5 579.2,1790.5 580.8,1791.5 582.5,1795.0 584.2,1796.4 585.8,1799.3 587.5,1800.0 589.2,1796.2 590.8,1792.8 592.5,1787.5 593.8,1785.5 595.0,1785.0 596.7,1786.6 598.3,1789.1 600.0,1790.0 601.7,1790.7 603.3,1792.4 605.0,1792.5 606.7,1792.2 608.3,1790.7 610.0,1791.2 611.7,1789.9 613.3,1791.6 615.0,1790.0 616.7,1788.7 618.3,1788.4 620.0,1788.8 621.7,1787.9 623.3,1788.4 625.0,1787.5 626.9,1784.6 628.8,1780.0 630.0,1785.0 631.7,1785.8 633.3,1786.7 635.0,1787.5 636.7,1788.2 638.3,1787.0 640.0,1787.5 641.7,1788.0 643.3,1789.4 645.0,1790.0 646.7,1791.2 648.3,1790.6 650.0,1792.5 651.7,1791.6 653.3,1791.6 655.0,1792.5 656.7,1793.9 658.3,1794.6 660.0,1795.0 661.7,1797.0 663.3,1797.3 665.0,1797.5 666.7,1797.3 668.3,1799.0 670.0,1798.8 671.2,1795.5 672.5,1790.0 673.8,1789.6 675.0,1790.0 676.7,1788.4 678.3,1788.9 680.0,1788.8 681.7,1787.8 683.3,1787.1 685.0,1787.5 686.7,1786.4 688.3,1786.6 690.0,1787.5 691.7,1786.7 693.3,1783.1 695.0,1782.5 696.7,1784.4 698.3,1785.1 700.0,1787.5 701.7,1785.1 703.3,1784.9 705.0,1782.5 706.2,1780.8 707.5,1780.0 708.8,1783.6 710.0,1788.8 711.7,1789.1 713.3,1790.1 715.0,1790.0 716.7,1789.6 718.3,1790.0 720.0,1788.8 721.7,1788.1 723.3,1788.0 725.0,1787.5 726.7,1788.0 728.3,1787.4 730.0,1787.5 731.9,1786.8 733.8,1785.0" fill="none" stroke="#808080" stroke-width="6.0" stroke-linejoin="round" stroke-linecap="round"/>
<path d="M418.8 1783.5h0M420.0 1790.6h0M421.3 1790.9h0M422.9 1790.4h0M424.1 1789.0h0M425.3 1797.7h0M426.5 1799.7h0M426.8 1797.6h0M427.9 1797.6h0M429.0 1794.3h0M430.1 1791.5h0M431.2 1796.0h0M432.3 1798.5h0M433.4 1792.3h0M434.5 1801.0h0M435.6 1794.3h0M436.7 1794.3h0M437.8 1792.0h0M438.9 1803.5h0M440.0 1800.4h0M441.1 1802.0h0M442.2 1798.9h0M443.3 1792.1h0M444.5 1795.9h0M445.6 1798.3h0M446.8 1794.0h0M448.2 1804.7h0M449.5 1798.7h0M450.8 1797.1h0M452.2 1806.0h0M453.2 1798.0h0M454.3 1807.6h0M455.4 1801.9h0M456.5 1803.1h0M457.6 1800.6h0M458.8 1802.0h0M460.0 1798.1h0M461.1 1796.0h0M462.3 1805.7h0M463.4 1797.8h0M464.6 1804.1h0M465.7 1796.9h0M466.9 1805.8h0M468.3 1805.3h0M469.6 1804.6h0M470.9 1805.7h0M472.2 1804.5h0M473.5 1807.3h0M474.9 1801.0h0M476.2 1806.2h0M477.5 1811.4h0M478.0 1806.4h0M478.5 1817.5h0M479.0 1819.6h0M479.5 1816.4h0M480.0 1818.3h0M481.0 1817.4h0M482.0 1814.6h0M483.1 1819.8h0M484.1 1810.5h0M484.9 1804.5h0M486.2 1803.9h0M487.5 1810.1h0M488.8 1812.1h0M490.3 1804.3h0M491.1 1802.0h0M492.0 1800.5h0M492.9 1800.7h0M493.8 1792.1h0M494.7 1794.6h0M495.3 1791.5h0M495.8 1789.8h0M496.3 1782.0h0M496.8 1779.4h0M497.3 1779.0h0M498.1 1786.4h0M499.2 1781.5h0M500.0 1786.2h0M501.3 1784.0h0M502.6 1782.9h0M503.9 1783.7h0M504.9 1793.7h0M506.1 1793.9h0M507.4 1789.7h0M508.7 1794.0h0M509.9 1794.6h0M511.2 1797.9h0M512.4 1799.2h0M513.7 1793.2h0M514.9 1800.8h0M516.2 1801.8h0M517.5 1798.6h0M518.9 1803.5h0M519.8 1799.8h0M521.1 1799.0h0M522.3 1798.1h0M523.6 1806.3h0M524.8 1798.4h0M525.7 1795.2h0M526.5 1801.7h0M527.3 1799.0h0M528.3 1793.7h0M529.4 1796.1h0M530.6 1784.9h0M531.8 1785.6h0M532.4 1785.0h0M533.5 1786.5h0M534.6 1783.5h0M535.7 1782.3h0M536.8 1785.6h0M537.9 1792.3h0M539.0 1793.3h0M540.1 1790.5h0M541.2 1787.2h0M542.3 1784.5h0M543.6 1794.2h0M545.0 1790.3h0M546.3 1794.0h0M547.7 1787.2h0M548.9 1791.2h0M550.1 1800.4h0M551.3 1801.7h0M552.5 1804.5h0M553.7 1800.6h0M554.9 1797.9h0M556.2 1799.1h0M557.4 1801.7h0M558.7 1794.6h0M560.0 1796.7h0M561.2 1793.0h0M562.5 1798.2h0M563.8 1787.8h0M565.1 1794.6h0M566.4 1796.6h0M567.7 1784.1h0M569.0 1789.6h0M570.3 1788.9h0M571.6 1790.1h0M572.6 1786.1h0M573.9 1782.8h0M575.1 1785.2h0M576.4 1792.5h0M578.0 1793.1h0M579.2 1785.6h0M580.4 1787.0h0M581.6 1788.7h0M582.6 1789.4h0M583.9 1795.8h0M585.2 1793.4h0M586.5 1803.4h0M587.9 1800.9h0M588.8 1792.3h0M589.7 1795.1h0M590.5 1790.3h0M591.4 1790.1h0M592.3 1784.6h0M593.5 1782.5h0M594.8 1781.4h0M596.1 1784.6h0M597.4 1789.9h0M598.7 1789.3h0M599.6 1784.4h0M600.9 1793.0h0M602.1 1795.5h0M603.4 1795.0h0M604.6 1795.8h0M605.8 1786.4h0M606.9 1791.6h0M608.1 1786.5h0M609.2 1794.6h0M610.4 1787.3h0M611.5 1793.4h0M612.7 1787.6h0M613.8 1792.7h0M615.0 1787.8h0M616.1 1784.2h0M617.3 1788.1h0M618.4 1786.9h0M619.6 1793.7h0M620.7 1786.1h0M621.9 1788.3h0M623.0 1788.6h0M624.2 1793.1h0M625.7 1781.4h0M626.7 1785.3h0M627.7 1782.2h0M628.7 1782.8h0M629.4 1788.0h0M630.0 1782.6h0M631.1 1788.0h0M632.4 1786.5h0M633.6 1787.5h0M634.9 1782.2h0M636.0 1791.3h0M637.1 1793.2h0M638.2 1785.8h0M639.3 1785.3h0M640.6 1793.7h0M641.8 1783.7h0M643.1 1784.0h0M644.4 1784.6h0M645.6 1794.1h0M646.9 1794.0h0M648.1 1790.9h0M649.4 1793.6h0M650.4 1786.7h0M651.5 1794.2h0M652.6 1791.8h0M653.7 1792.7h0M654.8 1791.2h0M656.1 1791.8h0M657.3 1790.4h0M658.6 1788.9h0M659.8 1794.1h0M661.1 1792.5h0M662.3 1798.6h0M663.6 1800.6h0M664.8 1800.1h0M666.0 1797.2h0M667.1 1794.9h0M668.3 1796.9h0M669.4 1798.4h0M670.5 1798.5h0M671.2 1800.1h0M671.9 1787.2h0M671.4 1789.8h0M672.5 1789.9h0M673.6 1792.6h0M674.7 1794.7h0M675.8 1793.1h0M677.0 1791.0h0M678.1 1792.3h0M679.3 1790.9h0M680.4 1792.9h0M681.6 1790.7h0M682.7 1790.3h0M683.9 1784.7h0M685.0 1792.5h0M686.1 1786.1h0M687.2 1788.9h0M688.3 1791.4h0M689.4 1793.1h0M690.9 1792.5h0M692.2 1779.4h0M693.5 1781.8h0M694.8 1780.5h0M696.1 1782.3h0M697.4 1780.6h0M698.7 1786.8h0M700.0 1782.4h0M701.3 1783.8h0M702.6 1790.2h0M703.9 1786.5h0M705.2 1781.8h0M706.6 1776.2h0M707.8 1786.6h0M708.5 1785.9h0M709.2 1782.4h0M709.9 1786.3h0M710.7 1790.6h0M711.8 1791.4h0M713.0 1786.6h0M714.1 1795.2h0M715.3 1787.8h0M716.4 1786.7h0M717.6 1793.5h0M718.7 1784.9h0M719.9 1790.9h0M721.1 1784.9h0M722.2 1789.4h0M723.4 1785.2h0M724.5 1786.2h0M725.6 1792.8h0M726.7 1787.1h0M727.8 1786.7h0M728.9 1788.9h0M730.0 1784.9h0M731.3 1782.7h0M732.6 1784.4h0" fill="none" stroke="#808080" stroke-width="2.8" stroke-linecap="round"/>
<polyline points="750.0,1778.8 751.7,1776.5 753.3,1775.6 755.0,1775.0 756.7,1775.4 758.3,1777.6 760.0,1777.5 761.7,1778.3 763.3,1779.7 765.0,1780.0 766.7,1779.9 768.3,1781.7 770.0,1782.5 771.7,1781.7 773.3,1779.2 775.0,1777.5 776.7,1779.4 778.3,1780.1 780.0,1780.0 781.7,1779.7 783.3,1778.8 785.0,1780.0 786.7,1780.2 788.3,1778.3 790.0,1778.8 791.7,1777.6 793.3,1779.3 795.0,1778.8 796.7,1779.2 798.3,1778.7 800.0,1777.5 801.7,1778.2 803.3,1776.0 805.0,1776.2 806.7,1774.8 808.3,1774.5 810.0,1775.0 811.7,1776.1 813.3,1774.1 815.0,1775.0 816.7,1773.8 818.3,1773.0 820.0,1773.8 821.7,1773.9 823.3,1775.1 825.0,1777.5 826.7,1776.3 828.3,1775.0 830.0,1775.0 831.7,1774.1 833.3,1775.2 835.0,1773.8 836.7,1772.5 838.3,1773.7 840.0,1772.5 841.7,1772.7 843.3,1771.8 845.0,1771.2 846.9,1771.1 848.8,1770.5 850.0,1770.0 851.7,1769.8 853.3,1768.5 855.0,1767.5 856.7,1766.4 858.3,1766.3 860.0,1766.2 861.7,1764.4 863.3,1763.5 865.0,1762.5 866.7,1763.3 868.3,1761.5 870.0,1761.2 871.7,1761.1 873.3,1762.9 875.0,1763.8 876.2,1767.6 877.5,1770.0 878.8,1763.6 880.0,1757.5 881.7,1758.0 883.3,1756.5 885.0,1757.5 886.7,1757.3 888.3,1759.6 890.0,1760.0 891.7,1755.6 893.3,1752.9 895.0,1750.0 896.7,1752.2 898.3,1754.3 900.0,1757.5 901.7,1755.6 903.3,1754.6 905.0,1755.0 906.7,1756.1 908.3,1755.5 910.0,1755.0" fill="none" stroke="#808080" stroke-width="6.0" stroke-linejoin="round" stroke-linecap="round"/>
<path d="M750.0 1784.2h0M751.3 1773.5h0M752.6 1771.1h0M753.9 1781.8h0M755.1 1771.2h0M756.3 1771.1h0M757.6 1778.1h0M758.8 1775.1h0M760.1 1782.2h0M761.3 1774.9h0M762.6 1784.3h0M763.8 1777.2h0M765.1 1781.3h0M766.3 1785.9h0M767.6 1783.5h0M768.8 1787.0h0M770.4 1784.6h0M771.7 1775.4h0M773.0 1784.1h0M774.3 1779.3h0M775.4 1775.4h0M776.6 1774.6h0M777.9 1783.1h0M779.1 1780.6h0M780.1 1785.3h0M781.2 1783.3h0M782.3 1785.5h0M783.4 1780.8h0M784.5 1782.4h0M785.7 1781.2h0M786.9 1776.6h0M788.0 1784.7h0M789.2 1776.7h0M790.2 1782.1h0M791.3 1784.2h0M792.4 1780.6h0M793.5 1774.5h0M794.6 1782.7h0M795.8 1780.6h0M797.0 1774.5h0M798.1 1772.6h0M799.3 1778.1h0M800.4 1771.8h0M801.6 1782.2h0M802.7 1776.9h0M803.9 1776.7h0M805.0 1775.2h0M806.2 1777.9h0M807.3 1780.7h0M808.5 1773.1h0M809.6 1773.6h0M810.7 1776.0h0M811.8 1772.6h0M812.9 1776.1h0M814.0 1775.5h0M815.2 1774.2h0M816.4 1776.7h0M817.5 1774.7h0M818.7 1769.1h0M819.8 1779.8h0M821.2 1772.9h0M822.5 1774.8h0M823.8 1775.4h0M824.9 1782.7h0M826.1 1782.4h0M827.4 1776.4h0M828.6 1774.5h0M829.9 1770.2h0M831.0 1779.5h0M832.2 1770.5h0M833.4 1774.7h0M834.5 1772.1h0M835.7 1771.5h0M836.8 1771.6h0M838.0 1769.3h0M839.1 1767.2h0M840.3 1772.9h0M841.4 1775.7h0M842.6 1773.6h0M843.7 1768.0h0M844.9 1773.6h0M846.0 1765.7h0M847.1 1769.7h0M848.3 1774.5h0M849.5 1775.2h0M850.8 1769.1h0M852.0 1773.1h0M853.3 1768.3h0M854.5 1768.0h0M855.7 1768.3h0M856.8 1772.9h0M858.0 1769.7h0M859.1 1766.1h0M860.6 1768.5h0M861.9 1766.5h0M863.2 1762.1h0M864.5 1766.3h0M865.6 1766.2h0M866.7 1763.4h0M867.9 1767.1h0M869.0 1755.7h0M870.4 1761.4h0M871.6 1763.7h0M872.9 1760.8h0M874.1 1759.4h0M875.5 1767.4h0M876.4 1766.5h0M877.3 1766.7h0M877.9 1762.5h0M878.4 1771.1h0M878.9 1761.3h0M879.4 1756.0h0M879.9 1754.7h0M880.5 1754.6h0M881.6 1761.9h0M882.7 1753.7h0M883.8 1754.8h0M884.9 1752.7h0M886.2 1757.7h0M887.4 1755.2h0M888.7 1757.5h0M889.9 1762.8h0M891.0 1763.1h0M892.0 1760.0h0M893.1 1748.3h0M894.1 1750.4h0M895.1 1754.3h0M896.2 1746.3h0M897.4 1750.1h0M898.6 1755.3h0M899.8 1755.8h0M900.9 1760.0h0M902.2 1759.0h0M903.4 1755.4h0M904.7 1752.1h0M905.7 1751.8h0M906.8 1752.2h0M907.9 1749.8h0M909.0 1757.0h0" fill="none" stroke="#808080" stroke-width="2.8" stroke-linecap="round"/>
</svg></body></html>
